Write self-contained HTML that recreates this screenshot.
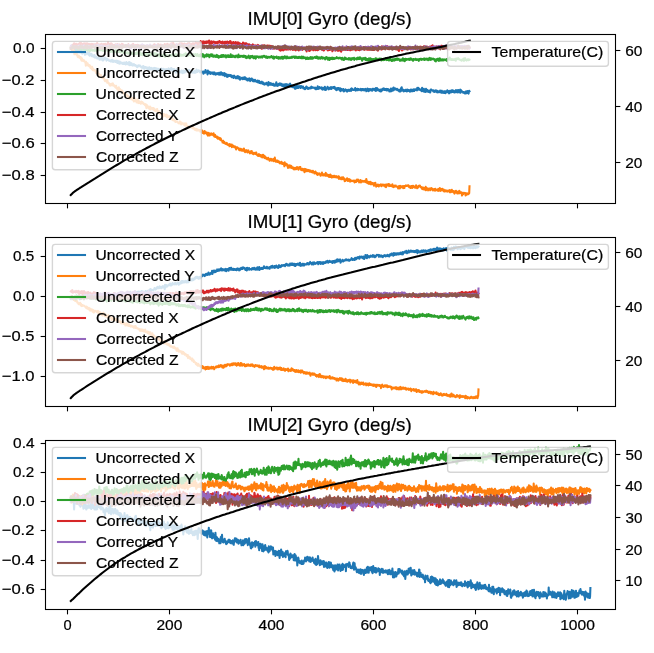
<!DOCTYPE html>
<html><head><meta charset="utf-8"><title>IMU Gyro</title>
<style>
html,body{margin:0;padding:0;background:#fff;}
body{width:654px;height:653px;overflow:hidden;}
svg{display:block;will-change:transform;}
text{font-family:"Liberation Sans",sans-serif;fill:#000;stroke:#000;stroke-width:0.22px;}
.t{font-size:14.72px;}
.h{font-size:17.66px;}
.ln{fill:none;stroke-width:2.08;stroke-linejoin:round;stroke-linecap:square;}
.fr{fill:none;stroke:#000;stroke-width:1.1;stroke-linecap:square;}
.tk{stroke:#000;stroke-width:1.1;}
.lg{fill:#fff;fill-opacity:0.8;stroke:#ccc;stroke-opacity:0.8;stroke-width:1.39;}
</style></head><body>
<svg width="654" height="653" viewBox="0 0 654 653">
<rect x="0" y="0" width="654" height="653" fill="#fff"/>
<g>
<clipPath id="c0"><rect x="45.5" y="34.5" width="570.0" height="169.0"/></clipPath>
<text class="h" x="247.47" y="24.50" textLength="164.25" lengthAdjust="spacingAndGlyphs">IMU[0] Gyro (deg/s)</text>
<g clip-path="url(#c0)">
<path class="ln" stroke="#1f77b4" d="M70.8 48.7l.3-1.2 .3 .7 .3 .3 .3-.8 .3 1 .3 0 .3-1.2 .3 2 .3-.4 .3-.5 .3 .6 .3 .7 .3-.4 .3 .4 .3-.6 .3 1.6 .3-.2 .3 0 .3-1 .3 2.3 .3-1.2 .3-.4 .3 2 .3-1.3 .3-.8 .3 .8 .3-1.4 .3 2.5 .3-1.2 .3-.1 .3 1.6 .3-1.9 .3 1.4 .3-2 .3 1.4 .3-.4 .3 2.3 .3 .4 .3-1.5 .3 .9 .3-.6 .3 .5 .3-.9 .3-.6 .3 0 .3 1.7 .3 1.5 .3-1.6 .3-.5 .3 1.9 .3-1.5 .3 0 .3 .2 .3-.2 .3-.4 .3-.5 .3 1.7 .3-.1 .3 1.1 .3-1.2 .3-1 .3 1.3 .3 1.9 .3-1.6 .3-.1 .3-.4 .3 0 .3 .6 .3-.4 .3 2.2 .3-1.1 .3 0 .3 1.4 .3 0 .3-.9 .3 .8 .3 .6 .3-.5 .3-1.3 .3 2.4 .3 .2 .3-.1 .3-1.1 .3 .6 .3-.5 .3 .2 .3 1.3 .3 .3 .3-.4 .3 .1 .3 .2 .3-.5 .3 .4 .3-.6 .3 .8 .3 1.4 .3-1.2 .3-.8 .3-.1 .3 .3 .3 1.5 .3-.3 .3-1.5 .3 1.4 .3-.4 .3 1.7 .3-.9 .3 .9 .3-1.7 .3-.4 .3 .3 .3 .7 .3-.2 .3-1.5 .3 1.2 .3 .2 .3-.2 .3-.2 .3 2 .3-1.5 .3-.3 .3 1.1 .3-.4 .3-.1 .3 .6 .3 .1 .3 .1 .3 .7 .3-.1 .3-.3 .3 .4 .3 0 .3 .5 .3-.5 .3-.7 .3 1.3 .3-1.2 .3-.4 .3 1.8 .3-.6 .3 .9 .3-1.1 .3-.3 .3 .1 .3 .6 .3 .2 .3-.3 .3 .7 .3-.9 .3 .9 .3-1.4 .3 1.2 .3 .4 .3 .5 .3 .4 .3-2.3 .3 1.8 .3 .4 .3 .2 .3-1.5 .3 1 .3 1.2 .3-2.3 .3 1.5 .3 .4 .3-1.2 .3 1.1 .3-.7 .3 .1 .3 .1 .3 .7 .3-.4 .3 .9 .3-1.2 .3 .4 .3 .8 .3-.4 .3-1.1 .3 1.4 .3-.6 .3 .5 .3 .1 .3 .6 .3-1.2 .3-1.3 .3 .6 .3 1.2 .3-.6 .3 1.1 .3-.8 .3-.7 .3 1.2 .3-1.2 .3-.6 .3 2.9 .3-2.8 .3 2.3 .3 .3 .3-.6 .3-1.4 .3 2.2 .3-1.8 .3 .3 .3 .6 .3 1.1 .3-.3 .3 .6 .3-1 .3 .1 .3-.7 .3 .5 .3 .7 .3-.4 .3 .9 .3-.7 .3 0 .3 .5 .3 0 .3 .9 .3-.3 .3 1.2 .3-1.6 .3 .1 .3-.3 .3 .3 .3 .6 .3-1.1 .3 .2 .3 .8 .3-.6 .3-.1 .3 .9 .3-.1 .3 .3 .3 .6 .3 .3 .3-.9 .3 .1 .3 .8 .3-.6 .3-1 .3 2.4 .3-.9 .3 .8 .3-1.6 .3 2 .3-1.3 .3 .4 .3-.8 .3 .6 .3-.2 .3-.1 .3 .6 .3 .4 .3 .8 .3-1.1 .3-.4 .3 .9 .3 .7 .3 .2 .3-.1 .3-1.9 .3 1.8 .3 .4 .3-1.3 .3-.3 .3 .3 .3-.4 .3 .9 .3-.4 .3 1.2 .3-.6 .3-.8 .3 .9 .3 .3 .3-.5 .3 .3 .3-1.3 .3 2.5 .3-1.3 .3-1.1 .3 .2 .3 1.4 .3 .5 .3-1 .3 .3 .3-1 .3 .3 .3 1.9 .3-.5 .3-.4 .3 .8 .3-1.7 .3 .3 .3 .8 .3 .7 .3-1.3 .3 1.3 .3-1.6 .3 1.1 .3-.4 .3-1.1 .3 1.6 .3 .2 .3-.6 .3-.1 .3 1 .3-1.9 .3 .1 .3 .5 .3-.2 .3 2 .3-1 .3-.7 .3 .1 .3 2.4 .3-2.8 .3-.1 .3 .9 .3 .2 .3 0 .3-.8 .3-.3 .3 1.2 .3-.3 .3-1.6 .3 1.8 .3-.4 .3-.5 .3 .1 .3 .4 .3-.6 .3-.9 .3 1.3 .3-1.5 .3 1.6 .3-1.3 .3 1.1 .3 .1 .3 1.6 .3-2 .3-.2 .3 .6 .3-.6 .3 .6 .3 1.1 .3 .5 .3 .7 .3-1.7 .3 2.5 .3-.3 .3-1.8 .3-1.4 .3 2 .3 .3 .3-1.5 .3 1.7 .3-.3 .3-.5 .3 1.2 .3 .3 .3-.9 .3 .4 .3-.4 .3 .1 .3 .4 .3 .5 .3-.9 .3-1 .3 2 .3-1.6 .3 1.4 .3 .7 .3-1.6 .3-.8 .3-.2 .3 2.2 .3-.9 .3 .3 .3 .3 .3-.8 .3-.2 .3-.5 .3-1.5 .3 .9 .3 1 .3-.5 .3 1 .3-.6 .3 .1 .3 .4 .3-1.3 .3 .4 .3-.8 .3 2.1 .3-.6 .3 .3 .3 .8 .3 0 .3-.9 .3 .8 .3-2 .3 1.5 .3-.1 .3-1 .3 1.7 .3-1.4 .3 1 .3-.7 .3 1 .3 .3 .3-1.4 .3-.5 .3 1 .3 .8 .3-1 .3-.1 .3 .7 .3-2.8 .3 1.9 .3-.8 .3 1.3 .3-1 .3-.3 .3 .5 .3-.8 .3 1 .3-.7 .3 .4 .3 .1 .3 1.3 .3-.7 .3 .4 .3 0 .3-.9 .3 1 .3 .1 .3 0 .3-.5 .3 0 .3 .8 .3 1.2 .3-2.2 .3 1.2 .3-.9 .3 .8 .3-.2 .3 .2 .3-2.7 .3 1.8 .3-.2 .3 .5 .3-.2 .3 .1 .3 1.3 .3 1.1 .3-3.8 .3 2 .3 .4 .3-.2 .3-.3 .3-.7 .3 .4 .3 1.4 .3 .4 .3-.9 .3-.9 .3 .6 .3-.1 .3 .8 .3 .1 .3-.8 .3 .7 .3-1.1 .3 1.5 .3 .3 .3-1.7 .3 1.2 .3-1.2 .3 1.7 .3 .1 .3-.5 .3 .9 .3-1.3 .3-.1 .3-.1 .3 .6 .3-.3 .3 .4 .3-.7 .3 1 .3 .3 .3-.8 .3-.8 .3 1.7 .3 0 .3-1.1 .3-1 .3 1.2 .3 1.1 .3-2.4 .3 1.6 .3-.4 .3-.6 .3 1.5 .3-1.3 .3 1.3 .3 .8 .3-.8 .3-.7 .3-.8 .3 .6 .3-.3 .3 2.8 .3-1.4 .3-.4 .3-.3 .3 .9 .3 .4 .3-.8 .3 2.5 .3-1.6 .3-.2 .3 .6 .3 .6 .3-.2 .3-1.5 .3 .6 .3 .2 .3 .5 .3-.2 .3-.8 .3 0 .3 1.4 .3-1 .3 1.8 .3-.8 .3-.5 .3 .5 .3 .2 .3 .6 .3 .8 .3-2.1 .3-.4 .3 1.6 .3-.2 .3 0 .3 .7 .3 0 .3 .6 .3-1.6 .3 .7 .3-.5 .3 0 .3 1.5 .3-.1 .3-2.2 .3 .8 .3 1.2 .3 .6 .3-1.2 .3 .4 .3-.9 .3 2.8 .3-1.4 .3 .1 .3 .1 .3 .1 .3-.1 .3-.7 .3 .9 .3-.5 .3 1.1 .3-1.6 .3-.1 .3 .9 .3 .5 .3-1 .3-.7 .3 .3 .3-.2 .3 1.9 .3-.7 .3 .9 .3-.6 .3-.5 .3 1.5 .3 .4 .3-.8 .3-.2 .3 1.1 .3-1.6 .3 .9 .3-1.1 .3-.2 .3 1.5 .3-.2 .3 1.4 .3-1.6 .3 .2 .3-.6 .3-.6 .3 .1 .3 1.5 .3-1.2 .3 1.9 .3 .4 .3-1.4 .3 1.4 .3-.5 .3 .6 .3-1.1 .3 1.1 .3-1.5 .3 1.2 .3-.5 .3 .5 .3 .6 .3 0 .3-.2 .3 .6 .3 .2 .3-1.7 .3 1.7 .3 .2 .3-1.2 .3 1 .3-1.3 .3 2 .3-1.2 .3 .4 .3 1 .3-.7 .3 .9 .3-1.2 .3 .3 .3-.7 .3 1 .3 1.1 .3-.2 .3 .2 .3-1.2 .3 .4 .3 .8 .3 .8 .3-.2 .3-.5 .3 .3 .3-.7 .3-.1 .3 .9 .3-1.6 .3 .6 .3 1.2 .3-.9 .3 .5 .3-.7 .3 2.1 .3-3.4 .3 .9 .3-.1 .3 1.9 .3-.9 .3-.4 .3-.4 .3 1.7 .3-.1 .3-.6 .3-.6 .3 .3 .3 1.1 .3 0 .3 0 .3-.2 .3-1 .3 1.7 .3-.5 .3 .8 .3 0 .3-1.1 .3-.3 .3 1.3 .3-.8 .3-.7 .3-1.9 .3 2.4 .3 .9 .3 .4 .3-1.2 .3-.3 .3 .3 .3 .8 .3-1.6 .3 .5 .3-.3 .3 .7 .3-1.5 .3 1.5 .3-.5 .3 .3 .3 .7 .3 .3 .3-1.9 .3 2.1 .3-.5 .3-.3 .3 1.3 .3-.7 .3 .6 .3-1.6 .3-.3 .3 1.5 .3 1 .3-1.4 .3 .3 .3-1.1 .3-.5 .3 .9 .3 1.3 .3-2.1 .3 1.1 .3-.8 .3 1.3 .3 .6 .3-1.5 .3 .6 .3 1.3 .3-1.2 .3-1.3 .3-.1 .3-.6 .3 2.1 .3-.9 .3 1.8 .3 0 .3-.9 .3 .2 .3 1.2 .3-.4 .3 .1 .3-1.5 .3 2 .3-1 .3-.9 .3 1.5 .3 .6 .3 1.3 .3-1.8 .3-.7 .3 2.4 .3-1.8 .3-.7 .3-.7 .3 .5 .3 2 .3-1.6 .3-.1 .3 0 .3 1.6 .3-1.6 .3 .7 .3-.4 .3 .2 .3-.8 .3 1.4 .3 .6 .3-1 .3-.7 .3-.2 .3 1.4 .3-.4 .3 .2 .3 .2 .3-1 .3 1.8 .3-.1 .3-.2 .3 .1 .3 1 .3-.7 .3-.6 .3 1.3 .3-1.6 .3-.4 .3-.6 .3 1.3 .3-.8 .3 .5 .3 .9 .3-.1 .3 .7 .3-.5 .3-.6 .3-.1 .3 .1 .3 .6 .3-.5 .3-.3 .3 .6 .3-.4 .3-.5 .3-.7 .3 1.4 .3-.4 .3-.1 .3-.3 .3-.1 .3 .5 .3 .1 .3-.1 .3 .2 .3-.1 .3 .7 .3-.2 .3-.7 .3 1.1 .3 .6 .3-.1 .3-.9 .3-.1 .3-.5 .3 1.3 .3-2.6 .3 1.6 .3 .1 .3 .8 .3-.5 .3-.9 .3-.5 .3 .7 .3 .5 .3 .1 .3-.2 .3-.2 .3 .4 .3 .5 .3-1.4 .3 .8 .3 1.4 .3-.8 .3-.5 .3 .8 .3-1.4 .3 .5 .3 1.3 .3 .2 .3-2.8 .3 2.1 .3 1 .3-1.7 .3 .6 .3 .7 .3-1.6 .3 .6 .3-.2 .3-1.6 .3 1.5 .3-.5 .3 .8 .3 .7 .3-1.1 .3-.4 .3 .8 .3-.3 .3 .6 .3-1.5 .3 .4 .3-.7 .3 1.8 .3-.8 .3-.4 .3-.1 .3-.1 .3-.4 .3 .5 .3-.5 .3 1.2 .3-.7 .3-.7 .3 .3 .3 1.7 .3-.2 .3 .1 .3 .3 .3 1.1 .3-1.8 .3 .5 .3-.9 .3 1.8 .3-1.1 .3-.2 .3-.5 .3 1 .3-.3 .3-.3 .3 1.7 .3-1.7 .3-.1 .3 2.8 .3-2.1 .3-.1 .3 .1 .3 .7 .3 .8 .3-.2 .3-.1 .3-.4 .3-.8 .3 1.4 .3 1.1 .3-.2 .3-1.4 .3 1 .3-.8 .3 .3 .3-1 .3 .7 .3 .4 .3-.5 .3 .8 .3 .8 .3-.2 .3-1.1 .3-.4 .3 0 .3-.1 .3 .7 .3 .4 .3-.4 .3-.2 .3-.2 .3-.5 .3-.6 .3 1.9 .3-.8 .3-1.7 .3 .2 .3 .2 .3 .4 .3 .7 .3-.3 .3 0 .3 .4 .3 .1 .3-.6 .3-.1 .3-.2 .3-1.1 .3 1 .3 1.5 .3-1.4 .3-.2 .3 1.3 .3-.8 .3-.7 .3 1.5 .3-.5 .3 .3 .3-1.1 .3 .7 .3-.2 .3-.1 .3 .4 .3 .3 .3-.4 .3 .3 .3-1.1 .3 1.5 .3 0 .3-.8 .3-.4 .3 .6 .3-.6 .3 1 .3-.3 .3-.7 .3 .7 .3 .4 .3-.2 .3-.1 .3-1 .3-.1 .3 .2 .3 .7 .3 1.4 .3-.8 .3 .3 .3 .1 .3-2.3 .3 .9 .3 .2 .3 1.5 .3 .1 .3-2.1 .3 .5 .3 .6 .3-.9 .3-.1 .3-.2 .3 1.3 .3-1 .3 1.2 .3-.8 .3 .5 .3 .5 .3-1.9 .3 0 .3 1 .3-.9 .3 .5 .3 .4 .3 .3 .3-1.2 .3 .7 .3 .7 .3 .6 .3-2.8 .3 2.7 .3-.3 .3-1.7 .3-.6 .3 1.4 .3-.5 .3 .6 .3 .8 .3-1 .3 .5 .3-.1 .3 .4 .3 .8 .3-.2 .3-1.1 .3-.3 .3 2 .3-1 .3-.4 .3-.9 .3 1.2 .3-1.3 .3 .1 .3-.7 .3 .5 .3 .6 .3-1.2 .3 .9 .3 .7 .3-1 .3 .1 .3 .4 .3-.5 .3 1.3 .3-1.4 .3 1.4 .3 .3 .3-1.5 .3 .9 .3-.3 .3-.6 .3 .6 .3 .3 .3 .9 .3 .5 .3-1.7 .3 .5 .3 .5 .3 .6 .3-2.8 .3 2.5 .3-1.2 .3 1.3 .3-1.9 .3-.5 .3 .8 .3 .9 .3-.8 .3-2.1 .3 2.6 .3-1.5 .3 .6 .3-.4 .3-.4 .3 .7 .3 .1 .3 .2 .3 .3 .3-.1 .3-.9 .3 .9 .3 .6 .3-.3 .3-.4 .3 .7 .3 .3 .3 .6 .3 .2 .3-1.6 .3 .1 .3 1.3 .3 .3 .3-.2 .3-3.1 .3 1.5 .3-2.4 .3 3.2 .3-.9 .3 .2 .3 .1 .3 1.1 .3-1 .3 1.5 .3-.4 .3-.1 .3 .1 .3-.2 .3-1 .3 1.2 .3 .1 .3-.8 .3 .8 .3 .2 .3-1.7 .3 .9 .3-.3 .3-.4 .3 1.1 .3-.9 .3 .3 .3 .1 .3 .2 .3-.3 .3 1.4 .3-1.8 .3 .9 .3-1.2 .3 1 .3 .6 .3-.1 .3-1.3 .3 0 .3 1.4 .3-.8 .3 .5 .3-1.5 .3 1.6 .3-.1 .3-.8 .3-.9 .3 .5 .3 .1 .3 .2 .3-.6 .3-.3 .3 .2 .3 1.1 .3-2.6 .3 .4 .3 0 .3 .6 .3-.9 .3 1.7 .3-.2 .3 .3 .3-.5 .3 .7 .3 0 .3 .1 .3-.5 .3 1.2 .3-1.4 .3 1.9 .3-3.4 .3 2 .3-.5 .3 1.4 .3-1.6 .3 2.3 .3-2.6 .3 2.8 .3-1.2 .3-.1 .3 .1 .3 1.5 .3-1.1 .3-2 .3 2.7 .3-.6 .3-1.1 .3 1.8 .3-1.6 .3 1.3 .3 .1 .3-.5 .3 1 .3-1.1 .3 .8 .3-.9 .3 0 .3 1.8 .3-1.8 .3-1.2 .3 .5 .3-.4 .3 .7 .3 0 .3 .1 .3 .1 .3-.2 .3 .9 .3 .4 .3-1.2 .3 .4 .3 .2 .3 .9 .3-.1 .3-1.2 .3 .6 .3-1 .3 .4 .3 .7 .3 .6 .3 .4 .3-.7 .3-.7 .3 1.2 .3-.4 .3 .4 .3-.5 .3 .2 .3 .2 .3 .2 .3-1.6 .3 1.1 .3-1 .3 .2 .3 1.8 .3-.9 .3-1 .3 1.9 .3-.3 .3 .3 .3-.7 .3 0 .3-.4 .3-.3 .3 1.7 .3-1.6 .3-.1 .3 0 .3 1.8 .3-.7 .3-1.2 .3 .4 .3 .6 .3 0 .3-1.9 .3 1.8 .3-.9 .3-.2 .3 .3 .3 1.3 .3 .7 .3-1.4 .3 .3 .3-1.4 .3 1.3 .3 .3 .3-1.7 .3 .8 .3 .8 .3-1.9 .3 .9 .3 .7 .3-1.7 .3 .8 .3 .7 .3 .4 .3-1.5 .3 1.7 .3-.8 .3 .8 .3 0 .3-.6 .3 .1 .3-1.8 .3 .4 .3 .2 .3 .6 .3 1.1 .3-2.2 .3 1 .3-.8 .3-.3 .3 2 .3-1 .3 1.2 .3-.3 .3-1.8 .3-.5 .3 3.1 .3-1.8 .3-.7 .3 1.3 .3 0 .3-.3 .3 .4 .3 .2 .3 .2 .3 .6 .3-.5 .3-.1 .3 .8 .3-.3 .3 .8 .3-1.2 .3 .3 .3-.9 .3 1.9 .3-2.1 .3 1.3 .3-1.2 .3 .9 .3 .4 .3-1.8 .3 1.5 .3-1.3 .3 2.4 .3-1.7 .3-1.1 .3 .6"/>
<path class="ln" stroke="#ff7f0e" d="M70.8 47.6l.3 1.4 .3 .5 .3 .5 .3-.5 .3 .9 .3-.4 .3 1.3 .3 .5 .3-.4 .3-1.8 .3 1.9 .3 2.8 .3-1.6 .3-.3 .3 .8 .3 1 .3-.4 .3 .2 .3-.6 .3 1.4 .3-.4 .3 1.3 .3 1.1 .3 .4 .3-1 .3 0 .3-.5 .3 1.8 .3 .1 .3 .4 .3 .2 .3-1 .3-.1 .3 2.5 .3-1.3 .3 2.4 .3-2.5 .3 1 .3 .4 .3 1 .3 .2 .3-.6 .3 1.1 .3-1.1 .3 1.1 .3-.1 .3 .6 .3 .3 .3 1 .3 2.6 .3-3.8 .3 1.1 .3 .9 .3 0 .3 1.2 .3-1.8 .3 2 .3-.9 .3 1.4 .3-.1 .3 .5 .3-.4 .3-.7 .3 .7 .3 1.8 .3-.4 .3 1.1 .3-1.6 .3 1.7 .3 .5 .3-2.2 .3 1.8 .3 1.5 .3-1.4 .3 1.7 .3-.6 .3 .8 .3-.8 .3 0 .3 .4 .3 .3 .3 .4 .3 .2 .3 1.9 .3-1.3 .3-.2 .3 .7 .3 1.1 .3-1.5 .3 2.3 .3 .6 .3 .6 .3-1.2 .3-.2 .3 1.3 .3 .2 .3 .9 .3-.5 .3-.4 .3-.4 .3 1.2 .3 .5 .3 1.2 .3-.6 .3 .7 .3 .3 .3-1.2 .3-.1 .3 .8 .3 .7 .3-.2 .3 1.7 .3 .6 .3 .7 .3-.5 .3-.6 .3 1 .3-1.1 .3 1.4 .3-.3 .3 1.5 .3-2.5 .3 2.7 .3 .1 .3-.3 .3 .3 .3 .2 .3 1 .3 .8 .3-1 .3 1.8 .3-1.4 .3 .9 .3 0 .3-1.5 .3 1.5 .3-1.1 .3 1.3 .3-1.5 .3-.5 .3 .8 .3 1.1 .3 .4 .3 .2 .3-.5 .3 1.2 .3-.7 .3 .5 .3 1 .3-.8 .3-.8 .3 2.4 .3-.2 .3-.2 .3 1.5 .3-1.4 .3 .9 .3-.2 .3 2 .3-3.3 .3 1.6 .3 .5 .3 .8 .3-1.2 .3 .5 .3 1.5 .3-1 .3 .6 .3 .1 .3 .7 .3-.9 .3 .9 .3 .5 .3 .6 .3 1 .3-.3 .3 .3 .3-.4 .3 1.3 .3-.8 .3 .8 .3-.7 .3 .6 .3 1.8 .3-.6 .3-.9 .3 1.5 .3-.3 .3-.3 .3 1.1 .3-.2 .3 .5 .3 .8 .3-.9 .3 1.7 .3-1.1 .3-.2 .3 1.4 .3-.6 .3 0 .3 .6 .3 .5 .3-1.1 .3 1.4 .3-.6 .3-.8 .3 .5 .3 1.5 .3-1.4 .3 2.9 .3-2.4 .3 1.1 .3-2.1 .3 2.3 .3-.6 .3 1.1 .3 .1 .3-.6 .3 2 .3-.7 .3-1.1 .3 .9 .3-2.2 .3 2.1 .3 1.7 .3-1.3 .3 .4 .3-1 .3 1.7 .3-.8 .3 0 .3 1.1 .3 .5 .3-.5 .3-1.7 .3 1.9 .3-.2 .3-.8 .3-.2 .3 1.1 .3 0 .3 .5 .3-.5 .3 .8 .3 .2 .3 .1 .3 .7 .3-.2 .3-.7 .3 1.3 .3 1.1 .3 1.5 .3-3.4 .3 1.6 .3-.3 .3 .9 .3-.7 .3 1 .3 .9 .3-.9 .3 .6 .3 1.3 .3-.7 .3-1.8 .3 2.9 .3-2 .3 .7 .3-.5 .3 .1 .3 .2 .3 1 .3-1 .3 0 .3 .9 .3 .5 .3-1.4 .3 1.9 .3-1.2 .3 1.2 .3 .9 .3-.3 .3 .4 .3-.7 .3 .1 .3-1.1 .3 1.4 .3-.3 .3-1.2 .3 2.4 .3 1.4 .3-.6 .3 .7 .3-1.2 .3-.6 .3 1.2 .3 .1 .3-.4 .3 1.8 .3-.2 .3-.6 .3 .7 .3 .4 .3 .5 .3 .9 .3-1.7 .3 0 .3 2 .3 .7 .3-2.2 .3 .1 .3-.4 .3 .8 .3 .2 .3-.2 .3 1 .3-1.2 .3 .2 .3-.3 .3 2.2 .3 .1 .3 .4 .3-1.9 .3 1.8 .3-.6 .3 .5 .3 .1 .3-.6 .3 .5 .3-.9 .3 1.1 .3 .2 .3-1 .3 .9 .3 1.6 .3-1.2 .3-.2 .3 .3 .3 .8 .3 1.4 .3-1 .3 .4 .3-.6 .3 1.4 .3 .4 .3-.5 .3 .2 .3-.2 .3 1.1 .3 .7 .3-.6 .3 .4 .3 0 .3-.3 .3-.1 .3 .3 .3 .6 .3-.1 .3 .8 .3-.2 .3 .6 .3-.3 .3-.7 .3 .3 .3-1.3 .3 2.3 .3-1.5 .3 .5 .3 1.7 .3-1.9 .3 .5 .3 .3 .3-.1 .3 .2 .3 .3 .3 .5 .3-.6 .3 1 .3-.8 .3 1.1 .3 .5 .3-2 .3 1.2 .3 .9 .3-1.4 .3-.6 .3 2.7 .3-.6 .3 1.1 .3-.5 .3 .3 .3 0 .3 .5 .3-.7 .3 .5 .3 .8 .3-.7 .3 .3 .3-.4 .3-.2 .3-.6 .3 1.2 .3-.9 .3 1.1 .3-1.1 .3 1.7 .3 .3 .3-.5 .3-.6 .3 1.4 .3 0 .3-.4 .3 .2 .3 1.4 .3-.7 .3-.2 .3 1.2 .3-.6 .3-.6 .3 1.5 .3-.9 .3 1.1 .3-1.4 .3 .4 .3 .8 .3-.1 .3-.3 .3 0 .3 .6 .3-.4 .3 .4 .3-.4 .3 1.6 .3-1.8 .3 1.6 .3-1.2 .3 .8 .3 1.1 .3-1.7 .3 2.3 .3-1.5 .3 .4 .3 .9 .3-.8 .3 1.8 .3-.4 .3-2.3 .3 .7 .3 .3 .3 1 .3-.8 .3 .2 .3 1.3 .3-1.1 .3 1.4 .3-1.2 .3 2.4 .3 .4 .3-1.9 .3-.8 .3 .2 .3 2.1 .3-1.1 .3 1.4 .3-1.8 .3-.1 .3 .2 .3 .9 .3-1 .3-.3 .3 .9 .3 .1 .3 .4 .3-.1 .3-.1 .3 .6 .3-1.9 .3 2.2 .3 1 .3-.4 .3-.8 .3-.5 .3 2.2 .3-1.1 .3 .3 .3 .7 .3-.3 .3 .5 .3 1 .3-1.3 .3 1.8 .3-1 .3-.1 .3 .8 .3 .2 .3 .4 .3 0 .3-1 .3 1.9 .3-1.1 .3-.1 .3 1.7 .3 .2 .3 0 .3 0 .3 .5 .3 1.5 .3-1 .3-.7 .3 .9 .3 1.2 .3-.6 .3-.3 .3 1.3 .3 .1 .3-.2 .3 .7 .3-.4 .3 0 .3 .1 .3-.7 .3 1.6 .3 .2 .3-.4 .3 .6 .3-.4 .3-.2 .3 0 .3 .1 .3 1.9 .3-2.3 .3 1.1 .3 .9 .3-1 .3 .1 .3-.1 .3-.5 .3 2.6 .3-1.2 .3-.7 .3 .7 .3 .7 .3-.4 .3-.3 .3 1.2 .3-.7 .3 .5 .3 .5 .3-.9 .3 .8 .3-.3 .3 2.5 .3-2.1 .3 .9 .3-.9 .3-.1 .3 .6 .3 .1 .3 0 .3 .3 .3 .9 .3 .8 .3 .2 .3-1.5 .3 1.6 .3-.2 .3-1.3 .3 0 .3 .2 .3 1.6 .3-1.2 .3 .1 .3 1.3 .3-1.3 .3 .4 .3 .7 .3-.1 .3-1.9 .3 .9 .3 1.8 .3-1.4 .3 2.3 .3-.9 .3 .1 .3 .3 .3-1.4 .3 .9 .3-.8 .3 1 .3 1.1 .3-1.3 .3 .4 .3-1.2 .3 1.3 .3 0 .3 .3 .3 .8 .3 .6 .3-1.2 .3 .2 .3-1.2 .3 1.7 .3-.6 .3-1.2 .3 1.7 .3-.5 .3 1.5 .3-.2 .3-.3 .3 1 .3-1.4 .3 .3 .3 .1 .3 .4 .3-.9 .3 1 .3 .1 .3-.7 .3-.7 .3 2 .3 .3 .3 0 .3-.1 .3 .9 .3-.9 .3 1.3 .3-1.7 .3-.2 .3 .6 .3-.1 .3 .6 .3 1 .3-1.1 .3 .5 .3 1 .3 .1 .3-1.2 .3-.3 .3 2.2 .3-2 .3-.7 .3 0 .3 2.5 .3-1.8 .3 1.1 .3 .4 .3 1.2 .3-1.8 .3 1.1 .3 .2 .3 .8 .3-.9 .3 .7 .3-.1 .3 1 .3-.1 .3-.4 .3 .9 .3-1.7 .3 1.4 .3-.6 .3 .4 .3 1 .3 .8 .3-1.4 .3-.4 .3-.2 .3 .8 .3-.7 .3 1.1 .3 .7 .3-.6 .3-.7 .3 1.1 .3-1 .3-.4 .3 1.8 .3 .3 .3-.5 .3-1.1 .3-2 .3 2.1 .3 1.1 .3-.7 .3 1.6 .3-1.2 .3 .7 .3 .3 .3 .3 .3-1.2 .3 1.2 .3 .3 .3-.3 .3-.5 .3 .9 .3-.5 .3 1.2 .3 .4 .3-.4 .3 .3 .3-.4 .3 .4 .3-1.5 .3 1.7 .3 .4 .3-.8 .3 1 .3-1.1 .3 1 .3 .1 .3 .5 .3-.2 .3 2 .3-4 .3 1.5 .3 .6 .3 .5 .3-.5 .3 0 .3-.6 .3 .6 .3 .5 .3 1.5 .3-1.3 .3 2.8 .3-1 .3-.7 .3 .8 .3 .2 .3-1.6 .3-.3 .3 2.3 .3-1.7 .3 1.6 .3 .1 .3-1.7 .3 2 .3-.4 .3 .6 .3-.9 .3 .5 .3 .3 .3-.4 .3 1.7 .3-.5 .3 .6 .3-.8 .3 .6 .3-1.4 .3 .4 .3 1.1 .3-.7 .3-.2 .3 .5 .3-1.8 .3 1.4 .3 0 .3-.4 .3-.6 .3 2.2 .3-1 .3-1.2 .3 .4 .3-.9 .3 0 .3 .1 .3 1.2 .3 1.3 .3 .3 .3-.8 .3 1.1 .3 0 .3-1.4 .3 .6 .3 .9 .3-.1 .3 .4 .3-1.4 .3-.3 .3 3.3 .3-1.6 .3 .7 .3-1.1 .3-1.1 .3 2.1 .3-.8 .3 .7 .3-.4 .3-.8 .3 .5 .3 .7 .3-1.2 .3 .8 .3 .4 .3-1.1 .3 .8 .3 .6 .3 .3 .3-.6 .3-.6 .3 1.2 .3-.7 .3 .9 .3 .1 .3-.4 .3 .9 .3-.1 .3-1.6 .3 1.4 .3 .1 .3 0 .3-.1 .3 1.2 .3-1 .3-.3 .3-.6 .3 1.2 .3 .6 .3-.8 .3 .6 .3 .7 .3 .7 .3-1.3 .3 1.7 .3-.6 .3 .1 .3-.5 .3-.2 .3-.4 .3 .8 .3 .1 .3 .1 .3 1.1 .3 .3 .3-1.2 .3 .3 .3-1.3 .3-1 .3 1.4 .3 .2 .3 .8 .3 .6 .3-1.3 .3 .9 .3 0 .3-.8 .3 .7 .3-.3 .3 1 .3-1.9 .3-.9 .3 2.2 .3 .5 .3 0 .3-1 .3 .8 .3-.7 .3 1.3 .3-.8 .3 0 .3 1.6 .3-1.7 .3-.1 .3 1.9 .3-.5 .3-1.9 .3 2.5 .3-1.6 .3 .5 .3-.2 .3 1.8 .3-1.4 .3 .9 .3-.5 .3 .7 .3-1.3 .3 1.1 .3-.6 .3-.6 .3 .7 .3 .7 .3-.2 .3-.5 .3 .7 .3-1.1 .3 1.1 .3 .2 .3-.4 .3-.3 .3 .2 .3-.3 .3 .6 .3 1.1 .3-2 .3 2.6 .3-.6 .3-.1 .3-.8 .3 .7 .3-.3 .3 1.3 .3 0 .3 .2 .3-.3 .3-1.7 .3 .8 .3 .3 .3 .8 .3-1.8 .3 1.1 .3-.1 .3-.1 .3 .7 .3 2.1 .3-1.9 .3 1.8 .3-.9 .3-.6 .3 .8 .3-.4 .3 0 .3-1.6 .3 1.9 .3-.7 .3 1.5 .3-.7 .3-.6 .3-.7 .3 .8 .3-.2 .3-.1 .3 2.2 .3-1.8 .3 .9 .3 .4 .3-.5 .3 .1 .3-.1 .3 .3 .3-.1 .3 0 .3 .2 .3-.2 .3-.2 .3-.1 .3 .8 .3 1 .3-1.6 .3 .3 .3-.5 .3 .4 .3 1 .3-1.1 .3 .5 .3-1.8 .3 1.3 .3 .1 .3-.6 .3-.8 .3 1.5 .3-.1 .3 1.4 .3-1.7 .3 .4 .3-.4 .3 .7 .3-1.3 .3 2.3 .3-.3 .3-.7 .3-.2 .3 .5 .3-.1 .3-.7 .3 .3 .3 .4 .3-.5 .3 .2 .3 .1 .3 .2 .3-.7 .3 .2 .3 .7 .3 .4 .3-.8 .3-2.4 .3 1.6 .3 1.4 .3 1.1 .3-.2 .3-1.2 .3 .1 .3 .2 .3 1.8 .3-.9 .3-.8 .3 1.4 .3 .3 .3-2 .3 1.1 .3 1.4 .3-.2 .3-1.6 .3 1 .3 .7 .3-.1 .3-1 .3 .9 .3 .4 .3-.1 .3-1.1 .3 2.6 .3-1.5 .3-1.2 .3 1 .3-1.4 .3 1.5 .3 .3 .3 2.1 .3-1.4 .3 .1 .3 .5 .3-.8 .3-.5 .3 1.4 .3-.3 .3 .8 .3 0 .3-1.5 .3 .2 .3-.1 .3-.2 .3 .5 .3-.2 .3-.7 .3 1.7 .3 .1 .3-.9 .3-.7 .3 .4 .3-.1 .3-.4 .3 .2 .3 1 .3-.1 .3 .1 .3-1 .3 1 .3 1 .3-1.5 .3-.6 .3 2.5 .3-1.9 .3-.6 .3 .9 .3-1.1 .3 .2 .3 .9 .3-.9 .3-.6 .3 1.5 .3 .6 .3-1.8 .3 .6 .3 .8 .3-.2 .3 .5 .3-.6 .3-.1 .3 .1 .3 .3 .3 .7 .3-2 .3 .7 .3 1.4 .3 .6 .3-.8 .3 .6 .3-.7 .3-.6 .3 1 .3-.3 .3-.3 .3-.5 .3 1 .3-.1 .3 0 .3 .2 .3 0 .3 .3 .3 .1 .3 1.4 .3-.1 .3-1.1 .3-1.1 .3 1.4 .3-.7 .3 1.6 .3-2.5 .3 .1 .3 1.5 .3-.6 .3 .3 .3-.2 .3-.8 .3 1.1 .3-1.1 .3 .1 .3 1.9 .3-1.8 .3 .6 .3-.9 .3 1.9 .3-1.8 .3-.1 .3 0 .3-.3 .3-.4 .3 .6 .3-.1 .3 0 .3-.4 .3 0 .3 .3 .3 .3 .3-.9 .3 .8 .3-.1 .3 1.3 .3-.1 .3-.2 .3 .6 .3-1.1 .3 1.6 .3-1.4 .3-.5 .3 .6 .3-.7 .3 1.9 .3-1 .3-1.2 .3 0 .3 .4 .3 .2 .3 .7 .3 .4 .3 .1 .3-.2 .3-1 .3 1.5 .3-.1 .3-2.3 .3 1.1 .3 .5 .3-.4 .3 1.7 .3-.5 .3 0 .3-1.3 .3-.6 .3 .5 .3-.2 .3 0 .3-.7 .3 .3 .3 .9 .3 .5 .3-.2 .3 .1 .3 .6 .3 .4 .3 .7 .3-1.3 .3 .7 .3-.8 .3 1.9 .3 0 .3 .2 .3-.7 .3-.3 .3-.8 .3 1.3 .3 .8 .3-3 .3 3.5 .3-1.9 .3 .8 .3-1.1 .3 .4 .3 .7 .3-.5 .3 1.7 .3-1.4 .3 .5 .3-1 .3 .2 .3-.2 .3 .9 .3 .9 .3-1.1 .3-1 .3 .3 .3-.4 .3 1.4 .3-.2 .3-.7 .3 .8 .3 1.1 .3-.5 .3-.6 .3 .7 .3-.3 .3-.7 .3 .5 .3 1.2 .3-2 .3 1.5 .3-.9 .3 .3 .3 .4 .3-.1 .3-.3 .3 .2 .3 .8 .3-.3 .3-1.5 .3 1.4 .3 .5 .3-.5 .3-.8 .3-1.4 .3 1.8 .3 .4 .3 .5 .3-1.7 .3 .8 .3-.5 .3 .4 .3-1.1 .3 .8 .3 .1 .3 .2 .3 1.3 .3-1.5 .3 .5 .3 1.3 .3-1.1 .3 1.2 .3-.5 .3-.6 .3-.1 .3 .8 .3-.1 .3 0 .3-.4 .3 1 .3-.9 .3 .1 .3 .5 .3-.8 .3 .7 .3 .1 .3-1 .3-.2 .3 2.2 .3-1.3 .3-.2 .3-.4 .3 1.7 .3-1.4 .3-.9 .3 1.7 .3-.8 .3 1.1 .3-.8 .3 1.2 .3-.2 .3-.6 .3 1.4 .3 .8 .3-2.3 .3 1.1 .3-.8 .3 .2 .3-1 .3 .2 .3 1.8 .3-1 .3-.1 .3 1.8 .3-.4 .3-.4 .3-1.2 .3 1 .3 1 .3-2.7 .3 .5 .3 .6 .3 1.1 .3-.5 .3 .1 .3-.2 .3 0 .3 1 .3 2.1 .3-2.2 .3 .8 .3-1.3 .3 1.5 .3-1.2 .3 0 .3-.3 .3 .2 .3 .3 .3-.2 .3-.1 .3 2.4 .3-1 .3 .4 .3-.3 .3-1.1 .3 1 .3-1 .3 .2 .3 .6 .3 0 .3-.2 .3-.5 .3-.4 .3-6.8"/>
<path class="ln" stroke="#2ca02c" d="M70.8 47.5l.3-.3 .3 .5 .3 .2 .3 0 .3-.2 .3 .1 .3-2 .3 1.2 .3 0 .3-.6 .3 .8 .3-.1 .3-.4 .3-.1 .3 1.2 .3 .2 .3 .3 .3-.3 .3-.4 .3-.8 .3 .6 .3 .2 .3 1.6 .3-1.4 .3-.2 .3 .3 .3 1 .3-.9 .3 .8 .3-.6 .3 .9 .3-1.5 .3 .5 .3 .9 .3-.4 .3-.6 .3 1.4 .3-1.8 .3 .5 .3 1.4 .3 .3 .3-.9 .3-.9 .3 .2 .3 .2 .3 .7 .3 .8 .3-.2 .3 .2 .3-.8 .3 .7 .3 .2 .3 .1 .3-.5 .3-.4 .3 1.1 .3 .2 .3-1 .3 .4 .3 .4 .3 .2 .3 .5 .3-.8 .3 .8 .3-1.5 .3-.5 .3 .9 .3 .5 .3-1.1 .3 .7 .3 .1 .3-.2 .3 .3 .3 .5 .3-1 .3 0 .3 .6 .3 .3 .3-.7 .3 1 .3-.5 .3-.7 .3 .1 .3-.3 .3 1 .3-.4 .3 1.2 .3-2.8 .3 .8 .3 .2 .3 .4 .3-.5 .3 0 .3 .6 .3-.5 .3 .3 .3 .5 .3 0 .3-1.5 .3 .6 .3 .7 .3-.4 .3-.3 .3 .9 .3-.2 .3 .3 .3 .4 .3-.9 .3 .8 .3-.4 .3 .1 .3 .6 .3-1.7 .3-.1 .3 .2 .3 1.3 .3-.5 .3-.5 .3-.2 .3-.4 .3 1.1 .3-.1 .3 .3 .3 .4 .3-.3 .3 .6 .3-1 .3 1.1 .3-.5 .3-.5 .3 .5 .3 1.2 .3-2 .3 .6 .3-.1 .3 .2 .3 .1 .3 1.2 .3-1.1 .3 .6 .3-.5 .3-.4 .3 .6 .3 0 .3 .4 .3 .2 .3-1.1 .3 1.1 .3-1.1 .3 1.5 .3-2 .3 .6 .3 .5 .3-.4 .3-.4 .3 1 .3-.8 .3 1.3 .3-1.5 .3 1.4 .3 .1 .3-.1 .3 .3 .3-.7 .3 .3 .3 .6 .3-1.2 .3 .7 .3-.1 .3 .2 .3 .1 .3-1.4 .3 1.5 .3 .3 .3 .5 .3-.3 .3-1.1 .3 0 .3-.4 .3 .4 .3 0 .3 1.1 .3-.2 .3 .3 .3-.2 .3 .2 .3 .5 .3-.8 .3 .8 .3 .3 .3-.7 .3 .2 .3-.5 .3 1.4 .3-.7 .3 .3 .3-.7 .3-.3 .3 .5 .3 1 .3 .2 .3-.4 .3-.5 .3 .1 .3 .6 .3-1.4 .3 1.3 .3-.9 .3 .6 .3 .3 .3-.2 .3-.1 .3 .7 .3-1 .3 .1 .3-.3 .3 .7 .3 .3 .3-.6 .3-1.2 .3 1.2 .3 .1 .3-.8 .3 .5 .3 0 .3-.3 .3 .5 .3-.1 .3-.8 .3-.7 .3 1.1 .3 1.6 .3 0 .3-.9 .3-.3 .3 1.6 .3-.6 .3 .3 .3 .4 .3-.9 .3-.2 .3-.3 .3 .6 .3-.7 .3 1.2 .3-.9 .3 1.1 .3-1.1 .3 .9 .3-.7 .3 .9 .3-1.1 .3 1.2 .3-.4 .3-1.5 .3 .4 .3 1 .3-.1 .3 1.3 .3-1.7 .3 .4 .3-.1 .3 0 .3 .9 .3-1 .3-.8 .3 1.7 .3-.5 .3-1.2 .3 .3 .3 .2 .3 .2 .3 .4 .3-.7 .3-.3 .3-.2 .3 .6 .3 .2 .3 .4 .3-1.5 .3 1 .3 .8 .3 .7 .3-.3 .3-1.8 .3 .2 .3 1.5 .3-.4 .3 .1 .3 1.1 .3-1.7 .3 1.5 .3-.5 .3-.4 .3-.8 .3 .5 .3 1.8 .3-1.1 .3 .4 .3-.2 .3-.4 .3 .6 .3-.3 .3-.1 .3 0 .3-.2 .3 .6 .3-.4 .3 .6 .3-.6 .3-.5 .3-.6 .3 1.8 .3 1 .3-1.5 .3-1.3 .3 1.7 .3-.9 .3 1 .3-.4 .3 .2 .3-.2 .3-.2 .3 .8 .3-.5 .3 .7 .3-1.1 .3 .4 .3-.8 .3 1.1 .3-.9 .3-.1 .3 1.1 .3-.4 .3-.5 .3-.6 .3 .5 .3 .2 .3 .3 .3-.9 .3 .6 .3-1.4 .3 1.2 .3-.3 .3 1 .3-.9 .3 1.5 .3-1.1 .3 0 .3-1.4 .3 .7 .3 1.3 .3-1.2 .3 1 .3-1 .3 .9 .3-1 .3 .8 .3 .1 .3 0 .3-1 .3-.3 .3 1.4 .3-.3 .3 .4 .3-1.3 .3 1.3 .3-.5 .3-.4 .3 .2 .3 .7 .3-.6 .3 .2 .3-.1 .3-.5 .3 .9 .3-.5 .3-.8 .3 .1 .3 .3 .3 .1 .3 .5 .3-2.1 .3 2 .3 .4 .3-.9 .3 .8 .3-1.2 .3 .3 .3 0 .3 1.2 .3-.4 .3-.2 .3-1.3 .3 .7 .3-.7 .3 1 .3 .2 .3 .3 .3-.8 .3 .2 .3-.3 .3-.5 .3 1.7 .3-.7 .3 .7 .3-.4 .3-1.2 .3 .3 .3 .7 .3 0 .3-.1 .3-.5 .3 .4 .3-.9 .3 .6 .3-.3 .3 1.4 .3-.2 .3 .4 .3-.5 .3-1.4 .3 1 .3 .6 .3 0 .3 .5 .3 .1 .3-1 .3 .7 .3-1.2 .3 1.5 .3-1.9 .3 1.6 .3-1.7 .3 1.6 .3 .7 .3-1 .3 .6 .3 .2 .3-2.3 .3 .8 .3 1.1 .3-.7 .3 .2 .3 1.9 .3-.6 .3-.7 .3-.7 .3 .6 .3-.1 .3-.4 .3 1 .3-2.2 .3 2.1 .3-1.3 .3 1 .3-.9 .3-.4 .3 .2 .3 .6 .3 .1 .3 1.7 .3-1 .3-.9 .3-.9 .3 .8 .3 .3 .3-1.4 .3 1.2 .3 .7 .3-1 .3-.6 .3 1.5 .3 .6 .3-.9 .3 .3 .3 .7 .3-.5 .3-.7 .3 .1 .3 .5 .3 0 .3 .7 .3-1.3 .3 1 .3-.4 .3-1.2 .3 2.1 .3-.4 .3-.9 .3 .1 .3 1.6 .3 .3 .3-1.1 .3-.2 .3 .6 .3-.9 .3-.2 .3 1 .3-1.4 .3 1.4 .3-.6 .3 .7 .3-1.9 .3 1.7 .3-.9 .3 .4 .3-1.1 .3-.1 .3 1.5 .3-.3 .3 .2 .3 .2 .3-.1 .3-1.3 .3 .6 .3 .1 .3 1.5 .3-.4 .3-1.3 .3-.5 .3 1.3 .3-.2 .3 .4 .3-1.6 .3 1.7 .3-.7 .3 .6 .3-.6 .3-.4 .3-.2 .3 1.4 .3-2.7 .3 2.6 .3-.1 .3-.9 .3 1 .3-.7 .3-.8 .3 .7 .3 .8 .3-.5 .3-.6 .3 .8 .3 0 .3 .3 .3-.4 .3 .8 .3-1.3 .3 .2 .3-.7 .3 .8 .3 .1 .3 0 .3-.6 .3 1.5 .3-1.7 .3 .3 .3-1.3 .3 2.5 .3-.1 .3-.4 .3 .3 .3-.9 .3 .1 .3-.2 .3 .7 .3-.4 .3 .3 .3-.8 .3 0 .3 1.1 .3-.1 .3 .2 .3-.7 .3 .7 .3-1.3 .3 .2 .3 1 .3-.6 .3-.1 .3 .1 .3 1.6 .3-1.4 .3 .4 .3-.3 .3 1.6 .3-1.4 .3 .5 .3-.1 .3-.4 .3-.4 .3-.7 .3 1.5 .3 1.1 .3-.9 .3 1 .3-.8 .3-.3 .3-1.1 .3 .3 .3 .1 .3 .7 .3-1.2 .3-.2 .3 .9 .3 .1 .3 .3 .3 1 .3-1.5 .3 1.5 .3-.6 .3-.3 .3-1 .3 2.1 .3 .4 .3-.8 .3 0 .3-.8 .3-.9 .3 .9 .3-.5 .3-.1 .3 .1 .3 0 .3 .6 .3 .5 .3-.9 .3 .4 .3-.6 .3 .2 .3 .5 .3-.7 .3 .7 .3-.5 .3-.4 .3 0 .3 1.2 .3-.8 .3-.3 .3 .2 .3-.8 .3 .4 .3 0 .3-.5 .3 1 .3 .2 .3 .1 .3-.2 .3 .6 .3-1.2 .3 1.4 .3-.2 .3-.4 .3 .9 .3-1.2 .3 .8 .3-.3 .3-.5 .3 .2 .3 .5 .3 0 .3 .1 .3-.9 .3 .5 .3 0 .3-.4 .3 .4 .3-1.2 .3 .6 .3 .6 .3-.1 .3 .7 .3-.6 .3 1.3 .3-1.9 .3 2.1 .3-1.6 .3-.1 .3 .1 .3-.1 .3 .2 .3-.1 .3 .6 .3 .1 .3-1.3 .3 1.5 .3-.7 .3 .1 .3 .8 .3-.4 .3 .9 .3-1.6 .3 1.3 .3-1.1 .3 .9 .3-.7 .3 1.1 .3-.7 .3 .2 .3-1 .3-.2 .3 .9 .3 .7 .3-.7 .3-1 .3 2 .3-1.4 .3 1 .3-1.1 .3-.1 .3 .7 .3-1.6 .3 1 .3 .4 .3-.1 .3-.9 .3 1.7 .3-.5 .3 0 .3-1.3 .3 .8 .3 .5 .3 .2 .3-.2 .3-.4 .3-.1 .3 .4 .3 .3 .3-.7 .3 0 .3 .5 .3-.4 .3 .1 .3-.1 .3-.7 .3 1.1 .3-.4 .3-.7 .3-.1 .3 .2 .3 0 .3-.3 .3 .7 .3-.2 .3-.5 .3 1.4 .3-.8 .3 .4 .3-1 .3 .2 .3 0 .3 1 .3 .2 .3-.6 .3-.1 .3 .5 .3-.8 .3 .3 .3 .7 .3-1.3 .3 .9 .3-.3 .3 .2 .3-.2 .3 .7 .3 .1 .3-.2 .3-1.4 .3 1 .3 .8 .3-1.4 .3-.1 .3 .8 .3 .5 .3-1.3 .3 1.1 .3-.4 .3 .2 .3 .4 .3-.4 .3-.1 .3 .6 .3 .9 .3-.8 .3 .1 .3-.9 .3 .4 .3-.3 .3 1.4 .3 0 .3-.6 .3 .1 .3-.6 .3-.1 .3 .9 .3-1.2 .3 .9 .3 .2 .3-1.6 .3 .2 .3 1.6 .3-.6 .3 .3 .3 .2 .3-1.5 .3 1.3 .3-.3 .3-.1 .3-.3 .3-.3 .3-.2 .3-.3 .3 .4 .3 0 .3 .5 .3-.6 .3-.6 .3 1.3 .3-1.4 .3 1.1 .3 .6 .3-1.3 .3 .3 .3 .7 .3 .7 .3-.8 .3-.1 .3 .5 .3-1.1 .3 0 .3 1.4 .3 0 .3-.3 .3-.2 .3 .1 .3-1.3 .3 .6 .3 .4 .3 .7 .3-.3 .3 0 .3-.6 .3 .5 .3 .1 .3 .3 .3-.5 .3 1.3 .3-1.9 .3 1.3 .3-1.4 .3-.3 .3 1.3 .3-.8 .3 0 .3 .6 .3 1.4 .3-1.8 .3 .3 .3 1.2 .3-1 .3 1.7 .3-2.1 .3 .5 .3 .9 .3-.7 .3 0 .3-.9 .3 .7 .3 .6 .3-.8 .3-.5 .3 1.4 .3-.4 .3 .1 .3-.5 .3-.4 .3 1.1 .3-.6 .3-.2 .3 0 .3 0 .3 .3 .3-.6 .3-.2 .3-.5 .3 .6 .3-.1 .3 .4 .3-.2 .3-.2 .3 .3 .3 .5 .3-.4 .3-.1 .3-.1 .3-.2 .3 .5 .3 .2 .3-.3 .3 .1 .3 .6 .3 .5 .3 .4 .3-1.8 .3 1.3 .3-.7 .3 .7 .3 .3 .3 .5 .3-1.4 .3 1 .3-2 .3 1.5 .3-1.3 .3 .9 .3-.2 .3-.1 .3 .7 .3-.2 .3-.1 .3 .1 .3-.1 .3 .5 .3-.5 .3-.4 .3-.3 .3 1.3 .3-.3 .3 .1 .3-.8 .3 1.1 .3-.5 .3 1 .3-1.8 .3 .7 .3 .5 .3-1.1 .3 0 .3-.2 .3 .2 .3 .4 .3-.2 .3-.7 .3 2.1 .3-1.6 .3 .9 .3-.7 .3 .2 .3 0 .3 0 .3 0 .3 .8 .3-1.5 .3-.3 .3 0 .3-.1 .3 1.4 .3-1.3 .3 .2 .3 1.2 .3-.4 .3 .2 .3-1.6 .3 .8 .3-.2 .3 .8 .3 0 .3 .3 .3 .5 .3 1.3 .3-2.5 .3 .7 .3 .1 .3-.5 .3-.5 .3 .8 .3 .3 .3 0 .3-.7 .3-.8 .3 .7 .3 1.6 .3-.2 .3-1.2 .3 .8 .3 .9 .3 0 .3-1.2 .3 .5 .3-.1 .3-.8 .3 1.8 .3-2.2 .3 1.2 .3 .6 .3-.5 .3 .3 .3-1.6 .3 1.5 .3 .2 .3-.1 .3-.8 .3 .7 .3-.4 .3 1.2 .3-1.5 .3 .3 .3-.1 .3-.2 .3 1.2 .3-.1 .3-.7 .3-.5 .3 0 .3-.8 .3 1 .3 .3 .3-.3 .3-.6 .3 1.2 .3-.2 .3-.2 .3 .9 .3-1.1 .3 .8 .3-1.1 .3 .3 .3-.6 .3 .8 .3-.6 .3 .3 .3 0 .3-.4 .3 1.7 .3-.7 .3-.7 .3 .6 .3-.2 .3-.3 .3 1.2 .3-.6 .3 0 .3-.2 .3 .1 .3 .3 .3-.6 .3 0 .3-.1 .3-1.1 .3 .8 .3 .9 .3 .3 .3-.9 .3-.5 .3 1.2 .3-1 .3-.1 .3-.2 .3-.3 .3 2.2 .3-.9 .3-1.7 .3 1.4 .3-.4 .3 1.4 .3-.8 .3 .1 .3 .9 .3 .5 .3-1.5 .3 .5 .3-.7 .3 1.3 .3-.5 .3-.2 .3-.6 .3 1.3 .3-1 .3 .7 .3 0 .3-1.4 .3 .6 .3 .4 .3-1 .3 .6 .3 .2 .3-1.3 .3 .8 .3 .6 .3-.3 .3-.1 .3-.6 .3 1 .3 .2 .3 0 .3 .8 .3-.7 .3-.4 .3 .9 .3-.5 .3 .1 .3 .2 .3-1.1 .3-.2 .3 1.4 .3-2.3 .3 1 .3 1.4 .3-1.4 .3 .7 .3-.9 .3 2.2 .3-1.5 .3 .5 .3-1.4 .3 1.3 .3-.1 .3-.9 .3 .6 .3-.4 .3 .2 .3-.5 .3 .2 .3-.4 .3 .8 .3-.4 .3-.4 .3 1.2 .3-1 .3-.2 .3-.4 .3 1.2 .3-.4 .3-.6 .3 .5 .3 .5 .3-.2 .3 .8 .3-.3 .3 .9 .3-1.7 .3 .4 .3-.1 .3-.1 .3 .1 .3-.2 .3 .7 .3-1.2 .3 .8 .3 .3 .3 .2 .3-.6 .3 .2 .3-.1 .3 .3 .3-.5 .3 .5 .3 .4 .3 .6 .3-1.7 .3 .7 .3-.4 .3 0 .3-.6 .3 .5 .3 .4 .3-.4 .3-.4 .3 1 .3-.6 .3-.3 .3 .2 .3-.1 .3-.3 .3 .7 .3-.3 .3-.7 .3 1.5 .3-.8 .3-.6 .3 .8 .3-.4 .3 .6 .3-.8 .3 .4 .3-.7 .3 .5 .3 .8 .3-.6 .3 1.1 .3-1.4 .3 .6 .3-1.2 .3 1.4 .3-.7 .3-1.1 .3 1.2 .3-.3 .3 1.2 .3-.5 .3-1.1 .3 .9 .3-.1 .3-.5 .3 .1 .3 .3 .3-.4 .3 .6 .3-.3 .3 .4 .3 0 .3-.2 .3 1.7 .3-.7 .3 .2 .3 1 .3-1.4 .3-.5 .3-.5 .3 .1 .3 1.1 .3-1.1 .3-.4 .3 1.1 .3 .1 .3 1 .3-1.8 .3 1.3 .3-2.1 .3 2.1 .3-.6 .3-.7 .3 1.3 .3-.6 .3 .3 .3-.2 .3 .6 .3-.3 .3-.9 .3 .1 .3 .1 .3 .9 .3-.2 .3-.2 .3-.3 .3-.3 .3 .4 .3 .2 .3 0 .3 .4 .3 0 .3-1.3 .3 1.8 .3-.9 .3-.6 .3-.1 .3 .2 .3-.6 .3-.5 .3 .6 .3-.1 .3-1.3 .3 2.2 .3-1.4 .3 1.4 .3-.2 .3-.4 .3 .8 .3-1 .3 0 .3 .8 .3 .1 .3-.5 .3-.1 .3 0 .3 .5 .3-.2 .3 .3 .3-.6 .3-.5 .3 .8 .3 1.2 .3-.8 .3-1.5 .3 1.1 .3-.6 .3-.1 .3-.1 .3-.1 .3-.5 .3 1.1 .3-.7 .3 .4 .3 0 .3 .7 .3-.2 .3 .3 .3-.1 .3 .4 .3-.1 .3 .7 .3-.6 .3-.6 .3 .6 .3 .1 .3-.7 .3 0 .3-.9 .3 2.2 .3-.9 .3 .7 .3-2 .3-.4 .3 1.7 .3-.6 .3 .6 .3-.4 .3 1.1 .3-.9 .3-.1 .3 .4 .3-.8 .3 .1 .3 .9 .3-.8 .3 .4 .3 .2 .3-.2"/>
<path class="ln" stroke="#d62728" d="M70.8 48.7l.3-1.3 .3-1.5 .3 .8 .3-1.3 .3 .4 .3-.2 .3-.8 .3-.4 .3 .4 .3 1.2 .3-2.8 .3 2.3 .3-2 .3 .8 .3-.1 .3 1.2 .3-.9 .3-.8 .3 .4 .3 .9 .3 .7 .3-.5 .3-.6 .3-.1 .3 1.1 .3-1.7 .3 0 .3 .8 .3 .8 .3-2.4 .3 2.1 .3 .2 .3-.7 .3-1.6 .3 1 .3 .4 .3 .2 .3-1 .3 .6 .3 .9 .3-.9 .3-.1 .3-.2 .3-.7 .3 .8 .3 .2 .3 .9 .3-1 .3-.7 .3 .8 .3-.6 .3 1.2 .3-.8 .3-.8 .3 1.5 .3-.6 .3 .4 .3 .1 .3 .4 .3-1.4 .3 1.4 .3-.5 .3 0 .3-.2 .3-.2 .3 .4 .3-.1 .3 .6 .3 .5 .3-1.7 .3 2.4 .3-.6 .3-1.6 .3 .7 .3 .3 .3 .9 .3-1.6 .3 2 .3-2.2 .3 .4 .3-.1 .3-.3 .3 .2 .3 .1 .3 .1 .3-.1 .3-.1 .3-1.5 .3 1.7 .3 1.9 .3-.3 .3-.4 .3-1.2 .3 .5 .3-.6 .3 .1 .3 .5 .3 .5 .3-1 .3-.1 .3 .3 .3-1.1 .3 1.6 .3 .1 .3 .4 .3-.4 .3-1.1 .3 .3 .3-.5 .3 1 .3 1.4 .3-2.5 .3 1.1 .3 .3 .3-1.7 .3 2.5 .3-2 .3 .3 .3 .1 .3 .5 .3-.2 .3-.9 .3-.4 .3-1.4 .3 1.2 .3 1.4 .3-1.4 .3 1.2 .3 .2 .3-.3 .3-.5 .3 0 .3 .5 .3-1.3 .3 2.1 .3-1.7 .3 .6 .3 .2 .3 .3 .3 .5 .3 .7 .3-.5 .3 1.3 .3-1.6 .3 .7 .3 0 .3-.5 .3 .6 .3-1.5 .3 1.6 .3-.5 .3-.6 .3-.2 .3 .7 .3-1.3 .3 1.7 .3 .1 .3 1.4 .3-2 .3 1.2 .3-.6 .3-1.5 .3 .3 .3 .6 .3 1.4 .3 .4 .3-1.5 .3 .6 .3-.3 .3-2.1 .3 2.7 .3 .3 .3-2.7 .3 .9 .3 .8 .3 0 .3 .6 .3 .1 .3-1.3 .3 1 .3-.9 .3 .5 .3 .3 .3 .3 .3-.9 .3 1.8 .3-1.5 .3-.1 .3 .7 .3-1.1 .3 .9 .3-2.1 .3 .6 .3 1 .3 0 .3-.1 .3-.1 .3 1.1 .3 .6 .3-1.4 .3 .9 .3-.5 .3-1.4 .3-.1 .3 1.2 .3 .4 .3-1.5 .3-.9 .3 2.4 .3 .2 .3-.8 .3 1 .3 .8 .3-2.4 .3 .3 .3 0 .3 1 .3-1.3 .3 .3 .3 .8 .3 .1 .3 0 .3-1.5 .3 1.2 .3-.7 .3 1.2 .3-.3 .3 .2 .3-.8 .3 .3 .3 .4 .3-.4 .3 .5 .3-.7 .3-.2 .3-.2 .3 1.2 .3 .6 .3-.3 .3-1.8 .3 1.6 .3 0 .3-.1 .3 .5 .3 .1 .3 .5 .3-.3 .3 .4 .3-.9 .3-.6 .3 1.3 .3-2 .3 1.7 .3-1.4 .3 .2 .3 1.3 .3-1.5 .3 1.4 .3-.5 .3-.6 .3 .8 .3-.2 .3-.3 .3-.8 .3 1 .3-.7 .3 .3 .3 .2 .3-.6 .3 .1 .3 0 .3 0 .3-.1 .3 .9 .3-1 .3 .2 .3-.8 .3-.8 .3 2 .3-.1 .3 .7 .3-2.1 .3 .4 .3-.1 .3 1.9 .3-1 .3-.9 .3 0 .3 .3 .3-1.2 .3 1.1 .3-1 .3 1.1 .3 .4 .3-.3 .3-.6 .3 .3 .3 .9 .3-.9 .3-.7 .3 .4 .3-.2 .3 .3 .3 .3 .3-.2 .3 .2 .3 .9 .3-.3 .3 .1 .3-.8 .3-.2 .3 .5 .3-1.4 .3 .4 .3 1.3 .3-.8 .3-.3 .3-.4 .3 1.1 .3-1.1 .3 1.7 .3-.6 .3-1.5 .3 1.2 .3-.4 .3 .9 .3-.1 .3-.9 .3 0 .3 .6 .3-.6 .3 1.3 .3-1.5 .3 .9 .3-2 .3 2.1 .3-.9 .3 .4 .3 .9 .3-1 .3-2 .3 .5 .3 1.8 .3-.5 .3-.1 .3 1.4 .3-1 .3 .9 .3 0 .3-1 .3 .6 .3-1.2 .3 1.4 .3-.6 .3 1.1 .3-.6 .3-.6 .3-.3 .3 .1 .3 0 .3 .4 .3 .2 .3-1.8 .3-.1 .3 1.3 .3-1.1 .3 .8 .3-1.1 .3 1 .3-.4 .3-.2 .3-.1 .3 .8 .3 .2 .3-.2 .3-.7 .3 0 .3-.1 .3 .1 .3 .3 .3 .2 .3 .1 .3 .5 .3 .4 .3-1 .3 0 .3 .7 .3-.4 .3-.7 .3-.4 .3 1.3 .3-1.3 .3 .9 .3-1.1 .3 2.2 .3-2.1 .3 2.2 .3-.5 .3 .5 .3 0 .3-.5 .3-.9 .3 2.1 .3-2.3 .3 .4 .3-.9 .3 .9 .3 .2 .3-1.1 .3 .7 .3-.3 .3-.1 .3 .5 .3 .3 .3-1.2 .3-.7 .3 1.5 .3-1 .3 .5 .3-.4 .3 1.1 .3 .8 .3-2.1 .3 2.2 .3-1.5 .3-.5 .3 .8 .3 .7 .3-1.8 .3 .2 .3 1.6 .3-.8 .3-2.8 .3 2.1 .3-.5 .3 .2 .3 .2 .3-.5 .3-.1 .3 1.5 .3-2.7 .3 1.3 .3 .2 .3-1.1 .3 .1 .3-.1 .3 1.5 .3-1.4 .3 1.2 .3-1.3 .3 .2 .3 1.1 .3 .1 .3-1.8 .3 .3 .3 .9 .3-.6 .3-.1 .3 0 .3 .9 .3-2.2 .3 3.3 .3-.3 .3 0 .3-1.2 .3-.5 .3 .9 .3-1.4 .3 2.5 .3-2 .3 1.5 .3-.2 .3-1.2 .3 .2 .3-.6 .3 .6 .3 .3 .3-.1 .3-.4 .3 .3 .3 1.1 .3 0 .3-.4 .3-.8 .3 .2 .3 .7 .3-.7 .3-.4 .3 1.5 .3-1 .3-.1 .3-.6 .3 .6 .3 .3 .3-.4 .3-1.1 .3 .8 .3 .6 .3-.4 .3 .9 .3-.9 .3 .4 .3 .7 .3-.5 .3 .8 .3-2 .3 .5 .3 1.4 .3-.3 .3 0 .3 .1 .3 .1 .3-1.4 .3 1.8 .3-.5 .3-1.5 .3 .1 .3 1.5 .3-.9 .3 .6 .3-.6 .3-.9 .3 .4 .3 .4 .3 .2 .3 .7 .3-1.2 .3 .9 .3-.5 .3 0 .3-1.4 .3 1.3 .3-.8 .3 1.7 .3 .2 .3-.4 .3 1.1 .3-1.6 .3 .7 .3-.6 .3 .6 .3-1.1 .3 .3 .3 1 .3-.5 .3-.4 .3 .2 .3 .8 .3 .7 .3-2.1 .3 1.5 .3-.3 .3 0 .3 .4 .3 .2 .3 .4 .3-2.1 .3 .8 .3 1 .3-1.2 .3 1.4 .3-.6 .3 .8 .3-.8 .3 0 .3 2.8 .3-2.2 .3 1.4 .3-1.2 .3 .3 .3-1 .3 .8 .3-.3 .3-1.7 .3 .2 .3 2 .3 .5 .3-1 .3-.4 .3 .4 .3 1.8 .3-2.6 .3 1.5 .3 .5 .3-2 .3 .5 .3 .5 .3-.2 .3 1.3 .3-.7 .3-.4 .3 .7 .3 .7 .3-1 .3-.4 .3 1.3 .3 .5 .3 .2 .3-.7 .3-.7 .3 .8 .3-.3 .3 .2 .3-.5 .3 1 .3-.3 .3-1.5 .3 1.9 .3-1.2 .3 .9 .3-.1 .3 .3 .3-.6 .3 .2 .3-.1 .3 .1 .3-.5 .3 1.3 .3-.9 .3 .6 .3-.2 .3 .1 .3 .1 .3-1.4 .3 .9 .3 .6 .3-.7 .3 .2 .3 .9 .3 .6 .3-.6 .3 .2 .3-.4 .3 1.1 .3-1.4 .3 .7 .3 1.8 .3-2 .3-.2 .3-1.2 .3 .1 .3 2.5 .3-1.7 .3-.9 .3 .4 .3-.2 .3 .8 .3-.6 .3 .8 .3 .8 .3-.9 .3-.4 .3 .1 .3 1.3 .3-2 .3 .3 .3 .3 .3-.3 .3 .9 .3-.6 .3-.4 .3 1.2 .3-.5 .3 .5 .3-.3 .3-.3 .3-.5 .3 1.3 .3-.9 .3 1.4 .3-.4 .3-.1 .3-.5 .3 2 .3-1.3 .3 .5 .3-.8 .3 1.5 .3-.6 .3 .5 .3-.2 .3-.7 .3-.7 .3 .9 .3-.4 .3 .1 .3 1.5 .3-.6 .3-.3 .3 .5 .3 .2 .3-.3 .3 0 .3 .2 .3 .4 .3 1.3 .3-2.5 .3 .8 .3-.3 .3 2.3 .3-1.9 .3 1.3 .3-.7 .3 0 .3 .6 .3-.5 .3-.6 .3 1.6 .3-2.5 .3-.3 .3 .7 .3 1.4 .3-1.1 .3 .3 .3 .5 .3-.3 .3-.2 .3 .5 .3-.8 .3 1 .3-.9 .3 .8 .3-.2 .3-.6 .3 .8 .3-.1 .3 0 .3-.4 .3-1.1 .3 .5 .3 .9 .3 .3 .3-2.2 .3 .5 .3-.8 .3 .7 .3 1.5 .3-.8 .3 .7 .3 .7 .3-2.6 .3 1.5 .3 .3 .3 .1 .3 .6 .3-.1 .3-.5 .3-1.2 .3 1.6 .3 .8 .3-2.1 .3 .6 .3 .2 .3-.5 .3 .4 .3-.1 .3 .8 .3-1.1 .3 .1 .3 1.7 .3-.7 .3-1.3 .3-.6 .3 .9 .3 .4 .3-.5 .3-.8 .3 .2 .3 .6 .3 .4 .3 .2 .3 .6 .3-1.4 .3 .1 .3-.8 .3 .4 .3 .6 .3 0 .3-.1 .3 .4 .3-.3 .3-.9 .3 1 .3 .3 .3-.8 .3 3.2 .3-4.4 .3 .9 .3 .9 .3 .1 .3-.2 .3 1.1 .3 .7 .3-.5 .3-.2 .3 1.1 .3-2.3 .3 1.1 .3 .1 .3-.3 .3-.1 .3 0 .3-.3 .3-.5 .3 .1 .3 .4 .3 .6 .3 .4 .3 .1 .3-2.5 .3 1.1 .3-.2 .3 .8 .3 .1 .3-.6 .3 1.2 .3-1.1 .3 .4 .3 .5 .3 0 .3-.8 .3 1 .3-.3 .3 .1 .3-.7 .3 .1 .3-.8 .3-.8 .3 .5 .3-.4 .3 1.1 .3-1 .3 .8 .3-.5 .3 .6 .3-.3 .3 1.2 .3-.4 .3 .5 .3-.9 .3-1.4 .3 2.2 .3 .7 .3-2 .3 1.4 .3-1.1 .3 .1 .3-.2 .3-.2 .3 .2 .3-1.1 .3 1.2 .3 .1 .3 .5 .3-.7 .3 .3 .3 1.4 .3-.8 .3-.7 .3 .6 .3-.3 .3 .7 .3-1.3 .3 1.3 .3-.7 .3-2.4 .3 2.4 .3-.8 .3-.1 .3 .7 .3 .6 .3 1.7 .3-1.7 .3-.9 .3 .6 .3 .7 .3-1.1 .3 .7 .3-1 .3 .4 .3 .7 .3 .9 .3-1.5 .3 0 .3 .5 .3-.7 .3 .2 .3-.4 .3 2 .3-1.7 .3 1.4 .3-.8 .3 1.1 .3-1.9 .3 .9 .3-2 .3 2.8 .3-.6 .3-.7 .3 1.7 .3 .8 .3-.9 .3-.4 .3-1.3 .3-.8 .3-.5 .3 2 .3-2.2 .3 1 .3 1.2 .3-1 .3-1.3 .3 .5 .3 1.7 .3-1.7 .3 .6 .3-.6 .3 1.1 .3-.5 .3 1.3 .3-1.3 .3 .2 .3-1.6 .3 2.7 .3 .1 .3-1.1 .3 .2 .3 .3 .3 .4 .3-2 .3 .4 .3 2.1 .3-.7 .3-.5 .3-.3 .3 .9 .3 .1 .3-.2 .3-1.4 .3 .7 .3 .4 .3 0 .3-1 .3 .7 .3-.6 .3 .5 .3 .6 .3 .2 .3 .2 .3 .4 .3-.8 .3-1.1 .3 1 .3-.7 .3-1 .3 .9 .3 .9 .3 .5 .3-.9 .3-.8 .3 .8 .3-.3 .3 1.4 .3-2 .3 1.4 .3-.7 .3 .3 .3-.8 .3 .8 .3-.3 .3 .1 .3-.8 .3 .2 .3-1.2 .3 1.9 .3-.8 .3 1.2 .3-2.2 .3 2.5 .3-.8 .3-.7 .3 .8 .3-1.6 .3-.2 .3 2.1 .3-2.3 .3 1.6 .3 1.1 .3-1 .3 .9 .3-.9 .3-.5 .3 1.5 .3-.2 .3-1 .3 1.2 .3-2 .3 1.7 .3-1.1 .3 .8 .3-.2 .3-.2 .3 .3 .3 .8 .3-.1 .3-1.1 .3 .1 .3-.7 .3 1.9 .3-.5 .3-1.1 .3 .5 .3 .9 .3-1.8 .3 .8 .3 0 .3-.1 .3 .3 .3-1.7 .3 2.2 .3-1.3 .3 .4 .3-1 .3 3 .3-1.3 .3-1.9 .3 .9 .3 .1 .3-.4 .3-.3 .3 .1 .3 .2 .3 .9 .3 0 .3 .7 .3-1.1 .3-2.1 .3 1.5 .3 1.3 .3-1.8 .3 1.1 .3-.1 .3-1.2 .3 .4 .3-.4 .3 1.6 .3-.5 .3-.6 .3 .6 .3-.1 .3-1.3 .3-.2 .3-.3 .3-.2 .3 1.9 .3 .3 .3 .4 .3-2.1 .3 1 .3 1 .3 .5 .3-1.8 .3-.3 .3-.1 .3 .9 .3 .2 .3-.1 .3-.8 .3 1.6 .3-1.9 .3 1.3 .3 .6 .3-.3 .3-.3 .3-.5 .3 .3 .3-.4 .3-.2 .3-.3 .3 1.9 .3-1.6 .3 .1 .3 1.7 .3-.8 .3 1 .3-.2 .3-.7 .3 .8 .3-1.5 .3 1.1 .3 1.2 .3-1.1 .3 .1 .3 1.9 .3-1.4 .3-1.8 .3 1.7 .3-2.6 .3 2.3 .3-.1 .3-.6 .3-.5 .3 .1 .3 2.3 .3-2.8 .3 .1 .3 .5 .3-.3 .3 1.6 .3-1.3 .3-.1 .3 .7 .3-.3 .3-.3 .3-.2 .3 .3 .3 0 .3-.2 .3 .4 .3 .8 .3-1.8 .3 1.5 .3 .1 .3-.5 .3-.2 .3 .9 .3-1.1 .3 .5 .3 .1 .3 .1 .3-.3 .3 .5 .3 .4 .3-2 .3 1.7 .3-1.3 .3-.2 .3 .8 .3-.1 .3-1.4 .3 2.4 .3-1.4 .3 1.1 .3-.3 .3 .1 .3-.2 .3-.1 .3-.2 .3-.5 .3 1 .3-.9 .3 .1 .3-.5 .3-.2 .3 .6 .3-1 .3 2.2 .3-1.3 .3 0 .3-.2 .3 .4 .3 .2 .3 0 .3-1.4 .3-.4 .3 .8 .3-.1 .3-.2 .3 1.6 .3-1.7 .3 .1 .3 1.4 .3-1.1 .3 .2 .3-.6 .3-.4 .3 .5 .3-.8 .3 1.9 .3-.4 .3 1.3 .3-1.5 .3-.6 .3 1.1 .3-1.1 .3 1.4 .3-1.1 .3-.6 .3 1.3 .3 0 .3 .4 .3-.8 .3 .5 .3 0 .3-.8 .3-.4 .3 .4 .3-.7 .3 1.1 .3 .3 .3-.7 .3-.3 .3-.7 .3 1.4 .3 .3 .3-2.6 .3 3.2 .3-.4 .3-1.4 .3 .2 .3 .1 .3 .2 .3-.4 .3 .5 .3-.2 .3 1.4 .3-1.8 .3-.2 .3 1.1 .3-.7 .3-.1 .3 .1 .3-.4 .3 0 .3 0 .3-.2 .3 .5 .3 1.8 .3-1.4 .3-.6 .3-.3 .3 1.8 .3-1.3 .3 .4 .3-1.4 .3-.1 .3 1.7 .3-1.5 .3 1.6 .3 .5 .3-1.4 .3 .1 .3 .1 .3-.3 .3 .2 .3 .2 .3 .4 .3 .5 .3 .3 .3 0 .3-.5 .3-.7 .3 .9 .3 .2 .3-.3 .3-.3 .3 1.9 .3-3.1 .3 2 .3-.1 .3 .8 .3 .5 .3-.9 .3-1 .3 .8 .3-1.1 .3 .8 .3-.6 .3 .9 .3-1.4 .3 1 .3 .2 .3-.3 .3 0 .3-.3 .3 .2 .3 1 .3-1.5 .3-.7 .3 0 .3 .5 .3 .9 .3-.5 .3 .4 .3 .6 .3-1.9 .3 .8 .3-.3 .3 1 .3-.1 .3-.2 .3-1.1 .3 .5 .3 .3 .3-.1 .3-.5 .3 .7 .3-.1 .3-.1 .3-1 .3 .5 .3-.3 .3 .4 .3 1.2 .3-.6 .3 0 .3 .9 .3-1.2 .3 .4 .3-1 .3 1.5 .3-1 .3 .8 .3-.2 .3-.5 .3 .5 .3-1.5 .3 .8 .3-1 .3 2.3 .3-.3 .3 .5 .3 0 .3 0 .3-1.2 .3-.9 .3 .4 .3 1.7 .3-1"/>
<path class="ln" stroke="#9467bd" d="M70.8 46.1l.3 .2 .3-1 .3 1.6 .3-.2 .3-.3 .3 .2 .3 .4 .3 .6 .3-.6 .3-.4 .3 .1 .3-.3 .3 1 .3-.4 .3-.8 .3 1.3 .3-.3 .3-.9 .3 1 .3-.3 .3 .2 .3 .2 .3-.8 .3-.2 .3-.3 .3 .7 .3-.2 .3-1.1 .3 1.2 .3 .3 .3 0 .3-.4 .3 .6 .3-.8 .3-.6 .3 2 .3-1.9 .3 1.3 .3 .9 .3-1.7 .3 1.1 .3-.8 .3-.3 .3-1.1 .3 1.7 .3-.7 .3 1.1 .3-1.2 .3 .8 .3 .1 .3 .9 .3-.4 .3-1.4 .3 1.5 .3-.6 .3-.4 .3 0 .3 1 .3-1.7 .3 .6 .3-.5 .3 .8 .3-.1 .3-.7 .3 .6 .3 0 .3-.1 .3 .2 .3 .6 .3-.9 .3 .3 .3 .3 .3-.7 .3 .1 .3-.2 .3 .2 .3-.1 .3 .7 .3-1.9 .3 1.2 .3 .4 .3 .5 .3 .4 .3-2.1 .3 .5 .3 .4 .3-1.2 .3 .6 .3 .5 .3-.3 .3-1 .3 2 .3-1.2 .3 .7 .3-1.1 .3 1 .3 .6 .3 0 .3-.1 .3-.3 .3-.9 .3-.3 .3 1.8 .3-1.7 .3 .2 .3 1.2 .3-.4 .3 .8 .3-1.1 .3 1.2 .3 1.2 .3-2.3 .3 .6 .3-.3 .3 .1 .3-.2 .3 .8 .3 .2 .3-.6 .3 .3 .3-1.3 .3 1.2 .3-.8 .3 1.2 .3-.5 .3-1.5 .3 1.5 .3-1 .3 .6 .3 1 .3 .6 .3-1.1 .3 .1 .3-.1 .3-.6 .3-1.1 .3 1.8 .3-.3 .3-.3 .3 .3 .3 .1 .3-.3 .3 .6 .3-.7 .3 .9 .3-.9 .3-.1 .3-.7 .3 .2 .3-1.4 .3 1 .3 .5 .3 .7 .3-1.4 .3 .4 .3 0 .3 .1 .3-1.4 .3 1.1 .3 2 .3-.8 .3-1.2 .3 .5 .3 .5 .3-.7 .3 .5 .3-.5 .3-.3 .3 .8 .3-.7 .3 .7 .3 .3 .3-.7 .3 .7 .3-.1 .3-.3 .3-.3 .3-.4 .3 .8 .3-.1 .3 .6 .3-1.8 .3 1.3 .3-.4 .3-.2 .3-.8 .3 2.4 .3-.9 .3-.3 .3 .3 .3-1.3 .3 .9 .3 .2 .3-.4 .3-.9 .3 .7 .3 1.3 .3-.5 .3-.1 .3 .3 .3 1.4 .3-1.3 .3-.7 .3-.8 .3 1.5 .3 0 .3-1.2 .3 1.1 .3 .2 .3-.3 .3-1.2 .3 .6 .3 0 .3 1.6 .3-1 .3-.5 .3 1.1 .3-1.5 .3 .9 .3 .5 .3-1.1 .3-.1 .3-.4 .3 .6 .3 1.2 .3-.2 .3 .5 .3-1.2 .3 2.1 .3-2.8 .3 .4 .3-.8 .3 1.8 .3-.3 .3 1.2 .3-1.8 .3-.1 .3-2 .3 .7 .3 1.4 .3-.5 .3 1.1 .3-1.3 .3 1.2 .3-.1 .3-1.4 .3 1.7 .3 .1 .3-.7 .3 .5 .3-.3 .3-.8 .3 .5 .3 .8 .3-2 .3 1 .3-.6 .3 .3 .3-.1 .3 0 .3 .3 .3-.6 .3 .6 .3-1.5 .3 2.1 .3-.8 .3-.2 .3 1.2 .3-.3 .3 0 .3 0 .3-.2 .3-.7 .3 1.1 .3 0 .3 .1 .3-.6 .3 0 .3-.3 .3 1.4 .3-1.4 .3 .9 .3-.8 .3-.7 .3 .6 .3-.7 .3 .7 .3 .3 .3-.6 .3 .5 .3 .5 .3-.1 .3-.7 .3 .7 .3-.4 .3-.2 .3 .5 .3 .1 .3 .9 .3-.4 .3-.5 .3 1.8 .3-.7 .3-2.2 .3 .3 .3 .3 .3 1.3 .3-1.5 .3 .6 .3-.2 .3 1 .3-1.1 .3 .6 .3-.5 .3 1.2 .3-.5 .3 .3 .3-.7 .3-.1 .3 .8 .3 .6 .3-1.3 .3 .5 .3-1.2 .3 1.8 .3-1.9 .3 1.1 .3 .2 .3-.8 .3-.3 .3 .7 .3 .8 .3-1.8 .3 .6 .3-1.9 .3 1.7 .3-.7 .3 .4 .3 .3 .3-.3 .3 1.1 .3 .4 .3 0 .3-.8 .3-.3 .3 .8 .3 0 .3-1 .3 .1 .3-.2 .3 .4 .3-.8 .3-1.1 .3 2.1 .3 .1 .3-.3 .3 .6 .3-.6 .3-.9 .3 1 .3-.6 .3-.4 .3 1.6 .3-.8 .3-1.9 .3 2.3 .3-.4 .3-.3 .3 .1 .3 .6 .3 .1 .3 .1 .3 .2 .3-1.3 .3 1.7 .3 .8 .3-1.8 .3 .2 .3 0 .3 .5 .3-2 .3 1.7 .3-1.2 .3 .2 .3 .2 .3 .1 .3-.5 .3 .7 .3 .7 .3-.9 .3 .6 .3-.9 .3-1.1 .3 1.4 .3 .2 .3 0 .3-.9 .3 .1 .3 .5 .3 .4 .3 0 .3 1 .3-.5 .3 0 .3-.2 .3-.8 .3 1.1 .3-.5 .3 .4 .3 .9 .3-1.5 .3 1.4 .3-1.7 .3-.1 .3-.1 .3 .7 .3-1.5 .3 1.6 .3 0 .3 .3 .3-.3 .3 .3 .3 .1 .3-.3 .3 0 .3-.4 .3 .1 .3 .9 .3-1.7 .3 1.7 .3-.3 .3-1.6 .3-.1 .3 .8 .3 .6 .3-.5 .3 .6 .3-.5 .3-.8 .3 1.5 .3 .4 .3-.8 .3-.2 .3-.7 .3 1.5 .3 .6 .3-.9 .3-.9 .3 .1 .3 1 .3-.8 .3 .4 .3-.4 .3 1.1 .3-1 .3 1.4 .3 .5 .3-.2 .3-2.1 .3 1.9 .3-.7 .3 .1 .3 0 .3 0 .3-.1 .3-.2 .3-.4 .3-.7 .3 1.1 .3-.8 .3-.1 .3 .8 .3-.3 .3-.4 .3 .1 .3-1.4 .3 .7 .3 .5 .3 .5 .3 0 .3-1.1 .3 .7 .3 .4 .3 .4 .3-1.1 .3-.2 .3-.1 .3 .7 .3 .3 .3 .4 .3-.8 .3 .8 .3-.7 .3 .1 .3-1.2 .3 2 .3-1.3 .3 1.2 .3-.4 .3-.8 .3 0 .3 .9 .3-1 .3-.2 .3-.1 .3 .1 .3 0 .3 1.4 .3-.9 .3 .8 .3-.5 .3-.3 .3-.3 .3-.4 .3 1 .3-.2 .3-.2 .3 0 .3 .5 .3-.7 .3-.6 .3 .6 .3-.8 .3 1.4 .3 1 .3-1.5 .3 1.1 .3 .8 .3-1.4 .3 .4 .3 .3 .3 .5 .3-.8 .3-1 .3 .1 .3-.2 .3 .4 .3 .6 .3-.1 .3-.6 .3 .8 .3-1.6 .3 1.2 .3 1.1 .3-.8 .3-.2 .3 1 .3 .1 .3-.9 .3-1.4 .3 1.8 .3 .9 .3-2 .3 2.2 .3-2.2 .3 1.3 .3 0 .3-.1 .3-1.1 .3 1 .3-1.4 .3 .8 .3 .2 .3-.1 .3-.8 .3 .2 .3-.7 .3 2.6 .3-1.1 .3-.8 .3 .7 .3-.3 .3 1.2 .3-1.6 .3 1.1 .3-1.7 .3 1 .3 .3 .3-.5 .3 .9 .3-.5 .3-.6 .3 .1 .3 1.2 .3-1.1 .3 0 .3-.8 .3 .2 .3 .4 .3 1.1 .3 .5 .3-1.1 .3 1.8 .3-1.3 .3-.2 .3-.2 .3-.6 .3 1.3 .3-.6 .3 .4 .3-1.6 .3 .1 .3 1.6 .3 .5 .3-1.1 .3-.1 .3 0 .3-.2 .3-.3 .3 .4 .3 1.4 .3-1.3 .3 1 .3-1.5 .3 1.6 .3 .3 .3-1.2 .3 1 .3-.7 .3 1.4 .3-2 .3 .1 .3-.6 .3 .9 .3 .5 .3-.8 .3 1.5 .3-1.4 .3 .4 .3 .9 .3-1.4 .3 .7 .3-.3 .3-.3 .3 1 .3-2.1 .3 .7 .3 .6 .3 .4 .3-.8 .3-.1 .3 2.1 .3-.6 .3 .1 .3-.4 .3 .8 .3-.6 .3-1.3 .3 1 .3 .8 .3-1.7 .3 .8 .3 .4 .3 .1 .3-.4 .3 .5 .3 0 .3 1 .3-2 .3 .6 .3-.6 .3 1.5 .3-.7 .3 .1 .3 .1 .3 1.1 .3-1.4 .3 .5 .3 .3 .3-1.2 .3-.4 .3 1.7 .3-.4 .3 .2 .3-.6 .3-.2 .3-.2 .3 .2 .3-.4 .3 0 .3 1.2 .3-.1 .3-.7 .3 1 .3-1.2 .3 1.2 .3-.1 .3-1 .3 1.2 .3-1.9 .3 .7 .3-.4 .3 1.4 .3-.7 .3-.7 .3 .4 .3-.4 .3 1.2 .3-1.5 .3 0 .3 .6 .3-.5 .3 .6 .3-.1 .3-.5 .3-.4 .3-.3 .3 1.7 .3-.3 .3 .7 .3-.3 .3-.1 .3-.4 .3 .9 .3-2.9 .3 1 .3 1.5 .3-.3 .3-.4 .3 .1 .3 1 .3-.2 .3-.2 .3-1.3 .3 1.9 .3-1.3 .3 .9 .3-.1 .3-1.4 .3 .1 .3 .1 .3 .5 .3 1.1 .3 .2 .3-.6 .3-.3 .3-.4 .3 1.6 .3-1 .3-.5 .3 .4 .3 .4 .3-.8 .3 0 .3-1 .3 1.3 .3-.9 .3 .8 .3-.3 .3 .1 .3-.5 .3 .8 .3-1.2 .3 1.1 .3 .9 .3 .7 .3-2.2 .3 1 .3-.1 .3-.2 .3 .6 .3-1.4 .3 1.2 .3-1 .3 1.8 .3-.6 .3 1.7 .3-.8 .3-.7 .3-1.1 .3-.8 .3 1.9 .3-.4 .3 .8 .3-1.2 .3 .7 .3-.3 .3 .6 .3 .1 .3-1.3 .3 1.3 .3 .6 .3-.5 .3 .6 .3-1.5 .3-.5 .3 .7 .3-.2 .3 1.9 .3-1.4 .3 .4 .3 .4 .3-1 .3-1.5 .3 0 .3 2 .3-.1 .3-1.3 .3 1.3 .3 0 .3-.4 .3-.9 .3 1.5 .3-1.6 .3 1.1 .3-1.5 .3 .4 .3 1.1 .3-1.4 .3-.3 .3 1.3 .3 0 .3-.8 .3 1 .3 .2 .3-.2 .3 .9 .3-1.6 .3 1.3 .3-1 .3-.9 .3 .1 .3 0 .3-.2 .3 1.7 .3-1.4 .3 1 .3 .2 .3-.1 .3 .5 .3-1.4 .3 .2 .3 1.4 .3 .1 .3-.7 .3-.4 .3-.2 .3 1.1 .3 .7 .3-1.5 .3 .2 .3-.5 .3 1.3 .3-.7 .3 .1 .3-.8 .3 1.3 .3-.5 .3 .5 .3-1 .3-.1 .3 .6 .3-.1 .3 .7 .3-.1 .3-1.4 .3-.5 .3 2.1 .3-1.1 .3 .1 .3 .8 .3-.3 .3-.1 .3 .2 .3-.4 .3 .3 .3-.3 .3 .2 .3-.5 .3 1.4 .3-.6 .3-.5 .3 .8 .3-.4 .3 .5 .3 0 .3-1.3 .3 1.7 .3-.1 .3-.9 .3 1.7 .3-2.7 .3 1.5 .3-.7 .3 .2 .3 .6 .3 0 .3-.2 .3-1.7 .3 1.8 .3-1.1 .3 .3 .3 0 .3-1.1 .3 1.8 .3-.9 .3-.8 .3 .3 .3-.2 .3 .1 .3 1.2 .3 0 .3 .5 .3 .6 .3-.9 .3-2.5 .3 2 .3-.1 .3 .3 .3 .2 .3-.5 .3 .6 .3-.3 .3 .9 .3-1.8 .3-.2 .3 .3 .3 1.9 .3-3.2 .3 1.5 .3-.7 .3 .8 .3 .2 .3-.8 .3 1.6 .3 .4 .3-1.7 .3 .6 .3-1.2 .3-.2 .3 1.3 .3-.2 .3-1.2 .3 1.1 .3 .6 .3-1.5 .3-.8 .3 1.5 .3 .5 .3-.5 .3 .4 .3-.8 .3 .8 .3-.4 .3 .3 .3 .2 .3-.6 .3 .1 .3-.9 .3-.3 .3 1 .3 .4 .3-.1 .3 .1 .3-.3 .3 .1 .3-.1 .3 .4 .3 .5 .3-.8 .3-1 .3 .6 .3 0 .3 .8 .3 .6 .3-2.7 .3 1.3 .3 .1 .3 2.1 .3-1.9 .3 .6 .3 .8 .3-1.5 .3 .3 .3 .2 .3 0 .3-.6 .3 .7 .3-.6 .3-.1 .3 1.5 .3-2.2 .3 1.6 .3-.7 .3 .2 .3-.5 .3 .8 .3 .3 .3-1.1 .3 1.2 .3-1.9 .3 .7 .3-.3 .3 .7 .3 .5 .3-1 .3 .7 .3-.4 .3 1.1 .3-2.2 .3-.1 .3 .9 .3-1 .3 1.5 .3 .1 .3-.7 .3-.1 .3 .9 .3-.1 .3-.5 .3 .5 .3-.9 .3 .5 .3 .7 .3-.2 .3-1.3 .3 .2 .3 .1 .3 .7 .3 .1 .3-1.3 .3 .2 .3 1 .3-1.9 .3 2.4 .3-.4 .3-.7 .3 1.3 .3-.8 .3-.5 .3 1.9 .3-1.5 .3 .1 .3 .2 .3-.4 .3 .3 .3-.8 .3 1 .3-.4 .3-.1 .3 .4 .3-1.5 .3 1 .3 .4 .3 .2 .3-.8 .3-.2 .3 1.1 .3-2 .3 2 .3-1.8 .3 .4 .3 1.3 .3-.6 .3-.5 .3 1.3 .3-.5 .3-.6 .3 .8 .3-.1 .3-.4 .3 .8 .3-.2 .3-1.2 .3 1.1 .3 .1 .3 .1 .3-1 .3 1.4 .3-1.9 .3 .8 .3 .2 .3 .1 .3-.1 .3 .2 .3 .3 .3 .9 .3-1.5 .3 .8 .3-.5 .3 0 .3-.6 .3 .3 .3 1.1 .3-1 .3 .4 .3-1.1 .3 1.2 .3-.1 .3 0 .3 .4 .3-.8 .3-.4 .3 .6 .3-.2 .3 .8 .3-1.4 .3 .4 .3 .9 .3-.9 .3 1.7 .3 .1 .3-1.4 .3 .6 .3 .1 .3-.9 .3-.1 .3 1.6 .3 .1 .3-.9 .3-.1 .3-.4 .3-.1 .3 1.7 .3-.3 .3-.4 .3-1 .3 .2 .3 .7 .3-1.1 .3 .8 .3-.3 .3-1.3 .3 2.1 .3-1 .3-1 .3 1.3 .3-.9 .3 1.7 .3-.8 .3 .1 .3 .8 .3-2.1 .3 1.3 .3 .7 .3-.2 .3-1.3 .3 1.1 .3 .8 .3-1.7 .3 .1 .3 .8 .3-.4 .3-.1 .3 1.4 .3-1.8 .3 1 .3-1.5 .3-1.3 .3 1.9 .3 .6 .3-.7 .3 1.4 .3-1 .3 .1 .3-.1 .3-.9 .3 1.7 .3 .3 .3 0 .3 .1 .3 0 .3-.3 .3 .3 .3-.6 .3-.7 .3 .8 .3 .2 .3-1.1 .3 .4 .3 .9 .3-.7 .3 2 .3-1.2 .3 .4 .3-.5 .3 0 .3-.8 .3-.8 .3-.5 .3-.1 .3 .3 .3-.8 .3 1 .3-.4 .3 .4 .3-.1 .3 1.1 .3-1 .3-.1 .3 1.8 .3-1.2 .3 1.2 .3-1.1 .3 .2 .3 .3 .3-1.2 .3 1.8 .3 .2 .3-1.6 .3 1.2 .3-.8 .3-.7 .3 1.5 .3-1.9 .3 .6 .3 .7 .3-.9 .3 .5 .3-1.1 .3 .8 .3 .2 .3-1 .3 .3 .3 .2 .3 .3 .3 .3 .3-.5 .3-.8 .3 1 .3 1 .3-1 .3-.5 .3 .3 .3 .3 .3-1.5 .3 2 .3-1.3 .3 1.6 .3-2 .3-.1 .3 .7 .3 .6 .3-.3 .3-.1 .3 .2 .3-.2 .3 .7 .3-.8 .3 .5 .3-.9 .3 .1 .3-.5 .3 .5 .3-.2 .3-.6 .3 1.7 .3-.4 .3 .2 .3 1.2 .3-3.1 .3 1.9 .3-.2 .3 .7 .3-1.2 .3 .2 .3-.2 .3 1.2 .3 .8 .3-1.9 .3 .5 .3 .1 .3-.6 .3-.7 .3 1.9 .3-1.9 .3 1.7 .3-1.8 .3 1.7 .3 .3 .3-1.1 .3-.3 .3 .7 .3 .1 .3-.6 .3 .4 .3 .6 .3-.1 .3 .4 .3-2 .3 .3 .3 .5 .3 0 .3 .8 .3-1.3 .3 2.1 .3-.4 .3-.3 .3-.6 .3-1 .3 .1 .3 1.7 .3-.9 .3 1.2 .3-.9 .3-1.2 .3 1.9 .3-1 .3 .1 .3 .4 .3-1.5 .3 .2 .3 1.7 .3-2 .3 .3 .3-.2 .3 .1 .3 .8 .3-.1 .3-.2 .3 .3 .3 .6 .3-1.8 .3 1.3 .3 .1 .3-1.2 .3 2.2 .3-.8 .3-.2 .3 .3 .3-.2 .3-.5 .3 .1 .3-.6 .3 1.2 .3-.3 .3-.7 .3 1.2 .3 .6"/>
<path class="ln" stroke="#8c564b" d="M70.8 48.5l.3-.1 .3 .2 .3-1.3 .3 1.2 .3-.7 .3-2 .3 1.5 .3-.4 .3 .7 .3-1.2 .3-.1 .3 .8 .3 1.8 .3-2 .3-.1 .3-.3 .3-.5 .3 .6 .3 1.2 .3-1.4 .3 .7 .3 .4 .3 .6 .3-.5 .3-.4 .3 1.6 .3-.4 .3-.6 .3-.8 .3 .4 .3-1.3 .3 0 .3 .8 .3 .6 .3 .2 .3-.6 .3-1 .3 .8 .3 0 .3 .7 .3 .3 .3-.4 .3 .6 .3-.7 .3-.5 .3 .8 .3-.4 .3-1.4 .3 1.7 .3-.2 .3-1 .3 1.5 .3-1.6 .3 2.4 .3-3.3 .3 1.9 .3-.6 .3 .2 .3 .8 .3-.1 .3 .1 .3 .4 .3-1.5 .3 .7 .3-.1 .3 .1 .3-1.4 .3 2.1 .3-.5 .3 .2 .3 0 .3-1 .3-.1 .3 .1 .3-.6 .3 .6 .3 .3 .3 .5 .3-.7 .3 1.6 .3-1.8 .3 .7 .3 0 .3-1.1 .3 1.4 .3-1.7 .3 .7 .3 0 .3 .1 .3 .8 .3 .7 .3-.7 .3 .4 .3-.9 .3-.2 .3 .9 .3-.8 .3 .9 .3 .8 .3 .2 .3 .1 .3-1.9 .3 1.1 .3-.4 .3-.3 .3-.7 .3 1 .3 .8 .3-.7 .3-.3 .3 1.3 .3-.9 .3 0 .3 1.2 .3 .2 .3-1.2 .3-.4 .3-.2 .3-.2 .3 .1 .3 .9 .3 .5 .3-1.8 .3 .4 .3 .5 .3-.3 .3-.3 .3-.5 .3-.4 .3 1.3 .3 .1 .3-.3 .3 .1 .3-.5 .3-.1 .3-1.5 .3 2.4 .3-1.9 .3 1.3 .3 .4 .3-.8 .3 .5 .3-.3 .3 .4 .3-.5 .3-.9 .3 .9 .3-1.1 .3 1.3 .3 0 .3 .5 .3-1.3 .3-.4 .3 1.2 .3-.4 .3-.1 .3-.5 .3 .3 .3 .9 .3-.7 .3 0 .3 1.3 .3-.6 .3-.7 .3 .8 .3-1.3 .3 0 .3 .7 .3 .1 .3 0 .3 1.2 .3-2.4 .3 1.2 .3-.1 .3 .2 .3-1 .3-.2 .3 .6 .3 0 .3-.7 .3 1.2 .3-1.2 .3-.6 .3 1.3 .3-.3 .3-.9 .3 .7 .3-.2 .3 .1 .3-.2 .3 .6 .3 .5 .3-.5 .3 1 .3-.5 .3 .9 .3-.7 .3-.8 .3 .6 .3-.1 .3-1.1 .3 .2 .3 .9 .3-.9 .3 1.2 .3-1.3 .3 1 .3-.4 .3-.5 .3 .3 .3 .1 .3 1.8 .3-1 .3-.8 .3 1.4 .3-1 .3-.3 .3 .8 .3-.3 .3-.3 .3-.4 .3 .5 .3-.3 .3-.4 .3 .4 .3-.1 .3-.4 .3 .1 .3 1.3 .3 .2 .3-.7 .3-.7 .3 .2 .3 .2 .3 .8 .3-1.1 .3-.2 .3 .1 .3 .6 .3 .4 .3 .7 .3-2 .3 .8 .3 .4 .3-.9 .3 .7 .3-.7 .3 .8 .3 .8 .3 .4 .3-1.7 .3 .4 .3 1.1 .3-.1 .3-.2 .3-.1 .3-.6 .3-.6 .3 .3 .3 .6 .3-.4 .3 .3 .3 .1 .3-.1 .3 .1 .3-1.3 .3 .5 .3 .9 .3-.6 .3-.3 .3 .6 .3-.7 .3 1.4 .3-.3 .3-.3 .3 .4 .3-.7 .3 1.1 .3-1.2 .3 1.2 .3-.9 .3 .1 .3-.4 .3 .1 .3 .5 .3-.5 .3-.1 .3 1.4 .3-2 .3 .1 .3-.4 .3-.4 .3 1.4 .3-.1 .3-.7 .3-.2 .3 1.3 .3-.7 .3 1.7 .3-.3 .3-.7 .3-.5 .3 .6 .3-1.5 .3 1.6 .3 .7 .3-2.3 .3 .8 .3 .7 .3-.6 .3-.3 .3 1.2 .3-.8 .3 .5 .3-.9 .3 .3 .3-1 .3-.3 .3 .4 .3 .8 .3 .6 .3-1.4 .3 1.4 .3-1.4 .3-.1 .3 1.1 .3 .1 .3-.7 .3 .4 .3 .2 .3 0 .3-.8 .3-.1 .3 2.4 .3-1.7 .3-1 .3 .8 .3 .2 .3 .1 .3-1.6 .3 .9 .3 .5 .3 .3 .3 .4 .3-.6 .3-.6 .3 2.1 .3-1.9 .3 .7 .3 .7 .3-.9 .3 1 .3-.7 .3 .2 .3 .3 .3-.7 .3-1.2 .3 1.5 .3-.1 .3-.5 .3 .2 .3-.5 .3-.3 .3 1 .3-1.1 .3 1.1 .3-.7 .3 0 .3-.5 .3 .3 .3 .4 .3 .1 .3-.1 .3 .4 .3-.7 .3 .4 .3-.2 .3 1 .3 .3 .3-.3 .3 .9 .3-1.6 .3-.1 .3 .5 .3 1.6 .3-1.1 .3-.3 .3-.2 .3 .7 .3-.2 .3 .4 .3-.2 .3 .6 .3-2.2 .3 .9 .3 .1 .3-1.1 .3 .6 .3 1 .3-.3 .3 .3 .3-1.4 .3 1.6 .3-1.3 .3 1.1 .3-.9 .3 .7 .3-.5 .3-.3 .3-.1 .3 .5 .3 1.2 .3-1.7 .3 1.2 .3-.3 .3 .1 .3 .2 .3 .1 .3-.8 .3-.1 .3-.3 .3 1 .3 .2 .3 0 .3-.7 .3-.3 .3-.5 .3 .6 .3-.4 .3-.3 .3 .1 .3-.5 .3 1.2 .3-.2 .3 .9 .3-.9 .3 1.6 .3-1.5 .3-.5 .3 .9 .3-.8 .3 1 .3-1.3 .3-.3 .3 2.6 .3-1.3 .3 0 .3-.6 .3 .1 .3 .2 .3 .4 .3 .1 .3-1.4 .3 2.1 .3-.4 .3 .3 .3-1.7 .3 .7 .3 0 .3 .3 .3-1.2 .3 1.7 .3-.9 .3-1.5 .3 2.2 .3-1 .3 1.6 .3-2.1 .3 .8 .3-.6 .3 1.5 .3-1.3 .3 .1 .3 .4 .3 .1 .3 1.4 .3-1.1 .3-.1 .3 .4 .3 0 .3-.2 .3-.4 .3 0 .3 0 .3 .1 .3-.1 .3 .8 .3-1.6 .3-.1 .3 .6 .3 0 .3 .6 .3-.2 .3-.1 .3 1.1 .3-.7 .3-1.3 .3 .8 .3-.7 .3 .7 .3-.6 .3 0 .3-.3 .3 .7 .3 .3 .3 .2 .3-.3 .3-.1 .3 .3 .3 .4 .3-1.3 .3-.4 .3 .9 .3-.1 .3 1 .3 .1 .3 .3 .3-1.8 .3 1.4 .3 .1 .3-.6 .3 .6 .3-.3 .3-.5 .3 1 .3-.7 .3-1.2 .3 1.3 .3-1.2 .3 .5 .3-1.1 .3 .9 .3 1 .3-.7 .3-1.1 .3 .5 .3 1.8 .3-1.1 .3 .8 .3 1 .3-.9 .3 0 .3 1 .3-2.5 .3 1.5 .3-.1 .3 .1 .3 .1 .3-.7 .3-.6 .3 1.7 .3-.3 .3-1.7 .3 .4 .3 .8 .3 0 .3-.7 .3 .2 .3-.1 .3 .3 .3-.5 .3 .2 .3-.5 .3 1.8 .3-1.5 .3 .4 .3 .1 .3-.1 .3-.5 .3 .2 .3 .3 .3-1.3 .3 1.5 .3 1.6 .3-2.2 .3 .1 .3 .7 .3-.5 .3-.1 .3 .8 .3-.4 .3 0 .3 .9 .3-.3 .3 .2 .3 .4 .3-.6 .3 .1 .3-.4 .3 .7 .3 .3 .3-1.4 .3 .6 .3-.9 .3 .6 .3-.2 .3 .6 .3-.8 .3 1.4 .3 .1 .3-.5 .3 .9 .3-2.1 .3-.6 .3 .9 .3-.3 .3 .1 .3 .4 .3 .6 .3 .3 .3-1 .3 .9 .3-.7 .3-.1 .3 1 .3-1.1 .3 .3 .3-.2 .3-.8 .3 1.1 .3 .9 .3-1.4 .3 .8 .3 .3 .3-.7 .3 .1 .3-.3 .3-.7 .3 .6 .3 .7 .3 .1 .3-1.5 .3 1.7 .3-2.3 .3 .5 .3 .8 .3-.9 .3 .5 .3 .6 .3-1.1 .3-.1 .3 1.4 .3 .5 .3-1.2 .3 .9 .3-2.1 .3 .6 .3 1.3 .3-.2 .3-.4 .3-.7 .3-.4 .3 1.8 .3 .3 .3-.6 .3 .3 .3-.5 .3-.3 .3-.2 .3-.2 .3-.2 .3 1.6 .3-.5 .3-.2 .3 .8 .3-.6 .3-.4 .3 .1 .3 .4 .3-.9 .3 .6 .3-.8 .3 .2 .3 .4 .3-.5 .3 .7 .3 .1 .3 1 .3-1.1 .3 .4 .3-.7 .3 .5 .3 .1 .3 .8 .3-.5 .3-.4 .3-.4 .3 .5 .3 .4 .3-1.4 .3 1.8 .3-.9 .3-1 .3 .6 .3 .8 .3 .2 .3-1.3 .3 .5 .3 1 .3-.5 .3 .8 .3-.5 .3-1.2 .3 .5 .3-.6 .3 .8 .3 .6 .3-.3 .3-.9 .3-.7 .3 1 .3-1.6 .3 1.5 .3 1.2 .3-.9 .3-1.2 .3 1.1 .3-.3 .3 .9 .3-1.6 .3 1.4 .3-.5 .3 1.2 .3-.6 .3-.8 .3 1.1 .3-.7 .3 1 .3-.1 .3 .4 .3-.7 .3 0 .3-.2 .3 .4 .3-1.6 .3 2.4 .3-1 .3 .2 .3-1.2 .3 .3 .3 .1 .3 1.5 .3-1.1 .3 .1 .3 .9 .3-1.2 .3-.7 .3-.6 .3 1.9 .3 1 .3-.7 .3-.1 .3-1.1 .3 1.9 .3-1.4 .3 1.1 .3 .8 .3-1.1 .3-1.5 .3 1.2 .3-.5 .3 .2 .3 .8 .3 .5 .3-.5 .3-.7 .3 .4 .3-1.1 .3 .8 .3-.2 .3 .8 .3-.1 .3-.4 .3-.2 .3-.1 .3 1.2 .3-.4 .3 0 .3-.9 .3 .8 .3-.4 .3 .6 .3 1.1 .3-1.4 .3-.1 .3-1.6 .3 .8 .3-.7 .3 .7 .3 1.1 .3 .4 .3-1.3 .3-1.3 .3 2.3 .3-.1 .3-.7 .3-1.4 .3 2.2 .3-.9 .3 .2 .3-1.5 .3 .9 .3 1.6 .3-1.6 .3 1.1 .3-.5 .3 0 .3 .3 .3-1 .3 .7 .3-.1 .3-.6 .3 .7 .3-.5 .3-.5 .3 2.1 .3-.3 .3-.7 .3 .4 .3-1.2 .3 .9 .3 .3 .3 0 .3-1.1 .3 .5 .3 .1 .3-1 .3 2.1 .3-1.7 .3-.9 .3 1.1 .3 1.2 .3-2 .3 2.3 .3-.6 .3-.4 .3 .1 .3 .7 .3-1.6 .3 .5 .3-.2 .3 .9 .3-.8 .3-.1 .3 .2 .3 .2 .3 .4 .3-1.1 .3 .5 .3 0 .3 .3 .3 .5 .3-1.7 .3-.2 .3 .4 .3 0 .3 .8 .3-.8 .3 .8 .3-.4 .3 1.1 .3-.8 .3 .9 .3-.3 .3-1.6 .3 .9 .3-.2 .3 .1 .3 .7 .3-.9 .3 1.2 .3 .9 .3 0 .3-1 .3 .3 .3-.9 .3 .8 .3-.6 .3 .3 .3 .2 .3 .3 .3-.4 .3 1.1 .3-1.5 .3 1.1 .3-.4 .3-.3 .3 .9 .3-.6 .3-.9 .3 1.1 .3-1.2 .3 .6 .3-.8 .3 1.1 .3-2 .3 1 .3 .5 .3 .7 .3-.9 .3 1.7 .3-1.2 .3-.1 .3-1.2 .3 1.9 .3-1 .3 .2 .3 .3 .3 .5 .3-.9 .3 .7 .3-.8 .3-.3 .3 .6 .3 1.1 .3-.8 .3-1 .3 .9 .3-.1 .3-.8 .3 .8 .3 0 .3-1.5 .3 1.6 .3-1.7 .3 1.4 .3-.7 .3 .2 .3 .2 .3-.2 .3 .5 .3-.1 .3 .9 .3-1.7 .3 .3 .3 .4 .3-.6 .3-.2 .3 .2 .3 .4 .3 1.3 .3-2.5 .3 1.1 .3-1.1 .3 2.5 .3-1.7 .3 .6 .3-2 .3 1.9 .3-.1 .3 .3 .3 .5 .3-.5 .3 .8 .3-1 .3-.7 .3 1.3 .3-.2 .3-1 .3 .9 .3 0 .3-.7 .3 0 .3 1.8 .3-1.1 .3 .1 .3 .5 .3-1.6 .3 .6 .3 .7 .3 .4 .3-.4 .3-.4 .3 .1 .3 0 .3 .4 .3-1.8 .3 2.5 .3-2 .3 .7 .3 .4 .3-1.1 .3 0 .3 .7 .3 0 .3 .5 .3-.2 .3 .5 .3-.1 .3-1 .3 .3 .3 .4 .3-.9 .3-.2 .3 .8 .3-.1 .3-.4 .3-.1 .3 2 .3-.8 .3-.3 .3 .9 .3 0 .3-1.4 .3 1.7 .3-2.2 .3-.8 .3 .7 .3 1.2 .3-.2 .3 1.3 .3-.2 .3-1.1 .3-.8 .3-.1 .3 1.3 .3-1.2 .3 .8 .3-.2 .3 .5 .3 1.3 .3-1.3 .3 1.2 .3-1.5 .3-.8 .3 1.6 .3-2.6 .3 2.5 .3-.9 .3 0 .3-.6 .3 .8 .3-.9 .3-.3 .3 .7 .3 .9 .3-.5 .3 .1 .3-1.2 .3 1.4 .3-.4 .3 .4 .3-.5 .3-.6 .3 .7 .3-1.2 .3 1.7 .3 .5 .3-.4 .3-1.7 .3 .6 .3 .8 .3-.4 .3 .1 .3 .4 .3-1 .3 1 .3 0 .3 .1 .3-1.3 .3 1.1 .3-.2 .3 .7 .3-1.8 .3 .4 .3 .1 .3 .9 .3-1.1 .3-.5 .3 .6 .3 1.3 .3 .8 .3-.4 .3-.5 .3-1.4 .3 1.2 .3-.2 .3 .4 .3-.5 .3 .4 .3-1.1 .3 .4 .3-.4 .3 1.2 .3-2.4 .3 .3 .3 1.2 .3-.4 .3 1.4 .3-.9 .3-.4 .3-.4 .3 .9 .3 .1 .3-.6 .3 .3 .3 .2 .3-2.3 .3 .4 .3 1.9 .3 0 .3-.3 .3-.1 .3 .2 .3-1 .3 .3 .3 .7 .3-1.1 .3 .8 .3 .3 .3-.8 .3 1.5 .3-.6 .3-.3 .3-.5 .3 1.2 .3-1.1 .3 1.4 .3 .1 .3-1.3 .3 .9 .3 .9 .3-1.1 .3-.4 .3 .6 .3-.8 .3 .3 .3-1.1 .3 .8 .3 .6 .3-.1 .3-.2 .3-.7 .3 0 .3 .9 .3-.4 .3 .3 .3-.6 .3 0 .3-.3 .3 1.3 .3-.9 .3-.3 .3 1.2 .3-1.1 .3 .7 .3 .4 .3 .1 .3-2.1 .3 1 .3 .4 .3-.2 .3-.3 .3 1.3 .3-1.5 .3-.5 .3 .8 .3-.2 .3 .5 .3-.3 .3 0 .3-.6 .3 2.8 .3-1.8 .3-.5 .3 .1 .3-.2 .3 1.1 .3-.8 .3-.3 .3 1.3 .3-.4 .3 1.7 .3-2.6 .3-.5 .3 2 .3-.7 .3 1.1 .3-1.2 .3 .9 .3-1.4 .3 1.4 .3-1.2 .3-1 .3 .8 .3 .2 .3 1.6 .3-.9 .3 .7 .3-.1 .3-1.6 .3 1.8 .3-.8 .3 .7 .3 0 .3-.7 .3 .6 .3-1.2 .3-.2 .3 1.6 .3-1.1 .3 .3 .3 .6 .3 .5 .3-1.4 .3 0 .3 1.3 .3-1.3 .3 .6 .3-.1 .3-.4 .3 .3 .3 0 .3-.4 .3 1.4 .3-.7 .3-1 .3 .2 .3-.6 .3 .7 .3-.7 .3 .6 .3-.4 .3-.3 .3 0 .3 .6 .3 .3 .3-.2 .3-.3 .3 .4 .3-.2 .3 1.5 .3-1.6 .3-.2 .3 .5 .3-.3 .3 .2 .3-.4 .3-.6 .3 2 .3-2 .3 .3 .3 1.2 .3 .5 .3-1 .3-.7 .3 .4 .3 .2 .3-.4 .3-.4 .3 .5 .3-.4 .3 .7 .3-.4 .3-.3 .3 1.3 .3-1.6 .3 .1 .3 1.6 .3-.7 .3-.2 .3-.7 .3-.6 .3 .8 .3-1.6 .3 2.8 .3-.9 .3-1.1 .3 .4 .3 1.2 .3-1 .3 1.2 .3-.7 .3-.1 .3 .9 .3-.4 .3 0 .3-.9 .3 2.5 .3-1.9 .3-.5 .3 .6 .3 .1 .3 0 .3 .7 .3-.5 .3 .4 .3-.5 .3-.2 .3 .5 .3-2.1 .3-.5 .3 2.1 .3-.7 .3-.3 .3 1.6 .3-.7 .3 .2 .3 .4 .3-.7 .3 .9 .3-.8 .3-.3 .3 .1 .3 1.1 .3-1 .3 .5 .3-.8 .3 .3 .3-.5 .3 .9 .3-.3 .3-.3 .3 1.4 .3-1.5 .3 .8 .3 .3 .3-1.3 .3 1.1 .3-.6 .3 .1 .3 1 .3-2.2 .3-.5 .3 1.6 .3-1.8 .3 .7 .3 .6 .3 .2"/>
</g>
<line class="tk" x1="40.64" y1="48.5" x2="45.50" y2="48.5"/>
<text class="t" x="13.14" y="53.00" textLength="21.44" lengthAdjust="spacingAndGlyphs">0.0</text>
<line class="tk" x1="40.64" y1="80.5" x2="45.50" y2="80.5"/>
<text class="t" x="1.85" y="85.00" textLength="32.49" lengthAdjust="spacingAndGlyphs">−0.2</text>
<line class="tk" x1="40.64" y1="112.5" x2="45.50" y2="112.5"/>
<text class="t" x="1.84" y="117.00" textLength="32.77" lengthAdjust="spacingAndGlyphs">−0.4</text>
<line class="tk" x1="40.64" y1="143.5" x2="45.50" y2="143.5"/>
<text class="t" x="1.84" y="148.00" textLength="32.95" lengthAdjust="spacingAndGlyphs">−0.6</text>
<line class="tk" x1="40.64" y1="175.5" x2="45.50" y2="175.5"/>
<text class="t" x="1.84" y="180.00" textLength="32.84" lengthAdjust="spacingAndGlyphs">−0.8</text>
<line class="tk" x1="67.5" y1="203.5" x2="67.5" y2="208.36"/>
<line class="tk" x1="169.5" y1="203.5" x2="169.5" y2="208.36"/>
<line class="tk" x1="271.5" y1="203.5" x2="271.5" y2="208.36"/>
<line class="tk" x1="373.5" y1="203.5" x2="373.5" y2="208.36"/>
<line class="tk" x1="475.5" y1="203.5" x2="475.5" y2="208.36"/>
<line class="tk" x1="577.5" y1="203.5" x2="577.5" y2="208.36"/>
<rect class="lg" x="52.4" y="41.4" width="149.0" height="128.4" rx="2.8" ry="2.8"/>
<line x1="58.0" y1="52.00" x2="85.0" y2="52.00" stroke="#1f77b4" stroke-width="2.08" stroke-linecap="square"/>
<text class="t" x="95.59" y="56.80" textLength="99.55" lengthAdjust="spacingAndGlyphs">Uncorrected X</text>
<line x1="58.0" y1="73.00" x2="85.0" y2="73.00" stroke="#ff7f0e" stroke-width="2.08" stroke-linecap="square"/>
<text class="t" x="95.60" y="77.80" textLength="99.03" lengthAdjust="spacingAndGlyphs">Uncorrected Y</text>
<line x1="58.0" y1="94.00" x2="85.0" y2="94.00" stroke="#2ca02c" stroke-width="2.08" stroke-linecap="square"/>
<text class="t" x="95.58" y="98.80" textLength="99.50" lengthAdjust="spacingAndGlyphs">Uncorrected Z</text>
<line x1="58.0" y1="115.00" x2="85.0" y2="115.00" stroke="#d62728" stroke-width="2.08" stroke-linecap="square"/>
<text class="t" x="95.92" y="119.80" textLength="82.73" lengthAdjust="spacingAndGlyphs">Corrected X</text>
<line x1="58.0" y1="136.00" x2="85.0" y2="136.00" stroke="#9467bd" stroke-width="2.08" stroke-linecap="square"/>
<text class="t" x="95.93" y="140.80" textLength="82.02" lengthAdjust="spacingAndGlyphs">Corrected Y</text>
<line x1="58.0" y1="157.00" x2="85.0" y2="157.00" stroke="#8c564b" stroke-width="2.08" stroke-linecap="square"/>
<text class="t" x="95.92" y="161.80" textLength="82.58" lengthAdjust="spacingAndGlyphs">Corrected Z</text>
<path class="ln" stroke="#000" clip-path="url(#c0)" d="M70.8 195.0 L71.3 194.4 L71.8 193.9 L72.3 193.4 L72.8 192.9 L73.3 192.5 L73.8 192.1 L74.3 191.7 L74.8 191.3 L75.3 191.0 L75.8 190.6 L76.3 190.3 L76.8 190.0 L77.3 189.6 L77.8 189.3 L78.3 189.0 L78.8 188.7 L79.3 188.4 L79.8 188.0 L80.3 187.7 L80.8 187.4 L82.8 186.1 L84.8 184.9 L86.8 183.6 L88.8 182.4 L90.8 181.1 L92.8 179.8 L94.8 178.6 L96.8 177.3 L98.8 176.1 L100.8 174.8 L102.8 173.6 L104.8 172.3 L106.8 171.1 L108.8 169.8 L110.8 168.6 L112.8 167.4 L114.8 166.2 L116.8 165.0 L118.8 163.8 L120.8 162.6 L122.8 161.4 L124.8 160.2 L126.8 159.1 L128.8 157.9 L130.8 156.8 L132.8 155.7 L134.8 154.6 L136.8 153.4 L138.8 152.3 L140.8 151.3 L142.8 150.2 L144.8 149.1 L146.8 148.0 L148.8 147.0 L150.8 145.9 L152.8 144.9 L154.8 143.8 L156.8 142.8 L158.8 141.8 L160.8 140.8 L162.8 139.8 L164.8 138.8 L166.8 137.8 L168.8 136.8 L170.8 135.8 L172.8 134.9 L174.8 133.9 L176.8 133.0 L178.8 132.0 L180.8 131.1 L182.8 130.1 L184.8 129.2 L186.8 128.3 L188.8 127.3 L190.8 126.4 L192.8 125.5 L194.8 124.6 L196.8 123.7 L198.8 122.8 L200.8 121.9 L202.8 121.0 L204.8 120.1 L206.8 119.2 L208.8 118.4 L210.8 117.5 L212.8 116.6 L214.8 115.8 L216.8 114.9 L218.8 114.0 L220.8 113.2 L222.8 112.3 L224.8 111.5 L226.8 110.7 L228.8 109.8 L230.8 109.0 L232.8 108.2 L234.8 107.4 L236.8 106.5 L238.8 105.7 L240.8 104.9 L242.8 104.1 L244.8 103.3 L246.8 102.5 L248.8 101.7 L250.8 100.9 L252.8 100.2 L254.8 99.4 L256.8 98.6 L258.8 97.8 L260.8 97.1 L262.8 96.3 L264.8 95.6 L266.8 94.8 L268.8 94.1 L270.8 93.3 L272.8 92.6 L274.8 91.8 L276.8 91.1 L278.8 90.4 L280.8 89.7 L282.8 89.0 L284.8 88.2 L286.8 87.5 L288.8 86.8 L290.8 86.1 L292.8 85.4 L294.8 84.7 L296.8 84.1 L298.8 83.4 L300.8 82.7 L302.8 82.0 L304.8 81.4 L306.8 80.7 L308.8 80.0 L310.8 79.4 L312.8 78.7 L314.8 78.1 L316.8 77.4 L318.8 76.8 L320.8 76.2 L322.8 75.6 L324.8 74.9 L326.8 74.3 L328.8 73.7 L330.8 73.1 L332.8 72.5 L334.8 71.9 L336.8 71.3 L338.8 70.7 L340.8 70.1 L342.8 69.5 L344.8 69.0 L346.8 68.4 L348.8 67.8 L350.8 67.3 L352.8 66.7 L354.8 66.2 L356.8 65.6 L358.8 65.1 L360.8 64.5 L362.8 64.0 L364.8 63.5 L366.8 63.0 L368.8 62.4 L370.8 61.9 L372.8 61.4 L374.8 60.9 L376.8 60.4 L378.8 59.9 L380.8 59.5 L382.8 59.0 L384.8 58.5 L386.8 58.0 L388.8 57.6 L390.8 57.1 L392.8 56.7 L394.8 56.2 L396.8 55.8 L398.8 55.3 L400.8 54.9 L402.8 54.5 L404.8 54.1 L406.8 53.6 L408.8 53.2 L410.8 52.8 L412.8 52.4 L414.8 52.0 L416.8 51.6 L418.8 51.2 L420.8 50.8 L422.8 50.4 L424.8 50.0 L426.8 49.6 L428.8 49.2 L430.8 48.8 L432.8 48.4 L434.8 48.1 L436.8 47.7 L438.8 47.3 L440.8 46.9 L442.8 46.5 L444.8 46.1 L446.8 45.6 L448.8 45.2 L450.8 44.8 L452.8 44.4 L454.8 44.0 L456.8 43.5 L458.8 43.1 L460.8 42.7 L462.8 42.2 L464.8 41.8 L466.8 41.3 L468.8 40.8 L469.8 40.6"/>
<line class="tk" x1="615.5" y1="50.5" x2="620.36" y2="50.5"/>
<text class="t" x="625.20" y="55.70" textLength="17.19" lengthAdjust="spacingAndGlyphs">60</text>
<line class="tk" x1="615.5" y1="106.5" x2="620.36" y2="106.5"/>
<text class="t" x="625.31" y="111.70" textLength="17.07" lengthAdjust="spacingAndGlyphs">40</text>
<line class="tk" x1="615.5" y1="162.5" x2="620.36" y2="162.5"/>
<text class="t" x="625.24" y="167.70" textLength="17.15" lengthAdjust="spacingAndGlyphs">20</text>
<rect class="fr" x="45.5" y="34.5" width="570.0" height="169.0"/>
<rect class="lg" x="447.6" y="41.4" width="160.8" height="24.8" rx="2.8" ry="2.8"/>
<line x1="453.1" y1="52.00" x2="480.0" y2="52.00" stroke="#000" stroke-width="2.08" stroke-linecap="square"/>
<text class="t" x="491.64" y="56.80" textLength="111.61" lengthAdjust="spacingAndGlyphs">Temperature(C)</text>
</g>
<g>
<clipPath id="c1"><rect x="45.5" y="237.5" width="570.0" height="169.0"/></clipPath>
<text class="h" x="247.47" y="227.50" textLength="164.25" lengthAdjust="spacingAndGlyphs">IMU[1] Gyro (deg/s)</text>
<g clip-path="url(#c1)">
<path class="ln" stroke="#1f77b4" d="M70.8 297.8l.3 .4 .3-2 .3 1.9 .3-.6 .3 0 .3 .6 .3-.1 .3 1.3 .3 .2 .3-.4 .3 .7 .3-1.5 .3-1.4 .3 .4 .3 1 .3-.4 .3-.1 .3-.1 .3-1.4 .3 1.4 .3 .1 .3 .1 .3-.6 .3 .2 .3 .5 .3-1.6 .3 1.4 .3 .2 .3 1.2 .3-.2 .3 .1 .3-1.1 .3-.5 .3 .3 .3 .6 .3-.9 .3-1.8 .3 2 .3-.2 .3-.8 .3 .4 .3 .3 .3-.3 .3 .4 .3 .1 .3-.6 .3 1 .3-.5 .3-.4 .3 .2 .3 .1 .3 .9 .3-.4 .3-.4 .3 .5 .3-.3 .3-.1 .3 .4 .3-.4 .3 0 .3 .2 .3-.2 .3 .6 .3-.4 .3 .4 .3-1.4 .3 1.7 .3-1.1 .3-.4 .3 1.1 .3 .4 .3 0 .3-.2 .3-1 .3 .2 .3 .9 .3-1.2 .3 .5 .3 .2 .3-.2 .3-1.7 .3 1.2 .3-1.5 .3 2.1 .3-.1 .3-.8 .3-.5 .3 .2 .3-.3 .3 .8 .3-.2 .3 1.4 .3-1.8 .3-.1 .3 2.1 .3-1.8 .3-.4 .3 1.1 .3 .8 .3-.9 .3 .2 .3 .5 .3-1 .3 .5 .3 .3 .3-.8 .3 1.5 .3-2.2 .3 .2 .3 .5 .3-.3 .3 .3 .3 .7 .3 .4 .3-2.1 .3 .5 .3-.5 .3 .8 .3-.5 .3 0 .3 .3 .3 .2 .3-.7 .3 .3 .3-.8 .3 1.9 .3-1.2 .3 .9 .3 0 .3-1.2 .3-1.3 .3 1.2 .3-.9 .3 1.3 .3-.9 .3 .9 .3 0 .3-1.3 .3 2.1 .3 .8 .3-2.3 .3 .6 .3-.5 .3 .6 .3 .1 .3 .1 .3 .3 .3-.2 .3-.8 .3-.8 .3 1.1 .3-.2 .3 .5 .3 .3 .3-1 .3-.4 .3 .2 .3-.5 .3 .4 .3-.1 .3 .3 .3-.7 .3-.3 .3 1 .3 .2 .3 0 .3-.9 .3-.5 .3-.1 .3 1.5 .3-.3 .3-.1 .3 .6 .3-.4 .3 .1 .3-.8 .3 1.2 .3-.2 .3-1.7 .3 1.2 .3 .3 .3 .8 .3-1.9 .3 .6 .3-.1 .3-.7 .3 .3 .3 0 .3-.9 .3 .7 .3-.8 .3-.1 .3 0 .3 1.2 .3-.1 .3-1.3 .3-.2 .3-1.5 .3 1.8 .3 .9 .3-.8 .3 .4 .3-.5 .3-.5 .3 .5 .3 .9 .3-.4 .3-1 .3 .1 .3 .7 .3-.3 .3 .7 .3-1.7 .3-.7 .3 1.1 .3-1 .3 .5 .3 0 .3 .3 .3 1.4 .3-1 .3-.8 .3-.5 .3 1 .3-.8 .3-.4 .3 1.3 .3-1 .3 1 .3 .7 .3-1.9 .3 .9 .3-.6 .3 .1 .3 1.2 .3-2.3 .3 .8 .3 1.4 .3-1.5 .3-.4 .3 .4 .3 .1 .3 .3 .3 0 .3 .4 .3-.4 .3-.1 .3 0 .3-.9 .3 1.2 .3 .4 .3-1.3 .3 .8 .3 .4 .3-.8 .3 0 .3-1 .3 .1 .3 .6 .3 .6 .3-1.8 .3 1.6 .3-1.2 .3-.5 .3-1.2 .3 1.1 .3 .4 .3-1.1 .3 .6 .3 0 .3 .2 .3-.1 .3-.2 .3 .3 .3-.5 .3-.2 .3 0 .3 0 .3-1.4 .3 1.3 .3-.7 .3 .9 .3-.6 .3 .2 .3-1.1 .3 .5 .3-.4 .3-1.2 .3-.2 .3 .2 .3 1.2 .3 0 .3-.5 .3 .5 .3 0 .3-1.8 .3 .3 .3 .6 .3 .5 .3 .1 .3-1.1 .3 1.4 .3-.6 .3 0 .3-.3 .3 .1 .3-1.3 .3 .5 .3 0 .3 .7 .3-.3 .3-.5 .3 2.6 .3-4.4 .3 1.4 .3 1.3 .3-.8 .3-1.7 .3 1.6 .3-.4 .3 .4 .3-.1 .3-.8 .3-.4 .3 0 .3 0 .3-.7 .3 .7 .3-.1 .3-.4 .3-1.2 .3 1.9 .3-1.2 .3 .1 .3 1.1 .3-1.4 .3 1 .3-.8 .3-1.1 .3 1.1 .3-.3 .3 .3 .3-.4 .3 .4 .3 .1 .3-.5 .3 .6 .3-1.6 .3 1 .3-.1 .3 0 .3 .7 .3-1.1 .3 .6 .3-.6 .3 .1 .3-.9 .3 .8 .3-.3 .3 1.8 .3-1.8 .3 .7 .3 .3 .3-.5 .3-1.3 .3-.1 .3 1.1 .3-1.9 .3 .9 .3 .9 .3-2.1 .3 .5 .3-.3 .3 .4 .3 .9 .3-1.2 .3 .2 .3 .9 .3-.1 .3-.8 .3-.4 .3-.2 .3 1.1 .3 .1 .3 .3 .3-.4 .3 .1 .3-1.4 .3 1.4 .3-1.8 .3 2.1 .3-2.1 .3 .4 .3-.6 .3 1.4 .3-1.2 .3 .4 .3-.2 .3-1.1 .3 .1 .3-.3 .3 .4 .3 .9 .3-.3 .3 .1 .3-1.2 .3-.4 .3 1.4 .3-.8 .3-.2 .3-.4 .3 .3 .3 .3 .3-1.4 .3-.2 .3-.7 .3 .8 .3-.4 .3-.6 .3 1.3 .3 0 .3-.3 .3-.9 .3 .3 .3 .2 .3 1.4 .3-1 .3 .4 .3-.9 .3-.5 .3 1.6 .3-.9 .3-.3 .3 .3 .3-.8 .3-.2 .3-1.1 .3 .8 .3-1.2 .3-.4 .3 1 .3-.9 .3 .1 .3 .2 .3 0 .3 1.1 .3-1.2 .3 .4 .3 .2 .3-1.5 .3-.2 .3 1 .3-.7 .3-.3 .3 1.2 .3-.6 .3-.5 .3 .7 .3-2.1 .3 1.7 .3 .4 .3-.3 .3-.5 .3 .5 .3-.7 .3-.6 .3 .4 .3 .3 .3-.3 .3-.9 .3-1.8 .3 3.3 .3-1.5 .3-1.4 .3 .4 .3 .7 .3-1.7 .3 1.2 .3-.6 .3 1.2 .3-1.7 .3 .5 .3 .9 .3-.4 .3-.9 .3 .1 .3 0 .3-1.4 .3 1.5 .3 0 .3-1.1 .3-.3 .3 .4 .3 .8 .3-1.3 .3 .3 .3-.2 .3 .2 .3 .5 .3-1.1 .3-.7 .3 .9 .3 1.1 .3-1.5 .3 1.5 .3-.4 .3-.8 .3 1 .3-.5 .3 .2 .3 .2 .3-.9 .3 .6 .3 1 .3-.8 .3 .4 .3-1.5 .3 2.3 .3-1.2 .3-.2 .3-.6 .3-.1 .3 .5 .3 .7 .3-.8 .3 1.3 .3-1.8 .3-.9 .3 .4 .3 1 .3-.1 .3-1.5 .3 .3 .3 1.5 .3-1.9 .3 1.8 .3-.8 .3 .4 .3-.2 .3 .7 .3 .3 .3-1.3 .3 1.2 .3-.2 .3-.7 .3 .2 .3 .6 .3-.4 .3-.1 .3 .7 .3-.3 .3-1 .3 1.5 .3-.5 .3-.2 .3 .1 .3-1.2 .3 .9 .3-.5 .3 .2 .3 1.4 .3-1.4 .3 1.2 .3-1.6 .3 0 .3 .7 .3-.2 .3-1.4 .3 1.3 .3-.7 .3 .2 .3 .5 .3-.7 .3-1.1 .3 1.1 .3-.1 .3-.2 .3-.1 .3 .8 .3 .2 .3 0 .3 1 .3-.7 .3 0 .3-1.1 .3 .8 .3 1.6 .3-2.8 .3 1.9 .3-.4 .3-.3 .3 0 .3 0 .3-.9 .3 1.8 .3-1 .3 .5 .3-.3 .3 .3 .3-.1 .3-.3 .3 .8 .3-.9 .3 0 .3-.7 .3 .2 .3 1 .3-1 .3 .7 .3-.3 .3-.9 .3 1.4 .3-.3 .3 0 .3 .8 .3-.4 .3-1 .3 .9 .3-.7 .3-.2 .3 1.4 .3-2.4 .3 1.2 .3-.3 .3 1.1 .3 .3 .3-1.2 .3-1.3 .3 2.9 .3-1.7 .3 .2 .3 0 .3 .3 .3 .1 .3-1 .3 .8 .3 .3 .3-1 .3-.2 .3 1.1 .3-.1 .3-.5 .3-.2 .3-1.9 .3 1.3 .3 0 .3-.1 .3 .6 .3 .1 .3-.6 .3-.2 .3 1 .3-1.6 .3 0 .3 1.2 .3-.4 .3 .9 .3-.2 .3-.4 .3-.2 .3-.2 .3-.4 .3 1.7 .3-1.3 .3 0 .3-.2 .3-.4 .3-.6 .3 1.2 .3 .2 .3-1.2 .3-.6 .3 1 .3 .1 .3 .6 .3-.7 .3 .5 .3-.7 .3-.6 .3 1.9 .3-.9 .3-.6 .3-.2 .3 .9 .3-1.6 .3 1 .3 .7 .3-.8 .3 .7 .3 .4 .3 .5 .3-1 .3-1.3 .3-.6 .3 .6 .3 1.4 .3-1.4 .3 .6 .3-.2 .3 1 .3-1.3 .3-.2 .3-.4 .3 .7 .3-.1 .3-.2 .3 .2 .3 0 .3-.6 .3 .3 .3-.5 .3 .4 .3-.1 .3 1 .3-1.1 .3-.9 .3 .4 .3-.9 .3 .9 .3 .3 .3-.8 .3 1.3 .3-.5 .3-.4 .3 1 .3-.1 .3-.6 .3 .4 .3-.9 .3 1.2 .3-2 .3 .9 .3-.7 .3 .9 .3-1.2 .3 1.4 .3-.2 .3-.8 .3 1 .3-1.3 .3 .8 .3 .4 .3-.1 .3 .6 .3-1.2 .3-.3 .3 2.1 .3-1.9 .3 2 .3-.9 .3 0 .3-1 .3-.1 .3 .7 .3-.1 .3-.5 .3-.6 .3 1.2 .3-.7 .3 .9 .3-.3 .3 .8 .3-.4 .3-2.3 .3 1.9 .3-.3 .3 1.6 .3-1.7 .3 .1 .3 .1 .3 0 .3-.6 .3 1.6 .3-.6 .3 .1 .3 .5 .3-1.7 .3 1.8 .3-1.3 .3 .6 .3-.5 .3-.1 .3 .1 .3 .2 .3-.2 .3-.6 .3 .6 .3-.8 .3-.5 .3 .1 .3 .5 .3 .9 .3 0 .3-.2 .3-.4 .3-.9 .3 .1 .3-1.2 .3 1.3 .3-.3 .3 .7 .3-.1 .3-.5 .3 1.5 .3-1.5 .3-.5 .3 1.5 .3-1.3 .3 1.7 .3-.8 .3-1.3 .3 .8 .3 .6 .3-.1 .3 .2 .3-.4 .3 0 .3-.5 .3-.2 .3 .5 .3 0 .3-.1 .3-1.1 .3 .2 .3 2.1 .3-1.1 .3-.6 .3-.6 .3 .9 .3 .3 .3-.5 .3-.5 .3 1.7 .3-1.2 .3 .4 .3 .2 .3-.9 .3 .7 .3-.8 .3 .1 .3 1.6 .3-1.1 .3 0 .3-.7 .3 1 .3-.2 .3-.3 .3 .3 .3-.4 .3-1 .3 .9 .3-.5 .3-.4 .3 .8 .3-1.7 .3 1.5 .3-.4 .3 .9 .3-.5 .3 0 .3-.2 .3-1.3 .3 .9 .3-.5 .3 .9 .3-.2 .3-.3 .3-.2 .3 .7 .3-.5 .3-.1 .3 1.6 .3-1.5 .3-.5 .3 .4 .3 .1 .3 .4 .3 .5 .3-1.6 .3 1.8 .3-1 .3-.6 .3-.2 .3 1.2 .3-2 .3 .3 .3 1.2 .3-2.2 .3 .9 .3 1.2 .3-.7 .3-.3 .3 .7 .3-1.6 .3 .4 .3 1 .3-.6 .3-.8 .3 3.2 .3-1.5 .3 .5 .3-.1 .3-.3 .3-.4 .3 .3 .3-1.4 .3 .4 .3 1.2 .3-1 .3 .1 .3 .2 .3 0 .3 .1 .3-.7 .3-.3 .3-.3 .3 .3 .3-.4 .3 .8 .3-.5 .3 .7 .3-.4 .3-.1 .3-.1 .3 .5 .3-.7 .3 .4 .3 .8 .3-.1 .3-1 .3 .1 .3 .2 .3-.3 .3-.5 .3-.5 .3-.6 .3 1.5 .3 .1 .3 .3 .3-1 .3 .5 .3 0 .3 0 .3 .4 .3-.9 .3-.6 .3 1.5 .3-2.2 .3 1.5 .3-.7 .3 .7 .3-1.1 .3 .2 .3-.7 .3 .8 .3-1 .3-.2 .3-.1 .3 .6 .3-.2 .3-.5 .3 1.8 .3-2.2 .3 .9 .3-.4 .3 0 .3 .3 .3-.8 .3 .1 .3 .5 .3-.3 .3 1 .3-1.1 .3 1.5 .3-1.7 .3 1.8 .3-.9 .3 1.5 .3-1.5 .3 0 .3 .2 .3-2.7 .3 1.2 .3 .1 .3-.5 .3 1.2 .3 1.3 .3-3.3 .3 1.1 .3 .6 .3-.7 .3 1.1 .3-.7 .3 .8 .3 .3 .3-1.1 .3 .4 .3-.7 .3-.4 .3 1 .3-.6 .3-.1 .3-.1 .3 .1 .3 .7 .3-.3 .3-1.3 .3 .8 .3 .7 .3 0 .3-.9 .3 .4 .3-.4 .3 1.5 .3-1.1 .3-.2 .3 .7 .3-1.1 .3-.2 .3-.5 .3 .4 .3 .1 .3-.2 .3-.2 .3 .7 .3-.4 .3 1.5 .3-1.4 .3-.2 .3 1.4 .3-.5 .3-.1 .3-.2 .3 1.1 .3-1.4 .3 1.1 .3-.6 .3 .5 .3-.4 .3 1.3 .3-1.6 .3 .3 .3-.5 .3 .4 .3-.6 .3 .4 .3-.5 .3 .2 .3 1.1 .3-.2 .3 0 .3-.3 .3-.6 .3 .5 .3-.8 .3-.3 .3 1.3 .3-.5 .3-.3 .3 1 .3-1 .3 1.1 .3-1.7 .3-.4 .3 0 .3 1 .3 0 .3-.8 .3-.9 .3 .1 .3 1 .3-.3 .3-.8 .3 .7 .3 1.4 .3-1.7 .3-.9 .3 .6 .3 .6 .3 .6 .3-.7 .3-.8 .3 .6 .3 .7 .3-1.1 .3 1.2 .3-1.5 .3 .8 .3 0 .3-.8 .3 .6 .3 .5 .3-1 .3 0 .3 .5 .3 .2 .3-.2 .3-1 .3-.2 .3 .9 .3 0 .3 .6 .3-1.3 .3 .1 .3-.4 .3-.4 .3 2.2 .3-1.6 .3-.5 .3 .4 .3 .1 .3-.6 .3-.5 .3 .6 .3 0 .3 .4 .3 0 .3-1.8 .3 .7 .3 0 .3 1.6 .3-.7 .3-.7 .3 0 .3-.2 .3-1.1 .3 1.9 .3-.1 .3-.2 .3-.4 .3-.3 .3-.1 .3-.6 .3 1.1 .3-1 .3 .8 .3-.4 .3-.1 .3 .6 .3-.3 .3-.5 .3 .9 .3 .2 .3-.8 .3 .2 .3-.2 .3 1 .3-.7 .3-.8 .3 1.1 .3 .4 .3-.8 .3-.8 .3-.4 .3 .8 .3 2.1 .3-2.1 .3-.4 .3 .9 .3 .5 .3-.7 .3 .2 .3 .3 .3 .7 .3-.4 .3-.9 .3-.1 .3 .4 .3-.9 .3 1 .3 .6 .3-1.3 .3-.1 .3 .5 .3-1.1 .3 1.5 .3 0 .3-.2 .3-.6 .3 .2 .3 .5 .3-1.2 .3 .5 .3 0 .3 .9 .3 .3 .3-1.3 .3 .3 .3 0 .3-.4 .3-.3 .3 .5 .3 .6 .3-1.5 .3 1.2 .3-1.3 .3 .9 .3-.8 .3-.4 .3-.3 .3 .6 .3 .9 .3-1 .3 .4 .3-.6 .3-.2 .3 .4 .3-.2 .3 .4 .3-1.1 .3 1.6 .3-1.4 .3-.3 .3 1.2 .3-.9 .3 1 .3-1.3 .3 .2 .3-.3 .3 1.4 .3-2.5 .3 1.1 .3 1 .3-1.4 .3 1.2 .3-.2 .3-.1 .3-.2 .3-.5 .3-.2 .3 .5 .3 .5 .3-.6 .3 .8 .3-.2 .3-.3 .3-.2 .3 .7 .3-.3 .3 1.2 .3-1.3 .3 .3 .3-1.2 .3 .7 .3 .9 .3-.6 .3 .4 .3-.8 .3-.2 .3 .5 .3-1 .3 .6 .3 1.7 .3-1.6 .3-.7 .3 1.4 .3-.5 .3-.9 .3 .4 .3-.3 .3-.2 .3 .7 .3 .3 .3-.3 .3 .2 .3 1 .3 .2 .3-.9 .3-1.6 .3 1.5 .3-1.1 .3 .7 .3-.6 .3 2.1 .3-1.3 .3 .6 .3-2.6 .3 2.5 .3-1 .3 .3 .3-.8 .3-.2 .3-1.2 .3 1.3 .3-1 .3 .8 .3-.5 .3 .7 .3 1.5 .3-.9 .3-.1 .3 .2 .3-.4 .3-.6 .3 1 .3-.3 .3-1.2 .3 1.7 .3 .5 .3-1.1 .3 .7 .3-.8 .3 .3 .3-.9 .3 0 .3 .7 .3 .1 .3-.7 .3 .2 .3 0 .3-.2 .3 1.6 .3-1.2 .3-1.2 .3 .1 .3 .1 .3-.1 .3-.8 .3 .9 .3-.5 .3 .4 .3 1 .3-.4 .3-.3 .3 .7 .3 0 .3 .2 .3-.2 .3-1.5 .3 .9 .3-1.1 .3 2 .3-.9 .3-.5 .3 .4 .3-.7 .3 1 .3 .8 .3-1 .3 .2 .3-.1 .3 .4 .3 .5 .3-2.3 .3 1.4 .3-.6 .3 0 .3 1.1 .3 .4 .3-1.6 .3 1.1 .3-1.5 .3 .8 .3 .1 .3-.8 .3 1.1 .3 0 .3-.7 .3-.3"/>
<path class="ln" stroke="#ff7f0e" d="M70.8 297.3l.3-.8 .3 .7 .3-1 .3 1.7 .3 0 .3 .4 .3 .8 .3-.1 .3 0 .3 .9 .3-.2 .3 .2 .3-.1 .3 .4 .3 .9 .3-1.2 .3 .3 .3 .5 .3-.1 .3 .1 .3 1.1 .3 .9 .3-.4 .3 .6 .3 .2 .3 1.1 .3-1 .3 .2 .3 .3 .3 .3 .3-1.3 .3 1.9 .3 .9 .3-1.7 .3 1.2 .3 1.1 .3-.3 .3 .2 .3-1 .3 .8 .3 0 .3 0 .3-.3 .3 .2 .3 .1 .3 .4 .3 .4 .3 .1 .3 0 .3 .4 .3 .8 .3-1.4 .3 1.2 .3-.8 .3 1.7 .3-.7 .3 .4 .3 .5 .3 .4 .3-1.5 .3 1 .3-.3 .3 2 .3-1.8 .3 1.1 .3-.5 .3 1.4 .3-1 .3-.3 .3 1.2 .3-1 .3 .2 .3 2.1 .3-.2 .3-1.6 .3 .6 .3 1.9 .3-1.3 .3-.3 .3 .1 .3 .2 .3 0 .3-.4 .3 .1 .3 .8 .3-.1 .3-.1 .3 .8 .3 .2 .3-.6 .3-1 .3 1.8 .3 1 .3-1.8 .3 1.5 .3-.5 .3 1.6 .3-2.2 .3 .6 .3 .6 .3-.1 .3 .6 .3 .8 .3-1.2 .3-.2 .3 2.1 .3-.8 .3-1.4 .3-.7 .3 2.2 .3-.3 .3 1.1 .3-.8 .3 1.1 .3 .4 .3-1.9 .3 .6 .3 .6 .3 .2 .3-.1 .3 1.3 .3-.5 .3 .4 .3-1 .3-.8 .3 1.2 .3 .2 .3 .6 .3-.1 .3-.2 .3 .9 .3-.3 .3 0 .3 .5 .3-.3 .3 2.4 .3-.3 .3-1.5 .3-.3 .3 1.2 .3-.2 .3-.1 .3-.5 .3 0 .3 2 .3-.9 .3-.3 .3-.2 .3 0 .3 .5 .3 .5 .3-.7 .3 .9 .3 .6 .3-.6 .3-.4 .3 2.2 .3-1.3 .3 .4 .3 1 .3-.1 .3-.2 .3 0 .3-.6 .3 .6 .3 .8 .3 .6 .3-1.2 .3 .8 .3 .6 .3-.5 .3 .6 .3-1.1 .3-.2 .3 1.4 .3 .3 .3-.5 .3-.3 .3 1.3 .3-.9 .3 .6 .3 1.5 .3-.6 .3-.1 .3-.4 .3-1.1 .3 2 .3-.4 .3 .6 .3-1.4 .3 1 .3 .7 .3 .2 .3-1 .3-.6 .3 1.4 .3 .1 .3 .3 .3-.3 .3 .7 .3-.6 .3-.4 .3 .9 .3-.6 .3 .3 .3 .6 .3 .2 .3-.5 .3 .6 .3 .6 .3-.5 .3-.9 .3 1.4 .3-.2 .3 .4 .3-1.8 .3 .7 .3 .7 .3 .6 .3-.2 .3 .1 .3 .3 .3 .3 .3-.1 .3 0 .3 .7 .3 .3 .3-.4 .3-.1 .3 .6 .3 1.3 .3-1.1 .3-.4 .3 .8 .3-.8 .3 .2 .3 1.3 .3 0 .3-.9 .3-.4 .3 1.3 .3-.5 .3 1 .3-1.3 .3 .6 .3-.3 .3-.6 .3-.3 .3 2.5 .3-.5 .3 0 .3 .5 .3-.1 .3 .4 .3-.8 .3 1.6 .3-.8 .3-.2 .3-.2 .3 1.1 .3 .8 .3-1.1 .3 0 .3-.5 .3 .1 .3 2.5 .3-1.6 .3 .5 .3 1.2 .3-.4 .3 .6 .3-1.8 .3 2.4 .3-.6 .3 1 .3-1 .3 .3 .3 .9 .3 .1 .3 .1 .3 .8 .3-.2 .3 .2 .3 .4 .3-.4 .3 .3 .3 1.2 .3-1.3 .3 .3 .3-.3 .3 .1 .3 .3 .3 1.7 .3 .3 .3-1.7 .3 1.7 .3 .3 .3 .5 .3-.4 .3 .9 .3 .4 .3-2.1 .3 3.1 .3-1.2 .3 .5 .3 .7 .3-.4 .3-.8 .3 1.7 .3 .4 .3-.7 .3 0 .3-1.8 .3 2.2 .3 .3 .3-.8 .3 .4 .3 .6 .3-.5 .3 1.3 .3-1.1 .3 1.2 .3-.8 .3 1.2 .3-.8 .3 .8 .3 .4 .3-1.1 .3 1.6 .3 .2 .3-.2 .3-.1 .3 1 .3-.6 .3 .5 .3 0 .3-.1 .3 .1 .3 .7 .3-.2 .3 .3 .3 .3 .3 .2 .3-1.5 .3 .7 .3 .5 .3 .7 .3-.6 .3 0 .3 .9 .3-.1 .3 1.8 .3-.9 .3 1.4 .3-.6 .3-1.9 .3 1.8 .3 .5 .3 0 .3 .9 .3-1.2 .3 .5 .3-.1 .3 .9 .3-.5 .3 .1 .3 .1 .3 .6 .3-.5 .3 2 .3-1.4 .3-.2 .3 1.2 .3 .7 .3-1.7 .3 1.2 .3 .2 .3-.6 .3 .4 .3 1.5 .3-.7 .3 .3 .3-.2 .3 .7 .3-.4 .3 1.6 .3-.2 .3 .3 .3-.1 .3-1 .3 3.1 .3-2 .3 .7 .3-.3 .3 .7 .3-.5 .3 1 .3 1.2 .3-1.1 .3 .4 .3 .4 .3 .1 .3 1.1 .3 .6 .3-1.9 .3 2.2 .3-1.2 .3 .5 .3-.1 .3 2 .3-.9 .3 .7 .3 0 .3 .4 .3 .4 .3 .7 .3 .8 .3-1 .3-.1 .3 1.7 .3 0 .3 0 .3 1.1 .3-1.5 .3-.4 .3 1.8 .3 0 .3-.5 .3 .1 .3 .5 .3 .6 .3-.4 .3 .4 .3-.2 .3 1 .3-.7 .3 .1 .3-.4 .3 1.7 .3-1.1 .3-.2 .3 1.7 .3-1 .3 1.1 .3-.3 .3-.5 .3 .9 .3-.9 .3 1.8 .3-2.4 .3 .7 .3-.7 .3 2 .3-1.1 .3 .3 .3 .5 .3-1.9 .3 1.4 .3 .4 .3 .2 .3-.5 .3 .2 .3-1.3 .3 .5 .3-.1 .3 .8 .3-1.2 .3 .4 .3-.9 .3 1 .3 .9 .3-.6 .3 0 .3-1 .3-.1 .3 1.1 .3-.3 .3 1.6 .3-1.1 .3-.5 .3-.3 .3 .2 .3-.1 .3-1 .3 1 .3-.3 .3-.9 .3 .6 .3-.1 .3 .1 .3 .3 .3-1.3 .3 .6 .3-1.1 .3 1.6 .3-.8 .3 .2 .3-.5 .3 .4 .3-1.3 .3 1.4 .3 0 .3-.2 .3-.7 .3 1.9 .3-.8 .3-.1 .3-.4 .3 1.7 .3-1.5 .3-1.1 .3 1.5 .3 0 .3-1.9 .3 1.6 .3-1.1 .3 .8 .3-1.3 .3 1.5 .3-1.8 .3 0 .3 .5 .3-.3 .3-.6 .3 .5 .3-.1 .3 0 .3 .1 .3 .1 .3 1 .3-1.5 .3 1.1 .3-.3 .3 0 .3-.6 .3-.5 .3-.4 .3 1.7 .3-.8 .3-.4 .3-.7 .3 1.4 .3 0 .3-.3 .3-1 .3 1.1 .3 0 .3-1.3 .3 1.5 .3 .3 .3-.8 .3-.5 .3 1.9 .3-1.9 .3 .9 .3 .3 .3-.1 .3-1.8 .3 1 .3 .4 .3-.2 .3 1.2 .3-.8 .3 1.1 .3-.8 .3-1.9 .3 .8 .3 1.7 .3-2.1 .3 1.9 .3-.5 .3 .8 .3-.2 .3-1 .3 .6 .3-.3 .3 .3 .3-1 .3 1.1 .3 1.2 .3-1.3 .3 0 .3 .4 .3 .7 .3-1.2 .3-.2 .3 1.2 .3-.6 .3 .1 .3-.1 .3-1 .3 .4 .3 .7 .3 .3 .3-.6 .3 .5 .3-.2 .3-.5 .3-.3 .3 1.3 .3-1.2 .3 0 .3 .3 .3-.8 .3 .7 .3-.2 .3 1.4 .3-.8 .3 .4 .3 .2 .3 .2 .3 .8 .3-1 .3 .3 .3-1.1 .3 0 .3 .6 .3-.4 .3 .2 .3-.2 .3 .8 .3-.4 .3-.1 .3 .4 .3-.1 .3 .8 .3 .1 .3-1.2 .3 1.6 .3-1 .3 .1 .3 .7 .3 .2 .3-.7 .3 .4 .3-.7 .3 1.5 .3-.1 .3 .1 .3-.2 .3 .4 .3-1.3 .3 1.2 .3 1.5 .3-2 .3 1.1 .3-2.3 .3 2.1 .3-.6 .3 .7 .3-1.3 .3 .6 .3-.1 .3 .6 .3 .3 .3-.7 .3 0 .3-.1 .3 1.2 .3-.8 .3 .7 .3-.6 .3 0 .3-.2 .3 .6 .3-.7 .3 .2 .3 .1 .3-.1 .3 .9 .3-.6 .3 .6 .3 .8 .3-1.1 .3-.5 .3-.1 .3 1.6 .3-2.7 .3 1.2 .3-.5 .3 1.1 .3-.5 .3 0 .3-.3 .3-.2 .3 .4 .3-.4 .3 1.5 .3-1.5 .3 1.7 .3-1 .3 .8 .3-.6 .3-.8 .3 .8 .3 0 .3 .6 .3-1.7 .3 1.3 .3 .8 .3 .3 .3-1.9 .3 1.4 .3 .3 .3 .2 .3-.1 .3-.5 .3-.3 .3 .3 .3-.9 .3 1.7 .3-.5 .3 .3 .3 .9 .3-.9 .3-.9 .3 0 .3 .2 .3 .7 .3-.2 .3 .3 .3-.6 .3 1.1 .3-2 .3 .7 .3 2.1 .3-1 .3 .2 .3-.3 .3 .3 .3-.7 .3-.1 .3 1.3 .3-1.8 .3 1.5 .3-2.3 .3 1.4 .3 0 .3-.4 .3-.2 .3 1 .3 .5 .3-.7 .3 1 .3-.9 .3 .4 .3 0 .3 1.4 .3-.5 .3-1 .3 .8 .3-1.2 .3 .5 .3 1.4 .3-.6 .3 .4 .3-.3 .3-1.2 .3 1.1 .3 .8 .3-.9 .3 .3 .3 0 .3-.4 .3-.6 .3 2.2 .3-1.7 .3 1.3 .3-1.2 .3 .8 .3-1.5 .3 1.8 .3-.7 .3 .1 .3 .7 .3 .4 .3 .7 .3-1 .3 .7 .3-1 .3 .6 .3 .7 .3 .2 .3-.2 .3 0 .3-1 .3 1.3 .3-.1 .3-1 .3 0 .3 .5 .3 .3 .3 .2 .3-.6 .3 0 .3-.4 .3 1.2 .3 .7 .3 1.2 .3-1.7 .3-.5 .3 .7 .3-.2 .3-.5 .3 .4 .3-.6 .3 1.4 .3-.9 .3 .6 .3 .3 .3-1.2 .3 .3 .3 .9 .3 .1 .3-.4 .3 1 .3 .5 .3-.4 .3-.4 .3 1.5 .3-1.4 .3 .1 .3 1 .3-.3 .3-1.3 .3 1.2 .3 1.2 .3-2.1 .3 .8 .3-1.8 .3 1.2 .3 .5 .3 .2 .3 1.3 .3-1.1 .3-.2 .3 1.4 .3-1.4 .3 .4 .3 .7 .3-.1 .3-.6 .3 1.4 .3-.9 .3 .1 .3 .3 .3-.6 .3 .7 .3 0 .3 .9 .3-1.7 .3 .3 .3 1 .3-.6 .3-.2 .3 .3 .3-.7 .3 .3 .3 .2 .3-.2 .3 .1 .3 1.3 .3-2.2 .3 1 .3 .1 .3 1.4 .3-.7 .3 0 .3 .5 .3-.2 .3-1 .3 .2 .3 .8 .3 .4 .3-.8 .3 0 .3 .5 .3 .4 .3-.6 .3 .8 .3 .3 .3-.6 .3 .1 .3 .2 .3-.2 .3 1.8 .3-1.7 .3-.3 .3 .7 .3-.2 .3 .1 .3 1.5 .3-.4 .3-1.4 .3 .6 .3 .1 .3-1.4 .3 1 .3 .5 .3-.1 .3-.3 .3 .9 .3-1.9 .3 .9 .3 1.6 .3-1.6 .3 .4 .3 1.6 .3-1.5 .3-.1 .3 1.4 .3-.3 .3 .3 .3-1 .3 0 .3-1.2 .3 1.1 .3 1.5 .3-.3 .3-.8 .3 0 .3 1.5 .3-1.4 .3-.1 .3 .7 .3-.1 .3-.3 .3-.8 .3 1.6 .3-.7 .3-.9 .3 2.7 .3-.6 .3-1.6 .3 1.3 .3-1 .3 .3 .3-.4 .3 .3 .3 .1 .3 2.1 .3-.6 .3-1.9 .3 1.8 .3-.8 .3-.3 .3-.1 .3 1.1 .3-1.3 .3 1.4 .3-.5 .3 1 .3-.8 .3 .8 .3-2.6 .3 2.3 .3 .6 .3-.6 .3 1.2 .3 .8 .3-2 .3 .1 .3 1.2 .3-.8 .3 1.6 .3-.9 .3 .4 .3-1.5 .3 1.3 .3-.4 .3 .5 .3-.1 .3-1 .3-.2 .3 0 .3 2.1 .3-1.3 .3 1.1 .3-.6 .3 .6 .3-.8 .3 .5 .3-.8 .3 .2 .3 1.7 .3-.4 .3-1.3 .3 .6 .3 0 .3-.3 .3 1 .3 .4 .3-.2 .3-1.5 .3-.3 .3 1.5 .3 .2 .3 0 .3-.3 .3-.6 .3 .3 .3-.1 .3 .9 .3-.4 .3 .4 .3-.5 .3 .9 .3 .2 .3-1.2 .3-.1 .3 .3 .3 .3 .3 .5 .3-.8 .3-.1 .3 1.5 .3-.2 .3 1 .3-2.2 .3 .8 .3-.4 .3 .4 .3-.9 .3 0 .3 .8 .3-.2 .3-.1 .3 .6 .3-.8 .3 .3 .3 .8 .3-.1 .3-.5 .3 2.6 .3-1.1 .3-1.1 .3-.8 .3-.4 .3 .8 .3 .8 .3-.7 .3 1.3 .3-.5 .3-.2 .3 0 .3 .2 .3-1.2 .3 .3 .3 .9 .3-.7 .3-.1 .3-.2 .3 1.3 .3-.2 .3-.9 .3 1.6 .3-1 .3 .4 .3-.3 .3 .5 .3-.4 .3 0 .3 .2 .3 .1 .3-.1 .3 .8 .3-.8 .3 1 .3-.6 .3 2.4 .3-1.8 .3 .2 .3 .6 .3-.7 .3-.2 .3 .7 .3 .2 .3-.2 .3-.1 .3-.5 .3 .6 .3-1 .3 1 .3 .2 .3 .8 .3-1.9 .3 1.7 .3-.5 .3-.5 .3 .4 .3 .9 .3-1.6 .3 .7 .3 1.1 .3-2 .3 .4 .3-.3 .3 .8 .3-1.5 .3 2.4 .3-.7 .3 .6 .3-.9 .3 .1 .3-.7 .3 1 .3-.3 .3 .3 .3-1.1 .3 .8 .3 .4 .3-.1 .3-.3 .3 .4 .3-1.1 .3 1.3 .3-.5 .3 1.3 .3-1.2 .3 .8 .3-.7 .3 .4 .3 0 .3-.2 .3-.3 .3 .5 .3 .8 .3-.1 .3-.7 .3 .3 .3 .1 .3-.9 .3 .9 .3-.3 .3 2 .3-1.8 .3 .9 .3-.7 .3-.1 .3 .1 .3 .1 .3-.6 .3 0 .3 1.5 .3-1.2 .3 1.4 .3-.9 .3 .5 .3-.8 .3 .8 .3-1.2 .3 2.3 .3 .5 .3-.9 .3-.8 .3 .9 .3-.8 .3-.3 .3 1.1 .3 0 .3-.9 .3 1.6 .3-.1 .3-.8 .3 .7 .3-.4 .3 .6 .3 .6 .3 .2 .3-.9 .3-.7 .3 .2 .3 1.3 .3-1.1 .3 .6 .3-.2 .3 0 .3-.7 .3 0 .3-.1 .3 .2 .3-.1 .3 .7 .3-.5 .3-.8 .3 .5 .3 .4 .3 .6 .3-.9 .3 .3 .3 .8 .3-.5 .3 1.2 .3-1.1 .3 .7 .3-.5 .3-.4 .3 1 .3-.1 .3 .8 .3 .1 .3-1.5 .3 1.4 .3-.3 .3 .3 .3-.2 .3-.4 .3 1.5 .3-2.5 .3 1.8 .3-.3 .3-.5 .3-.1 .3 .5 .3-.6 .3 .8 .3 .1 .3-.3 .3-1 .3 1.8 .3 0 .3-.5 .3 .7 .3 .1 .3-.9 .3 1.5 .3-.4 .3 .4 .3-.5 .3 .7 .3-.5 .3-.4 .3-.9 .3 .8 .3 0 .3 .1 .3 1 .3 .5 .3-.4 .3 0 .3-.9 .3 .9 .3-1.3 .3-.1 .3 .4 .3 .1 .3 .5 .3 0 .3-.1 .3 .4 .3-1.1 .3-.2 .3 .9 .3 1 .3-.4 .3-.2 .3 .7 .3-.7 .3 .1 .3 .3 .3-.3 .3 1.1 .3-.5 .3 .1 .3-1.4 .3 2 .3-1.7 .3 1 .3-2.4 .3 2.4 .3 .4 .3-.7 .3-.6 .3-.4 .3 1 .3 .6 .3-.1 .3-.7 .3 1.3 .3-.4 .3 .4 .3-.3 .3 .8 .3-.7 .3 .2 .3-.8 .3-.9 .3 1.3 .3 .2 .3-.6 .3 .2 .3-.3 .3 .7 .3-.5 .3 .3 .3 1.6 .3-2.5 .3 .6 .3 1.3 .3-1.5 .3 1.1 .3-.8 .3 .2 .3 .1 .3 .4 .3 .2 .3-.9 .3 .2 .3 .3 .3 .4 .3-.6 .3 .4 .3-.2 .3 1.1 .3 .5 .3-2.5 .3 1.4 .3 .6 .3-.3 .3-.8 .3 1.7 .3 .1 .3-.6 .3-.7 .3 .2 .3 .2 .3 .1 .3 .5 .3 .4 .3-.4 .3-.5 .3-.2 .3 .6 .3-1.2 .3 .3 .3 .5 .3-.7 .3 .6 .3-.2 .3 .3 .3 .6 .3-.6 .3-.4 .3 .5 .3 .3 .3-.4 .3-.5 .3 1 .3-1.5 .3 0 .3 .1 .3 .9 .3-1.2 .3 0 .3 .8 .3 .9 .3-1.9 .3-.3 .3-6.5"/>
<path class="ln" stroke="#2ca02c" d="M70.8 298.7l.3-.4 .3-.5 .3 .6 .3-.3 .3-1.7 .3 .7 .3 1.5 .3-1.3 .3 .3 .3-.7 .3 .1 .3 .3 .3-.5 .3-.1 .3 1.6 .3-1.8 .3 3 .3-1.3 .3-2.9 .3 1.7 .3 1.4 .3-1.3 .3-.8 .3 .8 .3 .3 .3-.9 .3-.7 .3 1.6 .3-.8 .3 1.4 .3-.3 .3-.5 .3-1 .3 1.2 .3-.3 .3 1.7 .3-2.1 .3 .2 .3-.2 .3 .3 .3-.2 .3 .9 .3 .3 .3-1.3 .3 .4 .3 .2 .3-2.2 .3 2 .3-1.1 .3 0 .3 1 .3-1.4 .3 .9 .3 .1 .3 0 .3 1.2 .3-1.5 .3 .8 .3 .4 .3 0 .3-.1 .3-1 .3-1 .3 1.4 .3 .8 .3-.9 .3 .7 .3 1.3 .3-.8 .3-.4 .3 .2 .3-.7 .3 1 .3-.7 .3-.1 .3-1.5 .3 1.3 .3-.1 .3 .5 .3-1.1 .3 2.1 .3 .6 .3-.5 .3 1 .3-1 .3-.4 .3-.7 .3 1.7 .3-.7 .3 .6 .3-.7 .3-.6 .3 .1 .3 .7 .3 .3 .3-.1 .3-.2 .3 1.1 .3-.8 .3-.4 .3 .2 .3 .1 .3 .4 .3-.2 .3 .3 .3-.4 .3 .9 .3 .1 .3 0 .3-.2 .3-.7 .3 .5 .3-.3 .3 1 .3-.3 .3 .1 .3-.1 .3-.9 .3 .9 .3 1.8 .3-1.9 .3-.9 .3 .9 .3-.4 .3 .2 .3 .1 .3-.2 .3 .9 .3-1.7 .3 .4 .3 .9 .3 .1 .3-.2 .3 .7 .3 .3 .3-2.8 .3 .4 .3 .6 .3-.9 .3 1.4 .3-.3 .3-.5 .3 .5 .3 .3 .3 .3 .3-1.8 .3 2 .3-1.5 .3-.1 .3 .9 .3-.3 .3-.6 .3 .8 .3-.2 .3 .9 .3 1 .3-2 .3 1.7 .3-1.1 .3-.4 .3 1.8 .3-1.1 .3 .1 .3-.6 .3 1.1 .3-1 .3 .5 .3 .1 .3 .7 .3-.5 .3-.3 .3-.3 .3-.6 .3 1.3 .3 .2 .3-.5 .3 .2 .3-.6 .3 .1 .3-.6 .3 1.7 .3 1 .3-1.9 .3-.1 .3 1 .3 .4 .3-1.2 .3 .9 .3-.3 .3-.4 .3 .1 .3 .2 .3-.2 .3 .8 .3-.1 .3-1.2 .3 1.7 .3-1.3 .3-.3 .3 1.9 .3-.9 .3 .1 .3 .2 .3-1 .3 2.3 .3-2 .3 2.3 .3-1.3 .3 .3 .3-.6 .3 0 .3-.6 .3 .3 .3-.1 .3 .5 .3-.5 .3 1.2 .3-1.1 .3 .4 .3 1 .3-.6 .3 .7 .3-.4 .3-.9 .3 .1 .3-.1 .3-.5 .3 1.4 .3 .7 .3 .2 .3-1.5 .3 .9 .3-.1 .3-1 .3-.4 .3 1.1 .3 .4 .3-.5 .3-1.1 .3 2 .3-.8 .3-.2 .3-.5 .3 .2 .3 2 .3-.1 .3-.7 .3-.9 .3-.9 .3 1.2 .3-.3 .3 .8 .3 .5 .3-1.1 .3 .7 .3 .1 .3 0 .3-.9 .3 .5 .3 .4 .3-.4 .3 .8 .3 .2 .3-.7 .3 1.8 .3-1 .3-.1 .3-.7 .3 .2 .3 .5 .3-1.1 .3 1 .3-1 .3 .7 .3 1.2 .3-1 .3 .1 .3 .6 .3-1.6 .3 1.2 .3-.3 .3 0 .3 .3 .3 .1 .3 0 .3-1.3 .3 .6 .3 1.3 .3-1.6 .3 1.8 .3-1.1 .3-1 .3 3.4 .3-1.7 .3 .5 .3-1.4 .3 .6 .3-1.1 .3 .9 .3 .1 .3 .8 .3-.7 .3 .4 .3-.1 .3 1.1 .3-.8 .3-.8 .3 .6 .3-1.2 .3 .6 .3 .5 .3 .1 .3-.6 .3-.6 .3 .6 .3-1.4 .3 2 .3-.5 .3-1.3 .3 1 .3 0 .3-.2 .3 1.2 .3-.8 .3-1.3 .3 0 .3 2.7 .3-.9 .3-.7 .3-.2 .3 2 .3-.8 .3-1.9 .3 .9 .3 .2 .3 .8 .3-.7 .3 .8 .3-.5 .3-.8 .3 1.2 .3 .1 .3-.4 .3-.5 .3 .7 .3-.8 .3 .2 .3 .9 .3-.6 .3 .8 .3-.5 .3 1.5 .3-.3 .3-.2 .3-.1 .3-.6 .3 .7 .3 .2 .3-1.2 .3 2.1 .3-.7 .3-.7 .3 1 .3 .4 .3-.9 .3 .5 .3 .1 .3-.8 .3-.3 .3 .7 .3 .3 .3-.7 .3-.1 .3 1.3 .3-1.3 .3 .1 .3 .4 .3 .4 .3-.2 .3-.8 .3 .5 .3 1 .3-.2 .3 .3 .3-.7 .3 .2 .3 .5 .3-.8 .3 1.4 .3-1.7 .3 1.9 .3-1.7 .3 .9 .3-.4 .3-.7 .3 1.5 .3-.3 .3 .1 .3 .9 .3-.2 .3-.2 .3-.4 .3 .3 .3 0 .3-.7 .3 .9 .3-1.4 .3 .2 .3 .7 .3 .3 .3 .5 .3-.8 .3 .7 .3-.2 .3 1.3 .3-1.8 .3 1.1 .3-.4 .3 .8 .3-.8 .3-.6 .3 0 .3-.1 .3-.5 .3 1.9 .3-1.6 .3 .3 .3 .8 .3-.5 .3 .9 .3-.3 .3-1 .3 1.9 .3-.4 .3 .1 .3-1.2 .3 1.1 .3-.2 .3 .9 .3-.3 .3 .5 .3-1.9 .3 1.4 .3 .2 .3-1.3 .3 .4 .3-.2 .3 .2 .3 .5 .3 .1 .3-.6 .3-.8 .3 1.3 .3-.6 .3 .4 .3 .4 .3-1.2 .3-.2 .3 1.1 .3 .1 .3 .6 .3-1.1 .3 1.1 .3-.1 .3-1.5 .3 2.6 .3-1.7 .3 .4 .3 .6 .3-.6 .3-.5 .3 .9 .3-.5 .3 .3 .3 .6 .3-.5 .3 .8 .3-.1 .3 .3 .3 .7 .3-.1 .3-.7 .3-.1 .3 .7 .3 .2 .3-1.9 .3 1.4 .3-.4 .3 .3 .3 1.2 .3 .2 .3-2.4 .3 1.4 .3 .2 .3-1.3 .3 .8 .3 .5 .3-.8 .3 .5 .3-1.4 .3 1.1 .3-.9 .3 1.5 .3-2.2 .3 .6 .3-.4 .3-.3 .3 1.8 .3-.3 .3-.7 .3-.3 .3 .2 .3-.3 .3 1 .3-.1 .3 .4 .3-.7 .3-.3 .3-1.1 .3 1.8 .3-.3 .3 .2 .3 .6 .3-1.4 .3-1.3 .3 1.4 .3 .9 .3-.2 .3 0 .3-.5 .3 .7 .3-.5 .3 1.6 .3-1.3 .3-1.2 .3 .1 .3 .7 .3 .5 .3 .9 .3-.3 .3-1.3 .3 .7 .3 .3 .3-1.4 .3 3.1 .3-2.5 .3 1.2 .3-.4 .3-1.6 .3 2.5 .3 0 .3-1.4 .3 1.5 .3-.9 .3 0 .3 0 .3-1.7 .3 1.7 .3-.6 .3-.2 .3-1.2 .3 2 .3-.6 .3-.6 .3 .3 .3 .6 .3-.3 .3-.7 .3 .1 .3 1.9 .3-2.6 .3 1.3 .3 .6 .3 .2 .3-1.3 .3 1.4 .3-.4 .3-.3 .3 1.3 .3-.1 .3-.6 .3-.2 .3-.9 .3 .1 .3 .1 .3 1.7 .3-2.1 .3 1.4 .3-1.2 .3 .5 .3-.6 .3 .5 .3 1.4 .3-.6 .3 0 .3-.7 .3-.1 .3 .3 .3 .8 .3-2 .3 1.3 .3-.7 .3 .7 .3-.5 .3-.1 .3 0 .3-.6 .3 .9 .3-1 .3 1.1 .3 0 .3-.5 .3 .6 .3-1.3 .3 0 .3-1.1 .3 .7 .3 .4 .3 1.3 .3-2.2 .3 1.7 .3-.9 .3 .8 .3 1 .3-1.6 .3 1.5 .3-1.8 .3 .9 .3 .3 .3-1 .3 .3 .3 0 .3 2.2 .3-1.4 .3 0 .3 .4 .3-1.5 .3 1.3 .3-.2 .3 .2 .3 0 .3-.2 .3-.1 .3-.2 .3 0 .3-1.1 .3 .8 .3-.6 .3 .3 .3-.6 .3 1.4 .3 0 .3-1.1 .3-.4 .3 1.6 .3-.3 .3 .2 .3 .2 .3-.2 .3-.2 .3 1 .3-1.9 .3 2.3 .3-1.5 .3 .3 .3-.7 .3 .7 .3-.2 .3 .6 .3 1 .3-.1 .3-.8 .3 0 .3-.2 .3 1.2 .3-1.9 .3 .8 .3-1.6 .3 .5 .3 1.4 .3-.4 .3 .2 .3-.1 .3 1.1 .3-1.9 .3 2.6 .3-2.2 .3 .8 .3 0 .3 1.3 .3-1.9 .3 .2 .3-.6 .3 1 .3-.1 .3-1.2 .3-.6 .3 1.1 .3 .8 .3-1.2 .3-.5 .3 .8 .3-.2 .3 1 .3-.6 .3-.3 .3-.3 .3-.1 .3 .7 .3 .2 .3 .3 .3-.4 .3 .5 .3-1.6 .3 1.2 .3-.1 .3-.4 .3 1.6 .3-.9 .3-.7 .3 1.5 .3-1.1 .3-.7 .3 1 .3 0 .3-1 .3 1.7 .3 .3 .3-.6 .3-1.3 .3 1.4 .3 .1 .3-.7 .3 1 .3-1.4 .3 .4 .3 .2 .3-.3 .3-.4 .3-.8 .3 1.9 .3-1.8 .3 1.1 .3 .8 .3-1.2 .3 1 .3 .8 .3-1 .3 .5 .3-.2 .3 .1 .3-.8 .3 .5 .3-.5 .3-1.2 .3 2.3 .3-.9 .3 0 .3-.3 .3 .4 .3-2 .3 1.3 .3 1.2 .3-.8 .3 .1 .3 .1 .3-.8 .3 0 .3 1.2 .3 .6 .3-.9 .3-.1 .3-.3 .3 .4 .3 1.7 .3-1.6 .3 .6 .3-1.3 .3 1.2 .3-.7 .3 .6 .3-.2 .3-.8 .3-.2 .3 1.5 .3 0 .3 0 .3-.7 .3 .7 .3 .6 .3-.3 .3-1.5 .3 .8 .3-.2 .3 .5 .3 .1 .3-.8 .3 .3 .3-.5 .3 .4 .3 .9 .3-.7 .3 .2 .3-.3 .3 .4 .3-1.2 .3 1.2 .3-.2 .3 .4 .3-.1 .3-.6 .3 1.1 .3 .1 .3-.5 .3 0 .3 .1 .3-.4 .3-.2 .3 .7 .3-.8 .3 .1 .3-.5 .3 2.5 .3-1.4 .3-.7 .3 1.7 .3-1.8 .3 1 .3-1.5 .3 1.5 .3 .5 .3-1.9 .3 1.2 .3-1.3 .3 1.2 .3-.5 .3 .9 .3-.5 .3 .8 .3-1.4 .3 1.5 .3-1.1 .3 1.2 .3-1.3 .3 1.1 .3-.4 .3 .2 .3-1 .3 1 .3-1.5 .3 1.1 .3 .5 .3-.1 .3 .3 .3-1.4 .3 1 .3-.6 .3-.6 .3 .9 .3-1 .3 1.1 .3-1.4 .3 .5 .3 1 .3 .4 .3-1.5 .3 .6 .3-.9 .3 1 .3 0 .3 .1 .3-.7 .3 .6 .3-.2 .3-.7 .3 .8 .3-.2 .3 1 .3-1.4 .3 .9 .3 .2 .3-.5 .3-.5 .3 0 .3-.5 .3 1.2 .3 1.2 .3-1.3 .3-.4 .3 .1 .3-1.1 .3 .4 .3 1.2 .3-.3 .3 .4 .3-.8 .3 1.6 .3-1.1 .3 .3 .3-.3 .3 1 .3-.4 .3-.3 .3-.6 .3 0 .3 .5 .3 1.7 .3-1.8 .3 1.6 .3-1.7 .3 2.6 .3-2 .3 1.3 .3-1.3 .3 0 .3 .3 .3-.7 .3-.2 .3 .3 .3 .8 .3-.7 .3 1.4 .3-.7 .3-1.2 .3 2.6 .3-1.1 .3-.4 .3-1.4 .3 .9 .3-.2 .3 .5 .3 .9 .3 .3 .3 .3 .3-.9 .3-.1 .3 0 .3 .7 .3 .7 .3-1.6 .3 .1 .3 0 .3 1.1 .3 .9 .3-.8 .3 .3 .3-.5 .3 .3 .3-.7 .3 .5 .3-.5 .3 .3 .3 .8 .3-1.7 .3 .8 .3-.3 .3-.6 .3 1.7 .3 .3 .3-.5 .3-.5 .3 .1 .3 .3 .3 .4 .3-1.2 .3 .7 .3-.5 .3-.8 .3 1 .3-.4 .3 .9 .3-.6 .3 .1 .3-.1 .3 .3 .3 .5 .3-.3 .3-.1 .3-.3 .3-.2 .3 1.1 .3-.7 .3-.1 .3-.6 .3 1.8 .3-1.3 .3 0 .3 .7 .3-1.1 .3 .4 .3 .4 .3-.6 .3 .1 .3-.3 .3-.4 .3 .6 .3 .5 .3 0 .3-1.2 .3 1.1 .3-1.4 .3 .1 .3-.2 .3 1.1 .3 .1 .3-.6 .3 .5 .3-.2 .3 .9 .3-.2 .3-.4 .3-.7 .3-.1 .3 1.8 .3-1 .3 .8 .3-.2 .3 .2 .3-.6 .3-.4 .3-.2 .3 1.1 .3-1.7 .3 .1 .3 1.1 .3-1 .3 .7 .3-.4 .3 .6 .3-.3 .3-1.1 .3 1.9 .3-1.1 .3 .7 .3-.2 .3 0 .3-1.7 .3 1.4 .3 1.4 .3-.5 .3-1.1 .3 1.5 .3-.1 .3-.3 .3-.5 .3 .4 .3-.5 .3 1 .3-.8 .3 .2 .3-.8 .3 1.6 .3-.5 .3-1.2 .3 2 .3-1.8 .3-.8 .3 .2 .3 1 .3 .1 .3-.5 .3 .3 .3-.6 .3 .7 .3-.2 .3 .1 .3-.8 .3 .3 .3 .4 .3-.6 .3 .6 .3 .9 .3 .3 .3-1.1 .3 .2 .3 .8 .3-.3 .3-.3 .3 0 .3 1.7 .3-1.3 .3-1.4 .3 0 .3 1.4 .3-.6 .3 1.2 .3-1.8 .3 .2 .3 1 .3-.7 .3 1.5 .3-.3 .3 .5 .3-2.4 .3 .5 .3 1.8 .3-1.4 .3 1.6 .3-1.5 .3 2.2 .3-1.6 .3 .2 .3 .7 .3-.2 .3-.8 .3 2.1 .3-2.4 .3-.5 .3 1.6 .3-.4 .3-.4 .3 .2 .3 .6 .3 .3 .3-.3 .3-1.7 .3 1.3 .3-.2 .3 .9 .3-1 .3 .7 .3 .4 .3-.3 .3 .5 .3 1 .3-.7 .3-1.6 .3 1.8 .3 0 .3-1.1 .3 .7 .3-.2 .3 .8 .3-1.2 .3 .5 .3 .7 .3-1 .3 .1 .3 1 .3-1.1 .3 2.3 .3-2.2 .3-.9 .3 1.8 .3-.6 .3 .2 .3 .5 .3 .8 .3-.4 .3-.9 .3 1.1 .3-.6 .3-.9 .3 .2 .3 1.7 .3-1.9 .3 1 .3-.8 .3 .5 .3-1.4 .3 .4 .3-.9 .3 2.6 .3-1.1 .3-1.3 .3 .7 .3 .8 .3-.8 .3-.5 .3-.1 .3 1.3 .3 .2 .3-2.3 .3 1.2 .3 .1 .3 0 .3 .8 .3 .3 .3-1.1 .3-.2 .3 .1 .3 1.4 .3-1 .3 .8 .3-.5 .3 1.2 .3-2.6 .3 .8 .3-.3 .3 1.4 .3-.9 .3 .8 .3-2 .3 1.3 .3 .9 .3-.2 .3-1 .3-.1 .3 .5 .3 0 .3 1.2 .3-1.6 .3 1 .3 .6 .3-1 .3-.1 .3 .7 .3 .3 .3 .1 .3-.5 .3 .8 .3-1.6 .3 .8 .3 .2 .3 .3 .3-.6 .3 .6 .3-.3 .3-.1 .3 .4 .3 .2 .3 0 .3-.6 .3 .5 .3 1.2 .3-.9 .3 .7 .3-1.2 .3 1 .3-.1 .3-1.3 .3 .4 .3-.3 .3-.2 .3-.4 .3 1.1 .3-.1 .3 .8 .3-1.5 .3 1.3 .3-.9 .3 1.1 .3-.3 .3 0 .3-.7 .3 .5 .3-1.2 .3 1.1 .3 .1 .3-.2 .3 .3 .3 .3 .3 .4 .3-.2 .3 .7 .3-.9 .3 .8 .3 .2 .3-.6 .3 .1 .3 .7 .3-.9 .3 0 .3 .2 .3-1.1 .3 .9 .3-.7 .3 .8 .3-.9 .3 .9 .3-.4 .3 .4 .3 .4 .3-1.9 .3 1.8 .3-1.5 .3 1 .3 .2 .3-.2 .3 1.1 .3-1.9 .3 .5 .3-.3 .3-.8 .3 1.1 .3-1.6 .3 1.8 .3-1.1 .3 1.3 .3-1.2 .3 1.1 .3 .3 .3 .8 .3-1.2 .3-1.1 .3 2.3 .3 .3 .3-2.1 .3 1 .3-.7 .3-.8 .3 1.5 .3 .1 .3 .7 .3-1.3 .3-.7 .3 .4 .3-1.2 .3 1.3 .3-.2 .3 .8 .3 .7 .3-.2 .3 .3 .3 .4 .3 .7 .3-1.1 .3-1.2 .3 .3 .3 .4 .3-.7 .3-.6 .3 .1 .3 1.3 .3-.4 .3-.6 .3 1.4 .3-2.1 .3 1.4 .3 .2 .3 .3 .3 0 .3-.8 .3-1 .3 .5 .3 1.4 .3-.2 .3 0 .3 .8 .3-1.6 .3 .9 .3-1 .3 1.5 .3 1.1 .3 .1 .3-.8 .3-.6 .3-.3 .3 0 .3 .3 .3 1.2 .3-2.1 .3 .6 .3-.7 .3 .6 .3-.1 .3 .2 .3-1 .3 .7"/>
<path class="ln" stroke="#d62728" d="M70.8 291.4l.3 .2 .3-.2 .3 .7 .3-1.7 .3-.2 .3 1 .3 1.5 .3-.6 .3-.6 .3 .6 .3-.3 .3-.2 .3-.3 .3 .7 .3 .2 .3 .3 .3-.2 .3-1.4 .3 .6 .3 .4 .3 .3 .3-.9 .3 1.3 .3-1.5 .3 .8 .3-1 .3 .4 .3 2.8 .3-1.4 .3-.1 .3 .6 .3-1.7 .3 .4 .3 1 .3-1.4 .3 .8 .3-1.2 .3 2.2 .3 .8 .3-.7 .3-.9 .3 0 .3 1.3 .3-2.7 .3 2 .3-.3 .3 .8 .3-1 .3 1.1 .3-1.5 .3 .6 .3 1.3 .3 1.1 .3-2.4 .3-.4 .3 2 .3-.5 .3-1.8 .3 1.2 .3 .6 .3-.1 .3 .6 .3-.1 .3-.9 .3-.8 .3 1.4 .3 .5 .3 .7 .3-.2 .3-1.1 .3-.2 .3 1.2 .3-.4 .3-1.1 .3 .2 .3 .6 .3-2.1 .3 2.2 .3-.8 .3-.8 .3-.2 .3 .4 .3 .7 .3-.4 .3 1.5 .3-.6 .3-.5 .3 1.2 .3 .3 .3-.3 .3-.2 .3-.8 .3 1.1 .3-.2 .3 1.4 .3-1.4 .3 1 .3-1.4 .3-.2 .3-.1 .3 1.5 .3-1.2 .3 .5 .3-.3 .3 .4 .3 .1 .3-.4 .3 .6 .3-1.4 .3 .9 .3-1 .3 .7 .3-1.8 .3 0 .3 1.3 .3 1.1 .3-1.5 .3 .9 .3 1.3 .3 0 .3-.5 .3-.8 .3 .6 .3-1 .3-1.1 .3 1 .3 1 .3-1 .3-.1 .3 .1 .3 2 .3 .1 .3-.3 .3-1 .3 .1 .3 .6 .3-.9 .3 .3 .3 .4 .3-.4 .3 1.9 .3-2.6 .3 .2 .3-1.3 .3 2.3 .3-1.1 .3 .9 .3-1.3 .3 1.1 .3-.4 .3-.3 .3 .5 .3 .3 .3-.7 .3 1.1 .3-1.6 .3 .7 .3 .1 .3-.9 .3 .4 .3 1.6 .3-1.3 .3 1.2 .3-.8 .3 .3 .3 .1 .3 .5 .3-.2 .3 .2 .3-1.7 .3 .2 .3 1.6 .3-.8 .3-1.1 .3 1.2 .3 .7 .3-1.1 .3-.1 .3 .2 .3 .1 .3-1.3 .3 1.6 .3-.5 .3 1.1 .3-1.9 .3 .6 .3 .5 .3-.5 .3-.1 .3-.4 .3-.1 .3 .5 .3 0 .3 .2 .3 1 .3-1.7 .3 .2 .3-.6 .3 2.4 .3-1.7 .3-.6 .3 1.5 .3 0 .3-1.3 .3 1.2 .3 .5 .3-1.4 .3 0 .3 .1 .3 1.2 .3-1.2 .3 0 .3-.4 .3 .4 .3-1 .3 1.2 .3-.3 .3 .6 .3-.4 .3 1 .3-.1 .3-1.2 .3 .4 .3 .6 .3 .2 .3 .3 .3 .3 .3-.6 .3 .3 .3-1.5 .3 .4 .3 .7 .3-.8 .3 .3 .3 .4 .3 .1 .3 0 .3-.5 .3-.5 .3 1 .3-.7 .3 .1 .3-.6 .3 1.5 .3-.4 .3-.8 .3 .6 .3 .1 .3 .2 .3-.9 .3 .9 .3 .6 .3-1.1 .3 .2 .3 .7 .3-.9 .3 .6 .3 0 .3 .1 .3-.3 .3 1 .3-1.5 .3 .8 .3-1.2 .3 .6 .3 .3 .3 1.6 .3-.6 .3-1.4 .3 .2 .3-.1 .3-.1 .3-1 .3 1.1 .3-.9 .3 1.7 .3-1.1 .3 0 .3 .7 .3-1.2 .3 .5 .3 1.1 .3-.5 .3-.9 .3 .2 .3-1.1 .3 2.4 .3-.6 .3-1.3 .3 2.5 .3-1.2 .3-2.1 .3 2.1 .3-.7 .3 0 .3-.8 .3-.2 .3 1.3 .3-.8 .3 .2 .3 1.6 .3-2 .3 .3 .3 .1 .3-.2 .3 .8 .3-1.1 .3 .5 .3 .3 .3-1 .3 .6 .3 .3 .3 0 .3 0 .3 .3 .3-.7 .3 .6 .3 .5 .3-1.4 .3 1.1 .3-1.2 .3 1.8 .3-2 .3 2 .3-.5 .3-1.4 .3 1.3 .3-.4 .3-.8 .3 1.1 .3-1.6 .3 .3 .3 .4 .3-.3 .3 0 .3 1.2 .3-.7 .3 .1 .3-.9 .3 .3 .3 .1 .3-.2 .3-.2 .3 1.6 .3-.1 .3-.7 .3 .6 .3 .1 .3-1 .3 .7 .3-1.8 .3 .3 .3 .8 .3 .4 .3 .1 .3-.7 .3 .7 .3-.6 .3-.2 .3 .3 .3 .1 .3 0 .3 .5 .3-.6 .3 .1 .3-.5 .3 .6 .3 0 .3 .3 .3-.8 .3-.3 .3 .7 .3 .1 .3-.2 .3 0 .3 .7 .3-1.2 .3 .7 .3-1.3 .3 1.4 .3-.5 .3-.1 .3-.5 .3 .3 .3-.8 .3 .3 .3-.6 .3 .7 .3-.1 .3 .8 .3-.5 .3-.6 .3 .8 .3 .4 .3-1 .3 .8 .3-1.1 .3-.9 .3 1.7 .3 1.2 .3-1.4 .3 .2 .3-1.6 .3 1.6 .3-.4 .3 1.3 .3-2 .3 .7 .3-1.2 .3 1.2 .3-.6 .3 0 .3 .4 .3-.5 .3 .4 .3 .2 .3 .7 .3-2.7 .3 .9 .3-.7 .3 .8 .3 0 .3-1.3 .3 2.5 .3-1.6 .3 1.5 .3 .1 .3-.1 .3-.6 .3-.9 .3-.1 .3 1.1 .3 .2 .3-1.1 .3 .6 .3-.3 .3-.8 .3 .1 .3 .6 .3 .8 .3-1.5 .3 .3 .3 2.3 .3-1.5 .3 1.5 .3-1.1 .3 .6 .3-.5 .3 .5 .3-.1 .3-.4 .3-.7 .3-.7 .3 1.4 .3-.7 .3-.1 .3-.6 .3 1.6 .3-1.4 .3 1.4 .3-1.6 .3 .8 .3-.3 .3 .1 .3 .1 .3-1.4 .3 .5 .3-.2 .3 1 .3-.8 .3-.3 .3 .8 .3-1 .3 0 .3 .1 .3 .5 .3 0 .3-.5 .3-1.5 .3 1.8 .3-.2 .3-.5 .3 1.6 .3-1.8 .3 .9 .3-.9 .3 .5 .3 .6 .3-1.4 .3 .2 .3 .7 .3-.3 .3 0 .3 .1 .3-.6 .3 .8 .3 0 .3-1.2 .3-.2 .3 1.1 .3 1.2 .3-1.4 .3-1.3 .3 1.2 .3-1.1 .3 .9 .3 .2 .3-.1 .3-.8 .3 1.7 .3-1.7 .3 2.1 .3-.4 .3-1.8 .3 1.7 .3-.5 .3-.7 .3-.1 .3 .4 .3 .5 .3-1.1 .3 .9 .3 .6 .3-.2 .3-1.4 .3-.5 .3 1 .3 1.4 .3-.9 .3-.1 .3-1 .3-.1 .3 1.9 .3-.2 .3-.5 .3 .3 .3-1 .3 .9 .3 .3 .3 .4 .3-1 .3-1.1 .3 2.1 .3-.4 .3 .1 .3 0 .3-.3 .3 2.4 .3-2.1 .3 .5 .3-.7 .3 .7 .3 .5 .3-1.9 .3 .7 .3-.4 .3 2.3 .3-.6 .3-.3 .3 .4 .3 1.4 .3-1.4 .3-.7 .3 .5 .3 2.2 .3-1.5 .3 1.4 .3-1.7 .3-.9 .3 .3 .3-.3 .3 1.6 .3-1.7 .3 .7 .3-.5 .3 1.2 .3-.7 .3 1.7 .3-1.4 .3 1.5 .3-2 .3 1.8 .3-1.4 .3 .8 .3-.2 .3 .4 .3 .5 .3-.7 .3 2.1 .3-1.6 .3-.8 .3 1.1 .3-1.2 .3 .9 .3-1.8 .3 1.1 .3 .4 .3-.1 .3 .1 .3 0 .3 1 .3-1.4 .3 1 .3 .1 .3-.7 .3 .5 .3-.2 .3-.8 .3-.9 .3 1 .3 .7 .3 0 .3-.1 .3-1.3 .3 2 .3-.2 .3-1.6 .3 2 .3-.7 .3 1 .3-.7 .3-1 .3 1.9 .3-1.9 .3 1.9 .3-.4 .3-.7 .3 1.8 .3-.9 .3 .9 .3-1.1 .3 .7 .3-.9 .3 1.4 .3-.7 .3 .5 .3 .5 .3-.4 .3-1 .3 1.1 .3 .2 .3-.6 .3 1.4 .3-1.8 .3 .5 .3 .7 .3-.3 .3 .8 .3-.4 .3 .1 .3-.1 .3 .3 .3-.4 .3 .6 .3-.9 .3-.8 .3 1.3 .3-1.4 .3 .4 .3 .9 .3-.3 .3 1.2 .3-.9 .3 1 .3-.6 .3-.3 .3 1.2 .3-.7 .3-.4 .3 .4 .3-1 .3 1 .3-.1 .3 .2 .3-.5 .3-.7 .3 1 .3 .1 .3 .3 .3-.5 .3 1.4 .3-.8 .3 1.3 .3-2.1 .3 1 .3 0 .3 .4 .3-.5 .3 0 .3-.4 .3 .4 .3 .1 .3-1.8 .3 1.3 .3-.5 .3 1.5 .3-1.7 .3 1 .3 1 .3-.7 .3 .2 .3 .6 .3-1.7 .3 1.5 .3-1.7 .3 .6 .3 .4 .3-.3 .3 .3 .3-1 .3 .6 .3 .8 .3-1.1 .3 .8 .3 .2 .3 .2 .3 1.2 .3-2.1 .3 .9 .3-1.6 .3 1.8 .3-1.5 .3 .2 .3 1.2 .3-.2 .3-.7 .3 .7 .3 1 .3-2.3 .3 1.6 .3 .8 .3-1 .3-.2 .3 .9 .3-1 .3 1.5 .3-.5 .3-.7 .3 .8 .3-1 .3 1.1 .3 .3 .3-1.3 .3 .7 .3 .5 .3-.9 .3 .6 .3-1.1 .3 0 .3-.9 .3 2.1 .3-.6 .3-.4 .3 0 .3 .3 .3-.7 .3 1.3 .3-.2 .3-.6 .3 1.5 .3-.7 .3 .3 .3-.4 .3-1.1 .3 1.2 .3-1.3 .3 .8 .3 .1 .3-.9 .3 .3 .3-.7 .3 1 .3-1.4 .3 1.5 .3-.1 .3-1 .3-.2 .3 1.7 .3-2.1 .3 .8 .3 .2 .3 1.5 .3-1.6 .3 .2 .3-.3 .3-.4 .3 .8 .3 .2 .3-.2 .3 .2 .3-1.4 .3 1.6 .3 .3 .3-1.6 .3 .1 .3 1.6 .3-.9 .3 .6 .3 0 .3-.3 .3-.3 .3 1.1 .3-1.6 .3 .7 .3 1.3 .3-1.7 .3 0 .3 .2 .3 .2 .3 .1 .3 .9 .3-.4 .3 .4 .3-1.4 .3 1.4 .3-.5 .3-1.5 .3 .7 .3 .9 .3-1.1 .3 1.1 .3-.1 .3 .5 .3-1.6 .3 .2 .3-.4 .3 1.5 .3-.4 .3 0 .3-.7 .3 .8 .3 .8 .3-2.3 .3 1.2 .3-.4 .3-.2 .3-.7 .3 1.4 .3-.2 .3 .4 .3-.8 .3-.1 .3 .1 .3 0 .3 .6 .3-.8 .3-.5 .3 1.1 .3 .8 .3-.5 .3-1.3 .3 .2 .3 1 .3-.2 .3 .5 .3-.8 .3-.4 .3 1.1 .3-1.2 .3-.3 .3 1.4 .3-.3 .3-.1 .3-.7 .3 1 .3-.3 .3 .9 .3-1.9 .3 0 .3 .4 .3 0 .3 .2 .3-1 .3 .5 .3 1.4 .3-1.1 .3 1.3 .3-.3 .3-.5 .3 .2 .3-.3 .3 .3 .3 .8 .3-.6 .3 .5 .3-1.4 .3 0 .3 1.4 .3 0 .3-1.4 .3 .1 .3 .9 .3-.3 .3 .5 .3 .4 .3-.5 .3-.2 .3 .9 .3-.5 .3-.4 .3-.4 .3 2.1 .3-1.4 .3 .1 .3 .4 .3-.1 .3-1.4 .3 1.3 .3 .1 .3-1.3 .3 .6 .3 1 .3-1 .3-.6 .3 1.2 .3-.1 .3 0 .3-1.2 .3 .7 .3-.2 .3-.7 .3 1.9 .3-1.8 .3 .9 .3 .2 .3-.5 .3 .6 .3 .1 .3 .4 .3-.9 .3 1.1 .3-.7 .3-.2 .3 .5 .3-.2 .3-.8 .3 1 .3-.5 .3 1.8 .3-1.1 .3-1.7 .3 .9 .3 .3 .3 1.2 .3-1.2 .3 1 .3-1.5 .3 .5 .3-.8 .3 .2 .3 1.1 .3 .4 .3-1.5 .3-.3 .3 1.6 .3-1.1 .3-1.5 .3 1.6 .3-.5 .3 .1 .3 .5 .3 .9 .3-.2 .3-1.8 .3 1.7 .3-1 .3-1.7 .3 0 .3 1.2 .3 .4 .3 2.5 .3-2.8 .3-.1 .3 .7 .3-1.3 .3 .4 .3 .9 .3-.8 .3-.9 .3 1 .3 1 .3-1.2 .3 .2 .3 1.6 .3-1.6 .3 .8 .3 0 .3 .4 .3-1.5 .3 1.6 .3-2.1 .3 .7 .3 1.5 .3-1.5 .3-1.5 .3 1.1 .3 .8 .3 1.7 .3-2.8 .3-.2 .3 1 .3 .8 .3-.3 .3 1.3 .3-1.8 .3 1.1 .3-1.2 .3 .8 .3 .3 .3-1.8 .3 .9 .3-.2 .3 .8 .3-.9 .3-.4 .3 1.4 .3-.5 .3-.4 .3 .3 .3-.1 .3 .3 .3 .2 .3-.1 .3-1.6 .3 2.8 .3-1.2 .3-.7 .3 .7 .3 .1 .3 1.7 .3-1.8 .3 0 .3 1 .3-1.5 .3 1.7 .3-.7 .3-.2 .3 0 .3-.1 .3-.7 .3-.9 .3 1.4 .3 .7 .3-1.4 .3 0 .3 .5 .3 0 .3 .4 .3-3 .3 1.4 .3 .7 .3 .5 .3 .1 .3-.6 .3 .1 .3 .2 .3-1 .3 2.4 .3 .2 .3-1.7 .3 0 .3-.3 .3-1 .3 1.7 .3-.4 .3 .4 .3 .3 .3-1.3 .3 .9 .3-.7 .3-1.1 .3 .4 .3 .5 .3-.2 .3 .4 .3-.4 .3 0 .3 .7 .3-.4 .3 1.2 .3-.9 .3-.4 .3-.5 .3 1.2 .3-.8 .3-1.2 .3 1.5 .3-.2 .3 .4 .3-.1 .3-1.4 .3 1.2 .3-1.3 .3 .5 .3-.1 .3 .1 .3-.3 .3 0 .3 1.5 .3-3.1 .3 1.1 .3 1.2 .3-1.9 .3 .6 .3-.2 .3-.3 .3 .7 .3 .5 .3-2.1 .3 2.2 .3-.5 .3-.5 .3 .3 .3 .2 .3-.2 .3 .2 .3 .2 .3-.5 .3 1.2 .3 .9 .3-1.4 .3 .6 .3 1.1 .3-1.2 .3-1.1 .3 .7 .3 .8 .3-.9 .3 .3 .3-.9 .3 .2 .3 1.2 .3 .2 .3-.8 .3 .4 .3-.1 .3 .5 .3 .7 .3-1.1 .3-1 .3 1.6 .3-.6 .3-.3 .3 .6 .3 0 .3-.2 .3 0 .3 1.2 .3-1.4 .3 .7 .3-.6 .3-.4 .3 1.4 .3-1.6 .3 1.4 .3-.8 .3-.4 .3 1.9 .3-.5 .3 .3 .3-1.1 .3-1 .3 1.3 .3-1.7 .3 1.4 .3 .8 .3-.8 .3-.7 .3-.1 .3-1 .3 1 .3-.2 .3-.3 .3 .6 .3-1.2 .3 .5 .3 .6 .3 .4 .3 .5 .3 .6 .3-1 .3-.9 .3 .3 .3-.4 .3 1.3 .3-.8 .3 1 .3-.3 .3-1.2 .3 .9 .3 .3 .3-1.2 .3 .1 .3 .2 .3 .4 .3-.1 .3 .9 .3 .1 .3-1.6 .3 .2 .3 .5 .3 .8 .3-.8 .3 .7 .3-1.1 .3 .8 .3-.5 .3-.9 .3 .1 .3 .4 .3-.4 .3 0 .3-.4 .3 .5 .3 .1 .3-1.9 .3 1.8 .3 .4 .3 .5 .3-1 .3-.4 .3 .4 .3-.1 .3-.2 .3 .2 .3-.3 .3 .3 .3 .9 .3-.8 .3 .4 .3-.8 .3 1 .3 1.7 .3-2.9 .3 2.4 .3-1.8 .3 1.8 .3-1.4 .3 1 .3-.4 .3 .7 .3-2.2 .3 1 .3-.5 .3-.7 .3 .5 .3 .1 .3 1.3 .3-2 .3 1.1 .3 1 .3-.3 .3-.6 .3-.5 .3 .4 .3 .3 .3 0 .3 0 .3-.5 .3 .1 .3 .5 .3 .6 .3-2.5 .3 .9 .3 .3 .3-.1 .3 .4 .3-.3 .3 .5 .3-.1 .3-1.4 .3-.1 .3 .8 .3 .1 .3 .3 .3 1.2 .3-.7 .3-1.2 .3-.1 .3 .4 .3-.4 .3 1.3 .3-1.2 .3 .7 .3 1.2 .3-1.7 .3-.1 .3-.4 .3 1 .3-.3 .3 .3 .3 1 .3-1.9 .3-.7 .3-.1 .3 .7 .3-.2 .3 .1 .3 .8 .3-.4 .3-1.1 .3-.5 .3 .3 .3 1.1 .3-1.6 .3 1.6 .3 1 .3-.2 .3-1 .3-.5 .3 .3 .3-.5 .3 2 .3-.5 .3-.3 .3 0 .3-1.8 .3 .8 .3 2.3 .3-2.5 .3 .8 .3 .2 .3 .6 .3-1.6 .3 .8 .3 1.6 .3-2.2 .3 1.3 .3-2 .3 1.9 .3-1.1 .3-.2 .3 .5 .3 1.2 .3-2.4 .3 1 .3 .3 .3-.4 .3 .1 .3-1.8 .3 1.5 .3 .5 .3 .5 .3-1.5 .3 1.6 .3-2.2 .3 .9 .3-.1 .3-1.8 .3 2.9 .3 .2 .3-.7 .3-.5 .3 1.5 .3-1.2 .3 .1 .3 0 .3-.1 .3 .7"/>
<path class="ln" stroke="#9467bd" d="M70.8 297.4l.3-.1 .3 2 .3-2.1 .3 1.8 .3-1 .3-.5 .3 .8 .3-1.1 .3 .6 .3-.5 .3 .7 .3-.8 .3 .5 .3 .1 .3-.3 .3-1 .3 1.9 .3-.2 .3 .3 .3-1.9 .3 1 .3-.1 .3-.3 .3 .9 .3-.5 .3-.2 .3-.4 .3 .8 .3-1.1 .3 .8 .3 .3 .3-1.1 .3 0 .3 1.3 .3-2.5 .3 1.3 .3-.6 .3-.1 .3 .8 .3-.3 .3-.1 .3-.2 .3-.5 .3 1.1 .3-1.4 .3-.6 .3 1.5 .3-.6 .3 .1 .3-.5 .3-.6 .3 0 .3 1 .3-.5 .3 1.3 .3-.1 .3 .4 .3-1.3 .3 .4 .3 1.2 .3-1.5 .3-1.2 .3 1.5 .3-1 .3 1.2 .3-.4 .3-.4 .3-.1 .3 1 .3-.2 .3-.8 .3 .2 .3 .5 .3-.3 .3-.1 .3-.9 .3 .7 .3-.7 .3 1.9 .3-1.5 .3 .5 .3-.4 .3-.6 .3 1.1 .3 .6 .3-.7 .3 0 .3-1.1 .3-.3 .3 .5 .3-.4 .3-.3 .3 2.1 .3-1.9 .3 .6 .3 .1 .3-.1 .3 .1 .3-1.5 .3 2.1 .3-.2 .3 .3 .3 .7 .3-.7 .3-.2 .3-1.6 .3 1 .3-.1 .3-.8 .3-.7 .3 .4 .3 .6 .3-1.3 .3 1.3 .3 .4 .3-.5 .3 1.5 .3-.9 .3-.2 .3 .5 .3-.4 .3 .6 .3-1.9 .3 1.4 .3-1.6 .3 1.3 .3-.6 .3 1.8 .3-.6 .3-.9 .3 1.1 .3-1.1 .3 1.1 .3 .1 .3-1.2 .3 .6 .3 .7 .3-.7 .3 0 .3-.7 .3 .2 .3 .1 .3 .5 .3 .2 .3-1.5 .3 1.6 .3 .3 .3-1.1 .3-.9 .3 .4 .3 .2 .3 .1 .3 1 .3 .3 .3-.6 .3-.2 .3-1.2 .3 .3 .3-.6 .3-.3 .3 .2 .3-.2 .3 0 .3 .7 .3-.1 .3-1.5 .3 1.7 .3-.9 .3 1.3 .3-2.1 .3 1 .3 .6 .3-1.4 .3 .9 .3-.4 .3 1.5 .3-.7 .3-.4 .3-.1 .3 .4 .3-.6 .3 .4 .3 .2 .3-.8 .3 .6 .3-.7 .3 .8 .3-1.6 .3 .7 .3 .4 .3-.9 .3 1 .3 .4 .3-.2 .3 .1 .3-.6 .3 .1 .3 1.6 .3-.5 .3 .1 .3-.8 .3 .4 .3-.7 .3 .4 .3-.2 .3-.2 .3-.6 .3 .4 .3-.6 .3-.1 .3 1.2 .3 .1 .3 .3 .3-2.3 .3 1.8 .3 .4 .3 1 .3-1.2 .3-.2 .3 .2 .3 0 .3 .4 .3 .6 .3-.8 .3-.5 .3 1 .3-1 .3 0 .3 1.1 .3-.5 .3 0 .3-.6 .3 .2 .3 .5 .3-.7 .3-.3 .3 .2 .3 .1 .3-.9 .3 1 .3-.1 .3-.2 .3-.5 .3 .4 .3 .4 .3-.2 .3-.3 .3 .4 .3 .5 .3 1.7 .3-1.4 .3-.8 .3 1.1 .3-.7 .3-.5 .3 .6 .3 .1 .3-1.6 .3-.6 .3 1.6 .3-.4 .3 .9 .3 .4 .3-.5 .3-.1 .3-.7 .3 .5 .3-1 .3 .6 .3 .7 .3-.4 .3 .7 .3-.1 .3 .4 .3-.9 .3 .4 .3-.9 .3 1.5 .3 0 .3 .2 .3-.6 .3-.6 .3-.1 .3-.2 .3 .5 .3 1.2 .3-1.5 .3 1.6 .3-1.9 .3-.5 .3 1.4 .3 .3 .3-.8 .3 .5 .3 1.3 .3-1.8 .3 1 .3-.8 .3 .5 .3-1.2 .3 2.1 .3-.3 .3-1 .3 1 .3 .2 .3-1.4 .3 .6 .3 .7 .3-1.5 .3 2 .3-1.2 .3 .8 .3-1.6 .3 .9 .3 .5 .3 .7 .3 .3 .3-1.2 .3 .6 .3-.2 .3-.8 .3 .4 .3 1.6 .3-1.4 .3-.5 .3 1.4 .3 .1 .3-.1 .3-.3 .3 1.1 .3-.8 .3-.1 .3 1.6 .3-.3 .3-1.9 .3 .9 .3-.1 .3 .1 .3 1 .3-.9 .3 .8 .3 .8 .3-.5 .3 .1 .3 .3 .3 .4 .3-.7 .3-.5 .3 1.3 .3-.3 .3-1.1 .3 .5 .3 .3 .3-.8 .3 .8 .3 .4 .3 .5 .3 .4 .3 0 .3-1 .3 .8 .3 .2 .3-.7 .3 .8 .3 .5 .3-1.2 .3 1.9 .3 0 .3 .2 .3-.4 .3 .2 .3-.3 .3 .4 .3 .1 .3-.3 .3 0 .3 1.4 .3-1 .3 .7 .3-.1 .3-.6 .3 .5 .3 .4 .3-.9 .3 2.2 .3-1.3 .3 .5 .3-.3 .3 .7 .3 .2 .3-.9 .3 .7 .3-.1 .3-.6 .3 1.4 .3 .3 .3-.8 .3 1.3 .3-1.2 .3 1 .3 1 .3-1.5 .3 .5 .3 1.1 .3 .4 .3-1.4 .3 .4 .3 .2 .3 1 .3-.2 .3 0 .3 .4 .3 .8 .3-2.4 .3 2.9 .3-.7 .3 .3 .3 .5 .3 .6 .3-.3 .3 1.6 .3-1.5 .3 0 .3 1 .3 .6 .3-1.8 .3 2.2 .3-1.2 .3 1 .3-.4 .3-.3 .3 .6 .3-.6 .3 1.2 .3-1.8 .3 1.1 .3 .3 .3 .2 .3-.4 .3 .4 .3 .8 .3-.4 .3-.3 .3 1.6 .3-1.7 .3 .2 .3 .5 .3-.8 .3 0 .3 .2 .3 1 .3 .3 .3-1.4 .3 0 .3 .7 .3-1.6 .3-.5 .3-.4 .3 1.3 .3-1.3 .3-.3 .3 1 .3 .1 .3-.6 .3-1.6 .3-.1 .3 0 .3 .3 .3 .3 .3-1.2 .3 1.9 .3-1 .3 .8 .3-.6 .3-1 .3 .3 .3 .1 .3-.9 .3-.9 .3 .1 .3 .5 .3-.1 .3-1.5 .3 .2 .3-.3 .3 .1 .3-.3 .3 1.1 .3-.8 .3 .5 .3-1 .3-.1 .3-.2 .3 1 .3-1.1 .3-.1 .3 .9 .3-1.4 .3 .7 .3 1.1 .3-.8 .3-.3 .3 .9 .3-2.1 .3 1.8 .3-1.6 .3 .3 .3 1.6 .3-1.5 .3 .1 .3-1 .3 .8 .3-.1 .3-.4 .3 .5 .3-.8 .3 .3 .3-.9 .3 .9 .3-2.1 .3 1.3 .3 .6 .3-.3 .3-.4 .3 .3 .3 1 .3-1.1 .3-1.6 .3 .2 .3 .4 .3 .4 .3-.7 .3 .1 .3-.7 .3-.2 .3 .3 .3 .9 .3-1.5 .3 .1 .3 .9 .3-.5 .3-.4 .3 1 .3-1.4 .3 .3 .3-.1 .3 .4 .3 1.3 .3-2.6 .3 1.3 .3-.7 .3-1.5 .3 1 .3-.3 .3 .1 .3-.6 .3 .8 .3-.6 .3-.5 .3 .2 .3 .5 .3-.5 .3 .7 .3 .1 .3-.5 .3 .3 .3 .6 .3-2.4 .3 1.4 .3-1 .3 0 .3-.1 .3-1.1 .3 1.3 .3-1.1 .3 .1 .3 1 .3-.1 .3 .2 .3-.5 .3-.4 .3 .3 .3-.3 .3 .3 .3 .2 .3-.2 .3-.3 .3-.7 .3 1.2 .3-.7 .3 0 .3 .6 .3 .1 .3-.6 .3 1.4 .3-1.7 .3 .1 .3 1 .3 .4 .3 .1 .3-.1 .3-.8 .3 1.5 .3-1.6 .3 .8 .3-1.1 .3 .7 .3-.5 .3-.3 .3 1.7 .3-2.5 .3 1.9 .3-1 .3 .2 .3 .2 .3 .1 .3 1 .3-1.3 .3-.3 .3-.5 .3 .4 .3-.6 .3 .6 .3 .8 .3-1.3 .3 .7 .3 .4 .3-.4 .3-.6 .3 .5 .3 .5 .3-.6 .3-.3 .3-.2 .3 .3 .3-.4 .3-.3 .3 1.5 .3-1.9 .3 .8 .3-.8 .3-.2 .3 1.5 .3-1.1 .3 2 .3-1.1 .3-.7 .3 .3 .3 .2 .3-.3 .3 .4 .3-.8 .3 .7 .3-.7 .3 0 .3 .1 .3-.6 .3-.1 .3 .9 .3 .6 .3-1 .3 .1 .3 1.3 .3-1.2 .3 0 .3-.6 .3 1 .3-.3 .3-.7 .3 1.1 .3-.2 .3 .2 .3-.3 .3 .3 .3 .2 .3-.5 .3 0 .3 .1 .3-.8 .3-.1 .3-.7 .3 1.3 .3-.8 .3 .6 .3-.6 .3 1.5 .3 .8 .3-.5 .3-.9 .3 .5 .3-.1 .3 0 .3-1.9 .3 2.4 .3-1.8 .3-.8 .3-.2 .3 1.8 .3-.7 .3 0 .3 .2 .3 .9 .3-.6 .3 .7 .3-1 .3 .7 .3-.7 .3 .6 .3-1.4 .3 1.4 .3 1.1 .3-1.6 .3 0 .3-.6 .3 .7 .3 0 .3-.1 .3 .4 .3-.6 .3 .5 .3 .7 .3-1.4 .3 1.4 .3-1.5 .3-.5 .3 .7 .3-.3 .3 .4 .3 1.1 .3-2 .3-.3 .3 1.7 .3 .8 .3-2 .3 .6 .3 0 .3-1.6 .3 1.9 .3-.1 .3-.2 .3 .4 .3-1.5 .3 1.2 .3 .4 .3-.7 .3 .4 .3 .8 .3 .9 .3-.1 .3-.1 .3-.5 .3-.4 .3-.5 .3 .5 .3-.9 .3 .2 .3 .2 .3 .1 .3-.1 .3 .3 .3 .2 .3-1 .3-.4 .3 1 .3-1.4 .3 .8 .3-.2 .3 .8 .3-.1 .3 .1 .3 .4 .3-.8 .3 .5 .3 .2 .3 .2 .3-2.4 .3 1.1 .3 1.3 .3 .3 .3-1.9 .3 1 .3 0 .3-.1 .3 .7 .3 0 .3 .1 .3 .5 .3-.2 .3-.3 .3-.1 .3 .3 .3-.7 .3-.3 .3 .4 .3 .6 .3-.5 .3 0 .3 0 .3-.1 .3-.2 .3 0 .3-.2 .3 .8 .3 1.2 .3-1.3 .3 1.2 .3-1 .3-.5 .3 .1 .3 .9 .3 0 .3-1.2 .3 .8 .3 .5 .3-.4 .3-.5 .3-.4 .3 .2 .3-.7 .3 .1 .3 1 .3-.4 .3 1.3 .3-.9 .3 .8 .3-.5 .3 .4 .3 .6 .3-.9 .3-.6 .3-.1 .3 .3 .3 1.9 .3-1.8 .3-.6 .3 1 .3 0 .3-1 .3 .5 .3-1.3 .3 .9 .3 1.2 .3-1 .3-.7 .3-.5 .3 0 .3 1.8 .3-.9 .3 1.7 .3-.7 .3 .5 .3-3.1 .3 2.6 .3 .4 .3-.6 .3-.1 .3-.8 .3-.1 .3 1 .3 0 .3 0 .3-.2 .3-.1 .3-.1 .3-.8 .3 1.8 .3 .2 .3-.8 .3 1 .3-1 .3-.1 .3 0 .3-.1 .3 .3 .3 .3 .3-.5 .3-.3 .3 .1 .3-.6 .3-.7 .3 .5 .3 .6 .3-.2 .3 .8 .3-1 .3 1.1 .3-.4 .3 .1 .3 .7 .3-1.3 .3 .3 .3 1.2 .3-.1 .3-.2 .3-1 .3-1.2 .3 .9 .3-.4 .3 1.6 .3-1 .3-.8 .3 1.9 .3-1 .3 .7 .3 0 .3 .2 .3 .5 .3-1.1 .3-.8 .3 .9 .3-1 .3 .1 .3-.2 .3 1.2 .3-.2 .3-.7 .3 1.5 .3 .3 .3-.5 .3-.5 .3 .4 .3-.4 .3-.5 .3 .5 .3-.2 .3 .2 .3 .4 .3-.1 .3-1.2 .3 1.4 .3-1.5 .3 .6 .3 .3 .3-.4 .3 .7 .3-1.9 .3 2.6 .3-2.1 .3 1.1 .3 .4 .3-1.5 .3 1 .3 .4 .3-1.3 .3 .3 .3 .7 .3-1 .3 .7 .3-.5 .3 .4 .3-.6 .3-.6 .3 .9 .3 .8 .3-.3 .3 .2 .3-.8 .3-.7 .3 1.5 .3-.4 .3 .3 .3-.9 .3 .6 .3-.7 .3 1.8 .3-2.3 .3 1.4 .3-1.1 .3 .6 .3 .2 .3 .3 .3 .2 .3-.4 .3-.7 .3 .9 .3 0 .3-.7 .3 .4 .3 .9 .3-.9 .3-.4 .3 1.6 .3 .6 .3-.3 .3-1 .3 0 .3 .1 .3-.2 .3-1 .3 2.1 .3-1.5 .3-.1 .3 .6 .3 1.1 .3-1.2 .3 .9 .3-.4 .3 .5 .3-1.1 .3-.6 .3 .3 .3 1.9 .3-1.9 .3 1.8 .3-1 .3-.9 .3 .3 .3 1.4 .3-.9 .3-.3 .3 1.1 .3-1 .3 .1 .3 1.3 .3-.2 .3-.4 .3-.6 .3 .1 .3 2 .3-2.6 .3-.7 .3 1.3 .3-.4 .3 .9 .3-1 .3 .8 .3-.2 .3-.2 .3 .5 .3-.7 .3 2 .3-.7 .3-.4 .3 .1 .3-.8 .3 .6 .3 .2 .3 .5 .3-.6 .3 .1 .3 .8 .3-1 .3-1 .3 .9 .3 0 .3 .5 .3-1.8 .3 2.2 .3-1.7 .3 1.5 .3-.4 .3-1 .3-.1 .3 .3 .3 .6 .3-.8 .3 .5 .3 .9 .3-.3 .3 0 .3 .4 .3-1.3 .3-.2 .3 .6 .3 .4 .3-.6 .3 .5 .3 .2 .3 .1 .3 .1 .3-.8 .3 1.3 .3-.7 .3-.7 .3 .9 .3-1 .3-.7 .3 .7 .3-1.1 .3 .7 .3 .5 .3 .3 .3 .2 .3-.2 .3 .1 .3-.7 .3 .6 .3-.5 .3 .2 .3-.2 .3 1.5 .3 0 .3-2 .3 1.1 .3-.6 .3 .7 .3 1.1 .3-.8 .3 .6 .3-1.3 .3 1.6 .3 .3 .3-1.4 .3-1.9 .3 .9 .3 0 .3 1.2 .3-.6 .3-.7 .3 1.2 .3-.7 .3-.8 .3-.2 .3 2 .3 .1 .3-.8 .3 0 .3 .6 .3 1.8 .3-1.1 .3-.7 .3 .1 .3 .9 .3 .1 .3-1.3 .3 .3 .3 .4 .3-.1 .3 .2 .3 0 .3 1.3 .3-1.4 .3 1.1 .3-1.1 .3 1.5 .3-1.7 .3 .2 .3 .8 .3-1.5 .3 1.1 .3-.7 .3 .1 .3-.7 .3 .8 .3-.6 .3 .6 .3-.2 .3 .2 .3-.2 .3 1 .3-1.6 .3 .8 .3 .7 .3-.2 .3 .4 .3-1.2 .3 1.6 .3-1.1 .3 .6 .3-.5 .3 1 .3-.1 .3-1.8 .3-.5 .3 2.2 .3-.8 .3 .7 .3-.2 .3-.1 .3-.1 .3-.4 .3 .5 .3 .7 .3 0 .3 .3 .3-1 .3-.3 .3 .7 .3-1.8 .3 2.5 .3-1.2 .3 .2 .3 .1 .3-.8 .3 .7 .3-1 .3-1.2 .3 2.3 .3 1.1 .3-1.2 .3 .1 .3-.3 .3 1.5 .3-.4 .3-1.5 .3 .2 .3-.7 .3 .9 .3-1.2 .3 .6 .3 .4 .3-1.1 .3 .5 .3 .9 .3 .1 .3-1.4 .3 .4 .3 .1 .3 .3 .3 0 .3-.7 .3 1.4 .3-.7 .3-.4 .3 .9 .3 .2 .3-.1 .3 1.1 .3-2.2 .3 .3 .3-.3 .3-.4 .3 1.8 .3-.9 .3-.2 .3 .7 .3-.8 .3-.5 .3 .9 .3-.4 .3-.3 .3 2 .3-.9 .3 .3 .3 .9 .3-1.3 .3 .3 .3-.8 .3-1 .3 1.9 .3 .2 .3-1.3 .3 .2 .3-.9 .3 .3 .3 1.7 .3-1.5 .3 0 .3 .1 .3-.6 .3-.3 .3-.2 .3 1.2 .3-.3 .3-.1 .3 .8 .3 1 .3-1.9 .3-.6 .3 0 .3 1.5 .3-1.3 .3 1 .3 .7 .3-1.1 .3 .1 .3 .2 .3 .8 .3-1.5 .3 .5 .3-.2 .3 .2 .3-.6 .3 1.6 .3-.7 .3 .1 .3 .5 .3-.3 .3 .7 .3-1.3 .3 .2 .3-.1 .3 .4 .3-1 .3 3.2 .3-2.5 .3 .5 .3 1 .3-1.5 .3 .8 .3 .4 .3-2.3 .3 .8 .3 1 .3-1 .3 1.7 .3 0 .3-.4 .3-.8 .3-.3 .3 .9 .3-1.6 .3 .6 .3 .9 .3-.3 .3-.7 .3 1.2 .3 .3 .3-.8 .3-1 .3 .5 .3 .9 .3 0 .3-.9 .3 .3 .3 .2 .3 .6 .3-1.4 .3 .4 .3 1.3 .3-1.6 .3-.4 .3 .4 .3 .6 .3-.4 .3 .4 .3-.2 .3-.7 .3 1.4 .3-1.2 .3 1.5 .3-1.3 .3 .6 .3 .7 .3-1.1 .3 .8 .3 0 .3-1.8 .3 .2 .3 .5 .3-.7 .3 1 .3 .2 .3-.3 .3-.3 .3 .5 .3-.6 .3 .3 .3-.7 .3 1.5 .3-.2 .3-.5 .3-.7 .3 .6 .3-.3 .3-.2 .3 1.1 .3 .5 .3-7.1"/>
<path class="ln" stroke="#8c564b" d="M70.8 297.4l.3 .4 .3-.2 .3-.7 .3-1 .3 1 .3 .8 .3 .4 .3 .5 .3-1.6 .3 1.3 .3 .2 .3-.3 .3-1.7 .3 .7 .3 1.2 .3-.2 .3-.4 .3 0 .3-.4 .3 .5 .3 .3 .3-1 .3 .3 .3 .4 .3-1.3 .3 0 .3 .3 .3 .2 .3-.4 .3 1 .3 .2 .3-.2 .3-.2 .3-.1 .3-.4 .3 1.2 .3-.6 .3-.1 .3 .6 .3-1.6 .3-.7 .3 2 .3-.2 .3 1.8 .3-1.4 .3 .2 .3-.1 .3 .1 .3-.6 .3 .6 .3-.9 .3 .8 .3 .2 .3 .2 .3-1.9 .3 .8 .3 .2 .3-.3 .3 .1 .3 .7 .3-1.5 .3 1.2 .3 .7 .3-1 .3-.5 .3-.7 .3 1.8 .3-1.6 .3 .7 .3 1.2 .3-2.5 .3 1.6 .3 .6 .3-1.5 .3 2.2 .3-1.8 .3 .8 .3 .5 .3-.9 .3-1.2 .3 1.7 .3-.9 .3 .5 .3-.3 .3-.4 .3 1.1 .3 .8 .3-.6 .3 .1 .3-.4 .3-1 .3 1.1 .3-1.2 .3 .7 .3 .2 .3 .5 .3-.8 .3-.3 .3 .4 .3-.6 .3 .8 .3-.9 .3-.3 .3 1.3 .3 .4 .3-.3 .3-.7 .3 1 .3-.2 .3 0 .3-.5 .3 1.3 .3-.7 .3-.6 .3-.7 .3 .3 .3 1.7 .3-1.2 .3-.9 .3 1.3 .3-.4 .3 .6 .3-1.2 .3 1 .3 .1 .3-.3 .3 .8 .3-.9 .3 0 .3-.7 .3 .9 .3-.6 .3 1.3 .3 0 .3-.8 .3 1.1 .3-.7 .3 1.1 .3-1.3 .3 0 .3 .1 .3 1 .3-.3 .3 .5 .3-.7 .3-.1 .3-.8 .3 .1 .3 .3 .3 .7 .3-.4 .3 1.5 .3-.6 .3 .4 .3-1.5 .3 .4 .3 1.2 .3-1.5 .3 0 .3-1.7 .3 1.9 .3-1 .3 .3 .3 .5 .3 .2 .3-1.4 .3 1 .3 .1 .3-.5 .3 .2 .3-.4 .3 1.6 .3-1 .3-.2 .3-.4 .3 1.2 .3-1.2 .3 1.8 .3-.4 .3-.5 .3-.4 .3 .4 .3-.9 .3 .7 .3 .1 .3-1.1 .3-.1 .3 1.3 .3 .4 .3-.6 .3 .8 .3 .1 .3-.1 .3-.8 .3-.2 .3 .3 .3-.9 .3 .6 .3 0 .3 .5 .3 .3 .3 .8 .3-1.8 .3 .3 .3 .5 .3-.8 .3 .2 .3 1.3 .3-.9 .3-1.2 .3 2 .3-.3 .3 1 .3-2.5 .3 1.3 .3-.4 .3 .3 .3 .6 .3-1.5 .3 .2 .3 .8 .3-.8 .3 .4 .3-.4 .3 .8 .3 .1 .3-.9 .3 .8 .3-.7 .3-.7 .3 1.3 .3-.1 .3-.5 .3 0 .3 1.5 .3-.8 .3-.3 .3-1 .3 1.3 .3 .3 .3 .2 .3-.7 .3 1 .3-1.2 .3 .6 .3-.1 .3-.6 .3 .9 .3 .5 .3-1.3 .3-.5 .3-.1 .3 .4 .3-.3 .3 .1 .3 .8 .3-.6 .3 .3 .3-.4 .3-.2 .3 .7 .3-.7 .3-.7 .3 .7 .3-.2 .3-.2 .3 .4 .3 .7 .3 .3 .3-.2 .3-.1 .3-.9 .3 .5 .3 .3 .3-.1 .3-.5 .3-.7 .3-.6 .3 .5 .3 .9 .3-.8 .3 1.1 .3-.6 .3 1.1 .3-.3 .3-.6 .3 .1 .3 .3 .3-1.6 .3 1 .3 1 .3-.7 .3-.1 .3 .8 .3-1.3 .3 1.6 .3-1.3 .3 1.9 .3-1.2 .3 .1 .3 .9 .3-.4 .3-.4 .3-.6 .3 .8 .3 .8 .3-1 .3-.1 .3 .4 .3 .7 .3-1.9 .3 .4 .3 .6 .3-.1 .3-.1 .3 .4 .3-.5 .3 .6 .3-1.3 .3 .4 .3 .5 .3-.8 .3 .6 .3-.9 .3 1.5 .3-.3 .3 .7 .3-.4 .3-1.4 .3 .5 .3 .7 .3-1 .3 1.1 .3-.1 .3 .2 .3-1.9 .3 0 .3 1 .3-2 .3 1.8 .3 1.4 .3-1.3 .3 .2 .3-1.1 .3 1.9 .3-1.2 .3 .6 .3-.5 .3-.2 .3 .7 .3 .5 .3-1.2 .3 .6 .3-.7 .3 .3 .3 1.9 .3-1.4 .3-.5 .3 0 .3 1.2 .3-.3 .3 .4 .3-.8 .3 .5 .3 .3 .3-1.4 .3 .4 .3 .1 .3-1 .3 1.8 .3-1.2 .3-.1 .3 .2 .3 .2 .3 1.2 .3-.9 .3 1 .3-.5 .3-.1 .3-.3 .3-.8 .3 .8 .3 .3 .3-1 .3 1.4 .3-2.2 .3 1.4 .3 .3 .3-.2 .3-.5 .3-.8 .3 1 .3 .2 .3 .1 .3-1.3 .3 1.4 .3-1.1 .3 .7 .3 .2 .3-.1 .3 1 .3-.7 .3 .1 .3-1 .3 .2 .3-.1 .3-.4 .3 1.1 .3 0 .3 .7 .3-.5 .3-1.1 .3 1.1 .3-1.4 .3 1.6 .3-.1 .3-.6 .3-1 .3 2.3 .3-.7 .3-1.5 .3 .4 .3-.3 .3 1.5 .3-.2 .3-.4 .3-1.1 .3 1.4 .3-.7 .3-.4 .3 .6 .3 .5 .3 .2 .3-.2 .3 1.1 .3-.5 .3-.4 .3 1.4 .3-1.3 .3 1.5 .3-1.9 .3-.5 .3 .6 .3-.5 .3 .7 .3-.3 .3 .8 .3-.6 .3 .7 .3 .3 .3-2.2 .3 1.8 .3-.7 .3-.3 .3 1.6 .3-.8 .3-1 .3 .9 .3-1.6 .3 2.3 .3 0 .3-2.1 .3 1 .3-.6 .3 2.1 .3-.3 .3-1.2 .3 1 .3-2.2 .3 .3 .3 .2 .3-.9 .3 1.9 .3-1.3 .3 .1 .3 1.4 .3-1.2 .3 .8 .3 .1 .3 .6 .3-1.5 .3 .3 .3 0 .3 0 .3-.3 .3 .6 .3-.7 .3 1.1 .3-1.6 .3 1.4 .3-1.6 .3 1.6 .3 .3 .3-2.1 .3 1.3 .3-.7 .3 1.6 .3-.7 .3 .6 .3-.3 .3-.1 .3-.1 .3-1.2 .3 .4 .3 1.2 .3 .2 .3-1.4 .3 .8 .3 .2 .3-1.7 .3 .3 .3 0 .3 1.7 .3-.4 .3-1.1 .3 .4 .3 .2 .3 .5 .3-.8 .3 1.4 .3-2 .3 .8 .3-.7 .3-.4 .3 .4 .3 .2 .3 .4 .3-.4 .3 1.1 .3-1.5 .3 .8 .3-.9 .3-.4 .3 .5 .3 .1 .3-.3 .3 .8 .3-1.6 .3 2 .3-.7 .3-.5 .3-.6 .3 .1 .3 0 .3 .3 .3-.1 .3 .2 .3-.8 .3 .4 .3-.9 .3 .2 .3 1.2 .3-1.1 .3 .8 .3 .3 .3-2.2 .3 1.4 .3 .7 .3 .2 .3-1.1 .3 0 .3 0 .3-.5 .3 .7 .3-.6 .3-1.1 .3 1.9 .3-.9 .3 .8 .3-.4 .3 .7 .3-.9 .3-1 .3 1.9 .3-2 .3 1.4 .3 .1 .3-.5 .3 1.2 .3-1.5 .3 .2 .3 1.3 .3-.4 .3 .4 .3-1.5 .3-.4 .3 1.3 .3 0 .3-.3 .3 .4 .3 .5 .3-.9 .3 .4 .3-1.4 .3 1.3 .3-.3 .3-.4 .3 .1 .3 1.1 .3-1.8 .3 .7 .3 .4 .3-1 .3 .7 .3-1.3 .3 1.6 .3 .1 .3 .9 .3-2.2 .3 .8 .3 .1 .3 1.1 .3-1.4 .3 .6 .3-1.9 .3 1.9 .3-1 .3-.1 .3 1.1 .3-.9 .3 .3 .3-.1 .3 .3 .3 .2 .3-.6 .3-.3 .3-.3 .3 .7 .3 .4 .3 .5 .3-.3 .3-1.6 .3 1.6 .3-2.6 .3 2.3 .3 .2 .3-.6 .3-.2 .3 .5 .3 .5 .3-.7 .3-.2 .3-.3 .3-.3 .3 0 .3 1.9 .3-1.7 .3 .8 .3 .2 .3-.1 .3-.6 .3 .8 .3-.1 .3-.5 .3 1 .3-.1 .3-.8 .3 1 .3-.2 .3 .1 .3-1.7 .3-1.1 .3 2.2 .3-.5 .3-1.1 .3-.4 .3 1.1 .3-1 .3 1.3 .3 .7 .3-.6 .3 0 .3-.4 .3-.2 .3 .9 .3 .4 .3-.9 .3 .2 .3-.1 .3-.4 .3 .3 .3-1 .3 1.1 .3 .1 .3-.3 .3-1.6 .3 1.8 .3-.6 .3 .6 .3 .1 .3-1.2 .3 2 .3-.7 .3 .5 .3-.3 .3 .1 .3-.1 .3-.7 .3 .8 .3 .2 .3-.8 .3 1.2 .3-.3 .3-.7 .3-.2 .3 .8 .3 .8 .3-.6 .3-1.8 .3 .1 .3 .4 .3 .8 .3 .2 .3-1.2 .3 .7 .3-.6 .3-.3 .3 .8 .3-.3 .3 .2 .3 1.4 .3-2.8 .3 1.9 .3-.2 .3 .2 .3 .3 .3 0 .3-.9 .3 .9 .3-1 .3 .2 .3-.4 .3 1 .3-.4 .3-.8 .3 1.1 .3 .2 .3-.5 .3-.8 .3 1.5 .3 0 .3 .3 .3-.9 .3-.2 .3-.9 .3 1.2 .3-.3 .3 1.3 .3-1.6 .3 1.5 .3-2.4 .3 1.8 .3-1.1 .3 .7 .3 .2 .3-.7 .3 .1 .3 .3 .3-.4 .3 .9 .3-.8 .3 .1 .3-.5 .3 .5 .3-.4 .3 .7 .3 .5 .3-1.5 .3 .5 .3-.2 .3 .2 .3 .6 .3 0 .3-.3 .3-.9 .3 .8 .3 1.3 .3-1 .3 0 .3-1.2 .3 .5 .3-1.1 .3 1.3 .3 .2 .3 .4 .3-.1 .3 .1 .3 .6 .3-.6 .3 .1 .3-1.4 .3 .8 .3 .8 .3-.7 .3-.6 .3 1.4 .3-1.5 .3 .8 .3 1 .3-1.4 .3 .3 .3-.7 .3 2.5 .3-1.6 .3-.7 .3 .2 .3 .5 .3 1.1 .3-.8 .3-.7 .3-.2 .3 1.9 .3-1.4 .3-.1 .3 .1 .3 .1 .3 .6 .3 0 .3-.2 .3 1.1 .3-.5 .3-1.3 .3 1.1 .3 .1 .3 .5 .3-2.5 .3 1.7 .3-.2 .3-.8 .3 1.1 .3 .1 .3-.2 .3 .1 .3-.6 .3-.1 .3 .6 .3-.2 .3-1.6 .3 1.1 .3 .7 .3-.9 .3 .2 .3-.7 .3 .7 .3 .8 .3-.5 .3-1.3 .3 1.5 .3-1.2 .3 1.1 .3 .2 .3-.3 .3-.8 .3-.3 .3 .9 .3-.7 .3 1.2 .3 2.4 .3-2.7 .3 1.1 .3-.3 .3-1.5 .3 1.4 .3-1.1 .3 1.9 .3-1.4 .3 .4 .3 .1 .3 .1 .3 .2 .3-.2 .3-.4 .3-.5 .3 .4 .3-.8 .3 1.3 .3-1.1 .3-.1 .3 .3 .3 .9 .3-.6 .3 1.1 .3-2.1 .3 1.1 .3-.5 .3 .6 .3-.6 .3-.1 .3 2 .3-1.6 .3-1.1 .3 .4 .3 .3 .3-.5 .3 1.1 .3-.9 .3 1.6 .3-1.2 .3 .6 .3-.2 .3-.1 .3 0 .3-.4 .3 .9 .3 .5 .3-1.2 .3 .9 .3-1.1 .3 .5 .3 .7 .3-2 .3 2.3 .3-1.4 .3 1.7 .3-1.3 .3-.2 .3-1.2 .3-.2 .3 2.3 .3-.7 .3 1.1 .3-.7 .3-.3 .3-.3 .3 1.5 .3-.5 .3-.6 .3 .1 .3 .2 .3-1.6 .3 2.6 .3-.9 .3 .9 .3-1.3 .3-.6 .3-.5 .3 .8 .3 .4 .3 .3 .3 .3 .3-.3 .3 .8 .3 0 .3-1.4 .3 1.7 .3-1.4 .3 .4 .3 .4 .3-.4 .3-.5 .3-.4 .3 1.5 .3-1.2 .3 .7 .3-.5 .3 1.1 .3-.6 .3-.8 .3 .5 .3-2 .3 2.4 .3 .7 .3-1.1 .3-.2 .3 .8 .3-1.5 .3 .3 .3 .8 .3-1.1 .3-.9 .3 2.2 .3-.9 .3-.4 .3 1.7 .3-.9 .3 .8 .3-.6 .3-.5 .3 1.6 .3-3.2 .3 2.6 .3-.9 .3 .9 .3-1.5 .3 .1 .3 .3 .3 1.2 .3-.4 .3-1 .3-.4 .3 1.7 .3-.2 .3-1 .3 .2 .3 1 .3-2.5 .3 2 .3-1.3 .3 1 .3 .6 .3-2 .3 2.1 .3 .4 .3-2.1 .3 .4 .3 .2 .3 .7 .3 0 .3-.9 .3 .3 .3-.4 .3 .5 .3-1.2 .3 1.1 .3 .7 .3-.6 .3 .1 .3-.9 .3 0 .3 .7 .3-.4 .3-.5 .3 1.6 .3-.7 .3-.5 .3 .8 .3 .8 .3-1 .3 0 .3 .9 .3-2 .3 1.2 .3-.3 .3-.7 .3 1.8 .3-.8 .3 .6 .3 0 .3 .1 .3-1 .3 .3 .3-.1 .3 .5 .3-.5 .3 .3 .3-.7 .3 .9 .3-.8 .3-.7 .3 .8 .3 .2 .3-.1 .3-.9 .3 1.5 .3-.1 .3-.1 .3 .5 .3-.5 .3-.8 .3 0 .3 1.5 .3-1.9 .3 1.9 .3-1.6 .3 .3 .3 1.1 .3-.8 .3-.6 .3 .5 .3-.5 .3 .8 .3-1 .3 .3 .3-.2 .3-.5 .3 .4 .3 1.4 .3-.9 .3-.7 .3 .3 .3 .8 .3-.2 .3-.5 .3-.4 .3 .6 .3-.5 .3 1 .3-.3 .3 .1 .3 .2 .3-.5 .3 .3 .3-.5 .3 1.7 .3-1.3 .3-.2 .3 1 .3-1.1 .3 .7 .3-.3 .3-.1 .3 .5 .3-.4 .3-.8 .3 .8 .3-.6 .3 .6 .3 .1 .3 .2 .3 1.3 .3-1.5 .3 .6 .3-.6 .3 .4 .3-.7 .3 .3 .3-.7 .3 0 .3 1.4 .3-1 .3 1.7 .3-1.4 .3-.8 .3 .3 .3 2 .3-2 .3 1.5 .3-2.1 .3 .7 .3-1 .3 .9 .3 .4 .3 1.1 .3 .2 .3-1.3 .3-1 .3 1 .3-.3 .3 .3 .3-.5 .3-1.6 .3 1.6 .3-.7 .3 .4 .3 .2 .3 .1 .3 .3 .3-.3 .3 .3 .3 .8 .3-1 .3 .9 .3 0 .3 .5 .3 .1 .3-.7 .3-.7 .3 .2 .3-.7 .3 .5 .3 .8 .3 .3 .3-.3 .3-.6 .3 .4 .3-1.3 .3 2.1 .3-1.5 .3 0 .3-.4 .3-.1 .3 1.5 .3 .1 .3-1.3 .3 .9 .3 .4 .3-2.3 .3-.1 .3 1.8 .3-.4 .3 1 .3 .1 .3-1.5 .3 .7 .3 .2 .3-.8 .3 1.2 .3-.1 .3-.5 .3-.1 .3-.7 .3 1.4 .3 .3 .3 .1 .3-1 .3-.5 .3 .5 .3 0 .3-.1 .3-1.9 .3 2 .3 0 .3 .5 .3-2.4 .3 2.4 .3-1.8 .3 1.4 .3-.3 .3 .4 .3-.5 .3 .3 .3 0 .3 .7 .3-1.7 .3 .2 .3 .2 .3 1.1 .3-.6 .3-.9 .3-.2 .3 .7 .3-1.3 .3 1.7 .3 .1 .3 .1 .3 .9 .3-1.4 .3 .2 .3 .5 .3-1.1 .3 .2 .3 .3 .3 .4 .3 1.1 .3-1.2 .3-.5 .3 .3 .3 0 .3-.9 .3 1.5 .3-.2 .3 .3 .3-.9 .3 .5 .3-.2 .3-.6 .3 .9 .3-.8 .3 1.8 .3-.5 .3-.3 .3 1.2 .3-2.1 .3 .5 .3 1.2 .3-1.5 .3 1.5 .3-.6 .3 .7 .3-.6 .3-.7 .3 .9 .3-1.8 .3 .3 .3 .9 .3-.7 .3-1.3 .3 2.2 .3-.9 .3 .3 .3 1.1 .3-1.1 .3 .6 .3-.7 .3-1.1 .3 1.7 .3-.5 .3 .6 .3-.8 .3-.3 .3 .9 .3-2.3 .3 3.1 .3-2.1 .3 1.3 .3-.3 .3 .2 .3 1 .3-1.9 .3 1.1 .3-.7 .3 .3 .3 .6 .3-1.2 .3-.1 .3-.3 .3 .4 .3-.8 .3 0 .3 1.2 .3 .3 .3-.6 .3-.2 .3-.4 .3 .9 .3-.1 .3 1.1 .3-.7 .3-1 .3 0 .3 .6 .3 .8 .3-1.4 .3 1.1 .3-1.4 .3-.2 .3 1.1 .3-.2 .3-.4 .3 1.4 .3-1.5 .3 1.1 .3 .6 .3 .7 .3-.9 .3-.6 .3 .8 .3-1.1 .3 2 .3-1.7 .3 1 .3 .8 .3-.8 .3 .4 .3-1.6 .3 1.2 .3-.4 .3 .8 .3-1.7 .3 .3 .3 .7 .3 .3 .3-1.4 .3-.2 .3 .3 .3 .7 .3-.7 .3 .3 .3 1.6 .3-.7 .3-1.1 .3-.8 .3 3 .3-2.6 .3 .2 .3 .1 .3 .3 .3 .7 .3 1.6"/>
</g>
<line class="tk" x1="40.64" y1="256.5" x2="45.50" y2="256.5"/>
<text class="t" x="13.14" y="261.00" textLength="21.18" lengthAdjust="spacingAndGlyphs">0.5</text>
<line class="tk" x1="40.64" y1="296.5" x2="45.50" y2="296.5"/>
<text class="t" x="13.14" y="301.00" textLength="21.44" lengthAdjust="spacingAndGlyphs">0.0</text>
<line class="tk" x1="40.64" y1="336.5" x2="45.50" y2="336.5"/>
<text class="t" x="1.85" y="341.00" textLength="32.55" lengthAdjust="spacingAndGlyphs">−0.5</text>
<line class="tk" x1="40.64" y1="376.5" x2="45.50" y2="376.5"/>
<text class="t" x="1.84" y="381.00" textLength="32.79" lengthAdjust="spacingAndGlyphs">−1.0</text>
<line class="tk" x1="67.5" y1="406.5" x2="67.5" y2="411.36"/>
<line class="tk" x1="169.5" y1="406.5" x2="169.5" y2="411.36"/>
<line class="tk" x1="271.5" y1="406.5" x2="271.5" y2="411.36"/>
<line class="tk" x1="373.5" y1="406.5" x2="373.5" y2="411.36"/>
<line class="tk" x1="475.5" y1="406.5" x2="475.5" y2="411.36"/>
<line class="tk" x1="577.5" y1="406.5" x2="577.5" y2="411.36"/>
<rect class="lg" x="52.4" y="244.4" width="149.0" height="128.4" rx="2.8" ry="2.8"/>
<line x1="58.0" y1="255.00" x2="85.0" y2="255.00" stroke="#1f77b4" stroke-width="2.08" stroke-linecap="square"/>
<text class="t" x="95.59" y="259.80" textLength="99.55" lengthAdjust="spacingAndGlyphs">Uncorrected X</text>
<line x1="58.0" y1="276.00" x2="85.0" y2="276.00" stroke="#ff7f0e" stroke-width="2.08" stroke-linecap="square"/>
<text class="t" x="95.60" y="280.80" textLength="99.03" lengthAdjust="spacingAndGlyphs">Uncorrected Y</text>
<line x1="58.0" y1="297.00" x2="85.0" y2="297.00" stroke="#2ca02c" stroke-width="2.08" stroke-linecap="square"/>
<text class="t" x="95.58" y="301.80" textLength="99.50" lengthAdjust="spacingAndGlyphs">Uncorrected Z</text>
<line x1="58.0" y1="318.00" x2="85.0" y2="318.00" stroke="#d62728" stroke-width="2.08" stroke-linecap="square"/>
<text class="t" x="95.92" y="322.80" textLength="82.73" lengthAdjust="spacingAndGlyphs">Corrected X</text>
<line x1="58.0" y1="339.00" x2="85.0" y2="339.00" stroke="#9467bd" stroke-width="2.08" stroke-linecap="square"/>
<text class="t" x="95.93" y="343.80" textLength="82.02" lengthAdjust="spacingAndGlyphs">Corrected Y</text>
<line x1="58.0" y1="360.00" x2="85.0" y2="360.00" stroke="#8c564b" stroke-width="2.08" stroke-linecap="square"/>
<text class="t" x="95.92" y="364.80" textLength="82.58" lengthAdjust="spacingAndGlyphs">Corrected Z</text>
<path class="ln" stroke="#000" clip-path="url(#c1)" d="M70.8 398.1 L71.3 397.5 L71.8 396.9 L72.3 396.4 L72.8 395.9 L73.3 395.4 L73.8 395.0 L74.3 394.6 L74.8 394.2 L75.3 393.8 L75.8 393.5 L76.3 393.1 L76.8 392.8 L77.3 392.4 L77.8 392.1 L78.3 391.7 L78.8 391.4 L79.3 391.1 L79.8 390.7 L80.3 390.4 L80.8 390.1 L82.8 388.8 L84.8 387.5 L86.8 386.2 L88.8 384.9 L90.8 383.7 L92.8 382.4 L94.8 381.1 L96.8 379.9 L98.8 378.6 L100.8 377.4 L102.8 376.2 L104.8 374.9 L106.8 373.7 L108.8 372.5 L110.8 371.3 L112.8 370.1 L114.8 368.9 L116.8 367.7 L118.8 366.6 L120.8 365.4 L122.8 364.2 L124.8 363.1 L126.8 362.0 L128.8 360.8 L130.8 359.7 L132.8 358.6 L134.8 357.5 L136.8 356.4 L138.8 355.3 L140.8 354.2 L142.8 353.1 L144.8 352.1 L146.8 351.0 L148.8 349.9 L150.8 348.9 L152.8 347.9 L154.8 346.8 L156.8 345.8 L158.8 344.8 L160.8 343.8 L162.8 342.7 L164.8 341.7 L166.8 340.8 L168.8 339.8 L170.8 338.8 L172.8 337.8 L174.8 336.8 L176.8 335.9 L178.8 334.9 L180.8 334.0 L182.8 333.0 L184.8 332.1 L186.8 331.1 L188.8 330.2 L190.8 329.3 L192.8 328.3 L194.8 327.4 L196.8 326.5 L198.8 325.6 L200.8 324.7 L202.8 323.8 L204.8 322.9 L206.8 322.0 L208.8 321.1 L210.8 320.2 L212.8 319.3 L214.8 318.5 L216.8 317.6 L218.8 316.7 L220.8 315.9 L222.8 315.0 L224.8 314.2 L226.8 313.3 L228.8 312.5 L230.8 311.6 L232.8 310.8 L234.8 310.0 L236.8 309.2 L238.8 308.3 L240.8 307.5 L242.8 306.7 L244.8 305.9 L246.8 305.1 L248.8 304.4 L250.8 303.6 L252.8 302.8 L254.8 302.0 L256.8 301.3 L258.8 300.5 L260.8 299.8 L262.8 299.0 L264.8 298.3 L266.8 297.6 L268.8 296.8 L270.8 296.1 L272.8 295.4 L274.8 294.7 L276.8 294.0 L278.8 293.3 L280.8 292.6 L282.8 291.9 L284.8 291.2 L286.8 290.6 L288.8 289.9 L290.8 289.3 L292.8 288.6 L294.8 288.0 L296.8 287.3 L298.8 286.7 L300.8 286.1 L302.8 285.5 L304.8 284.9 L306.8 284.3 L308.8 283.7 L310.8 283.1 L312.8 282.5 L314.8 281.9 L316.8 281.4 L318.8 280.8 L320.8 280.3 L322.8 279.7 L324.8 279.2 L326.8 278.6 L328.8 278.1 L330.8 277.6 L332.8 277.0 L334.8 276.5 L336.8 276.0 L338.8 275.5 L340.8 275.0 L342.8 274.5 L344.8 273.9 L346.8 273.4 L348.8 272.9 L350.8 272.5 L352.8 272.0 L354.8 271.5 L356.8 271.0 L358.8 270.5 L360.8 270.0 L362.8 269.5 L364.8 269.0 L366.8 268.6 L368.8 268.1 L370.8 267.6 L372.8 267.1 L374.8 266.7 L376.8 266.2 L378.8 265.7 L380.8 265.2 L382.8 264.8 L384.8 264.3 L386.8 263.8 L388.8 263.3 L390.8 262.8 L392.8 262.4 L394.8 261.9 L396.8 261.4 L398.8 260.9 L400.8 260.4 L402.8 260.0 L404.8 259.5 L406.8 259.0 L408.8 258.5 L410.8 258.0 L412.8 257.5 L414.8 257.0 L416.8 256.5 L418.8 256.1 L420.8 255.6 L422.8 255.1 L424.8 254.6 L426.8 254.1 L428.8 253.7 L430.8 253.2 L432.8 252.7 L434.8 252.3 L436.8 251.8 L438.8 251.3 L440.8 250.9 L442.8 250.5 L444.8 250.0 L446.8 249.6 L448.8 249.2 L450.8 248.7 L452.8 248.3 L454.8 247.9 L456.8 247.5 L458.8 247.1 L460.8 246.8 L462.8 246.4 L464.8 246.0 L466.8 245.7 L468.8 245.4 L470.8 245.0 L472.8 244.7 L474.8 244.4 L476.8 244.1 L478.4 243.9"/>
<line class="tk" x1="615.5" y1="252.5" x2="620.36" y2="252.5"/>
<text class="t" x="625.20" y="257.70" textLength="17.19" lengthAdjust="spacingAndGlyphs">60</text>
<line class="tk" x1="615.5" y1="306.5" x2="620.36" y2="306.5"/>
<text class="t" x="625.31" y="311.70" textLength="17.07" lengthAdjust="spacingAndGlyphs">40</text>
<line class="tk" x1="615.5" y1="360.5" x2="620.36" y2="360.5"/>
<text class="t" x="625.24" y="365.70" textLength="17.15" lengthAdjust="spacingAndGlyphs">20</text>
<rect class="fr" x="45.5" y="237.5" width="570.0" height="169.0"/>
<rect class="lg" x="447.6" y="244.4" width="160.8" height="24.8" rx="2.8" ry="2.8"/>
<line x1="453.1" y1="255.00" x2="480.0" y2="255.00" stroke="#000" stroke-width="2.08" stroke-linecap="square"/>
<text class="t" x="491.64" y="259.80" textLength="111.61" lengthAdjust="spacingAndGlyphs">Temperature(C)</text>
</g>
<g>
<clipPath id="c2"><rect x="45.5" y="440.5" width="570.0" height="169.0"/></clipPath>
<text class="h" x="247.47" y="430.50" textLength="164.25" lengthAdjust="spacingAndGlyphs">IMU[2] Gyro (deg/s)</text>
<g clip-path="url(#c2)">
<path class="ln" stroke="#1f77b4" d="M70.8 498.3l.3-1.8 .3 2.8 .3-.1 .3 2.6 .3-.6 .3-.9 .3-1.7 .3 3.5 .3 .5 .3 .8 .3 6 .3-6.2 .3 .4 .3 0 .3-1.7 .3-1.3 .3 2.9 .3-1.1 .3-.7 .3 2.1 .3 0 .3-.5 .3-.1 .3 .7 .3-4.5 .3 2.1 .3-.8 .3 1 .3 3.6 .3-1.4 .3-.8 .3 3.5 .3-2.4 .3 1.1 .3 .2 .3-3.3 .3-1.9 .3 3.2 .3-3.2 .3 5.6 .3-.2 .3 2.9 .3-3.9 .3-1.1 .3 4.3 .3-1.7 .3-.1 .3-1.4 .3 2.9 .3 1.2 .3-1.3 .3 2 .3-4.2 .3 1.3 .3 .8 .3-.6 .3 1.1 .3-.3 .3-2 .3-.5 .3 1.6 .3-1 .3 .4 .3 1.8 .3-.6 .3-1.5 .3-1.8 .3 5 .3-2 .3 .6 .3 .1 .3-1.4 .3-2.3 .3 4 .3-2.8 .3 1.8 .3-1.4 .3 3.1 .3 .8 .3-.8 .3 .7 .3 0 .3-1.2 .3-.6 .3-1.9 .3 3.8 .3-3 .3 2.8 .3-6.1 .3 2.1 .3 .1 .3 1.5 .3 .1 .3-1.2 .3-3.2 .3 3.6 .3 1.3 .3 .8 .3-.2 .3-5.3 .3 6.6 .3-1 .3-.6 .3-.1 .3 .1 .3 .4 .3-.1 .3 .3 .3 3.8 .3-1.5 .3-.4 .3-.5 .3 2.9 .3 2.6 .3-5 .3-.2 .3 1.5 .3-2.9 .3-.8 .3 1.5 .3 1.8 .3 .2 .3-1.6 .3 .8 .3-.5 .3-1.8 .3 4.9 .3-3.9 .3-.2 .3-2.5 .3 3.3 .3-4.3 .3 5.5 .3 3 .3-5.4 .3 .9 .3 2.5 .3-3.4 .3 1 .3 .5 .3 1.3 .3 2 .3-4.1 .3 2 .3-.6 .3-1.2 .3 3.2 .3-4 .3 1.6 .3 2.7 .3-2.9 .3 3.6 .3-2.7 .3 .5 .3-1.2 .3 1 .3 1.2 .3 2 .3-.4 .3-1.1 .3 0 .3 1.5 .3 1.1 .3-2.6 .3 4 .3-1.7 .3-1.8 .3 3.7 .3-2.5 .3 4.6 .3-3 .3 3 .3-2.5 .3 2.9 .3-3.3 .3 3 .3 1.8 .3-.9 .3-7.4 .3 5.6 .3 2 .3 .3 .3-.3 .3-2.3 .3-1.6 .3 .5 .3-1.9 .3 3.8 .3-3.9 .3 4.7 .3-.2 .3-.4 .3-1.4 .3 1.4 .3-2.1 .3 2.1 .3-1.5 .3-.9 .3 2.1 .3-.4 .3-.6 .3 1.3 .3-1.3 .3 2.3 .3 .1 .3 .4 .3 .7 .3-2 .3-.4 .3-.2 .3 1.5 .3-1.4 .3 1.8 .3-1.3 .3-3.3 .3 4.8 .3-5.3 .3 5.3 .3-1.3 .3-.9 .3 .5 .3 1.9 .3-1.2 .3 4.5 .3-3.4 .3-2.3 .3 3.3 .3-.1 .3 2.2 .3-5 .3 2 .3-1 .3 2.8 .3-3 .3 1 .3 1.2 .3 .6 .3-1.1 .3-1.3 .3 1.2 .3-1 .3 2.3 .3-.5 .3-.2 .3 .2 .3 .7 .3 2.3 .3-1.5 .3 1.2 .3-.4 .3 1.6 .3-2.4 .3-2.3 .3-.2 .3 2.4 .3 0 .3-1.9 .3 1.6 .3 .4 .3 1.6 .3-1.4 .3-2.5 .3 .4 .3 1.7 .3 6.4 .3-5.1 .3 .3 .3-1.6 .3 3.3 .3-3.3 .3-.7 .3 2.5 .3-2.2 .3 4.3 .3-5.2 .3 3.3 .3-3.9 .3 2.1 .3-.5 .3 2 .3-.5 .3-2.8 .3 4.1 .3-1.7 .3-2.2 .3 3 .3-2 .3 1.8 .3-.6 .3-1.2 .3 2.5 .3-5.5 .3 2.4 .3 2.1 .3-1 .3-.1 .3 .3 .3-1 .3 3.6 .3-2 .3-1.3 .3 4.9 .3-3.8 .3 3 .3-1.4 .3-.7 .3 .4 .3 .8 .3-2 .3-2.9 .3 3.4 .3-1.3 .3 3.5 .3 .6 .3-3.4 .3 4.5 .3-2.7 .3 .6 .3-.7 .3-1.1 .3 3 .3-2.1 .3-3.5 .3 2.3 .3 1.6 .3 2 .3-1.4 .3-.7 .3 .8 .3-.2 .3-2.3 .3 1.5 .3-.9 .3 2 .3-3 .3-1.6 .3 3.4 .3-.1 .3 3.9 .3-2.3 .3-.8 .3 3.5 .3-3.1 .3-2 .3 1.1 .3 .3 .3 2.7 .3-1.9 .3-.4 .3-1.1 .3-.9 .3 2.3 .3-3.3 .3 5.2 .3-1.9 .3 1.9 .3-2.3 .3 4.2 .3-3.2 .3-1 .3 3.6 .3-1.9 .3-.3 .3-1.8 .3 1.6 .3 2.1 .3-2.1 .3-1.6 .3-1.7 .3 1.6 .3 4 .3-1.6 .3 .8 .3 .8 .3 4.3 .3-4.6 .3 1.8 .3-3.1 .3 1.9 .3-1.3 .3-2.9 .3 1.1 .3-.5 .3 2.4 .3 .8 .3 2.1 .3 .2 .3 .2 .3-3.3 .3-.9 .3 3.5 .3-1.4 .3 2.8 .3 .6 .3-3.4 .3 1.5 .3-.5 .3-1 .3 2.5 .3-2 .3 .9 .3-2.8 .3 3.2 .3 0 .3 1.4 .3-1.7 .3 3.2 .3-2 .3 1.6 .3-3.2 .3 3.6 .3-3.5 .3-.4 .3 1.7 .3 1.6 .3-3.9 .3 3 .3-.3 .3-2.5 .3 2.7 .3 1.1 .3-.2 .3 4.4 .3-5 .3-3.8 .3-1.9 .3 4.6 .3-.6 .3-3.7 .3 3 .3 .6 .3-.3 .3-1.1 .3 2.5 .3 .1 .3 .6 .3-1.1 .3-1.1 .3-1.3 .3 2.7 .3-1 .3-.9 .3 3.5 .3-1.3 .3 1.8 .3-2 .3 1.5 .3-3.2 .3 3.9 .3 .1 .3-1 .3-2 .3 2.3 .3-3.7 .3 6.3 .3-3.1 .3-1.6 .3 1.3 .3-.6 .3-5.5 .3 5.1 .3 0 .3-2.4 .3 6.3 .3-4.5 .3 2.5 .3-4.7 .3 .3 .3 7 .3-2.5 .3 3.3 .3-2.1 .3 1.9 .3-4.7 .3 3.4 .3-1 .3 .5 .3 .9 .3-2.5 .3 2.8 .3 2.2 .3-7 .3 4 .3-.1 .3 4.4 .3-1.7 .3-2.1 .3 2.5 .3-.2 .3 1 .3 .8 .3-2.6 .3 1.4 .3-.7 .3 3.9 .3-.6 .3-1.2 .3-1 .3 2.8 .3-6.2 .3 1.9 .3 2.5 .3-4.6 .3-2 .3 5.5 .3 .8 .3 1.1 .3-.7 .3 .9 .3-1.6 .3-1.6 .3 1.2 .3-1.7 .3 2.9 .3-1 .3 1.1 .3 1.6 .3 .7 .3-2 .3-.6 .3 1.9 .3-.8 .3-.2 .3-.5 .3-1.4 .3-.8 .3 1.4 .3-1.3 .3 2.2 .3 .1 .3-1.8 .3 2.8 .3-1.9 .3 1.5 .3-1 .3-.7 .3 .2 .3 2.3 .3-1 .3-2.2 .3 1.9 .3 .6 .3 2 .3-2.8 .3-1.2 .3 1.1 .3-3.7 .3 2.9 .3-2.4 .3-.3 .3 .1 .3 0 .3 2.8 .3 1.3 .3-3.1 .3 1.7 .3-1.5 .3 .6 .3 3.3 .3-3.1 .3 .9 .3 1 .3-.4 .3-.8 .3 1.5 .3-3 .3 3.1 .3 .7 .3 1.8 .3-.1 .3-3 .3-.5 .3 2.7 .3-4 .3 4.8 .3-4.5 .3 .2 .3 2.2 .3 .8 .3-1.9 .3-2.9 .3 3.7 .3-2.2 .3 .8 .3-.7 .3-1.7 .3 .8 .3 3.1 .3-.2 .3 2.4 .3-1.9 .3 .2 .3-.4 .3-4.6 .3 3.8 .3 .3 .3 1.5 .3 1.5 .3-1.8 .3 4.4 .3 .4 .3-1.3 .3-4 .3-1 .3 4.9 .3-.2 .3-1.9 .3 0 .3-1.6 .3-.5 .3 1.5 .3-1.8 .3 .5 .3-1.6 .3 5.1 .3-4.4 .3-1.1 .3 2.8 .3-1.6 .3-.1 .3 1.3 .3 1.7 .3-.9 .3 .5 .3-2.8 .3 6 .3-3.2 .3 5.4 .3-6.2 .3 3.2 .3-.8 .3-2.5 .3 3 .3-2.7 .3 3.9 .3-.2 .3 .7 .3 2.4 .3-6.6 .3 3.5 .3 2.7 .3 .7 .3-3.2 .3 2.4 .3-4.5 .3 3 .3 .5 .3-4.4 .3 2.5 .3 2.2 .3-2.3 .3 .2 .3 0 .3 1 .3-.4 .3 2.6 .3-1.7 .3 2 .3 1.2 .3-6.1 .3 3.7 .3-2.3 .3 3.4 .3-1.5 .3-.2 .3-.1 .3-2.9 .3 .4 .3-.1 .3 1.5 .3 1.3 .3-.6 .3 1.6 .3-3 .3 6.9 .3-3.2 .3 2.3 .3-.5 .3 .6 .3-1.8 .3-.9 .3 5.1 .3-3 .3-.3 .3-1.1 .3 1.2 .3-.3 .3-.3 .3 2.9 .3-1.2 .3-1.9 .3 3.2 .3-4.3 .3 2.6 .3 1.1 .3 3.4 .3-5.7 .3-1.5 .3 .5 .3 2 .3-3.8 .3 5.6 .3-.7 .3-1.3 .3 .6 .3-2 .3 5.2 .3-3.4 .3 2.1 .3 .5 .3-1.7 .3-1.2 .3 1 .3 1.1 .3-1.1 .3 2.9 .3-5.7 .3 .4 .3 .7 .3 1.4 .3-.7 .3-2.5 .3 .8 .3 3.5 .3-.4 .3 1 .3 .9 .3 3.4 .3-2.8 .3-.3 .3 1.7 .3-5 .3 .7 .3 3.3 .3-1.7 .3 1.4 .3-.8 .3 .4 .3-1.4 .3 1.2 .3-1.3 .3 .3 .3 4.5 .3-2.8 .3 .7 .3-4 .3 6.5 .3-3.4 .3-1.8 .3 .6 .3 3 .3 1.6 .3-2 .3 .4 .3 6.6 .3-5 .3-2.6 .3-.3 .3 .7 .3 3.2 .3-.8 .3 1.9 .3-1.5 .3 .1 .3 2.1 .3-.7 .3 .3 .3-.2 .3 1.3 .3-3.5 .3 2.4 .3 1 .3-1.4 .3 1.5 .3-1.5 .3 .9 .3-2 .3-1 .3 0 .3 .4 .3-3.2 .3 .5 .3 2.2 .3 1.1 .3-3.1 .3 1.4 .3-2.2 .3-.7 .3 1.5 .3 1.2 .3 .8 .3-1 .3-.3 .3-1.8 .3 4.3 .3-3.5 .3 1.4 .3-1.8 .3 1.5 .3 2.8 .3-1.9 .3-1 .3 1.4 .3-.3 .3 .6 .3-3.1 .3 3.4 .3-1.1 .3-.3 .3 .4 .3 2.9 .3 .1 .3-2.8 .3 1.3 .3 2.6 .3-5.2 .3 2.2 .3 3.8 .3-1 .3-2.8 .3 3.2 .3-.8 .3-3 .3-4.4 .3 3 .3 3 .3-.1 .3 .6 .3 .6 .3 1.9 .3-.1 .3-4.7 .3 1.7 .3 .6 .3 .4 .3 1.3 .3-.1 .3-2.9 .3 2 .3 .9 .3-1 .3 .8 .3-2.9 .3 5.9 .3-3.9 .3 1.3 .3-1.8 .3 1 .3 2.4 .3-.4 .3 1.1 .3-4.1 .3 1.2 .3 .9 .3 3.3 .3-4.2 .3-.2 .3 .2 .3 2.3 .3-4 .3 3.3 .3 2.2 .3-3 .3-2 .3 3.4 .3-2.4 .3-.8 .3 4.5 .3-1.7 .3-.6 .3 1.9 .3-.4 .3 .8 .3 1.4 .3 1.4 .3-4.5 .3 1.7 .3 .1 .3 4.1 .3-5.9 .3-.3 .3 4.5 .3-2.7 .3 2 .3-3.1 .3 3.3 .3-2.3 .3-.3 .3-2.2 .3 .1 .3 5.9 .3-4.8 .3-.8 .3 3.5 .3-2.3 .3-1.6 .3 3 .3 .8 .3 2.6 .3-3.2 .3 .4 .3-.3 .3-1.6 .3-1.4 .3 5.2 .3-6.3 .3 6 .3-4.9 .3 1.9 .3-.5 .3-.4 .3 .1 .3 1 .3-1.6 .3-.6 .3-.3 .3 6.9 .3-5.2 .3-.4 .3-1.4 .3-.4 .3 1.1 .3 .1 .3-.7 .3 .3 .3 2.2 .3-.7 .3-3.8 .3 .3 .3 3.5 .3-1.3 .3 1 .3 2.1 .3-.8 .3-.2 .3-.2 .3 1.4 .3-.5 .3-1.5 .3 .4 .3-3 .3-1.1 .3 4.6 .3 2.5 .3-5.4 .3-.9 .3 4.2 .3-.5 .3 .1 .3 .6 .3 2 .3-.4 .3 2.4 .3 .5 .3-2.4 .3 .3 .3-.6 .3 1.6 .3-.3 .3 2 .3-1.9 .3-.7 .3 2.8 .3-1 .3-2.6 .3 4.4 .3-3.7 .3 1.4 .3 2.1 .3-3.9 .3 1.5 .3-.9 .3-.3 .3 .9 .3-.5 .3 1.2 .3 3.4 .3-4.3 .3-.7 .3 .4 .3-.8 .3 1.5 .3 1.9 .3-1.5 .3-.1 .3 .3 .3-4.1 .3 4.9 .3-3.2 .3-2.4 .3 3.8 .3-.6 .3 2.6 .3-4.8 .3 2.4 .3-.7 .3-2 .3 2.2 .3-1.3 .3-.7 .3 2.3 .3-3.1 .3 4.6 .3-3 .3 .7 .3 3.9 .3-4.2 .3-2.9 .3 1.9 .3 3 .3-.3 .3 0 .3 1.3 .3-3.9 .3 2.3 .3 2 .3-4.3 .3 2.6 .3 1.7 .3-2.5 .3-.1 .3-.3 .3-.1 .3 .3 .3-1.5 .3 2.9 .3-.6 .3-1 .3-.4 .3 5.9 .3-5.5 .3 2.4 .3-1.8 .3 .5 .3-.6 .3 2.1 .3-3.4 .3 2.1 .3-.7 .3-.8 .3 3.6 .3-1.9 .3 .7 .3 .8 .3-1.5 .3-.1 .3 0 .3 .8 .3-1.3 .3 2 .3-1.5 .3 1 .3-1.3 .3 0 .3 2.4 .3 0 .3 1.3 .3-4.1 .3 1.2 .3 1 .3 1.4 .3-3.9 .3 3.9 .3-.6 .3 1 .3 .1 .3-2.3 .3-1 .3 2.9 .3-1.6 .3 0 .3-3.8 .3 5.2 .3 3.6 .3-5.3 .3 4.2 .3 1.3 .3-3.7 .3 3.5 .3-5 .3 1.3 .3-1.6 .3 2.2 .3 .9 .3 1.3 .3-3.3 .3 1.7 .3-2.3 .3 1.4 .3-.3 .3-1.3 .3-3.3 .3 4.4 .3-2.4 .3 .1 .3-2 .3 .8 .3 .2 .3 1.6 .3 .1 .3-.7 .3 .3 .3 1.7 .3-2.6 .3 3.4 .3-1.9 .3 1.6 .3 1.3 .3-1.9 .3 1.7 .3 1.6 .3-5.1 .3 1.8 .3 .3 .3 5.6 .3-4.1 .3-2.8 .3 2.4 .3-3.5 .3 1.6 .3 1.1 .3-1.3 .3 2.2 .3-1.3 .3-1.5 .3-2.9 .3 2.5 .3 1.5 .3-4.3 .3 3.3 .3-.4 .3-1.9 .3-1.8 .3 4.7 .3 3.1 .3-3.8 .3 1.4 .3-.7 .3 1.9 .3-3.9 .3 .2 .3 1.8 .3 1.7 .3-3.9 .3-.1 .3 1.2 .3 3.4 .3-1.6 .3-.9 .3 .5 .3 .3 .3 1 .3-1.2 .3 3.3 .3 .4 .3-1.4 .3 1.2 .3-3.7 .3 2.7 .3 .9 .3-6.7 .3 .3 .3 7.2 .3-2.1 .3 .3 .3-2.5 .3 2.6 .3 0 .3-.4 .3 2 .3-.7 .3-1.2 .3-.4 .3 1 .3 2.7 .3-.2 .3 .8 .3-1.4 .3 .4 .3 1.6 .3 2.8 .3-6.7 .3 2.1 .3 1.1 .3-.2 .3-1.5 .3 1 .3-1.1 .3-1.2 .3 4 .3-1.3 .3 2.4 .3-1.5 .3 .7 .3 .6 .3-.1 .3 1.5 .3 .2 .3 1 .3-6.3 .3 4.7 .3 .4 .3-5.6 .3 1.5 .3-1.1 .3 2.4 .3 .2 .3-1.2 .3 3.3 .3-3.7 .3 2.2 .3-.5 .3-.1 .3 4.3 .3-5.5 .3 .1 .3 1 .3 5.6 .3-1.9 .3-1.4 .3-1.6 .3 4.3 .3 1.1 .3-2.3 .3-1.6 .3 3.1 .3-2 .3-.3 .3 1.1 .3-2.5 .3-1.6 .3 4.5 .3-1.9 .3 1.7 .3-1 .3-.8 .3-1.1 .3-.5 .3 0 .3-.9 .3 3.5 .3-1.4 .3-.6 .3 2.1 .3 .7 .3-1.2 .3 .4 .3 2 .3-2 .3 2.9 .3-1.9 .3 .9 .3-3.3 .3 1.5 .3-1.6 .3 3.8 .3 1.5 .3-6.7 .3 3.3 .3 0 .3 3.8 .3-7.1 .3 2.5 .3 1.7 .3 1 .3-2.8 .3-1.8 .3 2.4 .3-.8 .3 2 .3-1.7 .3 .8 .3-1 .3 2 .3 1 .3-3.2 .3 1.6 .3-3.5 .3 3.2 .3 .8 .3-1.4 .3 1.2 .3-2 .3 .9 .3-2.7 .3 6.8 .3-.8 .3-2.5 .3 1.3 .3-2.5 .3 .7 .3 1.5 .3 .4 .3-2.4 .3 1.7 .3-.4 .3-.6 .3 1.3 .3-2.1 .3 2.6 .3-1.9 .3-.9 .3 2.1 .3 1.4 .3 .3 .3-1.6 .3 .6 .3-1.2 .3 .4 .3-.2 .3-.1 .3-.4 .3 2.2 .3-4.5 .3 2.6 .3-1.6 .3 2.2 .3-1.8 .3 2.5 .3-.6 .3 .1 .3 1.9 .3 .7 .3-5.5 .3 2.1 .3 2.1 .3-4 .3 1.6 .3 2 .3-.7 .3-2.4 .3 .5 .3-2.7 .3 1.9 .3 5.8 .3-4.6 .3 .2 .3-.4 .3 4 .3-1.6 .3-.1 .3-.4 .3 .9 .3 1.1 .3-2 .3 .6 .3 2 .3 1 .3-4.2 .3 5.4 .3-1.5 .3-1.3 .3-1.8 .3 .4 .3-3.5 .3 3.6 .3-.5 .3 2 .3 1.9 .3-2.6 .3-1.9 .3-.7 .3-1.4 .3 5.5 .3-3.3 .3 2.8 .3-.1 .3 .5 .3 .8 .3-2.9 .3-.6 .3 1.8 .3 .7 .3 .2 .3-.4 .3 .6 .3-3 .3 2.8 .3-.8 .3 1 .3-3.6 .3 2.9 .3-1.5 .3 2.1 .3 .9 .3-1.1 .3-.4 .3 .3 .3 1.5 .3-.2 .3-.3 .3 1.4 .3 .8 .3-6.3 .3 6.2 .3 .4 .3-3.7 .3 2.2 .3-.1 .3 1.2 .3-1.6 .3 3.3 .3-3.6 .3 3.7 .3-6.1 .3 3 .3-1.8 .3-1.2 .3 3.4 .3 4 .3-4.2 .3-.6 .3 1.3 .3-.5 .3 .2 .3-.6 .3 1.9 .3-1.3 .3-.7 .3 3.8 .3-4.6 .3 3.2 .3-2.8 .3 .9 .3 .1 .3-2.3 .3 4 .3-1.6 .3 1 .3-3 .3 6.8 .3-4.3 .3-1.6 .3 2.9 .3-1.2 .3 .5 .3-.1 .3-2.9 .3 3.4 .3-.2 .3-2.2 .3 3.1 .3-.6 .3-.7 .3-1 .3 3.9 .3-2.4 .3 1.1 .3-.7 .3 2.2 .3-1.2 .3-2 .3 4.6 .3 .1 .3 .1 .3-5.2 .3 2.9 .3-4.3 .3 1.9 .3 2.5 .3-2.6 .3-.4 .3 0 .3 1.6 .3-2.7 .3 2.8 .3 5.1 .3 .3 .3-2.8 .3-1.4 .3 0 .3 2.2 .3-1.8 .3-2.1 .3-1 .3 2 .3 1.5 .3-4 .3 .5 .3 3.4 .3 .1 .3-1.8 .3 .6 .3 2 .3-.8 .3-2.6 .3 4.6 .3-.7 .3-2.2 .3-1.5 .3-.9 .3 3.7 .3 1.7 .3-2.1 .3 .2 .3-1.4 .3-.3 .3 1 .3 1.3 .3-3.5 .3 3.7 .3-1.5 .3-1 .3 2.4 .3-2 .3 2.1 .3 2.2 .3-2.1 .3-1.7 .3 2.3 .3-3.2 .3 2.5 .3-1.9 .3 2.1 .3-3.5 .3 1.3 .3 2.5 .3-.5 .3-4.8 .3 2.3 .3 .6 .3-1.9 .3 2.6 .3 1.9 .3-2 .3 1.3 .3 .4 .3-.5 .3 0 .3-.8 .3-3.2 .3 1.2 .3 2.4 .3-3.8 .3 3.2 .3-2 .3 1.4 .3-3.7 .3 6.4 .3-.6 .3-3.1 .3 1.5 .3 1.1 .3-5.4 .3 3.1 .3 3.8 .3-4.1 .3 .9 .3 4.5 .3-5.5 .3 3.6 .3-2.3 .3-2.1 .3 1.5 .3 .5 .3 1.2 .3 .2 .3-3.1 .3 2.5 .3 1.7 .3-3.1 .3-.2 .3 5.1 .3-2 .3-3.7 .3 .9 .3 0 .3 2.1 .3 .6 .3 .5 .3 0 .3-.6 .3-.5 .3 .9 .3-4.2 .3 4.4 .3-2.8 .3 .2 .3 2.4 .3-4.1 .3 1.8 .3 2 .3-2.1 .3-.5 .3 1.2 .3 1.6 .3 2.2 .3-2.9 .3-.4 .3-.5 .3 1 .3-.7 .3-7.3 .3 7.2 .3-1.6 .3 .8 .3-.9 .3-1.4 .3 2.9 .3-.4 .3-.8 .3-.8 .3-.2 .3 3.2 .3 1.7 .3-5.7 .3 2.8 .3 .7 .3 1.2 .3 .9 .3-.7 .3-4.2 .3 1.5 .3 3.7 .3-2.5 .3-1.5 .3 2.1 .3 .5 .3 1.8 .3-1.4 .3-.3 .3-1.7 .3-1.2 .3-1 .3 3.7 .3-.5 .3-1.7 .3 1.3 .3 1.2 .3-.2 .3-3.7 .3 6.7 .3-5.2 .3 4.3 .3-4.8 .3 2.1 .3 2.6 .3-.6 .3-.7 .3-.7 .3-.9 .3 1.5 .3 2.4 .3-3.8 .3-4.4 .3 6.3 .3 1.2 .3-2.7 .3 .1 .3 4 .3-1.7 .3-3.1 .3-1.6 .3 .9 .3-.3 .3-3 .3 3.2 .3-2.5 .3 2 .3 4.8 .3-6.1 .3 2.8 .3-3.4 .3 4.9 .3-3.5 .3 4.9 .3-4.2 .3 2.6 .3-1.2 .3-5.3 .3 6 .3 .8 .3-4.1 .3 2.7 .3 .5 .3-5 .3 1.6 .3 3.5 .3 1.7 .3-2 .3 1.9 .3-1.4 .3-2.8 .3-2.6 .3 6.2 .3-3.9 .3 .5 .3-.5 .3 .8 .3 2.5 .3-1.5 .3 .9 .3-2.9 .3 .6 .3-2.1 .3-1.2 .3 .9 .3 0 .3-2 .3 4.1 .3 .4 .3-2.3 .3 .2 .3 3.2 .3-.4 .3-2.2 .3 2.3 .3-.7 .3 1.2 .3-2.9 .3 2.6 .3 1.6 .3-2.9 .3 6.4 .3-4.8 .3-3.3 .3 2 .3 1.2 .3 1.6 .3-3.3 .3 3.5 .3-2.7 .3 3.5 .3-2.1 .3-1.6 .3 .2 .3 2.5 .3 1.5 .3-.6 .3 .7 .3-1.7 .3-8.3"/>
<path class="ln" stroke="#ff7f0e" d="M70.8 500.1l.3-2.6 .3 5.2 .3-.4 .3-2.5 .3 1.4 .3-2.1 .3-4.5 .3 3.3 .3-2.9 .3 5.3 .3-4.9 .3 3 .3-.6 .3 .2 .3 3 .3-2.9 .3 .6 .3 1.4 .3-2.2 .3-1.8 .3 1.5 .3 .9 .3-2.2 .3-.1 .3 2.3 .3-2.4 .3 3.6 .3-1.3 .3 2.7 .3-3.8 .3 .4 .3 .5 .3 1.5 .3-3.4 .3 1.1 .3 .3 .3-.6 .3 7.4 .3-6.4 .3 .7 .3 2.4 .3-2.8 .3-.6 .3 1 .3-1.9 .3 2.5 .3-1.5 .3-.1 .3 0 .3 .4 .3-1.9 .3 .6 .3 1.2 .3 .8 .3-1.4 .3 .6 .3 .1 .3-.7 .3 1.5 .3-.1 .3 .2 .3-.6 .3-1.9 .3 2.2 .3-1.8 .3 1 .3-.7 .3 1.6 .3 1.5 .3 1.4 .3-.9 .3-4.6 .3 1.9 .3 0 .3-3 .3 6.1 .3-2.5 .3 2.8 .3-2.4 .3 .2 .3-1.1 .3 2.2 .3 .1 .3-1.6 .3-.6 .3-2.8 .3 .6 .3 5.8 .3-6 .3-1.5 .3 4.6 .3 3 .3-5.9 .3 1.2 .3 .9 .3-.2 .3 .9 .3-1.9 .3-2.5 .3 2.9 .3-2 .3 3.3 .3-1.7 .3-2 .3 3.2 .3 .6 .3 .4 .3-3.7 .3 1.2 .3 1.5 .3-.1 .3 1.1 .3-4.7 .3 .4 .3 3.7 .3-1.8 .3-4.1 .3 3.9 .3 2.2 .3-3.3 .3 .4 .3 0 .3 2.1 .3-1.1 .3-1.1 .3 .2 .3 .3 .3 3.3 .3-2.3 .3-.4 .3 .4 .3 .3 .3-1.8 .3 .5 .3 .1 .3-3.3 .3 0 .3 2.8 .3 .5 .3 2.2 .3-3.5 .3 5.3 .3-5 .3-1.5 .3 4.9 .3-1.3 .3-.2 .3-2 .3 3.2 .3-1.3 .3-.9 .3-1.6 .3 2.5 .3 .5 .3-4.9 .3 .9 .3 1.1 .3 0 .3-4.5 .3 3.4 .3 3.2 .3-6.8 .3 2.5 .3-1.6 .3 1.2 .3-.7 .3 2.1 .3 .3 .3-.3 .3-.4 .3-3.4 .3 3.7 .3 .7 .3-2.5 .3 2.6 .3-1.3 .3 .9 .3 0 .3-.2 .3-4.4 .3 1.6 .3 2.5 .3-2 .3-1.3 .3-.8 .3 2.7 .3-.1 .3-.4 .3-1.5 .3 2.9 .3 3.7 .3-6.1 .3 0 .3 2.2 .3 2.5 .3-4.7 .3 1.2 .3-1.4 .3 3.6 .3-3.8 .3 1.5 .3 0 .3 .1 .3 4.2 .3-5.1 .3 1.7 .3-2 .3 2.7 .3-3.9 .3 5.8 .3-5.1 .3 .4 .3 1.5 .3 1.7 .3-2.2 .3-.8 .3 .6 .3-4.8 .3 1.9 .3 1.1 .3 1.2 .3 3.7 .3-1.8 .3-1 .3 1.1 .3 .9 .3-2.3 .3 2.3 .3-1.5 .3 .8 .3 2 .3-2.6 .3-3 .3 1 .3-.3 .3-1.6 .3 1.8 .3 .2 .3-.8 .3 1.2 .3-1.9 .3 2.2 .3-2.6 .3 .6 .3-3.1 .3 2.3 .3 2.9 .3-.8 .3-3.9 .3 3.8 .3-1.3 .3 2.5 .3-2.5 .3 .1 .3-1.4 .3 1.3 .3 .2 .3 2.6 .3-4.9 .3 2.4 .3-2.9 .3 2.5 .3-2.1 .3 .3 .3 .6 .3-.7 .3 5.2 .3-1.4 .3-1.3 .3 1.8 .3-5.2 .3 4.8 .3-5.8 .3 2.9 .3 1.7 .3-1.4 .3 .2 .3 .8 .3 .5 .3 1.1 .3-1.2 .3 2.1 .3-2.4 .3-.2 .3 1.9 .3-.2 .3-.5 .3-4.9 .3 1.8 .3-2.7 .3 2.3 .3 3.2 .3-5.9 .3-.4 .3 4.2 .3-.7 .3-2.4 .3 3.9 .3-1.6 .3 2.3 .3 1.9 .3-2.5 .3-1.7 .3-1.1 .3-.4 .3-.8 .3-.2 .3 3.8 .3-2.8 .3-.3 .3-2.1 .3 1.5 .3 1 .3-2.3 .3 2.8 .3 4.6 .3-5 .3 1.5 .3 .3 .3-3.4 .3 5.2 .3-4.7 .3-1.5 .3 1.3 .3 3.8 .3-1.8 .3 .1 .3-.3 .3-1.4 .3 3.2 .3-3.7 .3 2 .3-.8 .3 1 .3-.3 .3 .9 .3-1.6 .3-.9 .3 1.7 .3-2.6 .3 3.5 .3 .4 .3-2 .3 .3 .3 1.3 .3-.7 .3 2.4 .3-3.1 .3-2.2 .3-.1 .3-.7 .3 .5 .3 2 .3-2.1 .3-1.9 .3 7 .3-4.4 .3-.8 .3 2.4 .3 1.1 .3 2 .3-2.3 .3-2.5 .3 3.1 .3-4.2 .3 1.8 .3 0 .3-.2 .3 0 .3-.9 .3 4.4 .3-1.8 .3 .1 .3-.9 .3 .9 .3-1.2 .3 .4 .3 3 .3-4.5 .3 2.5 .3 2 .3-1.1 .3-4.3 .3 .3 .3-3.5 .3 7.4 .3-4.2 .3 1.8 .3 3.4 .3 .8 .3-3.2 .3 .7 .3 .9 .3-.8 .3-.5 .3-.9 .3 1.5 .3-1.6 .3 1.1 .3-2.1 .3 1.3 .3-1.8 .3 .2 .3 2.1 .3-.9 .3-2.5 .3 3 .3-4.1 .3 2.3 .3-2.6 .3 5 .3-1.8 .3-1.7 .3 2.5 .3-4.5 .3 5.1 .3-.7 .3 3.9 .3-5.9 .3 3 .3 1.5 .3-.5 .3-2 .3 1 .3-.3 .3 .8 .3-2.4 .3 2.8 .3-2 .3 .9 .3-2.5 .3 2.9 .3-2.8 .3 2.6 .3 1.3 .3-3 .3-1.3 .3 3.3 .3 .5 .3 .2 .3 2.7 .3-5.8 .3 6.5 .3-6.1 .3 4.8 .3-2.8 .3-3.1 .3 6.4 .3-5.5 .3 1.6 .3-.9 .3 .7 .3-.6 .3-.2 .3 .5 .3-.1 .3-3.4 .3-.5 .3 3.5 .3 2.2 .3-1.6 .3 .9 .3-.6 .3-4 .3 1.7 .3 2 .3-1.4 .3 1.9 .3-1.7 .3 1.4 .3-.9 .3-3 .3-.7 .3 2.7 .3 .2 .3 2.4 .3-2.1 .3 .8 .3 1.7 .3-3.4 .3 2.1 .3-2.7 .3-.3 .3-2.5 .3 4.3 .3-3.4 .3 5 .3-3.7 .3-.8 .3 3.1 .3-.4 .3 1.3 .3-1.3 .3 3.6 .3 .1 .3-1.7 .3-3.4 .3 3.6 .3 1.6 .3-1.2 .3-2.5 .3-1.2 .3 3.2 .3-1.8 .3-.2 .3-1.4 .3-1.4 .3 2.9 .3-.4 .3 1.3 .3-4.7 .3 3.6 .3-2.6 .3-.5 .3 .9 .3 4.1 .3-2.6 .3-1.6 .3 3.5 .3-.1 .3-2.3 .3-.7 .3 4.3 .3-.1 .3-3.1 .3 .6 .3 1.8 .3-.9 .3 3.4 .3-1.5 .3-.7 .3-.1 .3 1.5 .3 1.1 .3-2.6 .3-2.6 .3 2.4 .3-3.9 .3-.2 .3 5 .3-.2 .3-.1 .3 1.3 .3-1 .3-.5 .3 1.1 .3-2 .3 1 .3-1.4 .3-1.1 .3 2.8 .3-.6 .3 3 .3-.8 .3 1.1 .3-2.3 .3 1.9 .3-.1 .3-1.8 .3-1.3 .3 1.7 .3-1.2 .3 .6 .3 1 .3-1.7 .3 2.5 .3 1.1 .3-2.1 .3 .4 .3 .1 .3-1.2 .3 .9 .3-.3 .3 0 .3 2.1 .3-1.3 .3 1.4 .3 .2 .3 1.6 .3-2.5 .3-1.3 .3 .6 .3 1.7 .3-1.4 .3-.6 .3 .4 .3 .6 .3-1.5 .3 1.9 .3-1.8 .3-.8 .3 .9 .3 2.4 .3-3.3 .3-.3 .3 1 .3 1.4 .3-1.1 .3 1.6 .3-.8 .3-2.2 .3-1.7 .3 5 .3 1.9 .3-4.7 .3 3.1 .3-1.6 .3 .5 .3-4.3 .3 3.3 .3-2.2 .3-3.3 .3 6 .3-1 .3-3.3 .3 3.2 .3 2.9 .3 .3 .3-2.7 .3-3.9 .3 2.8 .3 1.1 .3-2 .3 2.3 .3 .5 .3-2.5 .3 1 .3 0 .3-1.7 .3 1.2 .3 1.1 .3 1.1 .3-.4 .3-4.8 .3 4.3 .3-.9 .3 1 .3 1.4 .3 .6 .3-5.8 .3 2.8 .3 3.6 .3-4.6 .3 .3 .3-.6 .3 .2 .3-.4 .3 0 .3 .2 .3 1.5 .3-1.8 .3-3.1 .3 3.7 .3 2.9 .3-4.1 .3 5.9 .3-3.5 .3 1 .3 2.7 .3-.4 .3-.9 .3 .2 .3 .7 .3-2.9 .3 1.5 .3-4 .3 2.7 .3 4.5 .3-1.1 .3-4.7 .3 1.9 .3 1.5 .3 1.2 .3-2.6 .3-.3 .3-.1 .3-1.7 .3 2.1 .3 3.6 .3-4.2 .3 2.4 .3-.7 .3 .2 .3 .7 .3 .5 .3-1.2 .3 2 .3-2.4 .3 1.6 .3 1.9 .3-.9 .3-.4 .3-3.2 .3-1.5 .3 3.2 .3 .4 .3 2.4 .3-2.5 .3-2.2 .3 .8 .3 1.7 .3-.7 .3-4.3 .3 6.1 .3-3.5 .3 4.6 .3-3.9 .3 3.8 .3-7.7 .3 5.3 .3 .1 .3 .3 .3-4.3 .3-.3 .3 4.3 .3-1.4 .3-1.1 .3 2 .3-1.9 .3-4.9 .3 4.1 .3 0 .3-1.9 .3 1.9 .3 .4 .3 1.2 .3-.6 .3 3.1 .3-3.9 .3 5 .3-.5 .3-2.1 .3-2.2 .3 1.5 .3-2.2 .3 1 .3 3.3 .3-2.1 .3 .8 .3-2.8 .3 5.3 .3-1.9 .3-.6 .3 .1 .3-4.3 .3 .9 .3 .9 .3-.2 .3 1.4 .3 .2 .3-2.2 .3 2.6 .3 .6 .3 1.8 .3-3.5 .3-3.4 .3 4.7 .3 .9 .3-3.6 .3 3.6 .3-.6 .3-4.5 .3 7.7 .3-6.1 .3-.5 .3-2 .3 .7 .3-.2 .3-.9 .3 .2 .3 1.5 .3-.6 .3 1.1 .3 .9 .3-.6 .3-.2 .3 1 .3-3.2 .3 1.1 .3 1.5 .3-.8 .3 .5 .3 0 .3-.9 .3-.6 .3-.2 .3 1 .3-1.1 .3-1.2 .3 .8 .3-3.1 .3 2.6 .3-2.4 .3 6.6 .3-4.8 .3-2.3 .3 2.3 .3 1.3 .3 2.3 .3-3.4 .3-2.4 .3 3.9 .3 2.5 .3-3.8 .3 .1 .3 1.2 .3-5.7 .3 3.7 .3 1.7 .3-2 .3-3 .3 2.5 .3 4.1 .3-2.1 .3 .2 .3-.9 .3 3.7 .3-2.4 .3 1.7 .3-1.5 .3-4.1 .3 1.8 .3 2 .3 2 .3 .4 .3-1.4 .3 2.3 .3-3.4 .3 2.3 .3-4.7 .3 4.5 .3-1.9 .3 4 .3-1.4 .3-3.3 .3 4.7 .3-3.9 .3 1.4 .3-3.7 .3 1.9 .3 3.6 .3-4.3 .3 .7 .3-2.9 .3 3 .3-1.8 .3 5.4 .3-8.8 .3 3.8 .3 1.6 .3-.9 .3 .2 .3 1.9 .3 3.4 .3-1.6 .3-5.9 .3 1.2 .3 3.8 .3-3 .3 1.7 .3-.8 .3 .7 .3-1.9 .3-2 .3 3.5 .3-4.6 .3 6.4 .3 2 .3-3.5 .3 1.7 .3-.7 .3-2.7 .3-.3 .3-.6 .3 3.1 .3 0 .3-3 .3-.1 .3 0 .3 1.8 .3 4.7 .3-2.3 .3-1.5 .3 2.5 .3-.9 .3 3.2 .3-3.9 .3-.6 .3 3.2 .3-3.7 .3 2.2 .3-1.5 .3 .9 .3-1.7 .3 2.7 .3-2.7 .3 .1 .3 .3 .3-2.6 .3 3.4 .3-1.7 .3 1.8 .3 .8 .3-3.3 .3 3.9 .3-1.2 .3 .4 .3 1.6 .3 1.6 .3-4.9 .3-1.4 .3 1.5 .3 1.4 .3-.9 .3 5.8 .3-5 .3 .4 .3 4.4 .3-6.5 .3 1.5 .3 .3 .3 2.1 .3-4 .3-2.1 .3 0 .3 3.6 .3 .8 .3 1.4 .3-1.7 .3 4.7 .3-4 .3 0 .3-4.5 .3 1.4 .3-.2 .3 3.3 .3-4.8 .3 5.1 .3-5.9 .3 3.1 .3 .4 .3-.4 .3 2.9 .3-.4 .3-3.8 .3 0 .3 2 .3-1 .3-1.1 .3 5 .3-5.6 .3 4.1 .3 2 .3 1.6 .3-1.6 .3 .5 .3-2.4 .3 3.3 .3-1.6 .3 .1 .3 .9 .3-1.1 .3-1.5 .3 .3 .3 3.1 .3-1.8 .3 1.7 .3-3.3 .3-.9 .3 2 .3-1.8 .3 2.1 .3-1.4 .3-1 .3 1 .3-.3 .3-1.2 .3 .9 .3 3 .3-2.1 .3 1.1 .3-1 .3 .3 .3-.8 .3-1.1 .3 1.4 .3-.2 .3-.5 .3 .9 .3-.7 .3-1.3 .3 .4 .3 1.5 .3 1.5 .3-3.1 .3 3.2 .3 1.9 .3-1.3 .3-2.2 .3 4.2 .3-2.7 .3-1.6 .3 1.1 .3 3.3 .3-.7 .3-.9 .3-3 .3 .8 .3 2.6 .3-2.2 .3-1.1 .3 1.1 .3-1.7 .3 3.7 .3 1.8 .3-4.6 .3-1.5 .3 3.5 .3-1 .3-1.1 .3-1.1 .3 1.3 .3-.6 .3-1.3 .3 3.3 .3-2.7 .3-1.2 .3 2.8 .3-2 .3-2.3 .3 3.4 .3 .2 .3-5.6 .3 6.6 .3 .3 .3-4 .3 0 .3 4.1 .3-5.9 .3 3.6 .3 1.4 .3-.2 .3-.8 .3-.1 .3 3 .3-3 .3-.6 .3 1.9 .3 .6 .3 .3 .3-.2 .3 1 .3-2.6 .3 .2 .3 4 .3-.9 .3-4.9 .3 .3 .3 2.4 .3-.8 .3 1.1 .3 2 .3-.6 .3-2.4 .3-1.7 .3 4.2 .3-3.3 .3 2 .3 1.7 .3-1.1 .3 .9 .3-3.9 .3 2 .3-.5 .3 4.1 .3-6.8 .3 1.7 .3 2 .3-3.3 .3 2.6 .3-2.9 .3 6.6 .3-3.4 .3-.9 .3-1 .3 0 .3-3 .3 1.6 .3 4.5 .3 .9 .3-2.1 .3-.6 .3 1.1 .3-4.8 .3 4 .3 1.2 .3-3.9 .3 2.3 .3-1.4 .3 3.3 .3 1.4 .3-6.4 .3 1.5 .3-.2 .3-.1 .3 0 .3 2.7 .3-3.6 .3 2.8 .3-.3 .3-.3 .3-1.2 .3 2.5 .3 1.7 .3-4.4 .3 1.6 .3 1.8 .3-1.7 .3 1.4 .3-1.2 .3 2 .3 1.1 .3-2.9 .3-.7 .3 .6 .3-1.7 .3 3.5 .3-3.8 .3 2.2 .3-.9 .3 2.5 .3-2.5 .3 3 .3-1.3 .3 1.8 .3 .4 .3-2.9 .3 1 .3-.9 .3 1.8 .3 .7 .3-.9 .3-.6 .3-2.9 .3 3.9 .3-2.3 .3 1.3 .3-.7 .3 1.2 .3 1.7 .3 .7 .3-3.5 .3 2.7 .3-2.1 .3-.7 .3 .1 .3-1.5 .3 4.8 .3-3.5 .3-1 .3-2.3 .3 1.4 .3 2.2 .3-2.9 .3 2.1 .3-1.2 .3-.8 .3 1.9 .3-1 .3 4.1 .3-4.1 .3 1.1 .3-1.6 .3 1.8 .3-1.6 .3 .4 .3 .4 .3 3.3 .3-1.6 .3-2.2 .3-.4 .3-1.1 .3 2.1 .3-6.6 .3 10.3 .3-1.7 .3-1.5 .3-1.9 .3 1.5 .3-.2 .3 1.7 .3 0 .3 .3 .3 .8 .3-5 .3 3.6 .3-.2 .3-.2 .3 .9 .3-2.1 .3 .5 .3 .9 .3 1.8 .3-3 .3 .1 .3 .3 .3 1.9 .3-.7 .3 2.8 .3-1.3 .3-1.8 .3-.7 .3 .5 .3 .1 .3 1.5 .3 2.7 .3-2.9 .3-6.3 .3 3.8 .3 2.2 .3-1.8 .3-.3 .3 3.8 .3-.9 .3-1.7 .3 1.1 .3-.9 .3 1.1 .3-3.1 .3-.4 .3 .1 .3 3.9 .3-2.4 .3-.1 .3 1.1 .3-.6 .3 1.4 .3-.7 .3-2.1 .3-.3 .3-.4 .3 3.3 .3 .9 .3-1.1 .3-.4 .3-2.7 .3 2 .3-1.2 .3 1.9 .3-.6 .3-1.1 .3 .8 .3 1.6 .3 1.5 .3-4.3 .3-2.1 .3 6.1 .3-3.7 .3 4.3 .3-.3 .3-3.9 .3 1.1 .3-2.4 .3 2 .3 2.3 .3-4.7 .3 1.5 .3 .6 .3 1.5 .3-1.4 .3-.2 .3 .7 .3-3.8 .3 4.3 .3-1.1 .3-3.2 .3 7.4 .3-4.1 .3 1.6 .3-1.1 .3 1.7 .3-.2 .3-2.9 .3 1.6 .3 2 .3-1.5 .3 4.9 .3-5.9 .3 2.1 .3 .1 .3-2.3 .3 3.2 .3-.9 .3 .6 .3-3.7 .3 1.1 .3 .1 .3 1.5 .3 0 .3-.6 .3 2.4 .3-4.5 .3 .2 .3 2.4 .3-5 .3 7.6 .3-3.1 .3 4.5 .3-8 .3 4.3 .3 .2 .3-.8 .3-3 .3 3.9 .3-.7 .3-3.5 .3 2.4 .3-1.7 .3 .7 .3 .7 .3 .8 .3 .1 .3 3.3 .3-5.4 .3-1.9 .3 5.1 .3 .6 .3-1.9 .3 .7 .3-3.3 .3 3.6 .3 .6 .3 .1 .3-2.1 .3 1.9 .3-3.7 .3-.9 .3-.7 .3 1.6 .3-1.9 .3 4.9 .3-1 .3-.4 .3 4.4 .3-3.1 .3-5 .3 5.8 .3-1 .3-.7 .3 1.2 .3-3.2 .3 6.3 .3-3.7 .3 3.5 .3-3.9 .3 1 .3 2.3 .3-2.6 .3 1.8 .3-2.4 .3 2.4 .3 1.3 .3-3.8 .3-1.8 .3 5 .3-3.7 .3 .7 .3 1.4 .3-1.5 .3 1.5 .3 2.4 .3-2.3 .3 1.4 .3-.3 .3-.8 .3 1.4 .3-1.7 .3-.1 .3 1.6 .3 4.1 .3-5.4 .3 5.6 .3-5.8 .3 4.3 .3-3 .3 1.8 .3-.1 .3-.2 .3 .3 .3-4.5 .3 1.8 .3 2.9 .3-2.8 .3 3.7 .3-2.4 .3-3.5 .3 3.7 .3-2 .3 1.1 .3 1.5 .3-1.5 .3 1.7 .3-4.7 .3 1.2 .3 2.6 .3 1.2 .3 .1 .3-2.9 .3 3.9 .3-4.8 .3 .8 .3 2.8 .3-2 .3-2.6 .3 7.3 .3-3.8 .3 2.7 .3-3 .3-1.5 .3 1.8 .3-.5 .3 2.1 .3 .3 .3-2.9 .3-.7 .3-.1 .3 1.1 .3 2.7 .3-.7 .3-3.6 .3 1.2 .3-1.6 .3 2.1 .3-2 .3 1.2 .3-.6 .3-.7 .3 1.1 .3 4.1 .3-2.7 .3 1 .3-3.1 .3-.5 .3 1.1 .3 1.6 .3-1.6 .3 1.6 .3 .1 .3-1.1 .3-.8 .3 .9 .3-.8 .3-.5 .3 .2 .3 .5 .3 1.2 .3-1.9 .3 1 .3-1.2 .3 .3 .3 4 .3-2.6 .3 .5 .3 .1 .3-2 .3-.3 .3-2.1 .3 .7 .3 .7 .3-2.4 .3 3.9 .3-.8 .3 .8 .3 1 .3 1.5 .3-2.9 .3 .8 .3-4.6 .3 2 .3-1.2 .3 .2 .3 5.1 .3-3.8 .3 3.3 .3-1.2 .3 .3 .3-1.2 .3-2.8 .3 1.2 .3-1.8 .3 4.4 .3-.5 .3-.3 .3 .7 .3-2.8 .3 1 .3 2.6 .3-1.7 .3 2.4 .3 .8 .3-2.9 .3 .3 .3 .4 .3-1.5 .3-1.1 .3 2.4 .3-.8 .3 2.4 .3-4.9 .3 1.4 .3 .8 .3 0 .3 .7 .3-.5 .3 2.2 .3-2.5 .3 2.5 .3-2.1 .3 .8 .3-1.6 .3 2 .3-4 .3 2.3 .3 .1 .3-.3 .3 2.3 .3-6.4 .3 3.7 .3-1.5 .3-1.7 .3 4.2 .3-1 .3 2.1 .3-1.1 .3-3.1 .3 3.6 .3-.9 .3-.2 .3-.5 .3 .1 .3 3.1 .3-.8 .3-7.6 .3 4.3 .3 .9 .3 2.7 .3-4.7 .3 .6 .3 2.2 .3 1.5 .3 .9 .3-6.5 .3 6 .3-4.4 .3 1.8 .3 .5 .3 .6 .3-.3 .3-.3 .3 1.2 .3-1.1 .3-1.7 .3 .4 .3 5.9 .3-2.7 .3-.6 .3-.7 .3-2.5 .3 2.3 .3 .2 .3-2 .3 1.4 .3 2.7 .3-2 .3-.7 .3 .9 .3-.4 .3-.6 .3 4.3 .3-2.6 .3-1 .3 1.3 .3 2.7 .3-.8 .3-2 .3 2.1 .3 1.1 .3-4.5 .3 .4 .3 5.7 .3-3 .3-3.1 .3 .9 .3 0 .3-1.6 .3 .9 .3-.7 .3 3.7 .3-1.7 .3-.1 .3-3.9 .3 4.3 .3 2.7 .3-5.2 .3 1.9 .3 1.3 .3-4 .3 2.9 .3 3.4 .3-5 .3 1.3 .3-.2 .3 .8 .3-1.9 .3 .2 .3 1.1 .3-2.3 .3 2.6 .3 1.8 .3-1.7 .3-1.3 .3-1.2 .3 2.3 .3-3.1 .3 3.1 .3 1.3 .3-.8 .3-3.8 .3 1.9 .3 .3 .3 .2 .3 .8 .3-2.8 .3 1.6 .3 1.1 .3-1.5 .3-2.1 .3 5.3 .3 .1 .3 .9 .3-1.9 .3-4 .3 2.2 .3 4.2 .3-3.2 .3 1.4 .3-3.3 .3 2.6 .3-1.2 .3-1 .3-1.1 .3 1.1 .3 1.2 .3 2.3 .3-1.5 .3-2.2 .3 0 .3 3.1 .3 0 .3 .3 .3-.5 .3-4.7 .3 4.9 .3-5 .3 2.5 .3-2.1 .3 4.4 .3-3.7 .3 3 .3-2.2 .3-.7 .3 3.4 .3-1.4 .3-1.6 .3 1.8 .3 1.3 .3-3.4 .3 2.5 .3 3.4 .3-4.9 .3 2.6 .3-4.4 .3 1.5 .3 2.4 .3 .6 .3-.6 .3 3.9 .3-5.4 .3 .4 .3 1.4 .3-.9 .3 .7 .3-1.8 .3 3.8 .3-4.2 .3 2.2 .3-2.4 .3-2.2 .3 3.1 .3-3.1 .3 4.5 .3 .4 .3-4.3 .3 1.2 .3 0 .3 3.3 .3-2.8 .3 .3 .3-1.1 .3 2.9 .3 1.6 .3-1.9 .3-3 .3 1.3 .3 .7 .3-1.2 .3 .7 .3 3.3 .3-3.8 .3-1.4 .3 2.2 .3-1 .3 2 .3-2.4 .3 1.9 .3-1.6 .3 1.3 .3-1.7 .3 .9 .3 2.2 .3-1.8 .3-.1"/>
<path class="ln" stroke="#2ca02c" d="M70.8 498.3l.3 2.9 .3-4.8 .3 2 .3 .5 .3 1.9 .3-2.7 .3-.9 .3 .5 .3 2.3 .3-4.2 .3 4.5 .3-3.1 .3 2.2 .3-4.2 .3 1.1 .3 .4 .3 1.7 .3-2.5 .3 1.3 .3 2.1 .3-2 .3 4.8 .3-.5 .3-4 .3 1.8 .3-.1 .3 .3 .3-1.1 .3-2.1 .3 2.9 .3-2.4 .3 5.7 .3-2.6 .3-.9 .3 2 .3-3.1 .3 .7 .3-2.4 .3-.3 .3-.2 .3 .5 .3 0 .3 2.3 .3-1.3 .3 .9 .3-2.3 .3-1.1 .3 1 .3 1.5 .3-1.2 .3 2.1 .3-1.8 .3 .7 .3-3.3 .3 3 .3-3.2 .3 2.6 .3-.8 .3 2.3 .3-2.6 .3-1.6 .3 1.1 .3-3 .3 6.5 .3-1.7 .3-5.2 .3 1.7 .3-1.5 .3 2.4 .3 1.5 .3-4.7 .3-.2 .3 3.9 .3-2.6 .3-.6 .3 3.6 .3-1 .3 .1 .3-4.7 .3 .1 .3 2.9 .3-.8 .3 0 .3 .7 .3-.5 .3 5 .3-6.6 .3 3.9 .3 1 .3-1.1 .3-.5 .3-1.4 .3 .3 .3-.8 .3-4.7 .3 5.7 .3 1.3 .3-3.8 .3 3.6 .3-3 .3 3.3 .3-3.3 .3 3.5 .3-2.8 .3 4.2 .3-1.9 .3 2.3 .3-1.9 .3-1.5 .3 4.3 .3-2.6 .3-6.1 .3 3 .3 5.9 .3-4.8 .3 .2 .3-4.8 .3 .6 .3 1.8 .3-2.7 .3 4.4 .3 .5 .3-2.5 .3 .7 .3 2.4 .3-3.1 .3 1.9 .3 1.9 .3-1.4 .3 2.6 .3-3 .3 3.4 .3-1.5 .3 2.2 .3-.9 .3-1.2 .3-3.6 .3 0 .3 5.3 .3-3.6 .3-.5 .3 1 .3 1.5 .3-.8 .3 1.5 .3-6 .3 3.8 .3-2 .3 .7 .3 1.4 .3-1.5 .3 .9 .3-2.5 .3 4.9 .3-4.3 .3 3.3 .3-.6 .3-.5 .3 2 .3-2.8 .3 .4 .3 2.5 .3 .1 .3-2.2 .3-2.2 .3 1.9 .3-1.7 .3 1.7 .3 2.6 .3-4.9 .3-.2 .3 2.8 .3-1.3 .3 .1 .3-.5 .3 2.6 .3-4.9 .3 3.5 .3 .5 .3-1.6 .3 1.5 .3-.3 .3-1.7 .3-2 .3 .6 .3-3.1 .3 4.7 .3 .1 .3-4.4 .3 3.8 .3 2.1 .3 1.3 .3-3.9 .3 2.5 .3-.5 .3-2.4 .3 1.8 .3-3.6 .3 1.9 .3-2.8 .3 1.9 .3 2.4 .3-3.1 .3 .7 .3 .9 .3 2.6 .3-6.2 .3 6.3 .3-3.7 .3 1.1 .3 0 .3-1.5 .3-.9 .3 1.2 .3-2.7 .3 2.9 .3-.8 .3 .9 .3-.4 .3-1 .3-1 .3 .8 .3 3.9 .3-7.8 .3 .8 .3 5.5 .3-1.3 .3-4.7 .3 7.9 .3-3.9 .3 .1 .3 .2 .3-1 .3-2 .3 5.1 .3-1.9 .3-6.1 .3 3.1 .3 3.3 .3-1.8 .3-1.4 .3 .4 .3-1.5 .3 1 .3 5.1 .3-1.6 .3-3.7 .3 1.7 .3 1.3 .3-1 .3-5.1 .3 4.5 .3-2.2 .3 4.8 .3-1 .3 .1 .3-2.7 .3-1.3 .3 3.5 .3 2.4 .3-2.1 .3 2.1 .3-2.4 .3 2.9 .3-6 .3 3.6 .3 2.1 .3-3.3 .3 1.7 .3-.8 .3-1.3 .3-1.7 .3 5.7 .3-.2 .3-4.5 .3 .1 .3 .2 .3-2 .3 1.4 .3-.8 .3 3.4 .3 1.9 .3-3 .3-6.5 .3 .1 .3 5.5 .3-2.8 .3 1.8 .3 .7 .3-.9 .3 3.5 .3 1.1 .3-2.9 .3-.5 .3 3 .3 .9 .3-2.7 .3-1.4 .3 1.8 .3-3.6 .3 3.3 .3-1.7 .3 1.5 .3-1.6 .3 2.6 .3-1 .3-2.6 .3-1.3 .3 3.3 .3-.7 .3-.4 .3 1.2 .3-1.4 .3-1.7 .3 3 .3-4 .3 1.5 .3 .5 .3-1.8 .3-.4 .3 1.5 .3 .7 .3 3 .3 .7 .3-3.7 .3-.5 .3 1 .3-2.6 .3 3.4 .3-2.5 .3 2.7 .3 1.9 .3-4.8 .3-3.4 .3 2.8 .3 1.8 .3 .4 .3-2.4 .3-2.9 .3 2.5 .3 1.8 .3 .3 .3-.4 .3 2.4 .3-3.6 .3 3.3 .3-.2 .3 1.7 .3-3.1 .3 1.4 .3-4.5 .3 4 .3-1.7 .3 1.5 .3-.3 .3-.9 .3 .8 .3-3 .3 2.4 .3-4.4 .3 1.4 .3 2.6 .3-1.6 .3-1.3 .3 0 .3 .8 .3 2.1 .3-1.3 .3-3.5 .3 5.9 .3-3.5 .3 1.2 .3-1.7 .3-1.8 .3 5.2 .3 .2 .3-3.7 .3-.1 .3 1.2 .3-4.7 .3 3.5 .3 1.9 .3-3.1 .3 1.4 .3-4.4 .3 1.9 .3 1.4 .3-2 .3 2.1 .3 .8 .3-2 .3 .6 .3 0 .3 2.5 .3-.7 .3 .7 .3 2.3 .3-2.4 .3 .2 .3-4.1 .3 3.2 .3 1.6 .3-3.6 .3 3.5 .3-1.1 .3-3.6 .3 .2 .3 2.4 .3-1.7 .3-1.4 .3-1.8 .3 1.2 .3 2.4 .3 .9 .3-1.2 .3-1.2 .3-2.3 .3 .9 .3 1.9 .3-2.1 .3-2.4 .3 1.9 .3 2.1 .3 .3 .3 .3 .3 2.9 .3-5.1 .3 2.8 .3-.8 .3-.9 .3 2.1 .3-.2 .3-3.3 .3 .1 .3 2.7 .3-1.6 .3-.9 .3 1.8 .3 1.4 .3 .6 .3-2.5 .3-.4 .3 .2 .3-2.9 .3 1.8 .3 2.1 .3 0 .3 .7 .3-1.3 .3 .8 .3 .8 .3-.6 .3-.6 .3-.6 .3-1.3 .3 1 .3-1.1 .3-1.3 .3 2.2 .3 2 .3-1.9 .3 3.9 .3-5.9 .3 1.1 .3 5.2 .3-.1 .3-.7 .3-.8 .3-1.1 .3-3.6 .3 3.4 .3-1.6 .3 1.6 .3-2.9 .3 1 .3-.5 .3 2 .3-2.1 .3 2.4 .3 1 .3 .1 .3-2 .3 .4 .3-1.5 .3 2 .3 2.1 .3-4.1 .3 3.7 .3-1.1 .3-2.9 .3 4.1 .3-4.7 .3 2.4 .3 2.2 .3-1.2 .3-.9 .3 .2 .3 .4 .3 .5 .3-.7 .3 1.9 .3 .6 .3-4.3 .3 2 .3-.4 .3 2 .3-1.3 .3 1.2 .3 1.5 .3-2.4 .3-.1 .3-.6 .3 1.5 .3 1.7 .3 .3 .3-1 .3 1.3 .3-2.1 .3-.1 .3 0 .3-.4 .3-3.6 .3 3.3 .3-3.2 .3-1.7 .3-.7 .3 4.3 .3-1.8 .3 .8 .3 .6 .3 1.8 .3-1.3 .3-.2 .3-.4 .3 2.2 .3-4.1 .3-.2 .3 1.9 .3-2.4 .3 5.3 .3-7 .3-.6 .3 4.2 .3 2 .3-1.8 .3-3.5 .3 3.5 .3-1.1 .3 1.7 .3-3.7 .3 3.4 .3-2.5 .3 .5 .3 .8 .3 3.2 .3-1.1 .3 1 .3-.2 .3-3.4 .3 2.4 .3-4.1 .3-.1 .3 .8 .3 2.9 .3 1.4 .3-3.4 .3-3.4 .3 3.4 .3-2.7 .3-1.7 .3 7 .3-1 .3-1.2 .3 .9 .3-.2 .3 .8 .3-.2 .3 .7 .3-3.6 .3 3.5 .3 .2 .3-.8 .3 1.5 .3-2.7 .3-2.5 .3 1.4 .3-.5 .3-.7 .3 2.3 .3 .3 .3-.2 .3-.9 .3-2.1 .3 2.7 .3-.5 .3-4.7 .3 .4 .3 .8 .3 1.5 .3-.1 .3-1.9 .3-1 .3 2.9 .3 2.3 .3-2.9 .3-.8 .3-.2 .3 2.2 .3 1.3 .3-.8 .3-4.1 .3 1.7 .3 5.2 .3-5.3 .3 0 .3 1.4 .3-.2 .3 .5 .3-2.4 .3-1.2 .3 .7 .3 2.1 .3-.3 .3 2 .3 .5 .3 1.3 .3-3.1 .3 1 .3 .6 .3-1.4 .3-.5 .3 1.5 .3-3.2 .3 1.2 .3 1.2 .3 .4 .3 .6 .3 .5 .3-2.3 .3 1.8 .3-2.8 .3 2.9 .3-5.4 .3 5 .3-1.7 .3-.5 .3 4.2 .3-2.9 .3-.2 .3-2.2 .3 2.4 .3 .6 .3 2.1 .3-6.8 .3 1.4 .3 .3 .3 1.7 .3-3.1 .3-1.7 .3 6.5 .3-4.1 .3-1 .3 3.8 .3 .7 .3-2.7 .3 2.9 .3 .8 .3-3.2 .3 1.9 .3-2.5 .3-2.6 .3 2.1 .3 1.1 .3 .4 .3-1.2 .3-.4 .3-.3 .3 4.4 .3-6 .3 .8 .3 3.2 .3-.7 .3-1.3 .3 .8 .3-1.8 .3 1.5 .3-.6 .3 1.2 .3 2.1 .3-4.6 .3 3.8 .3 3.4 .3-3.9 .3-3.1 .3 6.1 .3-1.9 .3-3.9 .3 1.3 .3-.1 .3 1.5 .3-1.3 .3-2.4 .3-1 .3 1.1 .3 1.8 .3 0 .3-3.4 .3 2.7 .3 .5 .3 .6 .3-4.2 .3 3.4 .3-1 .3-.3 .3 2 .3-1.9 .3-.9 .3-.1 .3 .9 .3-1.8 .3 1.7 .3-.1 .3 2 .3-.3 .3-1.8 .3 1.9 .3-3 .3 3.8 .3-2.1 .3-1.5 .3 2.3 .3 .4 .3-1 .3-.7 .3 2 .3-1 .3 .9 .3 1 .3-1.6 .3-.8 .3 3.6 .3-4.7 .3-3.9 .3 3 .3-.9 .3 .2 .3 3.7 .3-7.1 .3 3.1 .3 3.9 .3-2.8 .3-3.5 .3 2.4 .3 .6 .3-.3 .3-.3 .3-2.1 .3 .2 .3-3.8 .3 6.1 .3-.2 .3-.4 .3-.3 .3-.1 .3 1.5 .3-.7 .3 1.9 .3-1.2 .3 3.8 .3-5.1 .3 1.3 .3 2.1 .3-3.7 .3 2.2 .3-1.9 .3 2.4 .3-1.4 .3-.1 .3 1.2 .3-.9 .3-3.4 .3 5.3 .3-5.1 .3 3.5 .3-.4 .3 .4 .3 .7 .3-4.1 .3 .1 .3 2.3 .3-2.1 .3 3.5 .3-3.5 .3 2.8 .3 .3 .3-.2 .3-2.6 .3 3.2 .3 1.2 .3-.6 .3 1.1 .3-4.3 .3 1.3 .3 4.3 .3-4.4 .3-1.7 .3 2.8 .3-1.6 .3 1.3 .3 2.1 .3-3.3 .3 .5 .3-2.4 .3 1.3 .3 2.5 .3-.6 .3-1.6 .3 2.1 .3 2.8 .3-3.4 .3 2 .3-2 .3-2.3 .3 3.3 .3-.5 .3-5 .3 1.4 .3 2 .3 .3 .3-4.8 .3 5.4 .3-.8 .3 2.2 .3-2.5 .3 1.8 .3-2.6 .3 .4 .3-.3 .3-.4 .3-.9 .3 2.7 .3-2.3 .3 1.2 .3-.2 .3-2.5 .3 .6 .3 2.6 .3-4.7 .3 5.3 .3-4.5 .3 .4 .3 5.6 .3-6.5 .3 3.9 .3 .4 .3-.8 .3-.4 .3 1.3 .3-2.9 .3 1.4 .3-1.9 .3 .9 .3-1 .3 3.3 .3-.6 .3-1.8 .3 1.8 .3 .9 .3-.1 .3-2.7 .3 1.4 .3 2.5 .3-2 .3 .6 .3-3.2 .3 3.7 .3-3.3 .3 4.6 .3 1.2 .3-1.5 .3-1.1 .3-3 .3 6.4 .3-6.6 .3 .8 .3 4.4 .3-4 .3 7.2 .3-2.2 .3-1.1 .3-2.6 .3-2.5 .3 .1 .3 2.4 .3-.8 .3 4 .3-3.7 .3-.8 .3 .5 .3-1.9 .3 1.6 .3-1.8 .3 2.1 .3 .9 .3 2.5 .3-6.7 .3 4.3 .3-1.5 .3 3.5 .3-2.5 .3 2.7 .3-1.4 .3 .9 .3-2.5 .3 1 .3-6.3 .3 3.5 .3-.7 .3 4.2 .3-2.7 .3-1.8 .3 5 .3-2.2 .3-.4 .3-3.3 .3 5.1 .3-1 .3 1.7 .3-.9 .3-1.5 .3-.8 .3-4.5 .3 5.4 .3-7.4 .3 3.8 .3 5.1 .3-1.2 .3-.5 .3 .2 .3-4.2 .3 .1 .3 1.8 .3 2.3 .3-.3 .3-3 .3 2.6 .3 .5 .3-1.4 .3 2.2 .3 .1 .3 2.5 .3-4.7 .3 4 .3-2.2 .3 .3 .3 .4 .3-1 .3-1.3 .3 4.8 .3-4.2 .3 .5 .3 2.5 .3-.1 .3 .2 .3-.8 .3 4 .3-5.3 .3-.6 .3 2.4 .3-2.9 .3 3 .3-2.3 .3 2.6 .3-3.5 .3 2.5 .3-2.8 .3 .1 .3 4.7 .3-2.6 .3 1 .3-4.9 .3 3.5 .3 0 .3 2.9 .3-2.6 .3 .3 .3-3.4 .3 3.7 .3-2.2 .3-1.2 .3-.4 .3-1 .3 .9 .3-.1 .3 3.4 .3-1 .3 0 .3 2.1 .3-2.7 .3 6.6 .3-5.1 .3 3.8 .3-4.4 .3 .3 .3-1.2 .3 2 .3-.3 .3 2.4 .3-.8 .3-3.9 .3-.6 .3 2.4 .3 3.9 .3-3.9 .3-.9 .3 1.2 .3-1.7 .3-.6 .3 2.9 .3-2.9 .3 .4 .3 .9 .3-2.7 .3 1.3 .3-1.2 .3 4.7 .3-3.3 .3 .9 .3-1.5 .3 3.5 .3 0 .3-2.8 .3-1.2 .3 2.4 .3 4.3 .3-1 .3-1.4 .3-1.4 .3-1.4 .3 2.7 .3-2.9 .3-3.9 .3 6 .3 3.6 .3-6.4 .3 6.7 .3-5.2 .3 1.2 .3-4.6 .3 6.2 .3-6 .3-.3 .3-.9 .3 7.2 .3-1 .3-4.5 .3 1.9 .3 2.5 .3-1.2 .3-1 .3-2.6 .3-3.3 .3 2.5 .3 .6 .3 1.1 .3-.8 .3-.2 .3 1.6 .3-.4 .3 .8 .3-2.8 .3 3.6 .3-1.2 .3 .2 .3 .4 .3-.4 .3 1.6 .3 2.2 .3-2 .3 .6 .3-.5 .3 1.2 .3-3.6 .3-1 .3 3.6 .3-5 .3 1.4 .3 5.1 .3 1 .3-3 .3 2.1 .3-2 .3-1.9 .3 .8 .3 1.2 .3-4 .3 .9 .3-.9 .3 .9 .3 2.5 .3-.8 .3-1.8 .3 2 .3-1.8 .3 2.5 .3 2.1 .3-4 .3-1.1 .3-3.2 .3 4.7 .3-1.6 .3 2.2 .3 2.6 .3-3.3 .3 1.8 .3-1.3 .3 1.6 .3-.9 .3 2 .3-1.8 .3-2.7 .3 5.4 .3-3.9 .3 1.2 .3-1.5 .3 4.5 .3-1.3 .3-5.1 .3 3.1 .3-2.5 .3 2.5 .3-.6 .3 .5 .3-.3 .3-.9 .3 .9 .3 1.1 .3-3.2 .3-1.4 .3-4.7 .3 8.1 .3 .7 .3 .4 .3-.4 .3-3.5 .3 2.2 .3-4.2 .3 6.1 .3-4 .3 1.7 .3-3.3 .3-.9 .3 1.6 .3-1.1 .3 1.4 .3-.4 .3-2.5 .3-.5 .3 5.2 .3-3.4 .3 3.2 .3-2.8 .3 0 .3 1.4 .3 .1 .3 0 .3 4.9 .3-5.9 .3 1.9 .3-3.3 .3 2.6 .3 3.4 .3-2.9 .3 4.3 .3-3.1 .3 .6 .3-2.9 .3 .3 .3 1.7 .3-1.7 .3-2.4 .3 3.7 .3-6.3 .3 5.3 .3-1 .3 3 .3-3.5 .3 2.2 .3-2.6 .3 1.8 .3-1.4 .3 2.1 .3-3.9 .3-1.1 .3 .9 .3 3.3 .3-.5 .3-3.3 .3 1.9 .3-.1 .3-1.8 .3-1.2 .3 1.8 .3 .4 .3 2.8 .3-5.2 .3 4.1 .3-3.7 .3-.6 .3 .8 .3-.5 .3 1.9 .3 .9 .3-2.1 .3-.1 .3 .2 .3-.3 .3 3.6 .3 .8 .3-1.5 .3 1.3 .3 1.9 .3-.9 .3-1.6 .3 1.4 .3 .9 .3-.9 .3-.8 .3 2.2 .3-1.2 .3-1.9 .3 .3 .3-1.2 .3-1.9 .3 3.9 .3 .2 .3-1.7 .3 2 .3-1.4 .3-1.1 .3-4.4 .3 2 .3 3 .3 2.8 .3-4.5 .3 .1 .3 2.5 .3-1.8 .3 .7 .3 4.4 .3-7.5 .3 5 .3-2 .3 1.8 .3-.1 .3-1.2 .3 1.1 .3 .3 .3 2.1 .3-4.8 .3-.4 .3 3.4 .3 1.9 .3 .1 .3-6.2 .3 3.5 .3 1.9 .3-1 .3-1.3 .3 2.1 .3 .1 .3-1 .3 1.4 .3-2.9 .3 1.8 .3 .6 .3 .7 .3 .6 .3-3.1 .3 2.9 .3 .2 .3-.1 .3-1.2 .3 .1 .3 3.2 .3 .6 .3-5.8 .3 5.6 .3-4.8 .3 .4 .3-1.2 .3 0 .3 1.8 .3 .4 .3-1.8 .3-.4 .3 1.9 .3-4.6 .3 3.5 .3 0 .3-.8 .3-1.6 .3 3.8 .3-1.8 .3 .1 .3-2.9 .3 .3 .3-.3 .3 1.1 .3 .3 .3-1.2 .3 4.1 .3-5.5 .3 2.8 .3-3.4 .3 3.2 .3-1.5 .3 2.1 .3 1.8 .3-1.8 .3 3 .3-4.8 .3 1 .3 3.8 .3-2.2 .3-2.3 .3 2.3 .3-2.5 .3 4.6 .3-2.5 .3-.1 .3-3.8 .3 3.8 .3-2.2 .3 2.5 .3 2.2 .3-5.5 .3 2.5 .3 1.9 .3-2.3 .3-.7 .3 .4 .3 .4 .3-1.4 .3 2.9 .3 1.9 .3-3.4 .3-1.8 .3 5.3 .3-6.2 .3-.7 .3 3.8 .3 2.3 .3-3 .3-.7 .3 1.5 .3 .7 .3 2.9 .3-5.9 .3 .4 .3 1.5 .3 4.1 .3-6.9 .3 5.2 .3 1.3 .3 .4 .3-3.7 .3 1.3 .3 .3 .3 .6 .3-.3 .3-3.8 .3 .9 .3 6.3 .3-9.7 .3 4.3 .3-.1 .3-1 .3-.2 .3 3.5 .3-1.8 .3-3 .3 2.4 .3 2.4 .3-1.1 .3 1.2 .3-2 .3-.3 .3-.3 .3-2.4 .3 1.8 .3-.2 .3 2 .3-.1 .3-5 .3 5.2 .3-4.8 .3 3.5 .3-1.2 .3 .5 .3 2.4 .3-4.1 .3 1.8 .3 2.2 .3-2.8 .3 3.6 .3-3.1 .3-2.2 .3-.1 .3 3.3 .3 3.4 .3-1.4 .3-3.3 .3 3.3 .3 2.2 .3-4.5 .3 2.2 .3-1.2 .3 2 .3-5.5 .3 1.6 .3-.1 .3 2.1 .3 1 .3-2 .3 1.8 .3-4.5 .3 1.8 .3-1.2 .3-.1 .3 1.9 .3-1.1 .3 1.6 .3-3.1 .3 2.7 .3-4.4 .3 3.1 .3 1 .3 .2 .3-3.1 .3-.8 .3 2 .3 3.7 .3-4 .3 2.9 .3-2.5 .3-1.5 .3 0 .3 3.6 .3-1.9 .3 1 .3-2.5 .3-1.7 .3 .6 .3 2.3 .3 1.4 .3-1 .3-1.9 .3-2.4 .3 3.6 .3-1.3 .3-.9 .3-.7 .3 .9 .3 1.4 .3-.6 .3 .5 .3-.7 .3 2.6 .3 1.2 .3-1.8 .3 2.4 .3-1.5 .3-4.8 .3 4.3 .3-.7 .3 1.3 .3 1.7 .3-.6 .3-1.9 .3 3.1 .3-3 .3 .2 .3-.8 .3-.9 .3 2.7 .3-1.1 .3-1.2 .3 1.4 .3-2.6 .3 2.1 .3 1.3 .3-.9 .3-1.5 .3 .9 .3-4 .3 3.3 .3 .4 .3 .6 .3-2.4 .3 1.3 .3-1.7 .3 1.8 .3-1.3 .3 1.9 .3-1.8 .3-.8 .3 .3 .3-.2 .3 1.3 .3-.8 .3 .7 .3-3.9 .3 1.9 .3 1.5 .3 .9 .3-1.6 .3 2.6 .3-.9 .3-.6 .3 .8 .3-4.3 .3 2.5 .3 .7 .3 1.4 .3-.1 .3-2.1 .3-2.8 .3 5.4 .3-3.1 .3 2.1 .3-2.8 .3-1.7 .3 1.5 .3 .1 .3 .3 .3-1 .3 1 .3 2.1 .3 0 .3-1.4 .3 0 .3 1.5 .3 3.6 .3-7.5 .3 4.3 .3-5.6 .3 4.1 .3-.6 .3 1.2 .3-2.3 .3 .3 .3 1.3 .3-.2 .3-.1 .3-.3 .3-2 .3-2.3 .3 2.2 .3 4 .3 .8 .3-2.3 .3 .9 .3-.1 .3-.2 .3-.7 .3 2.6 .3-.6 .3-1.7 .3 3.5 .3-6.8 .3 3.7 .3 .5 .3 .2 .3-1.9 .3 2 .3-1.2 .3 .4 .3-2.1 .3-.6 .3 2.6 .3 0 .3-.3 .3-5 .3 .8 .3 5.8 .3-2 .3-.4 .3-2.7 .3 2.5 .3-1.4 .3-1.7 .3 3.6 .3 0 .3-1 .3 1.3 .3 2.4 .3-4 .3 .8 .3 4.1 .3-2.4 .3-2.1 .3 .5 .3 3.1 .3-2.7 .3 1.3 .3 1.2 .3-1.4 .3-.9 .3 1.5 .3 .1 .3 1.5 .3-2.3 .3 3 .3-3.2 .3 1.1 .3 1.1 .3-3.8 .3 2.4 .3-1.1 .3 .5 .3-1.7 .3 3.6 .3-1.7 .3-1.6 .3-.3 .3 .8 .3-.7 .3-.2 .3 2.6 .3 2.7 .3-4.7 .3-2.3 .3 3.4 .3-2.1 .3 2.1 .3-1.5 .3 2.8 .3-3.3 .3-1.1 .3 4.3 .3 1.9 .3-7.8 .3 6 .3 1.5 .3-4 .3-1.6 .3 .3 .3-1.5 .3 1.3 .3 .2 .3 .7 .3-.2 .3 1.3 .3-1.1 .3 2.7 .3-5.5 .3 2.2 .3 .8 .3 .9 .3-1.2 .3-.1 .3-3 .3 4 .3-1.9 .3-.1 .3 1.3 .3-2.3 .3 3.2 .3-4.4 .3 3.2 .3 1.6 .3-.9 .3 1 .3-1.3 .3 2.6 .3-7.2 .3 2.7 .3-.2 .3 0 .3 2.3 .3-1.7 .3-.6 .3-1.1 .3 .7 .3 1.9 .3-.9 .3-2.7 .3 1.9 .3 .3 .3-.8 .3 4.6 .3-2.8 .3-5.3 .3 7.2 .3-.4 .3-.9 .3 3.3 .3-4 .3 .3 .3 1 .3 .8 .3-4.2 .3 6.2 .3-4 .3 3.1 .3-3.4 .3-.4 .3 3.8 .3 0 .3-3.1 .3-.6 .3 .9 .3-.4 .3 1 .3-1 .3-1.2 .3 5.8 .3-6.7 .3 4.1 .3-2.7 .3 .7 .3 3.5 .3-2.5 .3-.4 .3-.7 .3-.3 .3 .5 .3-.5 .3 .7 .3-1.3 .3-1.5"/>
<path class="ln" stroke="#d62728" d="M70.8 496.6l.3 2.8 .3 .2 .3 1.1 .3-2.1 .3-.2 .3 .8 .3-1.2 .3 .5 .3-2.5 .3 2.6 .3-1.1 .3-2.7 .3 5.4 .3-7.1 .3 6.5 .3-2.3 .3 2.6 .3-4.3 .3 2.3 .3-3.9 .3 3 .3-2.4 .3 1.7 .3 4.8 .3-5.8 .3 6 .3 2.4 .3-7 .3 2.2 .3 1.3 .3-2.7 .3 2.6 .3-1.9 .3-1.5 .3 4.3 .3 .5 .3-3.8 .3 2.9 .3-4.8 .3 3 .3 4 .3-3.5 .3 3.2 .3-2.9 .3 3.3 .3-4.8 .3-1 .3 5.7 .3-2.6 .3-2 .3-2.3 .3 .3 .3 3.8 .3 2.7 .3-5 .3-1.3 .3-.5 .3 2.2 .3-1.3 .3 5.3 .3-1.7 .3-1.5 .3 1.9 .3-4.3 .3 3.8 .3-1.5 .3-1 .3 3.8 .3 .5 .3-2.7 .3 2.1 .3 1.3 .3-4.2 .3 2.5 .3-.4 .3 .2 .3 0 .3 .7 .3 1.1 .3-3.6 .3 5.8 .3-6.8 .3 1.4 .3 1.8 .3-2.8 .3 3.4 .3-3.4 .3 4.3 .3-2.1 .3 1.8 .3-1.1 .3-4.6 .3 4.4 .3 .1 .3-.4 .3-2.4 .3 3.4 .3-3.8 .3 4.6 .3 .7 .3-3.5 .3-2.4 .3 2.7 .3-5.6 .3 1.5 .3 1.7 .3 1.9 .3-5.4 .3-.2 .3-3.3 .3 6.1 .3 3.3 .3-4.4 .3-.4 .3 4.7 .3-3.9 .3 5.4 .3 .2 .3 2.9 .3-7.2 .3 .8 .3-3.7 .3 4.6 .3 .8 .3-1.3 .3-1.4 .3-2 .3 5.1 .3-5 .3 3.7 .3-.8 .3 .6 .3 3.1 .3-7 .3 4.4 .3 2.4 .3-.1 .3-3.8 .3 1.3 .3 1.8 .3 1.2 .3-1.1 .3-3 .3 0 .3 2.3 .3 .2 .3-2.9 .3 7.7 .3-6.8 .3 .6 .3 .7 .3 .4 .3-5.3 .3 1.8 .3-1.9 .3 7.7 .3-5.7 .3 1.2 .3-.3 .3 .1 .3-.7 .3-1.8 .3 1 .3 3.8 .3 1.1 .3-7.2 .3 3 .3-3.7 .3 4.2 .3 .3 .3 1.4 .3-1.1 .3 .1 .3 .4 .3-1.2 .3-1.2 .3 .2 .3 .7 .3-1.9 .3 5.1 .3-1.7 .3-.3 .3 .4 .3 1.5 .3-6.5 .3 3.3 .3 2.5 .3-.8 .3-1.3 .3 2 .3-.9 .3-.1 .3-3.6 .3 1.8 .3-.4 .3-1.7 .3 2.9 .3 2.5 .3-4.8 .3-.1 .3 .5 .3 2.8 .3-2.8 .3 3.8 .3 .6 .3 .4 .3-6.3 .3 5.6 .3-3.5 .3-.3 .3 3.7 .3-1.2 .3 4.5 .3-8.1 .3 5 .3-1 .3-1 .3-1.1 .3-1.8 .3 5.7 .3-2.2 .3 1 .3-3.8 .3 2.4 .3 2.8 .3-2.6 .3 1.1 .3-3 .3 1.1 .3-1.6 .3 .3 .3 2.4 .3-4.3 .3 1.1 .3 4.2 .3-3.4 .3-2 .3 4.5 .3-.5 .3 .8 .3 .3 .3 .3 .3-1.8 .3 4 .3-5.3 .3-1.2 .3 4.3 .3 .2 .3-.7 .3 1.1 .3-2.6 .3 1.8 .3 1.2 .3 4.2 .3-5.4 .3-2.8 .3 1.1 .3 2.2 .3-2.4 .3-.9 .3-.2 .3 6.1 .3-.4 .3-4.3 .3-3.2 .3 5 .3-2.2 .3-1.3 .3 .4 .3-1.4 .3 5.3 .3-2.9 .3 1 .3-4.6 .3 4.1 .3-1.3 .3 3.7 .3-6.3 .3 5.5 .3 1 .3-2.8 .3 2.8 .3-5.9 .3 1.6 .3 3 .3-1.5 .3-2.2 .3 1.8 .3-.1 .3-.1 .3 .9 .3 0 .3-.8 .3-3.4 .3 4.4 .3 .5 .3-2.4 .3 3.6 .3-4.9 .3 3.2 .3 .5 .3-3.9 .3 6.5 .3-4.9 .3 3.3 .3-2.9 .3-1.3 .3-1.1 .3 1.6 .3-1.3 .3-2.1 .3 3.4 .3 2.8 .3-3.6 .3 5.4 .3-3.2 .3-.4 .3 2.5 .3 .9 .3 .2 .3-6.4 .3 4.9 .3 .4 .3-1.9 .3-.8 .3-1 .3-1.2 .3 6.2 .3-.8 .3-6.3 .3 5.3 .3-4 .3 3.7 .3-4.2 .3 1.9 .3 3.5 .3-5.2 .3-.2 .3 4.5 .3-4.4 .3 1.4 .3-1.2 .3 4.9 .3-.1 .3-6.2 .3 4.9 .3-4.3 .3 .2 .3 .7 .3 0 .3 2.5 .3-2.6 .3-2.5 .3 2.5 .3 4.8 .3-1.8 .3-3 .3 2.7 .3-3 .3 3 .3-1.6 .3-1.1 .3-3.6 .3 1.1 .3 7.3 .3-4.5 .3-1.1 .3 1.9 .3-2.2 .3 3.7 .3-2 .3-.7 .3 .2 .3 2.1 .3-5.3 .3 6.2 .3-5.1 .3 4.8 .3-3.4 .3 1.4 .3 2.7 .3-1 .3-3.9 .3 .8 .3 3.9 .3 3 .3-7.1 .3 3.3 .3 1.2 .3 2.4 .3-.6 .3-3 .3 2.2 .3-1.6 .3 2 .3-2.6 .3-2.6 .3 5.2 .3-.7 .3 .3 .3-2.8 .3 2.1 .3 .3 .3 1.2 .3-2.3 .3 1.6 .3-2.2 .3-3.7 .3 3.7 .3-1.4 .3 .5 .3-2.6 .3 3 .3 1.4 .3-.1 .3 .3 .3 .6 .3-4.5 .3 4.7 .3-2.7 .3 1.7 .3-4.4 .3 3.3 .3-.1 .3 1.2 .3-1.7 .3 1.9 .3-4.5 .3 3.6 .3-.6 .3-1 .3-1.4 .3-.2 .3 5 .3-2.6 .3-.7 .3 1 .3-.9 .3-2.1 .3 3.8 .3-2 .3-.4 .3-3.7 .3 2.8 .3 3.6 .3-4.2 .3 .4 .3 4.2 .3-1.9 .3-.5 .3-2.4 .3 5.3 .3-1.5 .3-1.7 .3-.9 .3 .1 .3 3.5 .3-1.6 .3-1.8 .3 1.1 .3 1.9 .3-.6 .3 2.9 .3-6.2 .3 2.8 .3-2 .3-1 .3 2.8 .3-.8 .3-.7 .3-.6 .3 .3 .3-1.7 .3 6.1 .3-6 .3 1 .3-.5 .3 4.1 .3-.4 .3-4.5 .3 5.9 .3-4.3 .3 5.6 .3 2.5 .3-9.2 .3-1.6 .3 3.1 .3 4.6 .3-6.5 .3 3.4 .3-1.7 .3 6.9 .3-1.8 .3-4.6 .3 3.3 .3-2 .3-.4 .3-.5 .3-.9 .3 2.4 .3-.1 .3 1.6 .3-2.3 .3 4.8 .3-2.8 .3-.4 .3 .7 .3-1.4 .3-1.1 .3 1 .3-.9 .3-3.4 .3 5.5 .3-.5 .3 .9 .3-2.5 .3 3.3 .3-1.3 .3-4.2 .3-.1 .3 1.8 .3-.8 .3 2.5 .3 .9 .3-6 .3 5.6 .3 3.1 .3-5.2 .3-1 .3 .7 .3 3 .3-4.6 .3 2.4 .3 .7 .3-3.4 .3 5.7 .3-.7 .3-2.4 .3 8.3 .3-10.5 .3 4.9 .3-2.1 .3-.2 .3 3.4 .3-1.4 .3-4.6 .3 2.6 .3-.1 .3-.8 .3-.6 .3 1.3 .3 .4 .3-1.1 .3-1.8 .3 1.3 .3-2 .3 4 .3 .1 .3 .4 .3 1.2 .3-1.9 .3-1.2 .3 5 .3-5.6 .3 .5 .3 1.8 .3-2 .3-2.2 .3 2.6 .3 3.1 .3-1.7 .3-1.9 .3 4.4 .3-2.6 .3-1.2 .3 .1 .3 .7 .3 1.1 .3-1.4 .3 .3 .3 1.1 .3-.7 .3-.2 .3-2.2 .3-.1 .3 1.2 .3-2.5 .3 9.3 .3-3.3 .3 1.3 .3-4.5 .3-3 .3 3.9 .3-4 .3 3.5 .3 .2 .3 2 .3-3 .3-.9 .3 2 .3-1.7 .3 1.3 .3-.9 .3 4.9 .3-1.4 .3-2 .3-.6 .3 1 .3 1.3 .3 2.6 .3-3.4 .3-5.4 .3 1 .3 3 .3 1.6 .3-2.6 .3 4.2 .3-1.8 .3 3.1 .3-2.8 .3 1 .3 .1 .3-5.5 .3 3 .3-1.6 .3 4.3 .3-1.7 .3 .7 .3 2.3 .3-5.1 .3 5.2 .3-5.6 .3 6.5 .3-1.2 .3-.7 .3-2.7 .3 3.9 .3 1.7 .3-2 .3 .8 .3-.7 .3-.8 .3-1.3 .3 2.4 .3-.9 .3-1 .3-.6 .3 1.8 .3-1.6 .3-1.6 .3 3.2 .3 .7 .3-3.9 .3 1.4 .3-1.8 .3 2.8 .3-3.6 .3 4.8 .3-5.2 .3 5.4 .3 .9 .3-.8 .3-2 .3-1.2 .3 1.8 .3-.4 .3-1.3 .3 1.2 .3 .4 .3 4 .3-1.5 .3 .6 .3-1.7 .3 .3 .3-.2 .3-3 .3 3.9 .3 .9 .3-6.7 .3 1.7 .3 1 .3 1.3 .3 1.3 .3-1.6 .3-1.9 .3 2.3 .3 .1 .3 1.2 .3-3.6 .3-2.9 .3 2.1 .3 2.3 .3 .2 .3-1.4 .3-1.9 .3 5.5 .3-1.2 .3 3.9 .3 0 .3-2.1 .3-.2 .3-4.2 .3 2.1 .3 1.5 .3-1 .3 1.5 .3-2.3 .3-.9 .3 3.5 .3-1.1 .3 .5 .3-2 .3 1 .3 1.4 .3-2.8 .3-3.2 .3 5.2 .3 1.3 .3-3.8 .3 4.1 .3-4 .3-.4 .3 1.1 .3 .9 .3 1.7 .3-4.7 .3 8.2 .3-3.2 .3-2.2 .3 1.8 .3-3.8 .3 1.7 .3-.5 .3-.2 .3 2.5 .3-1.1 .3 3.9 .3-5.3 .3-2 .3 3.1 .3-.3 .3-4 .3 8.4 .3-1.1 .3 2.1 .3-.8 .3-3.7 .3 2.2 .3-2 .3 3.3 .3-2.3 .3 1.1 .3-2.3 .3 2.6 .3-1.2 .3-3.8 .3 4.3 .3 1.3 .3-.4 .3-.1 .3-5.4 .3 .8 .3 3.4 .3-2 .3-.3 .3 2.9 .3-1.7 .3-2.9 .3 2 .3 2.8 .3 .1 .3-.8 .3-1 .3 .6 .3-.2 .3 4 .3-2.1 .3 .8 .3-1.4 .3-1.5 .3 .9 .3-2 .3-.1 .3 3.5 .3-1.9 .3 1.8 .3-.9 .3-2.4 .3 4.6 .3-3.9 .3-2.1 .3 4.7 .3 .1 .3-8.9 .3 6.9 .3 .1 .3 1.9 .3-1.3 .3 .7 .3-1.8 .3-.5 .3 3.1 .3-5.4 .3 2.6 .3-.2 .3-.9 .3 1 .3 1.1 .3-5.5 .3 7.5 .3 .4 .3-1.5 .3 1.3 .3-.6 .3-2 .3 .2 .3-.3 .3 .4 .3-.2 .3-.5 .3-2.3 .3 .9 .3-.2 .3 .5 .3 4.8 .3-1.2 .3-3.6 .3 2.8 .3 2.6 .3-1.5 .3-5.2 .3 3.5 .3-4.4 .3 3.7 .3-.8 .3 .1 .3 .7 .3-1 .3 3.6 .3-2 .3-.3 .3 1.8 .3 1.2 .3-1.8 .3 .8 .3 2.6 .3-4.9 .3-2.9 .3 1.6 .3 3.1 .3 1.6 .3-6.2 .3 3.4 .3 1.3 .3 .2 .3-2.9 .3-3.2 .3 3.4 .3-2.1 .3 6 .3-4.9 .3-.3 .3 2.1 .3-3.4 .3 3.9 .3-3.3 .3 0 .3 .2 .3 2.2 .3 .5 .3-.3 .3-4 .3-.4 .3 3.3 .3 1.2 .3-.8 .3-4.3 .3 5.5 .3-5.9 .3 2.9 .3 0 .3 2 .3-3.5 .3 5.1 .3-2.6 .3-1.6 .3 1.3 .3 4.8 .3-2.5 .3-.8 .3 1.4 .3-1.2 .3-.2 .3 3.7 .3-1.5 .3-.8 .3-.6 .3-.3 .3 1.8 .3 .5 .3-.7 .3 .8 .3-2.7 .3 6 .3-5.4 .3 2 .3-4.3 .3 5.2 .3-2.5 .3 4.4 .3-3.6 .3 2.7 .3-3.6 .3 1.7 .3 2.4 .3-2.1 .3-.8 .3-2.1 .3 2.6 .3 .5 .3-2.2 .3-2.6 .3 3.8 .3-2.1 .3-1.7 .3-1.2 .3 3 .3 .7 .3 1 .3-.4 .3 .1 .3 1.5 .3-5.8 .3 4.5 .3-.4 .3 .6 .3 1.2 .3 4.4 .3-6.4 .3-1.5 .3-.5 .3 2.6 .3-.9 .3 3.5 .3-5.6 .3 3.7 .3-.9 .3 1.1 .3-2.7 .3 1.1 .3 2.4 .3-4.5 .3 1.1 .3 2.2 .3-5.2 .3 2.9 .3 1.3 .3-3.9 .3-2 .3 3.8 .3 .9 .3 1.2 .3 .3 .3-3 .3 2.3 .3-3.8 .3 .5 .3-.8 .3-2.2 .3 6.9 .3-4 .3 4.1 .3 .9 .3-1.3 .3-2 .3 .3 .3-1.7 .3 4.2 .3-7.1 .3 3.6 .3-1.3 .3 1.6 .3-2 .3-.5 .3 7.5 .3-5.9 .3-.1 .3 2.1 .3-3.2 .3 1.4 .3-.1 .3 5.3 .3-4.7 .3 .8 .3 2.8 .3-2.4 .3 3.8 .3-7.6 .3 2.5 .3-.8 .3 1.2 .3-1.9 .3 1.1 .3 6.3 .3-7.1 .3-.2 .3-2.9 .3 7.3 .3-5.9 .3 6 .3-3.9 .3-2 .3 .4 .3 4.5 .3-4.7 .3 2.6 .3 2.2 .3-.9 .3 2.5 .3-.7 .3-.8 .3-4 .3 .7 .3 1.9 .3-1.5 .3 1.9 .3-1.7 .3 2.6 .3-5 .3 1.8 .3-.3 .3 .7 .3 4.8 .3-8.9 .3 3.4 .3 1.1 .3 1.3 .3-1 .3-2.5 .3 4.7 .3-2.5 .3 .1 .3-1.8 .3 1.9 .3 2.2 .3-3.1 .3-.8 .3-.9 .3 0 .3 2.3 .3 2.3 .3-.4 .3-6.5 .3 5.5 .3 2.9 .3-1 .3-5.3 .3 6.2 .3-1.4 .3-2.8 .3 1.1 .3-1.6 .3-.1 .3-.7 .3 1.1 .3 1.6 .3 2.4 .3-3.2 .3-.9 .3-1 .3 2.6 .3-2 .3-2.1 .3 4.7 .3 1.5 .3-.3 .3-2.1 .3-1.4 .3 1.3 .3 2.4 .3-2.7 .3-.4 .3-.5 .3 .7 .3 2.5 .3 .6 .3 .2 .3 .6 .3-4.4 .3 1.7 .3-1.6 .3-.8 .3-1.5 .3 2.2 .3-1.9 .3-.3 .3 .6 .3 .2 .3 .9 .3 3.5 .3-1.3 .3 2.8 .3-5.1 .3 1.2 .3-3.6 .3 4.1 .3 4.1 .3-3.5 .3 .4 .3-1.3 .3-4.9 .3 3.9 .3 2.2 .3-3.3 .3 1.2 .3-1.6 .3 4 .3 2.4 .3-2.2 .3 .5 .3 .2 .3-5.1 .3 2.8 .3 .8 .3 .3 .3-.4 .3 0 .3 3.7 .3-4.4 .3-3.5 .3 5.3 .3-3.8 .3 5.7 .3-6.1 .3-1.1 .3 3.8 .3 2.6 .3-3.4 .3-1.2 .3 3.5 .3-.7 .3-1 .3 2.7 .3-1.5 .3-1.3 .3-1.7 .3 3.1 .3-6.5 .3 4.9 .3-1 .3 .6 .3-2.1 .3 3 .3-2.5 .3 2.9 .3-.8 .3-.4 .3 2.4 .3-1.3 .3 0 .3-.8 .3-.9 .3 2.7 .3-2.5 .3-3.6 .3 6.4 .3-4.4 .3 3 .3 2.3 .3-.8 .3 2.1 .3-4.6 .3 .4 .3-1.4 .3 2.9 .3-2.2 .3-1.7 .3 1.8 .3 .7 .3 1.8 .3-2.1 .3-1.4 .3 3.1 .3-3.7 .3 1.6 .3-.5 .3 .9 .3 4.9 .3-2.4 .3-1 .3-1.9 .3 2.7 .3-3 .3 1.2 .3-.1 .3-4.9 .3 3.2 .3 2.3 .3 1.1 .3 1.9 .3-2.6 .3 .8 .3-1.6 .3-.9 .3 .8 .3 3.6 .3-2.8 .3-1.5 .3 .9 .3-3.1 .3 2.3 .3 .2 .3 0 .3 1.1 .3-1 .3 1.1 .3-.2 .3 2 .3 2.3 .3-6.6 .3 4.2 .3-2.3 .3-.2 .3-1.6 .3 3.5 .3-2.5 .3 6.4 .3-7.7 .3 4 .3-3.9 .3 7 .3 .1 .3-4.7 .3-2.3 .3-.4 .3 3.3 .3 .1 .3 .8 .3-2.9 .3 3.2 .3-1.5 .3-1.6 .3 1.6 .3 .3 .3 1.8 .3-.8 .3 1.4 .3 .2 .3 .1 .3-4.9 .3 .7 .3-2.2 .3 4.2 .3 .2 .3-4.5 .3 2 .3 4.8 .3-5.8 .3-1.4 .3 3.4 .3 .5 .3-3.8 .3 1.7 .3 .2 .3-.4 .3-1.3 .3 3.1 .3-.5 .3-1 .3 0 .3-.6 .3 2 .3 .6 .3-3.1 .3 1.5 .3 .4 .3 .8 .3-4 .3 1.5 .3 5.2 .3-5 .3-.2 .3 5.4 .3-1.1 .3-5.7 .3 6.4 .3-1.1 .3-5.3 .3 6.5 .3-.8 .3-2.1 .3 .9 .3 1.3 .3-2.4 .3-2.2 .3 2.3 .3-1.3 .3-2 .3 4.1 .3 3.4 .3-1.6 .3-3.4 .3 6.2 .3-7.9 .3 5.2 .3-.8 .3-1.1 .3 1.8 .3-2.2 .3-2.6 .3 3.6 .3-3.2 .3 1.3 .3 1.1 .3 1.8 .3-3.6 .3 0 .3 4.2 .3-5.8 .3 7.4 .3-6.8 .3 2.8 .3-4.5 .3 .9 .3 2.6 .3 2 .3-2.3 .3 1.9 .3-1.4 .3 4.3 .3-3.1 .3 2.6 .3-4.8 .3 2.8 .3-2.7 .3 4.1 .3-4.2 .3-.5 .3 .4 .3 3.3 .3-9.2 .3 9.1 .3 .2 .3-2.9 .3-3.5 .3 6.2 .3-1.6 .3-3.3 .3 2.1 .3 2.5 .3 .4 .3 1.8 .3-4.6 .3 1.2 .3-1.7 .3-.2 .3 4.6 .3-.7 .3-5.1 .3 1.3 .3-.5 .3 .8 .3-.3 .3 .9 .3-.5 .3 1.3 .3-2 .3 1.1 .3-1.9 .3 5 .3-7.1 .3 4.5 .3-.4 .3 .1 .3-1.6 .3 1.6 .3-.1 .3-1.4 .3 1.4 .3-1.7 .3 2.4 .3 1.5 .3-1.7 .3 .6 .3-3.5 .3 1.6 .3 .9 .3-2.3 .3 4.7 .3-3 .3 1.7 .3-4.3 .3-1.1 .3 3.4 .3-.3 .3 4.5 .3-1.9 .3 3.2 .3-4.2 .3 4.2 .3-3.7 .3 1.7 .3-3.7 .3-.3 .3 3.6 .3-3.5 .3-1.7 .3 .5 .3 1.4 .3-4.2 .3 4.5 .3-1.3 .3 .1 .3 1.2 .3-1.6 .3 2.7 .3 0 .3 1.1 .3-2 .3 3.9 .3-5.4 .3 2.6 .3 1.7 .3-1.4 .3 0 .3-.8 .3-1.6 .3 3.2 .3-4.9 .3 2.4 .3 3.9 .3-2.7 .3-1.8 .3-4.2 .3 1.9 .3 2.9 .3 0 .3-5.6 .3 9.2 .3-1.7 .3 2.6 .3-5.6 .3 0 .3 1.1 .3 2.4 .3-6.1 .3 5 .3-3.2 .3 4.2 .3-4.4 .3 3.6 .3-1 .3 2.8 .3-5.9 .3 4.5 .3-.4 .3 1.3 .3-2.7 .3-1.3 .3 3.3 .3-1.9 .3-.2 .3 2 .3-2.5 .3-3.2 .3 1 .3 6 .3-.6 .3 2.3 .3-5 .3 1.4 .3 2.5 .3-1.5 .3 .6 .3-3.8 .3 5.4 .3-2.2 .3-1.8 .3 5.3 .3-3.7 .3 1.5 .3-2.3 .3-2.2 .3 3 .3-1.3 .3-1 .3-1.6 .3 3.7 .3-1.2 .3 2.6 .3-2.6 .3-2.5 .3 1.7 .3-.7 .3 4.4 .3-5.4 .3-1.6 .3 4.6 .3-1.6 .3 2 .3-3 .3-.1 .3 .8 .3 1.2 .3 3.4 .3-.1 .3-7.6 .3 2.9 .3-2.7 .3-.1 .3 3.2 .3-.4 .3 2.2 .3-3.8 .3 2.2 .3 1.1 .3 5.3 .3-5 .3-.3 .3-.3 .3 .7 .3 3.2 .3 .8 .3-4 .3-.8 .3 .1 .3 1.1 .3 1.3 .3-4.3 .3 1.1 .3 3.4 .3-1 .3-6.9 .3 7.5 .3-6.8 .3 4 .3-1.7 .3 .2 .3 .6 .3 0 .3 1.3 .3 .6 .3-2.6 .3-1 .3 5.2 .3 .6 .3-4.9 .3 .5 .3-2.9 .3 5.9 .3-3.8 .3 3.3 .3-3.2 .3 3 .3 1.7 .3-2.8 .3 .8 .3 1.8 .3-2.2 .3 1.7 .3-3.2 .3-.3 .3 2 .3-.4 .3 4.7 .3-2.7 .3-4.3 .3-3.1 .3 4.8 .3 .7 .3-.8 .3 3.1 .3-6 .3 5.2 .3-1.7 .3-5.6 .3 .2 .3 7.7 .3-4.1 .3 0 .3 0 .3 3.8 .3-3.6 .3-1.2 .3 3.1 .3-.2 .3-.3 .3-2.2 .3 2.7 .3-3.1 .3 1.2 .3 2.5 .3-1.3 .3 .8 .3 .9 .3-2.1 .3-.8 .3-2.2 .3 4.8 .3-2 .3 2.2 .3-3.2 .3 3.7 .3-1.3 .3 .1 .3 2 .3-3.9 .3 3.4 .3-2.5 .3-1 .3 1.3 .3 4.8 .3-3.9 .3 3.1 .3-3.4 .3-1.9 .3 2.1 .3-.2 .3 .7 .3 4.2 .3-3.5 .3-2.3 .3 1.1 .3 1.7 .3-2.4 .3 .2 .3-1.3 .3 .8 .3 0 .3-2.9 .3-.1 .3 3.5 .3-.6 .3-.1 .3 1.2 .3-3.4 .3 7.8 .3-8.8 .3 5.5 .3-2.9 .3-4.3 .3 4.2 .3 5.7 .3-2.7 .3-2.1 .3 .3 .3-.2 .3-1.3 .3 3.5 .3-3.5 .3-.9 .3 4.4 .3 .3 .3-1.1 .3-3.4 .3 3.9 .3 .5 .3-4.7 .3-2.1 .3 3.5 .3 3.1 .3-2.2 .3-.1 .3 1.4 .3 1.4 .3-3.9 .3 3.4 .3-8.1 .3 7.2 .3-5.5 .3 2.5 .3 4.1 .3 1 .3-4 .3 .2 .3 1.7 .3-.2 .3-2.1 .3-2.2 .3 3.1 .3-1.8 .3 .5 .3-.1 .3 1.9 .3 .3 .3-1.1 .3-.2 .3 .5 .3-3.9 .3 3.7 .3-1.8 .3 1.2 .3 2.3 .3-3.3 .3 .2 .3 .3 .3 1.2 .3-3.3 .3 .4 .3-.5 .3 .6 .3 4.9 .3-4.5 .3 4.5 .3-8 .3 8.7 .3-1.4 .3-2.3 .3-2.2 .3 4.8 .3-4.1 .3 3.8 .3-2 .3-1.3 .3-.1 .3-.4 .3 4.4 .3-1.2 .3-.7 .3-1.1 .3 .9 .3 .7 .3 .1 .3 .7 .3 1.2 .3-1.5 .3-3.7 .3-1.7 .3 3.1 .3 3.5 .3-3.2 .3-1.8"/>
<path class="ln" stroke="#9467bd" d="M70.8 502.1l.3-1.5 .3 .9 .3-1.5 .3 1.9 .3-.7 .3 .7 .3-3.8 .3 2.3 .3-1.5 .3 .8 .3-1.1 .3 .8 .3 2.3 .3-3.1 .3 3.8 .3-1.5 .3-6.2 .3 6.1 .3-1.6 .3 2.4 .3-1.8 .3-.3 .3 1.5 .3-1.1 .3 1 .3 .9 .3-.7 .3 2.8 .3-6.9 .3 2.4 .3 2.4 .3-.9 .3 3.9 .3-7.8 .3 .2 .3 1.3 .3 .1 .3-1.3 .3 1.7 .3 .8 .3-2.4 .3-2.5 .3 6.2 .3 .7 .3-3 .3 1.8 .3 0 .3-1.9 .3-.4 .3 2.2 .3-.3 .3-2.8 .3-.4 .3 2.9 .3 2.7 .3-.4 .3 1.3 .3-7.6 .3 4.4 .3 2.2 .3-.5 .3-4.5 .3 1.8 .3-4.9 .3 2.3 .3 5.6 .3-1 .3-.3 .3-.1 .3-.7 .3-.6 .3-1.2 .3 4.1 .3-3.9 .3 3.5 .3-1.8 .3-1 .3 .9 .3 1.9 .3-3.8 .3-1.3 .3 2.2 .3-1.5 .3 .2 .3-2.1 .3 4 .3-.3 .3-.1 .3-3.4 .3 6.6 .3-4.8 .3 4.6 .3-.7 .3-1.1 .3 2.8 .3-2.9 .3 1.7 .3-5.8 .3 4.4 .3 1.3 .3 .1 .3 1.9 .3-2.3 .3 2.2 .3-1.5 .3 3 .3-5.2 .3 1.4 .3 1 .3-.4 .3 .7 .3-3.1 .3 2.5 .3-2.3 .3-2.6 .3 3.2 .3 .8 .3-3.3 .3 .4 .3 .4 .3 0 .3-.5 .3-.1 .3 2.7 .3-2.9 .3 2.9 .3-2.5 .3 2.6 .3-2.9 .3 3.7 .3-2.3 .3 2.9 .3-3.8 .3 .7 .3 2.5 .3 1.6 .3-1 .3-1.7 .3 1.7 .3-3 .3 1.2 .3 1.9 .3-4 .3 3.1 .3-1.6 .3 1.9 .3-2.7 .3 3.1 .3-1.9 .3-.2 .3 1.2 .3 3.1 .3-3.3 .3-1.1 .3-2.6 .3 4.5 .3-2.5 .3 .6 .3-4.2 .3 1.9 .3 1.5 .3-.1 .3-4.5 .3 3.6 .3 1.4 .3-3.2 .3 1.5 .3-3.4 .3 5 .3-3.5 .3 1.9 .3-1.7 .3 2.6 .3 .7 .3-1.6 .3-.3 .3 2.7 .3-2.2 .3-1.3 .3 1.5 .3 1.3 .3-2.3 .3 2.6 .3 1.2 .3-1.5 .3-1 .3-2.8 .3 4.6 .3-1 .3-.2 .3-.9 .3 1.6 .3-5.6 .3 7.5 .3-2.5 .3-1.6 .3 1.8 .3-.1 .3-3.8 .3 .3 .3 1.5 .3 5.1 .3-.3 .3-6.1 .3 2.4 .3-3.7 .3-1.8 .3 7.9 .3-1.6 .3-1.1 .3 2 .3-3.3 .3 2.5 .3-1.5 .3 2.4 .3 .1 .3-5 .3 1.1 .3 2.5 .3-1.7 .3 0 .3 .6 .3-2.9 .3 5.3 .3-4.7 .3-.1 .3-1.2 .3 5.6 .3-2.1 .3 2.8 .3-2.3 .3-1 .3-.9 .3 2.6 .3 1.5 .3-2.4 .3 2.7 .3-3.2 .3 2.1 .3-1.3 .3 2.3 .3-5.2 .3 1.8 .3-.2 .3 5.1 .3-6.5 .3 .4 .3 .2 .3 2.3 .3-1 .3-.8 .3 .2 .3 3.1 .3-2.7 .3 2.5 .3-2.8 .3 4.8 .3-.2 .3-2.3 .3-2.4 .3 1.3 .3 .8 .3 .2 .3 .2 .3-.2 .3 3.4 .3-3.5 .3 2.5 .3-2.9 .3 3 .3-3.8 .3-.1 .3 6.6 .3-5.8 .3 3 .3-2.2 .3 3.9 .3 .9 .3-6.6 .3 4.3 .3-.4 .3-1.3 .3-4.3 .3 1.7 .3 2 .3 1.3 .3-2.1 .3 3.4 .3-8.1 .3 4.9 .3-.1 .3-.1 .3 0 .3 2.7 .3-2.8 .3-1.5 .3-.4 .3 .3 .3 4.4 .3-1.3 .3-6.2 .3 3.8 .3-.6 .3-.3 .3 2.5 .3-.2 .3 2.5 .3-2.5 .3-1.3 .3 1.8 .3-1.2 .3 1.1 .3-1.3 .3 1.1 .3 2.4 .3-4.7 .3 .7 .3 2.8 .3 3 .3-3.9 .3-1.8 .3 1.4 .3 2.2 .3-5 .3 3.6 .3-3.5 .3 2.9 .3-1.5 .3 .3 .3 2.8 .3-4.6 .3 5.8 .3-1 .3-5.3 .3 1.4 .3-2.2 .3 4 .3-3 .3 2.4 .3 1.7 .3-4.4 .3 .9 .3 1.1 .3 .9 .3 .1 .3-1.4 .3 2.7 .3-2.6 .3 3.6 .3-1.6 .3-.8 .3 1.4 .3-1.4 .3-1.6 .3-.8 .3 2.3 .3-1.4 .3 3 .3 1.2 .3-6.6 .3 8.5 .3-2.7 .3 1.2 .3-3.5 .3 1.8 .3 .1 .3-2.9 .3 2.5 .3-.8 .3 1.1 .3 .3 .3-2 .3 1.4 .3-.1 .3-6 .3 5.5 .3-.5 .3-1.7 .3-2.3 .3 5.8 .3-1.5 .3 2.5 .3-3.4 .3 1.1 .3-.4 .3-3 .3 3.8 .3 1.4 .3 3.1 .3-6.9 .3 .3 .3 .4 .3-.6 .3 2 .3-1.5 .3 2.3 .3-7.2 .3 5.3 .3 1.7 .3 2.1 .3-2.9 .3-1.3 .3 1.3 .3-5.5 .3 4.2 .3 2.9 .3-1.8 .3 .8 .3-1.7 .3 3.2 .3-3.8 .3 .3 .3 5.7 .3 0 .3-.9 .3-4.7 .3 1.3 .3 1.2 .3-.7 .3-1.6 .3 .3 .3 4.1 .3-4.5 .3-1.9 .3 4.2 .3-3.8 .3 5.2 .3-5.6 .3 4.4 .3-1.9 .3 .3 .3 .7 .3-1.4 .3-2.8 .3 3.6 .3-3.2 .3 2.4 .3-6.9 .3 10.2 .3-6.2 .3 2.2 .3-4.1 .3 2.6 .3 2 .3-4.8 .3 6.3 .3-3.6 .3-1.8 .3 3.7 .3-.4 .3 2.5 .3-.8 .3-2.3 .3-.4 .3 .5 .3-4.9 .3 5.7 .3-5.9 .3 3.4 .3 .9 .3 0 .3 2.6 .3-2.8 .3-1.5 .3 4.8 .3-1.8 .3-1.3 .3 0 .3-.7 .3 4.8 .3 1.3 .3 .6 .3-2.2 .3-1.3 .3-.9 .3-2.4 .3 2.3 .3 .6 .3-.5 .3-5.8 .3 8.2 .3 .5 .3-4.4 .3 3.6 .3-6 .3 3.3 .3 0 .3 .5 .3-1.3 .3 2.7 .3-7.1 .3 5.8 .3-1 .3 5.1 .3-3.7 .3 4.5 .3-1.5 .3 3.3 .3-4.5 .3-.3 .3-1.5 .3 1.7 .3 3.9 .3-7.9 .3 3.8 .3 1.3 .3-3.4 .3 1.8 .3-3.3 .3 2.9 .3 .3 .3 .2 .3 .9 .3-6 .3 .5 .3-2.5 .3 10.2 .3-6.4 .3-1.5 .3 5.5 .3 .3 .3-2.2 .3 .5 .3-2.6 .3 3.4 .3 1.1 .3-.9 .3 4.2 .3-12.2 .3 5.1 .3 .2 .3 1.6 .3-2.6 .3 .2 .3 2.4 .3 .7 .3-3.6 .3 2.1 .3 .1 .3-.7 .3 3.4 .3-4.1 .3 3 .3-1.7 .3 .7 .3 .2 .3 3.3 .3-4.4 .3 .7 .3-1.1 .3 .9 .3-1.1 .3 2.7 .3-4.1 .3 4.8 .3 .1 .3-5.2 .3 .4 .3 3.7 .3-.8 .3 .6 .3 3.1 .3-5.6 .3 .5 .3 4.9 .3-1.9 .3 1.2 .3-5.4 .3 3.7 .3 1.5 .3 3.5 .3-2.6 .3 1.6 .3 .2 .3 .1 .3-1.9 .3 .6 .3 1.7 .3-1.4 .3-3 .3 3.3 .3-1.3 .3-2.9 .3 .5 .3 4.4 .3-4.2 .3-.9 .3-.1 .3-.5 .3 1.2 .3-.9 .3 1 .3-1 .3-5 .3 5.2 .3-.9 .3-2 .3 2.7 .3 4.1 .3-6.2 .3 2.9 .3 1.7 .3-2.2 .3 3.6 .3-2.1 .3-1.2 .3 .1 .3 .4 .3 2.4 .3-1.9 .3 2.1 .3-1.4 .3-2 .3 2.2 .3 1.7 .3-1.6 .3-2.2 .3 5.2 .3-2.7 .3 1.1 .3-.1 .3 1.7 .3 1.1 .3-4.4 .3 .9 .3-1.5 .3 4.6 .3-3.9 .3-1.8 .3 9.8 .3-8.6 .3-1.6 .3 5.5 .3-2.2 .3 2.2 .3 .6 .3-1.1 .3-1 .3-1.2 .3-.2 .3 4.4 .3-7.4 .3 4.3 .3-6.6 .3 4.3 .3-.8 .3 .9 .3 2.1 .3-1.4 .3 .2 .3-1.1 .3-.8 .3 .7 .3 1.9 .3 .9 .3-3.7 .3 2.8 .3 2.8 .3-3.6 .3 1.4 .3-.9 .3-1.1 .3-.9 .3 4.4 .3-3.3 .3 .9 .3 1.9 .3-2.6 .3-1.4 .3 2.9 .3-.3 .3-1 .3-1.8 .3-.4 .3 4 .3-.9 .3-1 .3 1.5 .3-2.6 .3 .9 .3-1.3 .3 1.2 .3-.8 .3 4.6 .3-3.9 .3 3.7 .3-2.5 .3 .9 .3-3 .3 2.8 .3-2.1 .3 3.2 .3-.4 .3 1 .3-2.1 .3 1 .3-.9 .3-1.1 .3 2.8 .3-2 .3 1.5 .3 2.4 .3-6.7 .3 .6 .3 3.1 .3 .1 .3 3.1 .3-3.9 .3 .7 .3-2.1 .3 3.3 .3-3.3 .3-1.5 .3 3.5 .3 .3 .3 2.5 .3-5.9 .3 2.5 .3 .5 .3 2.1 .3-2.9 .3-.6 .3 6.5 .3-3.2 .3-.3 .3-3.9 .3 3 .3 1.5 .3 0 .3-3 .3-1.8 .3 3.7 .3-3.3 .3 .1 .3-3 .3 5.1 .3-.1 .3 .2 .3-1.9 .3-1.6 .3-1.2 .3 3.9 .3 .9 .3-.8 .3 .8 .3 2.1 .3-5.4 .3 2.6 .3 0 .3 .4 .3 .4 .3-1.6 .3 4.1 .3-.2 .3-.1 .3-2.4 .3-1.9 .3-1.4 .3 2.1 .3 .2 .3 1.3 .3-5.2 .3 2.9 .3 2.1 .3-.1 .3-1.9 .3 .9 .3 1.3 .3-5.4 .3 6.3 .3 1.8 .3-7.1 .3 2.3 .3-2.1 .3-1.9 .3 6.7 .3-1.1 .3 1.9 .3-2.3 .3-2 .3-.9 .3 1.9 .3-2.4 .3-2.8 .3 8.3 .3-1.5 .3 2.7 .3-1.3 .3-3.6 .3-.5 .3 .6 .3 3.6 .3 .2 .3-1.9 .3-1.4 .3 1.3 .3-.4 .3-2.8 .3 1.3 .3 2.1 .3 .8 .3-1.7 .3-1.1 .3 2.7 .3-3.2 .3 3.3 .3-4.9 .3 2.5 .3-1.8 .3 1.1 .3 4 .3-2.9 .3-4.5 .3 6.8 .3-5.5 .3 4.9 .3-1.7 .3-.6 .3 1.6 .3 2.2 .3-3.6 .3 4.1 .3-2.2 .3-1.4 .3 3.1 .3-1 .3-.3 .3 4 .3-4.9 .3 1.2 .3-.7 .3 1.9 .3 .7 .3-2.5 .3-3.4 .3 5.9 .3-4.1 .3 .4 .3 3.7 .3 .5 .3-1.3 .3 2.3 .3-2 .3 1.7 .3 .5 .3-5.8 .3 5.5 .3-4.6 .3 2.7 .3-1.8 .3 .8 .3-.1 .3-2.5 .3 .5 .3-.4 .3-.7 .3-1.8 .3 3.3 .3-1.1 .3 4.5 .3-4.6 .3 3.8 .3-2.6 .3-1.5 .3 2 .3-.7 .3 2.3 .3-.7 .3 1 .3 .8 .3-2 .3-.3 .3 2.3 .3 .6 .3-4.3 .3 2 .3 2.3 .3-1.6 .3-3.3 .3-1.8 .3-.6 .3 3.7 .3-.5 .3-.1 .3 1 .3 3.3 .3-1.9 .3-2.2 .3 4.5 .3-.3 .3-1.2 .3 .3 .3-1 .3 2.3 .3-7.9 .3 4.5 .3 1.3 .3-.7 .3-1.2 .3 2.5 .3-2.7 .3-.3 .3-1.3 .3-.1 .3-.3 .3 3.3 .3 .6 .3-4.9 .3 2.2 .3-2.9 .3 5.5 .3-4 .3 1.1 .3-.1 .3 3 .3-.5 .3-1.9 .3-.8 .3 3.4 .3 .5 .3-4.1 .3 5 .3-1.3 .3 .7 .3-4.1 .3 2 .3 1.8 .3-1.7 .3-.6 .3 .3 .3 0 .3 .2 .3-1.7 .3 5.8 .3-4.4 .3-1.2 .3-1.1 .3 1 .3 1.7 .3-.3 .3-.3 .3 7.2 .3-8.7 .3 3 .3-2.4 .3 2.6 .3-.9 .3 3.8 .3-4.1 .3-.4 .3-.5 .3 3 .3-.1 .3-1.9 .3-1.4 .3-2.1 .3 1.8 .3 1.4 .3-3 .3 .5 .3-3.2 .3 5.2 .3-3.2 .3 .2 .3 5 .3-3.5 .3 1.2 .3 2.6 .3-5.3 .3 2.1 .3 3.7 .3-3 .3 .9 .3-2.4 .3 5.3 .3-3.6 .3 .6 .3-2.6 .3 .4 .3-.3 .3 1.6 .3 .3 .3 3.1 .3-3.6 .3 1.4 .3 1.2 .3-1.5 .3-2.4 .3 3.2 .3-3 .3 1.1 .3 .8 .3-1.2 .3-1.2 .3-.9 .3 2.8 .3-3.6 .3 6.7 .3-4.7 .3-.1 .3 2 .3-3.6 .3 6.1 .3-5.3 .3-.9 .3 4 .3 1 .3-.6 .3 .4 .3-2.2 .3 1.4 .3-2.6 .3 3.4 .3-.9 .3-3 .3 .7 .3 2.4 .3-1.2 .3 3.8 .3-5.6 .3 3.3 .3-.4 .3 2.3 .3 1.7 .3-5.1 .3 3 .3-.3 .3-5.2 .3 1.1 .3 1.7 .3 1.7 .3-4 .3 .6 .3 5.1 .3-4.2 .3 .6 .3-1.2 .3-1 .3 1 .3-.2 .3-1.7 .3 8.1 .3-8.3 .3 2.6 .3 1.7 .3-4.3 .3 2 .3-.9 .3 5.7 .3-5.2 .3-.3 .3 4.1 .3-.7 .3-2.5 .3-.5 .3 0 .3 .5 .3 0 .3 2.5 .3 .1 .3-1.7 .3-1.1 .3 3.1 .3-4.5 .3 2.8 .3 0 .3-1.1 .3 2.1 .3-2.8 .3 1.5 .3-.1 .3-.8 .3-1.1 .3 .1 .3 3 .3 .4 .3-1.3 .3-.2 .3 2.1 .3 .9 .3-1.3 .3-.2 .3-2.5 .3-1.9 .3 4.2 .3-4.1 .3 2.5 .3-1.1 .3 1.7 .3-2.3 .3 2.2 .3-.6 .3-3 .3 .3 .3 3.6 .3-2 .3 3 .3 .4 .3-1.6 .3 5.1 .3-5 .3-.7 .3 .4 .3 .5 .3-2.5 .3 3.1 .3 .1 .3-2 .3-5.9 .3 6 .3-2.3 .3 .8 .3 1.6 .3-.2 .3-2.6 .3 4.6 .3 .8 .3-2.6 .3-.3 .3 2.1 .3-1.1 .3-1.2 .3 .3 .3 .1 .3-1.3 .3 2.4 .3-1.5 .3 2.8 .3-3.3 .3-1.6 .3 5.9 .3-6.8 .3 5.1 .3 1.2 .3-2.1 .3 .4 .3-1.2 .3 .5 .3-1 .3 .6 .3-2.7 .3 2.4 .3-.3 .3 1.1 .3 5.7 .3-6.1 .3-3.1 .3-1.7 .3 4.2 .3-.1 .3 3.4 .3-2.9 .3-.1 .3-.4 .3-1.2 .3-.8 .3 .3 .3-.6 .3 1.2 .3 .8 .3-1.4 .3 1.5 .3 1.5 .3 2 .3-4.1 .3 5.3 .3-4.1 .3-2.2 .3 .1 .3 4.3 .3-2.4 .3 3.4 .3-5.3 .3 1.5 .3-.6 .3-.5 .3-.7 .3 4 .3 1 .3-.3 .3-2.4 .3-3.7 .3 2.8 .3-.3 .3 3.4 .3-2.2 .3 0 .3 1.6 .3-6 .3 3.8 .3 .7 .3-1.2 .3 .9 .3-1.7 .3 1.6 .3-1.1 .3-.4 .3-1.4 .3 3 .3 1.6 .3-3.6 .3 1.5 .3 1.1 .3 .7 .3-3.4 .3 .4 .3 2 .3 0 .3-1.6 .3-.3 .3 0 .3 3.5 .3-1.9 .3 3 .3-2.2 .3 0 .3-1.4 .3 0 .3 .3 .3 1.9 .3-3.5 .3 .5 .3 1.7 .3-5.4 .3 5 .3-3.6 .3 1.5 .3 1.9 .3-.8 .3-1.3 .3 .3 .3 .4 .3 3.2 .3-5.1 .3 5 .3-4 .3 .1 .3 1.1 .3 4.2 .3-1 .3-.6 .3-6 .3 2.8 .3 .9 .3-1.9 .3-3.5 .3 3.7 .3-2 .3 6.1 .3-5.4 .3 5.5 .3-7.2 .3 3.7 .3 4.5 .3-3.6 .3 3.2 .3-2.2 .3-.5 .3 1.6 .3 .9 .3 2.4 .3-5.3 .3 1.2 .3-.7 .3-.8 .3-.1 .3-3.2 .3 7.6 .3-2.5 .3-1.4 .3-.4 .3 1.9 .3 1 .3 .6 .3 .2 .3-2.3 .3 .2 .3 3.6 .3-2.3 .3-2.9 .3 4.5 .3-2.9 .3-.8 .3 3.2 .3-1.9 .3-1.9 .3-.2 .3 2.5 .3 4.3 .3-8 .3 4.5 .3-6.1 .3 3.5 .3 5 .3-6.6 .3 3.2 .3 0 .3 .6 .3 .3 .3-.4 .3 .3 .3-7.1 .3 2.8 .3-.9 .3 4.7 .3-3.3 .3-1.6 .3 1.8 .3-.1 .3 1.2 .3-1.2 .3-1.2 .3 1.3 .3-5.3 .3 9.1 .3-3.8 .3-2 .3 2 .3-1.2 .3-1.8 .3 8.4 .3-4.2 .3 0 .3-1.5 .3-1 .3 1.5 .3 3.3 .3-1.9 .3-.5 .3-4.3 .3 4.2 .3 .5 .3-3.3 .3-.8 .3 7.1 .3-5.4 .3-.2 .3 3 .3 2.7 .3-.1 .3-3.6 .3 2.1 .3 2 .3-5.5 .3-1 .3 .2 .3 1.2 .3 3.2 .3 1.2 .3-3.2 .3 2.3 .3-.9 .3-1.8 .3 1.7 .3-4.9 .3 3.6 .3 2.7 .3 0 .3-4.3 .3 3.3 .3 1.4 .3-1.3 .3-7.2 .3 3.4 .3 4.5 .3 .5 .3-4.9 .3 1 .3 4 .3-.2 .3-1.6 .3 1.1 .3 .2 .3 0 .3-2.1 .3-1.6 .3 3.6 .3 .3 .3-.1 .3-.7 .3 1.1 .3-2.3 .3 4.8 .3-3.1 .3 1.2 .3-2.6 .3-1.7 .3 1.7 .3 2.8 .3-3.5 .3-.8 .3 1.1 .3 3.3 .3-1.5 .3 .9 .3-6.6 .3 .8 .3 4.5 .3-.7 .3-.3 .3 .1 .3 .2 .3 2.1 .3-1.5 .3-3.2 .3 3 .3-2.4 .3 .7 .3 2 .3-.2 .3-.3 .3 .2 .3-3.2 .3 2.8 .3 1.4 .3-2.6 .3 .9 .3-2.2 .3 .6 .3 4.4 .3-5.2 .3 1.1 .3-4.6 .3 1 .3 6.7 .3-1 .3-3 .3 1.2 .3-1.4 .3 1.4 .3 1.7 .3-4.2 .3 2.7 .3 1.9 .3-4.1 .3 2.2 .3 1.4 .3-1.6 .3-.7 .3-.7 .3 .6 .3-.9 .3 1.5 .3 1.8 .3-3.3 .3 4.8 .3-6.2 .3 6.1 .3-3.4 .3-1.1 .3 6.4 .3-5.5 .3 .7 .3-.1 .3-2.3 .3 1.5 .3 .2 .3 .8 .3-3.1 .3 4.4 .3-5.2 .3 3.1 .3-4 .3 5.1 .3-2 .3-1.9 .3 6.3 .3-1.2 .3-1.4 .3 1 .3-1.9 .3 .1 .3 2.1 .3-2.8 .3 2.5 .3 .2 .3 .8 .3-1.1 .3-2.6 .3 1.2 .3 3.2 .3-3.7 .3 4.7 .3-4.5 .3-1.5 .3 4.6 .3-1.6 .3-1.3 .3 4.6 .3-5.7 .3-.9 .3-.2 .3 2.5 .3 0 .3-1 .3 .4 .3 1.9 .3-3.4 .3 2.9 .3-.6 .3 .1 .3-.1 .3-3.2 .3 1.2 .3 2.5 .3-.3 .3-.9 .3-3.3 .3 4.5 .3-1.4 .3-2.7 .3 7 .3-.7 .3-1.5 .3-.9 .3-2.9 .3 5.9 .3 0 .3-6.8 .3 2.7 .3 .5 .3-.6 .3-.4 .3-.1 .3 .9 .3 3.7 .3-4 .3 4.4 .3-3.2 .3 2.1 .3-2.2 .3-1.5 .3 1.5 .3 .2 .3 0 .3-.7 .3 1.1 .3-.2 .3-.6 .3 .9 .3-.1 .3-5.4 .3 3.8 .3 .2 .3-.2 .3 .1 .3 3.5 .3-3.1 .3 .9 .3 .3 .3-2.5 .3 3.2 .3-1.9 .3 4.4 .3-4.3 .3-.6 .3 3.5 .3-.5 .3-6.2 .3 4.1 .3 1.5 .3-.2 .3-3.7 .3 .7 .3 5.3 .3-5.8 .3 2.2 .3 .1 .3 0 .3-2.1 .3-.5 .3 1.1 .3 .3 .3 .1 .3 .9 .3-4.1 .3 .2 .3 4.6 .3-.7 .3-3.5 .3 .1 .3 6.9 .3-6.9 .3 2.2 .3 2.7 .3-4.3 .3 1 .3 .9 .3 3.7 .3-4.3 .3 2.6 .3 .5 .3-1 .3-3.6 .3 2.2 .3-2.2 .3 1.7 .3 2.5 .3-1.9 .3 2.4 .3-2.1 .3 2 .3 1.4 .3-6 .3 2.5 .3-.6 .3-1.6 .3-1.6 .3 5 .3-1.3 .3 .1 .3-.6 .3-.6 .3-.9 .3 .8 .3 1 .3 1.2 .3 0 .3-4.3 .3 2.1 .3-1.4 .3-.6 .3 4.4 .3-2.6 .3 3.9 .3-3.4 .3 4.3 .3-5.9 .3 .3 .3 1.5 .3-.1 .3 1.8 .3-5.7 .3 8.6 .3-3.3 .3 1.2 .3-3.4 .3 5.3 .3-6.9 .3 5.2 .3 2.4 .3-3.3 .3 .6 .3 .9 .3-1.1 .3-1.3 .3-4 .3-.8 .3 4 .3 1.1 .3 1.3 .3-2.2 .3-.5 .3 2.7 .3-1.5 .3-1.6 .3 1.1 .3-.9 .3-.6 .3 2.8 .3-2.8 .3 1.1 .3 2.2 .3-2.6 .3 2.7 .3 3.3 .3-8.1 .3 3.9 .3-2.5 .3 .9 .3-4.7 .3 5.3 .3-.5 .3-1.4 .3 4.5 .3-4.2 .3-.7 .3-1.3 .3 5.6 .3-2 .3-.6 .3 .6 .3-2.4 .3 1.8 .3 1.6 .3 .3 .3 .9 .3-2.3 .3 1.9 .3-2.5 .3 2 .3-1.2 .3 1.8 .3 .2 .3-1.5 .3 1.2 .3-2.3 .3-1.8 .3 5 .3-4 .3 1.5 .3-.6 .3-.7 .3 0 .3 2.1 .3-2.3 .3 2.8 .3-.8 .3-3 .3 2.1 .3 2.7 .3-4 .3 2.6 .3-4.7 .3 3.2 .3 4.6 .3-6.7 .3 2.3 .3 .2 .3 3.8 .3-5.4 .3 .1 .3 .1 .3 1.9 .3 .2 .3 2.2 .3-3.2 .3-3.5 .3 4 .3 1.9 .3 .6 .3-4.3"/>
<path class="ln" stroke="#8c564b" d="M70.8 497.6l.3 .5 .3 1.2 .3-1.7 .3 4.4 .3-3.4 .3-.7 .3 .4 .3-.1 .3 3.6 .3-2 .3-3.1 .3 2.3 .3 1.8 .3 .1 .3-2.5 .3 .6 .3-.4 .3 .6 .3-1.7 .3 2.5 .3 3.7 .3-2.3 .3-1.8 .3-2.3 .3 2.7 .3-.5 .3-.1 .3 .8 .3-.8 .3 2.9 .3 1.3 .3-3.7 .3 2.1 .3 1.9 .3-1 .3-.7 .3 .1 .3-.4 .3-1.4 .3-2.2 .3 2.6 .3 .8 .3 .7 .3-4.1 .3 2.3 .3 .4 .3 .9 .3-2.7 .3 0 .3 3.4 .3-2.5 .3-2.2 .3 1.3 .3 2.6 .3-.3 .3 .6 .3-.6 .3-.2 .3-2.8 .3 4.2 .3 .1 .3-3.6 .3 1.2 .3-1.3 .3-.4 .3 1 .3-.8 .3 1.3 .3 .9 .3 1.5 .3-4.5 .3 1.1 .3-1.1 .3 .2 .3 .5 .3-1.5 .3 3.2 .3 .3 .3-1.7 .3 2 .3-3.2 .3 4.7 .3 .8 .3-2.7 .3-1.2 .3 .1 .3-.4 .3 4.2 .3-2.4 .3 1.9 .3-.5 .3-3.3 .3 4.8 .3 1.1 .3-1.6 .3 .1 .3-4.2 .3 2.9 .3-1.4 .3-2 .3 2.8 .3-3.2 .3 3.8 .3-.6 .3-.6 .3-.5 .3-.5 .3 1.2 .3-2.1 .3 4.6 .3-.9 .3-2.3 .3-2.9 .3 6.4 .3-1.9 .3-.4 .3 1.6 .3-.4 .3-.1 .3-.2 .3-.5 .3 1.7 .3-.1 .3 2.2 .3-4.5 .3-1.3 .3 2.5 .3-.9 .3 1.9 .3-.3 .3 0 .3-3.8 .3 2.2 .3 .3 .3 .2 .3 1 .3 3 .3-1.3 .3-2.5 .3-2.5 .3 4.8 .3-3.6 .3 .8 .3-.5 .3 1.3 .3 2.6 .3-4.5 .3 3.2 .3-.1 .3-1.3 .3 1.6 .3-.8 .3-1.1 .3-3 .3 1.7 .3-.3 .3 2.8 .3-.6 .3-3.2 .3 2.4 .3 2.5 .3-3 .3-.5 .3-.1 .3-1.2 .3-.6 .3-.2 .3 0 .3 2.7 .3 .1 .3 .7 .3-2.5 .3-1.7 .3 3.9 .3 2.7 .3-4 .3 1.1 .3-.4 .3 .1 .3-1 .3 .1 .3-1.5 .3 0 .3 3.6 .3-1.5 .3-.8 .3 1.4 .3-2.9 .3 2 .3 .8 .3 .1 .3-1.2 .3 .2 .3-.2 .3 1.3 .3-3.9 .3 .8 .3 3.2 .3-4.5 .3 2.4 .3 1.2 .3 2.8 .3-7.6 .3 3.2 .3-1.3 .3 2.7 .3-.3 .3 2.7 .3-1.4 .3-3.3 .3 4.8 .3-3.3 .3-.9 .3 4.4 .3-1.2 .3-3.3 .3 1.8 .3-1.3 .3 1.1 .3-2.2 .3 4.7 .3-2.3 .3-1.7 .3-.7 .3 1.7 .3 .6 .3-1.4 .3 3.3 .3-1.3 .3 1.4 .3-4.7 .3 8.3 .3-2.1 .3-3.1 .3 2.4 .3-1.7 .3-4.6 .3 5.3 .3 1.4 .3-.3 .3-.5 .3-4.4 .3 1.6 .3 3.2 .3 1.7 .3-4.9 .3 3.1 .3-4.1 .3 2.2 .3-.1 .3 1.8 .3-1.9 .3-.5 .3-.8 .3 .7 .3-.7 .3 4.2 .3-.5 .3-2.5 .3-2.8 .3 3.1 .3-2.7 .3 5.9 .3-2.4 .3-3.7 .3 1.7 .3 1.3 .3-3.1 .3 2.1 .3-.2 .3 3.6 .3-4.1 .3 3.3 .3-1.1 .3-.8 .3-.9 .3 3.1 .3-4.7 .3 1.2 .3 1.9 .3 3.6 .3-3.9 .3 1.6 .3-5.2 .3 3.4 .3-1.3 .3-1.6 .3 1.2 .3 5.8 .3-5.7 .3 1.6 .3-.1 .3-.4 .3 .7 .3 .8 .3-.1 .3-2.4 .3 4.4 .3-3.3 .3 0 .3-.6 .3 4.3 .3-4.7 .3 1.3 .3-1.6 .3-.8 .3 1 .3-3 .3 4.1 .3-.9 .3 .2 .3-2.9 .3 4.6 .3-2 .3 .7 .3-1.8 .3 5.6 .3-6 .3 1.6 .3-.4 .3 1.6 .3 5 .3-5.8 .3-3.2 .3 4.5 .3 1.5 .3-4.1 .3 2.4 .3-.4 .3 2.2 .3-1.1 .3-5 .3 6.5 .3 0 .3-1.3 .3-1.6 .3 1.9 .3-3.6 .3 2.3 .3-.6 .3-1 .3 5.7 .3-8.6 .3 7.6 .3-2.9 .3 1.4 .3 .2 .3-1.4 .3 1.4 .3-.9 .3 .6 .3-2.3 .3-.1 .3 4.8 .3-2.8 .3-.8 .3-1.8 .3 2.8 .3-.1 .3 3.1 .3-1.9 .3-5 .3 4.3 .3-1.2 .3 .5 .3 .7 .3 .3 .3-3.1 .3 3.5 .3-.3 .3 .3 .3-1.1 .3-1.9 .3 2.9 .3-2.6 .3 1.5 .3-1.7 .3 1 .3 2.5 .3-1.8 .3-.4 .3 1.6 .3-3.5 .3 1.5 .3-2 .3 2.9 .3 .6 .3-5.6 .3 2.4 .3 .1 .3-.3 .3 2.7 .3-2.3 .3 1.9 .3-3.2 .3-.1 .3 2.8 .3-3.9 .3 2.5 .3-2.3 .3 1.1 .3 3.3 .3-3.1 .3 4.4 .3-6.3 .3 2.6 .3 .3 .3 .5 .3 2.3 .3-.3 .3-5.2 .3 5.2 .3-3.6 .3 .7 .3-1.8 .3 2.5 .3 .9 .3-2.1 .3 2.8 .3-1 .3-1.6 .3-1.1 .3 1.9 .3 1.1 .3 .5 .3-3.1 .3-.1 .3 3.5 .3-3.3 .3 1.3 .3 1.6 .3 .7 .3-4.3 .3 0 .3 .2 .3 .9 .3 .8 .3 2.3 .3-.8 .3 2.1 .3-3 .3-1.8 .3-1.3 .3 3.9 .3 0 .3-2.7 .3-.1 .3 .9 .3 .4 .3 1.3 .3-1 .3 .8 .3 1.6 .3-.6 .3 1.2 .3-.8 .3-1.1 .3-.6 .3 1.7 .3-2 .3 4.1 .3-2.5 .3-3.3 .3 6.2 .3-5 .3 1.6 .3 1.1 .3-1.1 .3 .8 .3-6.3 .3 2.1 .3-.3 .3 4.6 .3-3.3 .3-1.2 .3 2 .3-3.8 .3 3.4 .3 .3 .3-2.2 .3 3.5 .3-4 .3 1.3 .3-4.2 .3 5.1 .3-.9 .3 1.1 .3-1.4 .3 2.7 .3-.8 .3 .3 .3 .1 .3-1.6 .3 1.3 .3 .5 .3-1.9 .3-1.7 .3 4.7 .3-1.8 .3 .7 .3 1 .3-3.5 .3 2.7 .3-2 .3 4.2 .3-.7 .3-2.3 .3 3.5 .3-2.2 .3-2 .3 2.8 .3-5.7 .3 3.3 .3 3.5 .3-2.6 .3 1.7 .3-3.4 .3 2.3 .3-.6 .3 2 .3-1.7 .3 1.3 .3 6.4 .3-3.9 .3-3.4 .3 1 .3 .3 .3 3.2 .3-6 .3 2.7 .3 .6 .3-2.5 .3 1.1 .3-.9 .3-2.4 .3 3.3 .3-.1 .3-1.4 .3 .8 .3-.5 .3 1.1 .3 .7 .3-.3 .3 .3 .3 .5 .3-1.8 .3 3.9 .3-2.7 .3 .6 .3-.6 .3 1.1 .3-.2 .3-2.5 .3 3.4 .3-2.3 .3 .3 .3 1.5 .3 2 .3-3.1 .3-1 .3 1.4 .3 2.4 .3-3.7 .3 1.3 .3-2.5 .3 1.7 .3-1.3 .3-.5 .3 .6 .3 .9 .3-3.6 .3 3.2 .3-5.1 .3 2.4 .3 2 .3 2.3 .3-4.2 .3 2.2 .3 1 .3 .3 .3-6.8 .3 4.4 .3 2.1 .3-2.1 .3 5 .3-2.2 .3 3.3 .3-3.9 .3 2.4 .3-6.2 .3 2.8 .3-.1 .3 1.1 .3 .2 .3 1.5 .3-3.3 .3-.6 .3 2.3 .3-5.4 .3 5.8 .3-1.5 .3-4.5 .3 3.4 .3-1.6 .3-.3 .3 2 .3-1.7 .3 3 .3-1.6 .3-1.6 .3 2.6 .3-.6 .3-1.9 .3 2.8 .3-1.7 .3 2.5 .3-2.9 .3 2.8 .3-3.2 .3 .9 .3 1.6 .3-3.2 .3 2 .3 .1 .3 1.1 .3-1.8 .3 2.7 .3-2.7 .3 1.9 .3-3.9 .3 4.5 .3-4.5 .3 4.2 .3-2.6 .3 0 .3 .4 .3-1.2 .3 5.3 .3-4 .3 1.3 .3 2.5 .3-2.3 .3-1.6 .3 2.8 .3-3.5 .3 2.2 .3 2.6 .3 .6 .3-4.5 .3 2.6 .3 .1 .3-1.5 .3 1.7 .3-3.7 .3 1.7 .3 0 .3 .9 .3-.6 .3 .1 .3-2.4 .3 4.3 .3-1.7 .3-1.4 .3 1.5 .3-1.6 .3 6.7 .3-6.6 .3-1.1 .3 1.6 .3 2.4 .3-1.8 .3 1.3 .3 1.5 .3-2.7 .3 0 .3-.7 .3 .3 .3 .3 .3 .8 .3-1.5 .3-1 .3-.9 .3 3.1 .3-.9 .3-4.4 .3 5.7 .3-4 .3-.4 .3 2.7 .3-.6 .3-1.7 .3-2.1 .3 7.8 .3-5.2 .3 2.2 .3-.2 .3-1.4 .3 1.4 .3-.8 .3-2.9 .3 5.1 .3-.9 .3-2.6 .3 3 .3 .3 .3 2.3 .3-.2 .3-3.3 .3 2.5 .3-3.6 .3 3.1 .3-3.8 .3 3.7 .3-1.2 .3 .6 .3 .4 .3-2.9 .3 5.3 .3-2.7 .3 .5 .3-.1 .3-1.3 .3 .4 .3 .3 .3 2.1 .3-3.5 .3 1.4 .3-2.3 .3-3.7 .3 1.8 .3-1.6 .3 5.1 .3-.9 .3-1.5 .3 1.9 .3-3.3 .3-.2 .3 4.1 .3 1.3 .3-2.1 .3 .7 .3-1.8 .3 .9 .3 4.1 .3-4.9 .3 2.1 .3 3 .3-4.8 .3 1.6 .3 .7 .3-3.2 .3-2.3 .3 3.8 .3 2.2 .3-1.2 .3-1.3 .3 .9 .3-3.7 .3 8.1 .3-6.5 .3 .4 .3 1.8 .3 1.3 .3 1.9 .3-2.4 .3-.1 .3 1.4 .3 1.7 .3-2.5 .3 1 .3-.3 .3-4.7 .3 2 .3-2 .3 4 .3 .1 .3-.6 .3 .4 .3 1.2 .3-1.5 .3-1.7 .3-1.3 .3 5.7 .3-4.4 .3-1 .3 2.1 .3 5.2 .3-3.2 .3-.4 .3-2.6 .3 2.8 .3-3.1 .3 2.1 .3 3.6 .3-3.8 .3-.5 .3 2.2 .3-1.3 .3-2.6 .3 2.9 .3-.8 .3 1.6 .3-2.2 .3 1.6 .3 .7 .3-1.5 .3 1.5 .3 1.4 .3-5.8 .3 2.3 .3 4.8 .3-5.3 .3-1.4 .3 2.4 .3 2.2 .3-2.9 .3 2.2 .3 .6 .3-2.8 .3 .9 .3 1.2 .3-4.1 .3 3.3 .3 2.5 .3-2.3 .3-2.5 .3 2.7 .3 1.5 .3-1.2 .3-.9 .3-3.4 .3 5 .3-.6 .3-3.1 .3 .4 .3 .8 .3 2.2 .3 2.2 .3-5.8 .3-.3 .3 .6 .3 2.9 .3-4.9 .3 1.3 .3-.1 .3 2.2 .3-3.3 .3 4.7 .3-2.9 .3-1.6 .3 3.1 .3-5.2 .3 5.3 .3-.9 .3 .1 .3-1.2 .3 .2 .3 3.8 .3-6.5 .3 2 .3-.3 .3 3 .3-6.7 .3 3 .3 1.7 .3 1.8 .3-4.1 .3 4.2 .3-.7 .3-.7 .3 1.4 .3-3.6 .3 4.4 .3 .2 .3-2.4 .3 0 .3 1.2 .3-2.4 .3-1.7 .3 .6 .3 1.2 .3 3.3 .3-2.9 .3-.6 .3 1.3 .3 2.7 .3-2.5 .3-3.2 .3 2.6 .3 .6 .3-4.5 .3 4.4 .3-1.5 .3 2.8 .3 .6 .3-3.6 .3 2.2 .3-3.2 .3 3.9 .3-1.3 .3-1.8 .3 2.4 .3 .1 .3 .1 .3-.8 .3 1.8 .3 1.4 .3-6.7 .3 3 .3-2.5 .3 1.3 .3 2 .3 .3 .3-1 .3-1.6 .3 1.3 .3-1.4 .3 .1 .3 1.9 .3-.2 .3 2.6 .3-3.8 .3 1.6 .3-4.2 .3 2.1 .3 1.1 .3 2 .3 2.2 .3-4.4 .3-.1 .3 2 .3-3.2 .3 5.2 .3 .3 .3-5 .3 3.8 .3-.9 .3-1.8 .3 1 .3 1.9 .3-3.3 .3-.3 .3 2.5 .3-4.6 .3-.4 .3 4.9 .3-.8 .3-1.9 .3 2.4 .3 1.7 .3-3.3 .3 1 .3-.4 .3-1.4 .3-2.3 .3 5.5 .3-2.3 .3-.2 .3 2.9 .3 .2 .3-2.3 .3-1.3 .3 4.1 .3-2.5 .3-.5 .3-2.2 .3 3 .3-3 .3 2.2 .3-3.5 .3 4.3 .3 1.1 .3-2.8 .3 3.6 .3-2.1 .3 .8 .3-.4 .3-1.7 .3 1.5 .3-3.8 .3 1.7 .3 1.3 .3 1.9 .3-1.4 .3-1.6 .3 3.2 .3-1.1 .3 .1 .3-.9 .3 1.2 .3-1.1 .3 .5 .3-.2 .3 2.4 .3-.7 .3-4.3 .3 4.7 .3-4 .3-2.6 .3 2.6 .3 .1 .3 1.1 .3-2 .3-.9 .3 3.5 .3-.7 .3 .9 .3-3.2 .3 .8 .3 .4 .3-.9 .3-2 .3 2 .3 3.3 .3-2.4 .3 4.2 .3-4 .3 4 .3-3.4 .3 1.4 .3 .8 .3-2.7 .3-.7 .3-.3 .3 2.3 .3-.2 .3 1.5 .3-2.3 .3 2.4 .3-1.9 .3 2 .3-3 .3-.3 .3 4 .3-3.1 .3 2 .3-2 .3 3.2 .3-4.3 .3 1.5 .3 2.2 .3-3.6 .3-2.3 .3 1.8 .3 4.8 .3-2.8 .3-.6 .3 .8 .3-1.6 .3 1.2 .3-2.2 .3 4.7 .3-3.5 .3 4.8 .3-1.9 .3 .5 .3 .1 .3 2 .3-2.3 .3 1 .3-.1 .3-.1 .3-1.2 .3 2.8 .3 0 .3-2.9 .3 2.8 .3 .7 .3-5.5 .3 3.1 .3 .4 .3-2.8 .3 1.9 .3-5.3 .3 4.5 .3 3.7 .3-5 .3 3.1 .3-3.9 .3 4.1 .3 .1 .3 2.3 .3-1.8 .3-2.9 .3 2.3 .3-1.1 .3 .8 .3 .1 .3 .2 .3 .8 .3-2.3 .3 .4 .3 4.6 .3-2.1 .3-.9 .3-5.3 .3 2.6 .3-1.1 .3 4.2 .3 .5 .3-.3 .3 1.7 .3-1.7 .3-.4 .3-.7 .3-1.8 .3 3.1 .3 .2 .3 1.2 .3-3 .3 1.2 .3 1.8 .3-1.8 .3-.4 .3 1.1 .3-2.2 .3-3.2 .3 3 .3 2.6 .3-3 .3 2.3 .3-1.3 .3-1.6 .3 3.5 .3-.2 .3-3.7 .3 4.4 .3-1.9 .3-4.7 .3 3.5 .3 1.2 .3 .8 .3 .3 .3-.6 .3-2.1 .3 4.3 .3-1.9 .3-1.9 .3 .3 .3 .3 .3-.8 .3-4.2 .3 3.4 .3 1.1 .3-1.7 .3 2.7 .3-1.1 .3 .6 .3-2.3 .3-2.2 .3-1.4 .3 4.9 .3-.8 .3-1.7 .3 2.1 .3-1.4 .3 2 .3-1.5 .3 0 .3 2.4 .3 .1 .3-.9 .3 .9 .3-.4 .3-2.4 .3 1.7 .3-2.6 .3 1.1 .3 2.8 .3-2.1 .3-.9 .3 3.6 .3-2.4 .3-1.3 .3 .3 .3 2.1 .3-1.3 .3-3 .3 7.4 .3-7.2 .3 2.2 .3-3 .3 1.6 .3 1.4 .3 .8 .3-3.5 .3-.3 .3 1.3 .3-1.9 .3-4.7 .3 8.8 .3-.9 .3-2.4 .3 1.9 .3-3.9 .3 2.4 .3 1 .3 .3 .3-.5 .3 3.6 .3-4.8 .3 .6 .3 2.6 .3-2.7 .3-.9 .3 .5 .3 .4 .3 2.2 .3 1.2 .3-7.2 .3 4.3 .3 1.4 .3-1.9 .3 3.7 .3-2.4 .3 1.6 .3-3 .3-1.1 .3 3.5 .3 1.4 .3-1.2 .3-3.3 .3 3.1 .3-.1 .3-.2 .3-3.1 .3 6.4 .3-6.2 .3 1.6 .3 .1 .3-.7 .3-.2 .3 1.1 .3-.1 .3-4 .3 6.9 .3-2.7 .3 1.7 .3-1 .3 1.1 .3-.8 .3 3.2 .3 .3 .3-9.4 .3 6.7 .3-.8 .3 2 .3-2.6 .3-1.2 .3 3.3 .3-2.6 .3-.6 .3-.6 .3 .4 .3 2.7 .3-1.5 .3 1.7 .3 5.8 .3-2.7 .3-6 .3 2.3 .3 1.3 .3-2.5 .3 3.3 .3-2.8 .3 4 .3-3.4 .3 .2 .3-.4 .3 1.8 .3-1.9 .3-.5 .3-.7 .3-1.8 .3 4.4 .3-1.6 .3-.3 .3 2.8 .3 0 .3 0 .3-2.3 .3-1.3 .3 .9 .3 5.2 .3-2.8 .3-2.9 .3 2.6 .3-1.8 .3-1.8 .3-.9 .3 2.5 .3 0 .3 1.4 .3-3.9 .3 1.6 .3 1.9 .3 .7 .3-.7 .3-2 .3 1.5 .3 1.9 .3-3.2 .3 3.4 .3-1.8 .3 3.7 .3-1 .3-2.7 .3-3.3 .3 2.7 .3-1.6 .3 1.8 .3-.5 .3-1.9 .3 5.7 .3 1 .3-2.7 .3-.5 .3 .2 .3-3.5 .3 3.4 .3 .7 .3 .7 .3 2.1 .3-4.4 .3-1.5 .3 5.4 .3 .1 .3-5 .3 2.9 .3-2.3 .3 1.2 .3 1.6 .3-1.9 .3-1.1 .3-.1 .3 3 .3 2.8 .3-7.2 .3 3.8 .3-2.1 .3 2.4 .3-1.1 .3-3.7 .3 4.5 .3-.6 .3-1 .3 3.3 .3-2 .3-5.7 .3 3.2 .3 3 .3-4 .3 1.5 .3-3.9 .3 4.1 .3 .3 .3 1.4 .3 .2 .3-5.7 .3 1.1 .3 1.5 .3 .8 .3-2 .3 1.4 .3 1.8 .3-1.6 .3 .3 .3-1.9 .3 3.6 .3-1.3 .3-.9 .3 3 .3-4.3 .3 5.8 .3-4.1 .3 3 .3-4 .3 .8 .3-.9 .3 2 .3-1.5 .3-2.8 .3 2.5 .3 3.5 .3 .7 .3-4.2 .3-3.1 .3 6 .3-4.6 .3 .9 .3 1.5 .3-.3 .3 .8 .3-2.1 .3 2 .3 .8 .3-3.4 .3 1.2 .3 1.8 .3-5.7 .3 8.4 .3-3.1 .3-.6 .3 2.9 .3-5.7 .3 .1 .3 2.3 .3 1.7 .3-4.3 .3 .8 .3 1.7 .3-.8 .3 2.9 .3-1.6 .3 .8 .3-2.5 .3 4.5 .3-1.3 .3-3.4 .3-2.4 .3 1.7 .3 3.6 .3-.6 .3-.5 .3-.5 .3 2.5 .3-.9 .3 .2 .3-.8 .3-.7 .3-1.2 .3 2.4 .3-.1 .3 1.7 .3-3.2 .3-.2 .3 1.3 .3-2.4 .3 4.9 .3-1.8 .3 3 .3-1.3 .3 .2 .3-2.3 .3 .5 .3 2.6 .3 1.5 .3-3.4 .3-5.1 .3 3.9 .3 .6 .3 .6 .3 1 .3-5.6 .3 5.2 .3-2 .3 .5 .3-1.9 .3 2.2 .3-.6 .3-2 .3 .3 .3 2.1 .3 .3 .3 1.6 .3-3.7 .3 4.9 .3 1.7 .3-.3 .3-1.4 .3-1 .3-.4 .3-.7 .3-.2 .3 .4 .3 1.5 .3 .4 .3-1.6 .3 3.5 .3-4.6 .3 4.2 .3-2.3 .3 3.4 .3-6.6 .3 2.6 .3 1.1 .3 3.9 .3-7.6 .3 2.7 .3 2.6 .3-3 .3 1.7 .3-3.5 .3 .8 .3-2.9 .3 4.7 .3-3.5 .3 2.9 .3 .5 .3 2 .3-4.6 .3 2.1 .3-.7 .3-2.2 .3-1.6 .3 6 .3-1.9 .3-1 .3-1.4 .3-.8 .3-1.2 .3 2.6 .3 5 .3-3.2 .3-.2 .3 .2 .3-2.4 .3 3.3 .3-1.5 .3 .6 .3-.8 .3-1.6 .3 1.9 .3-.7 .3-.7 .3-3.4 .3 4.1 .3-2.9 .3-.2 .3 .7 .3 2.9 .3-2.3 .3-.2 .3-.7 .3 2.8 .3-1.8 .3-1.6 .3 .8 .3-2.3 .3 3 .3-1.4 .3-.7 .3 5.6 .3 1 .3-4.9 .3-1 .3 1.2 .3 .6 .3 .1 .3 .6 .3 .9 .3-.3 .3-.5 .3-1.3 .3 1.1 .3 .5 .3-1.2 .3 2.7 .3-1.1 .3-1.9 .3 2.7 .3-5.2 .3 1.5 .3-.6 .3 3 .3-1.5 .3-1 .3 1.3 .3 4 .3-.9 .3-5.8 .3 2.7 .3 4.1 .3-1.4 .3-2.2 .3 1 .3 .5 .3-.9 .3-3.9 .3 1.4 .3 3.6 .3 2.6 .3-3.3 .3 .2 .3 .2 .3-2.6 .3 3.3 .3-.1 .3-4.8 .3 4.3 .3 5.4 .3-6 .3 1.8 .3-2.7 .3 3.8 .3-.2 .3-2.9 .3 .4 .3-.6 .3-.6 .3 3.1 .3 .3 .3-.2 .3-1.3 .3-1.6 .3 2.1 .3-.8 .3-.9 .3-1.8 .3-2.1 .3 6.4 .3-5.8 .3 1 .3 3 .3-1.2 .3-2.8 .3 3.9 .3 1.3 .3-2.9 .3 1 .3 1.1 .3-.8 .3-1.7 .3-3.7 .3 1.6 .3 1.5 .3 3.4 .3-2.2 .3 2.4 .3-1.6 .3-5.5 .3 2.4 .3 1.9 .3 1.4 .3-2.6 .3 .9 .3 2.5 .3 2.5 .3-4 .3-.8 .3 .1 .3-1.8 .3 5.1 .3-8.3 .3 5.1 .3-2.1 .3 2.4 .3 2.2 .3-4.6 .3 2.3 .3-.7 .3-.8 .3 .4 .3 .3 .3 .7 .3 1.4 .3-2 .3 3.6 .3-5 .3 1.9 .3 3.5 .3-5.8 .3-.6 .3-2.1 .3 5.7 .3-3.2 .3 3.7 .3-2.7 .3 2.2 .3-2.5 .3 2.3 .3 1.1 .3-2.1 .3-1.9 .3 3 .3-.4 .3-.8 .3 1.1 .3 1.7 .3-1.8 .3 2 .3-2.1 .3 3.6 .3-1.9 .3-1.9 .3 1.4 .3-.6 .3-2.6 .3 2.5 .3 1.9 .3-1.8 .3 4.5 .3-1.7 .3-1.5 .3-3.4 .3-.6 .3 .7 .3 3.3 .3-.8 .3 2.8 .3-2.1 .3-3.6 .3-.3 .3 1.7 .3 1.9 .3 .5 .3-2 .3 3.3 .3-5.8 .3 2.2 .3-.9 .3-1.3 .3 3.1 .3 1.8 .3-4.9 .3 .4 .3 4.8 .3-.8 .3-5.6 .3 3.4 .3-.5 .3-.8 .3 1.8 .3-2.1 .3 1 .3-3.5 .3 1.8 .3 5 .3-1.2 .3-2.4 .3-3.1 .3 .2"/>
</g>
<line class="tk" x1="40.64" y1="443.5" x2="45.50" y2="443.5"/>
<text class="t" x="13.14" y="448.00" textLength="21.42" lengthAdjust="spacingAndGlyphs">0.4</text>
<line class="tk" x1="40.64" y1="472.5" x2="45.50" y2="472.5"/>
<text class="t" x="13.14" y="477.00" textLength="21.12" lengthAdjust="spacingAndGlyphs">0.2</text>
<line class="tk" x1="40.64" y1="501.5" x2="45.50" y2="501.5"/>
<text class="t" x="13.14" y="506.00" textLength="21.44" lengthAdjust="spacingAndGlyphs">0.0</text>
<line class="tk" x1="40.64" y1="530.5" x2="45.50" y2="530.5"/>
<text class="t" x="1.85" y="535.00" textLength="32.49" lengthAdjust="spacingAndGlyphs">−0.2</text>
<line class="tk" x1="40.64" y1="560.5" x2="45.50" y2="560.5"/>
<text class="t" x="1.84" y="565.00" textLength="32.77" lengthAdjust="spacingAndGlyphs">−0.4</text>
<line class="tk" x1="40.64" y1="589.5" x2="45.50" y2="589.5"/>
<text class="t" x="1.84" y="594.00" textLength="32.95" lengthAdjust="spacingAndGlyphs">−0.6</text>
<line class="tk" x1="67.5" y1="609.5" x2="67.5" y2="614.36"/>
<text class="t" x="63.44" y="630.40" textLength="8.13" lengthAdjust="spacingAndGlyphs">0</text>
<line class="tk" x1="169.5" y1="609.5" x2="169.5" y2="614.36"/>
<text class="t" x="156.47" y="630.40" textLength="25.96" lengthAdjust="spacingAndGlyphs">200</text>
<line class="tk" x1="271.5" y1="609.5" x2="271.5" y2="614.36"/>
<text class="t" x="258.56" y="630.40" textLength="25.88" lengthAdjust="spacingAndGlyphs">400</text>
<line class="tk" x1="373.5" y1="609.5" x2="373.5" y2="614.36"/>
<text class="t" x="360.44" y="630.40" textLength="26.00" lengthAdjust="spacingAndGlyphs">600</text>
<line class="tk" x1="475.5" y1="609.5" x2="475.5" y2="614.36"/>
<text class="t" x="462.52" y="630.40" textLength="25.91" lengthAdjust="spacingAndGlyphs">800</text>
<line class="tk" x1="577.5" y1="609.5" x2="577.5" y2="614.36"/>
<text class="t" x="560.18" y="630.40" textLength="34.71" lengthAdjust="spacingAndGlyphs">1000</text>
<rect class="lg" x="52.4" y="447.4" width="149.0" height="128.4" rx="2.8" ry="2.8"/>
<line x1="58.0" y1="458.00" x2="85.0" y2="458.00" stroke="#1f77b4" stroke-width="2.08" stroke-linecap="square"/>
<text class="t" x="95.59" y="462.80" textLength="99.55" lengthAdjust="spacingAndGlyphs">Uncorrected X</text>
<line x1="58.0" y1="479.00" x2="85.0" y2="479.00" stroke="#ff7f0e" stroke-width="2.08" stroke-linecap="square"/>
<text class="t" x="95.60" y="483.80" textLength="99.03" lengthAdjust="spacingAndGlyphs">Uncorrected Y</text>
<line x1="58.0" y1="500.00" x2="85.0" y2="500.00" stroke="#2ca02c" stroke-width="2.08" stroke-linecap="square"/>
<text class="t" x="95.58" y="504.80" textLength="99.50" lengthAdjust="spacingAndGlyphs">Uncorrected Z</text>
<line x1="58.0" y1="521.00" x2="85.0" y2="521.00" stroke="#d62728" stroke-width="2.08" stroke-linecap="square"/>
<text class="t" x="95.92" y="525.80" textLength="82.73" lengthAdjust="spacingAndGlyphs">Corrected X</text>
<line x1="58.0" y1="542.00" x2="85.0" y2="542.00" stroke="#9467bd" stroke-width="2.08" stroke-linecap="square"/>
<text class="t" x="95.93" y="546.80" textLength="82.02" lengthAdjust="spacingAndGlyphs">Corrected Y</text>
<line x1="58.0" y1="563.00" x2="85.0" y2="563.00" stroke="#8c564b" stroke-width="2.08" stroke-linecap="square"/>
<text class="t" x="95.92" y="567.80" textLength="82.58" lengthAdjust="spacingAndGlyphs">Corrected Z</text>
<path class="ln" stroke="#000" clip-path="url(#c2)" d="M70.8 601.1 L71.3 600.6 L71.8 600.1 L72.3 599.6 L72.8 599.2 L73.3 598.7 L73.8 598.2 L74.3 597.7 L74.8 597.2 L75.3 596.7 L75.8 596.3 L76.3 595.8 L76.8 595.3 L77.3 594.8 L77.8 594.3 L78.3 593.9 L78.8 593.4 L79.3 592.9 L79.8 592.4 L80.3 592.0 L80.8 591.5 L82.8 589.6 L84.8 587.8 L86.8 586.0 L88.8 584.2 L90.8 582.5 L92.8 580.7 L94.8 579.0 L96.8 577.4 L98.8 575.7 L100.8 574.1 L102.8 572.5 L104.8 571.0 L106.8 569.5 L108.8 568.0 L110.8 566.5 L112.8 565.1 L114.8 563.7 L116.8 562.4 L118.8 561.0 L120.8 559.7 L122.8 558.5 L124.8 557.3 L126.8 556.0 L128.8 554.9 L130.8 553.7 L132.8 552.6 L134.8 551.5 L136.8 550.4 L138.8 549.3 L140.8 548.3 L142.8 547.2 L144.8 546.2 L146.8 545.2 L148.8 544.3 L150.8 543.3 L152.8 542.4 L154.8 541.4 L156.8 540.5 L158.8 539.6 L160.8 538.7 L162.8 537.8 L164.8 537.0 L166.8 536.1 L168.8 535.2 L170.8 534.4 L172.8 533.6 L174.8 532.7 L176.8 531.9 L178.8 531.1 L180.8 530.3 L182.8 529.5 L184.8 528.7 L186.8 528.0 L188.8 527.2 L190.8 526.4 L192.8 525.7 L194.8 524.9 L196.8 524.2 L198.8 523.5 L200.8 522.7 L202.8 522.0 L204.8 521.3 L206.8 520.6 L208.8 519.9 L210.8 519.2 L212.8 518.5 L214.8 517.8 L216.8 517.1 L218.8 516.5 L220.8 515.8 L222.8 515.1 L224.8 514.5 L226.8 513.8 L228.8 513.2 L230.8 512.5 L232.8 511.9 L234.8 511.2 L236.8 510.6 L238.8 510.0 L240.8 509.3 L242.8 508.7 L244.8 508.1 L246.8 507.5 L248.8 506.8 L250.8 506.2 L252.8 505.6 L254.8 505.0 L256.8 504.4 L258.8 503.8 L260.8 503.2 L262.8 502.6 L264.8 502.0 L266.8 501.5 L268.8 500.9 L270.8 500.3 L272.8 499.7 L274.8 499.2 L276.8 498.6 L278.8 498.1 L280.8 497.5 L282.8 497.0 L284.8 496.4 L286.8 495.9 L288.8 495.3 L290.8 494.8 L292.8 494.3 L294.8 493.7 L296.8 493.2 L298.8 492.7 L300.8 492.2 L302.8 491.7 L304.8 491.2 L306.8 490.7 L308.8 490.2 L310.8 489.7 L312.8 489.2 L314.8 488.7 L316.8 488.3 L318.8 487.8 L320.8 487.3 L322.8 486.9 L324.8 486.4 L326.8 485.9 L328.8 485.5 L330.8 485.0 L332.8 484.6 L334.8 484.2 L336.8 483.7 L338.8 483.3 L340.8 482.9 L342.8 482.4 L344.8 482.0 L346.8 481.6 L348.8 481.2 L350.8 480.8 L352.8 480.4 L354.8 479.9 L356.8 479.5 L358.8 479.1 L360.8 478.7 L362.8 478.4 L364.8 478.0 L366.8 477.6 L368.8 477.2 L370.8 476.8 L372.8 476.4 L374.8 476.0 L376.8 475.7 L378.8 475.3 L380.8 474.9 L382.8 474.5 L384.8 474.2 L386.8 473.8 L388.8 473.4 L390.8 473.1 L392.8 472.7 L394.8 472.3 L396.8 472.0 L398.8 471.6 L400.8 471.3 L402.8 470.9 L404.8 470.5 L406.8 470.2 L408.8 469.8 L410.8 469.5 L412.8 469.1 L414.8 468.8 L416.8 468.4 L418.8 468.1 L420.8 467.7 L422.8 467.4 L424.8 467.0 L426.8 466.7 L428.8 466.3 L430.8 466.0 L432.8 465.6 L434.8 465.3 L436.8 464.9 L438.8 464.6 L440.8 464.2 L442.8 463.9 L444.8 463.5 L446.8 463.2 L448.8 462.8 L450.8 462.5 L452.8 462.1 L454.8 461.8 L456.8 461.4 L458.8 461.1 L460.8 460.8 L462.8 460.4 L464.8 460.1 L466.8 459.8 L468.8 459.5 L470.8 459.1 L472.8 458.8 L474.8 458.5 L476.8 458.2 L478.8 457.9 L480.8 457.6 L482.8 457.3 L484.8 457.0 L486.8 456.7 L488.8 456.4 L490.8 456.1 L492.8 455.9 L494.8 455.6 L496.8 455.3 L498.8 455.1 L500.8 454.8 L502.8 454.6 L504.8 454.3 L506.8 454.1 L508.8 453.8 L510.8 453.6 L512.8 453.4 L514.8 453.2 L516.8 453.0 L518.8 452.8 L520.8 452.6 L522.8 452.4 L524.8 452.3 L526.8 452.1 L528.8 451.9 L530.8 451.8 L532.8 451.6 L534.8 451.5 L536.8 451.3 L538.8 451.2 L540.8 451.0 L542.8 450.9 L544.8 450.8 L546.8 450.6 L548.8 450.5 L550.8 450.3 L552.8 450.2 L554.8 450.0 L556.8 449.9 L558.8 449.7 L560.8 449.6 L562.8 449.4 L564.8 449.2 L566.8 449.1 L568.8 448.9 L570.8 448.7 L572.8 448.5 L574.8 448.3 L576.8 448.1 L578.8 447.9 L580.8 447.6 L582.8 447.4 L584.8 447.1 L586.8 446.9 L588.8 446.6 L589.8 446.5"/>
<line class="tk" x1="615.5" y1="454.5" x2="620.36" y2="454.5"/>
<text class="t" x="625.47" y="459.70" textLength="16.91" lengthAdjust="spacingAndGlyphs">50</text>
<line class="tk" x1="615.5" y1="485.5" x2="620.36" y2="485.5"/>
<text class="t" x="625.31" y="490.70" textLength="17.07" lengthAdjust="spacingAndGlyphs">40</text>
<line class="tk" x1="615.5" y1="517.5" x2="620.36" y2="517.5"/>
<text class="t" x="625.47" y="522.70" textLength="16.90" lengthAdjust="spacingAndGlyphs">30</text>
<line class="tk" x1="615.5" y1="549.5" x2="620.36" y2="549.5"/>
<text class="t" x="625.24" y="554.70" textLength="17.15" lengthAdjust="spacingAndGlyphs">20</text>
<line class="tk" x1="615.5" y1="580.5" x2="620.36" y2="580.5"/>
<text class="t" x="625.38" y="585.70" textLength="17.00" lengthAdjust="spacingAndGlyphs">10</text>
<rect class="fr" x="45.5" y="440.5" width="570.0" height="169.0"/>
<rect class="lg" x="447.6" y="447.4" width="160.8" height="24.8" rx="2.8" ry="2.8"/>
<line x1="453.1" y1="458.00" x2="480.0" y2="458.00" stroke="#000" stroke-width="2.08" stroke-linecap="square"/>
<text class="t" x="491.64" y="462.80" textLength="111.61" lengthAdjust="spacingAndGlyphs">Temperature(C)</text>
</g>
</svg>
</body></html>
